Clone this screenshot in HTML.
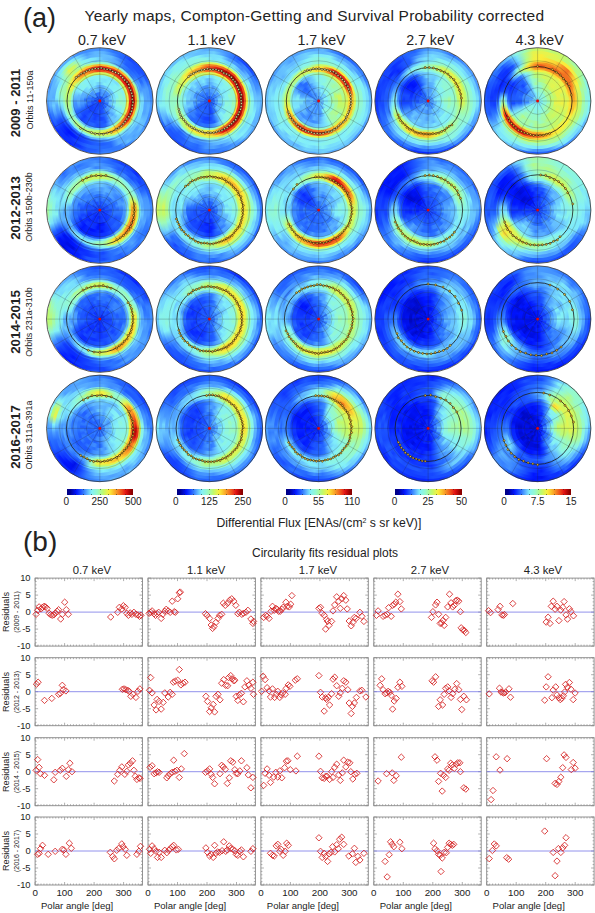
<!DOCTYPE html>
<html><head><meta charset="utf-8"><style>
html,body{margin:0;padding:0;background:#fff;}
body{width:595px;height:913px;position:relative;overflow:hidden;font-family:"Liberation Sans",sans-serif;color:#222;}
.dk i{position:absolute;border-radius:50%;display:block;}
.t{position:absolute;white-space:nowrap;line-height:1;}
svg{position:absolute;left:0;top:0;}
.grid circle,.grid line{fill:none;stroke:#222;stroke-opacity:.5;stroke-width:.45;}
.fit{fill:none;stroke:#1a1a1a;stroke-width:.8;}
.pts circle{stroke:#2a2000;stroke-width:.5;}
.ctr{fill:#e00;}
.edge{fill:none;stroke:#333;stroke-width:.8;}
.box{fill:none;stroke:#888;stroke-width:.9;}
.tk{fill:none;stroke:#8c8c8c;stroke-width:.7;}
.zl{stroke:#6e6ee6;stroke-width:.75;}
.dm{fill:none;stroke:#d42222;stroke-width:.85;}
.rot{position:absolute;transform-origin:0 0;transform:rotate(-90deg);white-space:nowrap;line-height:1;}
</style></head><body>
<div class="dk"><i style="left:46.50px;top:47.70px;width:106.60px;height:106.60px;background:conic-gradient(from 5deg,#4594ff,#2e76ff,#286dff,#1645ff,#194dff,#1a4fff,#1f59ff,#3b87ff,#3a86ff,#4b9dff,#3d8aff,#3e8cff,#4b9cff,#5ab0ff,#3b87ff,#327bff,#337dff,#3681ff,#276bff,#1d56ff,#1c52ff,#041eff,#0d32ff,#0a2bff,#1645ff,#2669ff,#4392ff,#59b0ff,#4391ff,#53a8ff,#5ab1ff,#55aaff,#5ab0ff,#4190ff,#3e8cff,#4391ff,#4594ff)"></i><i style="left:49.30px;top:50.50px;width:101.00px;height:101.00px;background:conic-gradient(from 5deg,#5cb3ff,#4291ff,#276bff,#2260ff,#1c53ff,#1d56ff,#3681ff,#4c9eff,#4c9dff,#5ab1ff,#58aeff,#65c0ff,#60b9ff,#4fa3ff,#63bdff,#347eff,#2e76ff,#2f78ff,#205cff,#1f59ff,#0d32ff,#0e33ff,#0c2eff,#0f35ff,#2362ff,#317aff,#5bb2ff,#5bb2ff,#5eb6ff,#61baff,#7ee9fb,#8bf4e5,#81eefa,#6ecffd,#4c9dff,#5fb8ff,#5cb3ff)"></i><i style="left:52.30px;top:53.50px;width:95.00px;height:95.00px;background:conic-gradient(from 5deg,#65bfff,#61baff,#4290ff,#215fff,#1f5aff,#276cff,#266aff,#4da0ff,#53a7ff,#53a8ff,#51a5ff,#6ac8fe,#54a8ff,#58aeff,#56acff,#56acff,#266aff,#266aff,#266aff,#2567ff,#194dff,#113aff,#041eff,#0d31ff,#1d54ff,#4ea1ff,#6dccfe,#56acff,#5eb6ff,#6dcdfd,#8af4e5,#b8fa7d,#a9fa9e,#7feafb,#58aeff,#5fb8ff,#65bfff)"></i><i style="left:55.30px;top:56.50px;width:89.00px;height:89.00px;background:conic-gradient(from 5deg,#65bfff,#5cb3ff,#51a5ff,#317aff,#2568ff,#2e77ff,#4797ff,#499aff,#75dafc,#73d7fd,#76dcfc,#73d8fc,#67c3fe,#67c4fe,#55aaff,#54a8ff,#276cff,#215eff,#215fff,#1a4eff,#123dff,#041eff,#0014ff,#0929ff,#1a50ff,#4291ff,#57adff,#80ecfa,#84f1f5,#80edfa,#97fac6,#e1f451,#c8f866,#87f3ec,#7fecfa,#7ae3fb,#65bfff)"></i><i style="left:58.30px;top:59.50px;width:83.00px;height:83.00px;background:conic-gradient(from 5deg,#79e1fc,#6ecefd,#4b9cff,#3883ff,#3a86ff,#3f8dff,#68c5fe,#67c3ff,#6fd0fd,#86f2ef,#7ee9fb,#70d3fd,#7be4fb,#69c7fe,#70d2fd,#6bcafe,#4da0ff,#357fff,#2566ff,#205cff,#1340ff,#1542ff,#0e32ff,#1849ff,#2260ff,#4493ff,#79e0fc,#8df6de,#9efab7,#92f8d2,#a0fab1,#cff760,#affa91,#8ef6dc,#7febfb,#6ecffd,#79e1fc)"></i><i style="left:60.80px;top:62.00px;width:78.00px;height:78.00px;background:conic-gradient(from 5deg,#98fac2,#98fac3,#92f8d3,#93f8d0,#96fac9,#93f8d0,#a8fa9f,#b7fa7e,#befa6e,#aefa93,#a5faa7,#9ffab4,#9afabf,#93f9cf,#92f8d3,#8ef6dc,#82f0fa,#62bcff,#63bdff,#5ab1ff,#2c73ff,#337cff,#337cff,#3580ff,#52a6ff,#6ccbfe,#7ce6fb,#94f9cc,#a2faac,#a1faaf,#acfa96,#b4fa84,#b5fa82,#b5fa81,#abfa99,#9dfab8,#98fac2)"></i><i style="left:62.80px;top:64.00px;width:74.00px;height:74.00px;background:conic-gradient(from 5deg,#fabd2e,#fac12f,#faa728,#fab02a,#fac32f,#f79525,#f58523,#f68b24,#f79225,#f68b24,#faac29,#fac12e,#f9a127,#fad534,#eaf349,#e8f34b,#b3fa86,#a3faac,#9bfabd,#8cf5e2,#86f2ef,#84f1f5,#7be4fb,#81eefa,#81effa,#8cf5e0,#90f7d7,#a9fa9e,#a4faa9,#b4fa84,#cdf862,#f6f13f,#faea3a,#facb31,#fac730,#faaf29,#fabd2e)"></i><i style="left:64.80px;top:66.00px;width:70.00px;height:70.00px;background:conic-gradient(from 5deg,#e81f16,#eb3919,#e82516,#ea3018,#e82416,#b90909,#d51010,#c40c0c,#b70808,#c20b0b,#e31313,#e71d15,#e92817,#f05b1e,#fab02a,#faaf29,#f7f13f,#cef761,#d5f65b,#befa6e,#b3fa86,#b5fa82,#adfa93,#95faca,#9bfabd,#a5faa7,#b2fa8a,#bafa78,#bffa6d,#e2f450,#f7f13f,#faaa28,#f57e23,#f1661f,#eb3a19,#ea3318,#e81f16)"></i><i style="left:66.80px;top:68.00px;width:66.00px;height:66.00px;background:conic-gradient(from 5deg,#da1111,#c70c0c,#cc0e0e,#e71a15,#d71010,#b20707,#c10b0b,#b80909,#c10b0b,#a60404,#b60808,#c60c0c,#e92717,#ee4b1c,#f68924,#fab22a,#faca31,#eef246,#ccf862,#d6f65a,#b7fa7e,#b5fa81,#b8fa7d,#a7faa2,#95f9cb,#a8faa0,#b6fa7f,#b6fa80,#c9f865,#ebf349,#fadf37,#fac530,#f37421,#f26a20,#ef551d,#e71a15,#da1111)"></i><i style="left:68.80px;top:70.00px;width:62.00px;height:62.00px;background:conic-gradient(from 5deg,#ef531d,#f05a1e,#f37021,#ed441b,#ec3c1a,#e82016,#ed451b,#eb3919,#ed421b,#e81f16,#ee4d1c,#f26720,#f26720,#f58223,#fab92c,#fae639,#d5f65b,#c8f866,#b5fa82,#aefa93,#94f9ce,#91f8d4,#94f9cc,#8df6de,#8af4e5,#a3faaa,#a8faa0,#b2fa89,#b3fa86,#e7f34c,#d8f658,#fac831,#faaa28,#f9a427,#f47b22,#ee491c,#ef531d)"></i><i style="left:70.80px;top:72.00px;width:58.00px;height:58.00px;background:conic-gradient(from 5deg,#d4f65c,#ccf862,#d5f65b,#c8f866,#c8f866,#d2f75d,#d8f659,#e6f34d,#eff245,#eef246,#f2f143,#d4f65c,#d0f75f,#b2fa88,#a3faab,#90f7d8,#85f2f2,#69c6fe,#79e2fb,#6ccbfe,#55a9ff,#59afff,#61bbff,#4392ff,#6dcefd,#77defc,#85f1f3,#8bf5e3,#8df5df,#97fac5,#a9fa9e,#c4f969,#c0fa6d,#d2f75d,#d7f659,#dff452,#d4f65c)"></i><i style="left:73.30px;top:74.50px;width:53.00px;height:53.00px;background:conic-gradient(from 5deg,#86f2ef,#85f1f4,#7be4fb,#7ae2fb,#77defc,#88f3ec,#86f2f0,#8af4e7,#8cf5e1,#95faca,#91f8d4,#88f3ea,#78dffc,#70d1fd,#66c2ff,#4fa2ff,#2566ff,#1f5aff,#1b50ff,#2465ff,#2260ff,#194dff,#1340ff,#2362ff,#2363ff,#3c89ff,#4391ff,#56abff,#68c4fe,#7be4fb,#81effa,#89f3e9,#83f0f8,#85f2f2,#83f0f8,#86f2ef,#86f2ef)"></i><i style="left:76.80px;top:78.00px;width:46.00px;height:46.00px;background:conic-gradient(from 5deg,#7be5fb,#7ae3fb,#81effa,#7eeafb,#85f1f3,#86f2f1,#8cf5e0,#90f7d8,#93f9cf,#95f9cb,#8af4e7,#7febfa,#82f0fa,#62bcff,#69c7fe,#4797ff,#1c54ff,#1e59ff,#1e57ff,#194dff,#1b50ff,#1b51ff,#113aff,#1a4fff,#2464ff,#4594ff,#55aaff,#5ab1ff,#61baff,#7febfb,#85f2f2,#88f3eb,#82f0f9,#7ce6fb,#7febfb,#83f1f7,#7be5fb)"></i><i style="left:80.30px;top:81.50px;width:39.00px;height:39.00px;background:conic-gradient(from 5deg,#72d5fd,#84f1f4,#7febfa,#81effa,#81effa,#84f1f6,#85f1f4,#82f0f9,#8ff6da,#8ef6dd,#86f2f1,#7ae3fb,#6ecefd,#52a6ff,#60b8ff,#3079ff,#1b50ff,#1543ff,#1b50ff,#133eff,#1b50ff,#1e58ff,#1748ff,#184bff,#2261ff,#3883ff,#499aff,#4898ff,#57adff,#59afff,#6dccfe,#76dcfc,#83f1f7,#78dffc,#80ecfa,#6fd0fd,#72d5fd)"></i><i style="left:83.80px;top:85.00px;width:32.00px;height:32.00px;background:conic-gradient(from 5deg,#59b0ff,#61baff,#6ecefd,#6ecffd,#6ecefd,#65bfff,#72d5fd,#77defc,#7ce6fb,#71d4fd,#7febfb,#5ab0ff,#66c2ff,#5fb8ff,#337dff,#2c74ff,#2465ff,#1f5aff,#1646ff,#1440ff,#133eff,#1e57ff,#133eff,#1b51ff,#1b50ff,#286eff,#4493ff,#286eff,#4ea0ff,#54a8ff,#6fd1fd,#6fd0fd,#60b8ff,#74d9fc,#68c5fe,#58aeff,#59b0ff)"></i><i style="left:87.30px;top:88.50px;width:25.00px;height:25.00px;background:conic-gradient(from 5deg,#3d8aff,#4fa2ff,#4ea0ff,#4899ff,#4291ff,#4c9eff,#51a4ff,#6ac8fe,#50a4ff,#6ac8fe,#66c1ff,#3e8bff,#50a3ff,#4392ff,#4392ff,#2261ff,#1b51ff,#1646ff,#1f59ff,#184bff,#1543ff,#1645ff,#1440ff,#123dff,#184aff,#2a70ff,#2465ff,#3984ff,#286eff,#3681ff,#4b9dff,#4493ff,#4b9cff,#60b9ff,#5eb6ff,#5bb2ff,#3d8aff)"></i><i style="left:90.80px;top:92.00px;width:18.00px;height:18.00px;background:conic-gradient(from 5deg,#3a86ff,#4594ff,#4696ff,#3782ff,#3d8aff,#276cff,#4393ff,#3d8bff,#4c9eff,#4798ff,#347eff,#2568ff,#3b87ff,#2261ff,#2568ff,#1e59ff,#184aff,#1b51ff,#1e58ff,#1340ff,#194dff,#1441ff,#184aff,#1747ff,#1747ff,#1a4fff,#1d56ff,#2a71ff,#2567ff,#2466ff,#4190ff,#4898ff,#337dff,#286eff,#2a70ff,#276cff,#3a86ff)"></i><i style="left:94.30px;top:95.50px;width:11.00px;height:11.00px;background:conic-gradient(from 5deg,#1d55ff,#194dff,#1c52ff,#1c53ff,#215dff,#2669ff,#2466ff,#205cff,#205dff,#2260ff,#1f59ff,#1d55ff,#1748ff,#1a4fff,#2465ff,#1543ff,#194cff,#194dff,#1d54ff,#133eff,#1440ff,#133fff,#1644ff,#1747ff,#205cff,#205bff,#215eff,#1441ff,#1544ff,#215eff,#2568ff,#1f5aff,#215eff,#184aff,#1e57ff,#266aff,#1d55ff)"></i><i style="left:156.10px;top:47.70px;width:106.60px;height:106.60px;background:conic-gradient(from 5deg,#5bb2ff,#4d9fff,#3985ff,#1b51ff,#1645ff,#1a4eff,#286eff,#4696ff,#60b8ff,#5ab0ff,#57acff,#5bb2ff,#50a3ff,#53a8ff,#3b88ff,#4b9cff,#286eff,#3985ff,#2c74ff,#215fff,#194dff,#1747ff,#1b50ff,#215fff,#266aff,#4a9bff,#71d4fd,#75dbfc,#70d1fd,#6bc9fe,#76dcfc,#64bfff,#6ac7fe,#65c0ff,#6ac8fe,#58aeff,#5bb2ff)"></i><i style="left:158.90px;top:50.50px;width:101.00px;height:101.00px;background:conic-gradient(from 5deg,#6fd0fd,#55aaff,#3782ff,#276cff,#3985ff,#3781ff,#3a86ff,#4493ff,#63bdff,#6ac8fe,#62bbff,#5cb3ff,#6ac8fe,#72d5fd,#55aaff,#3e8cff,#3984ff,#3079ff,#3883ff,#2464ff,#286dff,#2261ff,#1d55ff,#1e58ff,#52a6ff,#64beff,#85f2f2,#7be4fb,#7ae3fb,#86f2f1,#7de7fb,#88f3eb,#7febfa,#6dcdfd,#64beff,#63bdff,#6fd0fd)"></i><i style="left:161.90px;top:53.50px;width:95.00px;height:95.00px;background:conic-gradient(from 5deg,#79e1fc,#78e0fc,#4ea1ff,#4899ff,#3c88ff,#5eb6ff,#4ea1ff,#5cb3ff,#67c3ff,#72d5fd,#81effa,#81eefa,#7ce6fb,#83f0f8,#7ce7fb,#5ab0ff,#408eff,#4ea1ff,#4494ff,#2568ff,#2c74ff,#215eff,#1f5aff,#2567ff,#4391ff,#69c6fe,#85f2f2,#87f3ed,#8ff6da,#84f1f4,#8ff6da,#86f2f1,#86f2f0,#88f3eb,#84f1f5,#74d9fc,#79e1fc)"></i><i style="left:164.90px;top:56.50px;width:89.00px;height:89.00px;background:conic-gradient(from 5deg,#79e0fc,#7eeafb,#70d3fd,#77defc,#5cb3ff,#67c2ff,#80edfa,#71d4fd,#83f0f8,#88f3eb,#88f3ec,#7ae2fb,#79e2fb,#7ae3fb,#87f2ee,#68c5fe,#63bdff,#59afff,#418fff,#3681ff,#4392ff,#2b72ff,#2260ff,#3b88ff,#57adff,#80ecfa,#88f3ea,#93f9cf,#95faca,#92f8d2,#96fac9,#8af4e5,#8cf5e2,#8bf4e4,#8df5df,#8af4e6,#79e0fc)"></i><i style="left:167.90px;top:59.50px;width:83.00px;height:83.00px;background:conic-gradient(from 5deg,#8ef6dc,#8bf5e3,#8bf5e2,#8af4e7,#8ef6dc,#86f2f0,#91f8d4,#94f9cd,#9afac0,#99fac2,#95f9cb,#91f8d4,#91f7d5,#91f7d5,#92f8d1,#82f0fa,#6dcdfe,#6ccbfe,#56acff,#4798ff,#3b87ff,#4595ff,#3681ff,#5bb2ff,#78dffc,#8df6de,#8df5df,#8cf5e1,#8df6de,#93f9ce,#97fac6,#94f9cc,#91f8d3,#91f8d4,#92f8d3,#92f8d3,#8ef6dc)"></i><i style="left:170.40px;top:62.00px;width:78.00px;height:78.00px;background:conic-gradient(from 5deg,#ddf554,#e9f34a,#ebf349,#d7f659,#edf247,#ddf554,#ecf247,#edf247,#faec3b,#ecf248,#ecf247,#ebf248,#e6f34d,#f8f03e,#e3f44f,#c8f866,#a7faa2,#9bfabd,#90f7d8,#89f4e8,#8cf5e0,#88f3eb,#87f3ed,#71d4fd,#87f2ee,#92f8d2,#96fac8,#9afabe,#91f8d3,#9dfab9,#9bfabd,#a7faa2,#c7f866,#bafa76,#d2f75e,#cdf862,#ddf554)"></i><i style="left:172.40px;top:64.00px;width:74.00px;height:74.00px;background:conic-gradient(from 5deg,#f58223,#f47822,#f1641f,#ed481b,#ec401a,#f26720,#ee4d1c,#ed481b,#f05a1e,#ef521d,#f05d1e,#f05c1e,#f05c1e,#f05c1e,#f26c20,#f79325,#fadf37,#e1f451,#e3f44f,#c7f967,#bffa6e,#b6fa80,#b3fa86,#9cfabb,#93f9ce,#93f8d0,#95f9cb,#99fac0,#affa90,#b3fa88,#bbfa76,#e2f450,#eef246,#f1f143,#fad133,#f68a24,#f58223)"></i><i style="left:174.40px;top:66.00px;width:70.00px;height:70.00px;background:conic-gradient(from 5deg,#ed481b,#e21313,#c30b0b,#b90909,#a30303,#9c0202,#bb0909,#c30b0b,#a90505,#c30b0b,#cd0e0e,#a00303,#bb0909,#bd0a0a,#e61514,#e01313,#f37621,#facf32,#fae338,#fadf37,#faed3b,#faea3a,#c7f967,#bdfa71,#b0fa8d,#a9fa9e,#95f9cc,#99fac2,#b8fa7c,#e0f451,#cef761,#f7f13f,#fac12f,#faac29,#f79625,#f1601f,#ed481b)"></i><i style="left:176.40px;top:68.00px;width:66.00px;height:66.00px;background:conic-gradient(from 5deg,#e82216,#c80c0c,#b50808,#c40c0c,#990101,#b30707,#990101,#a80404,#9d0202,#be0a0a,#9f0202,#bb0909,#b60808,#b50808,#cc0d0d,#e92b17,#f47b22,#fac02e,#fac931,#fae238,#eef246,#ebf248,#dff553,#c8f866,#a8fa9f,#abfa98,#a5faa7,#94f9cc,#c2f96b,#c7f967,#e0f452,#faef3c,#fac630,#fac630,#f68824,#ed451b,#e82216)"></i><i style="left:178.40px;top:70.00px;width:62.00px;height:62.00px;background:conic-gradient(from 5deg,#f58023,#ef551d,#ec3b1a,#eb3619,#ee4a1c,#e92b17,#ea2f18,#eb3919,#e71d15,#e71c15,#ea2d18,#ec3d1a,#ea3218,#f0571e,#f26920,#f36f21,#fac530,#f2f143,#ebf349,#cff760,#d7f659,#bffa6d,#bdfa70,#abfa99,#a3faab,#93f9cf,#96fac9,#95faca,#b9fa79,#b6fa7f,#d5f65b,#f1f143,#fae83a,#fad935,#fac630,#f37421,#f58023)"></i><i style="left:180.40px;top:72.00px;width:58.00px;height:58.00px;background:conic-gradient(from 5deg,#d5f65b,#f2f143,#faea3a,#e9f34a,#faea3a,#fae138,#eef246,#faea3a,#fad334,#faed3b,#fad033,#f9f03d,#fadf37,#e9f34a,#e7f34c,#def554,#9dfab7,#8bf5e2,#8cf5e1,#88f3ec,#83f0f8,#84f1f5,#7be5fb,#86f2ef,#88f3eb,#8ff6da,#87f3ec,#90f7d7,#8cf5e0,#97fac6,#9dfab8,#a0fab2,#b9fa7a,#b2fa89,#c1f96b,#ddf554,#d5f65b)"></i><i style="left:182.90px;top:74.50px;width:53.00px;height:53.00px;background:conic-gradient(from 5deg,#79e1fb,#8cf5e2,#8af4e6,#89f4e8,#8ff6da,#8af4e7,#96fac7,#95f9cb,#95f9cb,#9ffab4,#94f9cd,#8df6dd,#92f8d3,#88f3ec,#8cf5e1,#6bc9fe,#4d9fff,#3a86ff,#286dff,#2d75ff,#276cff,#2567ff,#2568ff,#2e76ff,#58aeff,#6bcafe,#7ce6fb,#85f2f2,#74d9fc,#79e1fc,#84f1f6,#75dafc,#75dafc,#7eeafb,#77defc,#80ecfa,#79e1fb)"></i><i style="left:186.40px;top:78.00px;width:46.00px;height:46.00px;background:conic-gradient(from 5deg,#67c4fe,#78dffc,#81effa,#7ee9fb,#87f2ee,#86f2ef,#86f2f1,#94f9cd,#8ef6dc,#8df5df,#8af4e7,#8cf5e0,#8cf5e1,#89f4e8,#7be4fb,#50a3ff,#205dff,#1d55ff,#1a4fff,#1a4fff,#2363ff,#2465ff,#357fff,#3681ff,#3c88ff,#6dcdfe,#60b9ff,#71d4fd,#6ecefd,#69c6fe,#63bdff,#79e1fc,#61baff,#71d4fd,#7de7fb,#64beff,#67c4fe)"></i><i style="left:189.90px;top:81.50px;width:39.00px;height:39.00px;background:conic-gradient(from 5deg,#5ab1ff,#6ecffd,#74d9fc,#80edfa,#85f1f3,#78e0fc,#83f0f8,#87f2ef,#86f2f0,#90f7d6,#8df5e0,#88f3eb,#73d7fc,#85f1f3,#7ae2fb,#4da0ff,#2b72ff,#194cff,#1441ff,#1543ff,#1c52ff,#1d55ff,#2363ff,#337cff,#4594ff,#61b9ff,#69c6fe,#5cb3ff,#66c1ff,#62bbff,#6dcdfe,#65c0ff,#5bb3ff,#68c5fe,#72d6fd,#5ab0ff,#5ab1ff)"></i><i style="left:193.40px;top:85.00px;width:32.00px;height:32.00px;background:conic-gradient(from 5deg,#62bcff,#4898ff,#5ab1ff,#61baff,#73d7fc,#7ce6fb,#7ce6fb,#77ddfc,#86f2ef,#7ce5fb,#74d9fc,#81eefa,#72d6fd,#72d5fd,#67c3ff,#54a8ff,#2364ff,#1f5bff,#1c53ff,#215eff,#1e58ff,#2669ff,#2567ff,#2364ff,#296fff,#4a9cff,#4290ff,#63bcff,#4696ff,#4190ff,#4494ff,#63bdff,#4da0ff,#4696ff,#4290ff,#4291ff,#62bcff)"></i><i style="left:196.90px;top:88.50px;width:25.00px;height:25.00px;background:conic-gradient(from 5deg,#4a9bff,#4c9eff,#55aaff,#5db4ff,#4696ff,#5cb3ff,#5ab0ff,#6fd0fd,#72d6fd,#74d9fc,#55aaff,#6bc9fe,#67c4fe,#66c2ff,#3e8cff,#2a71ff,#1c54ff,#1440ff,#205bff,#215eff,#215eff,#266aff,#2465ff,#215eff,#2362ff,#296fff,#4b9cff,#3782ff,#3b88ff,#3f8dff,#3079ff,#3985ff,#3a86ff,#4a9cff,#3d8aff,#3b88ff,#4a9bff)"></i><i style="left:200.40px;top:92.00px;width:18.00px;height:18.00px;background:conic-gradient(from 5deg,#4392ff,#357fff,#4696ff,#4290ff,#2d75ff,#3d8aff,#4291ff,#53a7ff,#4696ff,#54a8ff,#4a9cff,#3a86ff,#4ea0ff,#2f78ff,#4494ff,#2363ff,#194cff,#1748ff,#1f5aff,#2464ff,#1747ff,#205cff,#205dff,#266bff,#205dff,#2a71ff,#2b71ff,#3e8bff,#286eff,#4290ff,#296fff,#276dff,#3984ff,#317aff,#2669ff,#3681ff,#4392ff)"></i><i style="left:203.90px;top:95.50px;width:11.00px;height:11.00px;background:conic-gradient(from 5deg,#1c54ff,#286dff,#276cff,#2a71ff,#276bff,#2362ff,#2465ff,#2567ff,#347eff,#215dff,#337cff,#1e58ff,#215dff,#215fff,#2d75ff,#215fff,#1d54ff,#2362ff,#184bff,#1c54ff,#1e58ff,#2261ff,#2261ff,#215fff,#1e57ff,#1f5aff,#1d56ff,#286eff,#2568ff,#266bff,#1e57ff,#2260ff,#276cff,#2465ff,#1d55ff,#2261ff,#1c54ff)"></i><i style="left:265.30px;top:47.70px;width:106.60px;height:106.60px;background:conic-gradient(from 5deg,#60b9ff,#3d8aff,#2b72ff,#2567ff,#2a70ff,#3782ff,#327cff,#4b9cff,#5eb6ff,#62bbff,#64beff,#4ea1ff,#4ea0ff,#4695ff,#65c0ff,#62bcff,#52a5ff,#73d6fd,#56abff,#5cb3ff,#6ac8fe,#5fb7ff,#5ab1ff,#53a7ff,#54a8ff,#6dcefd,#63bdff,#66c2ff,#65c0ff,#4c9dff,#4ea1ff,#58afff,#55abff,#50a3ff,#57adff,#52a6ff,#60b9ff)"></i><i style="left:268.10px;top:50.50px;width:101.00px;height:101.00px;background:conic-gradient(from 5deg,#5fb7ff,#66c2ff,#51a5ff,#52a5ff,#53a7ff,#4899ff,#60b8ff,#76ddfc,#77defc,#72d6fd,#7ce6fb,#79e2fb,#70d1fd,#6bc9fe,#71d3fd,#6fd0fd,#72d5fd,#6fd0fd,#6ac9fe,#71d4fd,#5cb3ff,#64beff,#6dcdfd,#6dcefd,#71d3fd,#6ccbfe,#75dafc,#76dbfc,#74d9fc,#63bdff,#62bcff,#67c3ff,#4ea1ff,#66c1ff,#6fd1fd,#67c4fe,#5fb7ff)"></i><i style="left:271.10px;top:53.50px;width:95.00px;height:95.00px;background:conic-gradient(from 5deg,#80ecfa,#85f1f4,#63bcff,#6ac9fe,#5ab0ff,#73d7fc,#83f0f8,#83f1f7,#82effa,#88f3eb,#85f2f2,#84f1f6,#79e0fc,#79e2fb,#80ecfa,#79e0fc,#77defc,#85f1f3,#73d7fd,#80ecfa,#75dafc,#7ee9fb,#6ac8fe,#83f1f7,#75dbfc,#70d2fd,#79e1fc,#7ce6fb,#6ac8fe,#6ccbfe,#63bdff,#68c5fe,#61b9ff,#68c4fe,#71d3fd,#84f1f5,#80ecfa)"></i><i style="left:274.10px;top:56.50px;width:89.00px;height:89.00px;background:conic-gradient(from 5deg,#90f7d8,#89f3ea,#82effa,#87f2ee,#7eeafb,#7de8fb,#83f0f8,#90f7d8,#93f8d0,#91f7d5,#8cf5e1,#89f4e8,#81eefa,#89f4e8,#81effa,#85f2f1,#88f3eb,#88f3eb,#84f1f6,#81eefa,#84f1f4,#7ae3fb,#88f3ec,#82effa,#88f3ea,#81eefa,#83f1f7,#80edfa,#7feafb,#6dcdfd,#5eb5ff,#71d4fd,#69c6fe,#75dafc,#83f1f7,#89f4e7,#90f7d8)"></i><i style="left:277.10px;top:59.50px;width:83.00px;height:83.00px;background:conic-gradient(from 5deg,#8cf5e1,#8df6dd,#8cf5e1,#87f3ed,#8ef6dd,#8ef6dc,#88f3ec,#96fac9,#9dfab8,#9afac0,#8df5df,#91f8d4,#8bf5e3,#82f0fa,#81eefa,#8cf5e1,#87f3ed,#80edfa,#7be5fb,#7de7fb,#7fecfa,#88f3ec,#82f0f9,#7de8fb,#8af4e7,#89f3e9,#80edfa,#8af4e7,#83f1f7,#7febfb,#72d5fd,#75dafc,#77defc,#85f1f4,#84f1f6,#8ff6da,#8cf5e1)"></i><i style="left:279.60px;top:62.00px;width:78.00px;height:78.00px;background:conic-gradient(from 5deg,#92f8d1,#98fac4,#95f9cb,#9ffab3,#96fac8,#94f9ce,#96fac7,#98fac4,#a3faab,#96fac8,#9cfabb,#91f7d5,#92f8d3,#91f7d5,#91f8d4,#93f8d0,#87f3ed,#91f8d4,#8df5e0,#8ef6dd,#8ff6da,#91f7d5,#8af4e7,#89f3e9,#90f7d7,#84f1f4,#8bf4e5,#8af4e6,#7ae3fb,#7feafb,#77ddfc,#7be5fb,#71d3fd,#89f4e8,#8cf5e2,#91f7d5,#92f8d1)"></i><i style="left:281.60px;top:64.00px;width:74.00px;height:74.00px;background:conic-gradient(from 5deg,#d2f75d,#d1f75e,#fae439,#fae238,#faee3b,#fad434,#fae83a,#eff246,#d9f557,#ddf554,#c7f967,#c8f866,#c4f969,#cdf862,#daf557,#c7f967,#e6f34d,#e8f34b,#eef246,#e6f34d,#eef246,#faf03c,#dbf555,#cdf862,#bafa77,#aafa9b,#9afac0,#9efab6,#95fac9,#92f8d3,#86f2f1,#90f7d8,#96fac9,#97fac5,#9ffab4,#b8fa7b,#d2f75d)"></i><i style="left:283.60px;top:66.00px;width:70.00px;height:70.00px;background:conic-gradient(from 5deg,#fae539,#f89826,#e92c17,#ea2f18,#e92c17,#e82516,#e92a17,#f58123,#fac530,#facf32,#facd32,#fad234,#facd32,#fad133,#faad29,#faad29,#f26e20,#f0581e,#ee4b1c,#ef521d,#ea2e18,#ea3018,#f37421,#fab52b,#fab02a,#fae439,#d5f65b,#c2f96a,#b7fa7e,#aefa92,#aafa9c,#b8fa7c,#cbf863,#ddf554,#dcf555,#fadc36,#fae539)"></i><i style="left:285.60px;top:68.00px;width:66.00px;height:66.00px;background:conic-gradient(from 5deg,#facd32,#f47d22,#da1111,#d91111,#c80c0c,#df1212,#ea3018,#f37121,#fab52b,#fab12a,#faaf2a,#fac630,#fac530,#fac02e,#f79525,#f89c26,#f1651f,#ea2d18,#e82316,#d30f0f,#e71d15,#cf0e0e,#f26820,#f57f23,#fab22a,#faef3c,#e7f34c,#cef761,#d0f75f,#b1fa8b,#adfa94,#d1f75e,#ddf554,#e9f34a,#fae639,#fadd36,#facd32)"></i><i style="left:287.60px;top:70.00px;width:62.00px;height:62.00px;background:conic-gradient(from 5deg,#fae338,#f9a127,#f26c20,#ee491c,#f26820,#ed451b,#f05a1e,#fab42b,#faee3b,#fadc36,#fad635,#f3f142,#faf03c,#facf33,#fadb36,#fab92c,#f9a227,#f68b24,#f47722,#f26d20,#f37321,#f37021,#fab62b,#fac630,#fae539,#ebf349,#c9f865,#bbfa75,#aefa92,#acfa97,#aefa93,#b2fa8a,#b7fa7e,#b8fa7c,#cbf863,#fae238,#fae338)"></i><i style="left:289.60px;top:72.00px;width:58.00px;height:58.00px;background:conic-gradient(from 5deg,#a8fa9f,#befa6e,#c6f967,#d9f557,#e9f34a,#e7f34c,#e4f44e,#d3f75d,#cdf862,#daf557,#c3f96a,#c5f968,#bcfa72,#c7f967,#c0fa6c,#a3faab,#95f9cc,#98fac3,#9dfab9,#a1faae,#a8fa9f,#a9fa9e,#8ff7d9,#96fac9,#97fac6,#96fac9,#8ff7d9,#8af4e5,#8cf5e0,#84f1f4,#78dffc,#7de8fb,#76dcfc,#80edfa,#92f8d3,#a6faa5,#a8fa9f)"></i><i style="left:292.10px;top:74.50px;width:53.00px;height:53.00px;background:conic-gradient(from 5deg,#85f1f3,#90f7d8,#9bfabd,#95f9cb,#a2faac,#a8faa0,#aafa9b,#acfa97,#b3fa87,#c2f96b,#bcfa72,#a9fa9d,#96fac8,#a7faa1,#9cfaba,#86f2ef,#78dffc,#6dcdfd,#6ac8fe,#5eb6ff,#5cb4ff,#60b9ff,#51a5ff,#56abff,#61baff,#7ce6fb,#79e1fc,#7ee9fb,#6bcafe,#57acff,#327bff,#276bff,#55a9ff,#5bb2ff,#70d2fd,#89f3ea,#85f1f3)"></i><i style="left:295.60px;top:78.00px;width:46.00px;height:46.00px;background:conic-gradient(from 5deg,#8af4e5,#88f3ec,#95f9cb,#9cfaba,#a7faa1,#9cfaba,#a5faa6,#ccf862,#cff75f,#c3f96a,#befa6e,#acfa97,#b2fa89,#a5faa7,#a7faa2,#8df6de,#78e0fc,#64beff,#4594ff,#3d8aff,#4392ff,#4291ff,#3e8cff,#4392ff,#64bfff,#7be5fb,#78dffc,#83f1f7,#75dafc,#3c89ff,#3681ff,#276bff,#286dff,#66c2ff,#6fd0fd,#86f2f0,#8af4e5)"></i><i style="left:299.10px;top:81.50px;width:39.00px;height:39.00px;background:conic-gradient(from 5deg,#85f2f2,#8ef6dc,#92f8d2,#95faca,#9cfabb,#96fac7,#b5fa82,#befa6e,#aefa92,#a9fa9e,#a9fa9d,#a3faaa,#acfa97,#a9fa9e,#9bfabd,#80edfa,#72d6fd,#56abff,#4fa2ff,#5cb3ff,#3985ff,#3c89ff,#53a8ff,#60b8ff,#64beff,#65c0ff,#76dcfc,#7ae3fb,#56abff,#4392ff,#296fff,#2261ff,#337dff,#4595ff,#68c5fe,#77defc,#85f2f2)"></i><i style="left:302.60px;top:85.00px;width:32.00px;height:32.00px;background:conic-gradient(from 5deg,#80edfa,#76dcfc,#8cf5e2,#8af4e5,#8bf4e5,#98fac4,#91f7d6,#a5faa7,#a7faa1,#a8faa0,#93f8d1,#93f9cf,#8cf5e0,#96fac9,#90f7d6,#83f1f7,#63bcff,#4797ff,#56abff,#499aff,#4fa1ff,#3c89ff,#3f8dff,#3e8bff,#61baff,#67c3fe,#61baff,#76ddfc,#56acff,#4696ff,#2a70ff,#276dff,#4595ff,#4a9bff,#5fb7ff,#78dffc,#80edfa)"></i><i style="left:306.10px;top:88.50px;width:25.00px;height:25.00px;background:conic-gradient(from 5deg,#6bc9fe,#83f0f9,#77ddfc,#8cf5e1,#82f0fa,#8df6de,#8df5e0,#89f4e8,#8ef6dc,#8bf5e2,#8af4e7,#87f2ee,#87f2ee,#8ef6dd,#8bf4e4,#82effa,#4fa2ff,#4494ff,#59afff,#3985ff,#52a6ff,#4291ff,#5cb3ff,#3b87ff,#61baff,#59afff,#58adff,#52a6ff,#66c1ff,#4b9cff,#2f78ff,#337dff,#4c9eff,#4493ff,#65c0ff,#63bcff,#6bc9fe)"></i><i style="left:309.60px;top:92.00px;width:18.00px;height:18.00px;background:conic-gradient(from 5deg,#5ab0ff,#72d6fd,#78dffc,#6fd0fd,#6ecefd,#6fd1fd,#82f0fa,#82f0f9,#7eeafb,#7ce6fb,#84f1f6,#83f1f7,#83f1f7,#7de8fb,#6cccfe,#59b0ff,#60b9ff,#4899ff,#52a6ff,#3985ff,#55abff,#4493ff,#57acff,#5ab0ff,#51a5ff,#4696ff,#6ac8fe,#5bb2ff,#63bcff,#418fff,#347eff,#4999ff,#3c89ff,#408fff,#56abff,#67c2ff,#5ab0ff)"></i><i style="left:313.10px;top:95.50px;width:11.00px;height:11.00px;background:conic-gradient(from 5deg,#4290ff,#57adff,#58aeff,#5eb6ff,#50a4ff,#66c2ff,#6bc9fe,#6ecefd,#5db4ff,#6ac8fe,#5eb6ff,#69c6fe,#4fa1ff,#6bc9fe,#6bcafe,#56abff,#4fa3ff,#4c9dff,#4b9dff,#3883ff,#5bb2ff,#3f8dff,#3e8bff,#3c88ff,#4392ff,#5bb2ff,#3f8dff,#4190ff,#55aaff,#3e8cff,#347eff,#4899ff,#499aff,#4c9eff,#58aeff,#4594ff,#4290ff)"></i><i style="left:374.80px;top:47.70px;width:106.60px;height:106.60px;background:conic-gradient(from 5deg,#50a4ff,#4b9dff,#337dff,#3783ff,#4696ff,#499aff,#4898ff,#4a9bff,#5ab0ff,#4ea1ff,#50a3ff,#4290ff,#1f5aff,#2261ff,#2261ff,#123dff,#1542ff,#113bff,#0928ff,#0f36ff,#1f59ff,#2260ff,#2363ff,#2b72ff,#215fff,#1542ff,#0f36ff,#1038ff,#113aff,#194cff,#1644ff,#1748ff,#194dff,#2465ff,#2364ff,#408fff,#50a4ff)"></i><i style="left:377.60px;top:50.50px;width:101.00px;height:101.00px;background:conic-gradient(from 5deg,#67c3ff,#69c6fe,#55a9ff,#5fb8ff,#68c4fe,#62bbff,#6ecefd,#68c4fe,#77defc,#79e1fc,#5eb6ff,#4ea1ff,#5bb2ff,#4d9fff,#4da0ff,#347eff,#2b72ff,#266aff,#266aff,#1d54ff,#3079ff,#2e76ff,#4291ff,#2c73ff,#266aff,#2364ff,#194dff,#123eff,#1544ff,#123cff,#1849ff,#0d30ff,#123cff,#2465ff,#2e75ff,#56acff,#67c3ff)"></i><i style="left:380.60px;top:53.50px;width:95.00px;height:95.00px;background:conic-gradient(from 5deg,#77defc,#6ecffd,#6dcefd,#79e1fb,#7de8fb,#75dafc,#7ce5fb,#83f1f7,#87f3ed,#89f3e9,#83f1f7,#76dcfc,#65c0ff,#6ecffd,#74d8fc,#64bfff,#57acff,#52a6ff,#408eff,#56acff,#51a5ff,#58aeff,#5cb4ff,#4da0ff,#3078ff,#1f5aff,#1749ff,#1b50ff,#1645ff,#1544ff,#0928ff,#0d31ff,#1b50ff,#215dff,#4d9fff,#66c1ff,#77defc)"></i><i style="left:383.60px;top:56.50px;width:89.00px;height:89.00px;background:conic-gradient(from 5deg,#74d9fc,#87f3ec,#83f0f8,#8cf5e1,#86f2f1,#86f2f0,#94f9ce,#92f8d1,#90f7d7,#94f9cd,#92f8d3,#91f7d5,#85f1f3,#85f1f3,#8df6de,#88f3ec,#77defc,#78e0fc,#78dffc,#7febfa,#7ae2fb,#7ee9fb,#7be5fb,#69c6fe,#55aaff,#347eff,#2466ff,#1e58ff,#1f5aff,#184bff,#1747ff,#0927ff,#1b51ff,#205cff,#64bdff,#79e0fc,#74d9fc)"></i><i style="left:386.60px;top:59.50px;width:83.00px;height:83.00px;background:conic-gradient(from 5deg,#83f0f8,#8cf5e1,#8cf5e0,#8ef6db,#95f9cb,#9afabe,#9afabe,#9bfabc,#a2faad,#a1faae,#a0fab0,#90f7d7,#8ef6dd,#8ff6da,#8cf5e0,#8af4e6,#8ff7d9,#91f7d5,#8cf5e1,#89f4e7,#84f1f6,#83f1f7,#7be5fb,#7de8fb,#66c1ff,#2e75ff,#327bff,#215dff,#2464ff,#1c54ff,#194dff,#0d31ff,#194bff,#3f8dff,#51a4ff,#71d4fd,#83f0f8)"></i><i style="left:389.10px;top:62.00px;width:78.00px;height:78.00px;background:conic-gradient(from 5deg,#8df5df,#93f8d0,#adfa95,#b1fa8c,#b2fa89,#c8f866,#bdfa70,#bcfa72,#bffa6e,#b3fa86,#a2faac,#97fac5,#91f7d5,#9ffab3,#9cfaba,#9afac0,#a2faad,#c0fa6d,#c3f96a,#c0fa6d,#b7fa7d,#bbfa74,#b1fa8b,#94f9cc,#8cf5e1,#78e0fc,#60b9ff,#3e8cff,#3179ff,#266aff,#194dff,#215eff,#4899ff,#5fb8ff,#79e2fb,#85f1f4,#8df5df)"></i><i style="left:391.10px;top:64.00px;width:74.00px;height:74.00px;background:conic-gradient(from 5deg,#a3faaa,#b4fa84,#d2f75d,#dff452,#e9f34a,#e7f34c,#dff452,#d8f658,#d4f65c,#cef761,#abfa98,#95faca,#9efab6,#a8faa1,#abfa99,#c6f967,#edf247,#fad935,#fac12f,#fac22f,#fae93a,#fae038,#d5f65b,#c5f969,#c7f866,#93f9cf,#7ee9fb,#65bfff,#52a6ff,#3680ff,#2970ff,#54a8ff,#6cccfe,#83f1f6,#8af4e7,#93f8d0,#a3faaa)"></i><i style="left:393.10px;top:66.00px;width:70.00px;height:70.00px;background:conic-gradient(from 5deg,#95fac9,#aefa91,#ddf554,#cef761,#dcf555,#edf247,#f9f03d,#f4f141,#dff553,#def553,#acfa97,#94f9cd,#a5faa5,#a5faa6,#bdfa71,#bcfa73,#eff245,#faae29,#faad29,#f89c26,#fabe2e,#fad133,#f8f03d,#d9f557,#c1fa6c,#a7faa2,#84f1f5,#84f1f6,#5ab1ff,#418fff,#337cff,#4b9dff,#83f1f7,#86f2f1,#8af4e7,#a3faaa,#95fac9)"></i><i style="left:395.10px;top:68.00px;width:66.00px;height:66.00px;background:conic-gradient(from 5deg,#a1fab0,#a9fa9d,#cbf863,#def553,#dcf555,#f9f03d,#e2f450,#dcf555,#dbf556,#c4f969,#affa90,#a7faa1,#99fac1,#acfa96,#a7faa1,#adfa94,#e3f450,#fad434,#faaa28,#fad935,#fade37,#f2f143,#e6f34c,#c7f967,#b9fa79,#8df5df,#6dcdfd,#77defc,#4c9eff,#2a70ff,#276cff,#4695ff,#63bcff,#68c5fe,#8bf4e4,#92f8d3,#a1fab0)"></i><i style="left:397.10px;top:70.00px;width:62.00px;height:62.00px;background:conic-gradient(from 5deg,#85f2f1,#94f9ce,#95f9cb,#a2faae,#bafa76,#aefa93,#bbfa74,#c7f967,#c3f96a,#acfa96,#a1faaf,#98fac4,#8ff7d9,#9afabe,#90f7d6,#a0fab2,#a7faa3,#b4fa85,#bcfa71,#acfa96,#b6fa81,#a5faa7,#abfa99,#94f9cd,#8af4e7,#69c7fe,#4ea0ff,#3580ff,#3984ff,#194dff,#1c54ff,#2260ff,#286eff,#57adff,#70d2fd,#89f3e9,#85f2f1)"></i><i style="left:399.10px;top:72.00px;width:58.00px;height:58.00px;background:conic-gradient(from 5deg,#77ddfc,#7be5fb,#88f3ec,#89f4e7,#8df6de,#9afac0,#94f9cc,#a3faaa,#98fac3,#a4faa9,#94f9cc,#8ff6da,#87f2ee,#82f0f9,#85f1f3,#80edfa,#7ae3fb,#86f2f0,#7eeafb,#80ecfa,#86f2f0,#83f1f7,#83f1f7,#7ae2fb,#4798ff,#286eff,#1a4dff,#215fff,#1c52ff,#0f36ff,#0b2cff,#0e33ff,#1646ff,#205dff,#5eb5ff,#6bc9fe,#77ddfc)"></i><i style="left:401.60px;top:74.50px;width:53.00px;height:53.00px;background:conic-gradient(from 5deg,#6dcdfd,#6bcafe,#7ce5fb,#90f7d7,#90f7d6,#91f8d3,#8df5df,#91f7d5,#95faca,#95faca,#92f8d3,#8bf5e3,#7ee9fb,#80edfa,#84f1f5,#71d3fd,#7be5fb,#6dcefd,#71d3fd,#62bbff,#66c2ff,#6cccfe,#61bbff,#499aff,#4b9cff,#286dff,#1748ff,#113bff,#194dff,#0f35ff,#0014fe,#0015ff,#0621ff,#2262ff,#3883ff,#70d3fd,#6dcdfd)"></i><i style="left:405.10px;top:78.00px;width:46.00px;height:46.00px;background:conic-gradient(from 5deg,#6ccbfe,#65bfff,#86f2f1,#89f4e8,#90f7d6,#93f8d0,#90f7d8,#91f8d3,#aafa9a,#9bfabd,#9dfab8,#8ef6dc,#87f3ed,#86f2f1,#81effa,#73d7fc,#5cb3ff,#6ac8fe,#61b9ff,#63bdff,#70d1fd,#54a9ff,#6ac8fe,#4595ff,#418fff,#266aff,#1544ff,#1849ff,#194dff,#0d32ff,#0520ff,#0013f9,#031aff,#1a4dff,#3985ff,#53a7ff,#6ccbfe)"></i><i style="left:408.60px;top:81.50px;width:39.00px;height:39.00px;background:conic-gradient(from 5deg,#57adff,#5fb7ff,#82f0f9,#89f3ea,#86f2f1,#87f3ed,#8ef6dc,#91f7d5,#9dfab7,#92f8d3,#8cf5e1,#8cf5e1,#74d8fc,#7ae3fb,#70d2fd,#77ddfc,#66c1ff,#66c2ff,#50a3ff,#62bcff,#60b8ff,#5bb1ff,#66c1ff,#5eb6ff,#2a70ff,#1f5bff,#194cff,#1543ff,#0e34ff,#0b2dff,#041eff,#0a2aff,#0c30ff,#1749ff,#347eff,#57acff,#57adff)"></i><i style="left:412.10px;top:85.00px;width:32.00px;height:32.00px;background:conic-gradient(from 5deg,#52a6ff,#56acff,#65bfff,#6fd1fd,#89f3e9,#87f2ee,#7fecfa,#8cf5e1,#91f8d4,#8cf5e2,#82f0fa,#7febfa,#71d3fd,#64bfff,#6dccfe,#53a7ff,#6ac9fe,#5cb3ff,#5ab1ff,#65c0ff,#5bb2ff,#4c9eff,#4c9eff,#408eff,#286dff,#2c73ff,#2466ff,#1b50ff,#1544ff,#1748ff,#1645ff,#1544ff,#0f35ff,#2568ff,#4798ff,#5bb2ff,#52a6ff)"></i><i style="left:415.60px;top:88.50px;width:25.00px;height:25.00px;background:conic-gradient(from 5deg,#4a9bff,#4da0ff,#70d2fd,#6ac8fe,#6fd1fd,#77ddfc,#76dcfc,#85f2f2,#7be5fb,#75dafc,#7de8fb,#74d9fc,#71d3fd,#69c7fe,#6ecefd,#6ac8fe,#54a8ff,#4fa3ff,#4291ff,#4798ff,#52a6ff,#3f8dff,#56abff,#3c89ff,#3782ff,#3985ff,#1d55ff,#1b51ff,#1f59ff,#1748ff,#1c52ff,#0f36ff,#205cff,#2d75ff,#4695ff,#4a9bff,#4a9bff)"></i><i style="left:419.10px;top:92.00px;width:18.00px;height:18.00px;background:conic-gradient(from 5deg,#418fff,#55aaff,#59afff,#5db5ff,#5db5ff,#63bcff,#6dcdfd,#76dbfc,#7ae3fb,#64beff,#63bcff,#5fb7ff,#5bb3ff,#50a4ff,#499aff,#418fff,#4595ff,#4798ff,#5ab1ff,#58aeff,#56abff,#5ab1ff,#5ab0ff,#499aff,#4595ff,#2464ff,#2d74ff,#296fff,#2260ff,#2363ff,#276bff,#1f59ff,#2465ff,#2567ff,#357fff,#55aaff,#418fff)"></i><i style="left:422.60px;top:95.50px;width:11.00px;height:11.00px;background:conic-gradient(from 5deg,#2f77ff,#3782ff,#4d9fff,#4797ff,#3b87ff,#51a4ff,#4898ff,#51a5ff,#4c9eff,#50a4ff,#4fa2ff,#4595ff,#3883ff,#3985ff,#53a7ff,#4594ff,#337cff,#4ea0ff,#3782ff,#317aff,#418fff,#3781ff,#408dff,#408eff,#3079ff,#3984ff,#276bff,#337cff,#347eff,#2465ff,#296fff,#2362ff,#2b73ff,#4190ff,#3d8aff,#4798ff,#2f77ff)"></i><i style="left:484.30px;top:47.70px;width:106.60px;height:106.60px;background:conic-gradient(from 5deg,#d6f65a,#bafa77,#ccf863,#bafa78,#a5faa7,#b1fa8b,#93f9cf,#86f2ef,#89f4e7,#83f1f7,#82f0fa,#60b9ff,#68c5fe,#4899ff,#4898ff,#3b87ff,#2260ff,#2568ff,#205cff,#2b72ff,#59afff,#68c5fe,#7feafb,#6bcafe,#53a8ff,#2466ff,#1f5aff,#1d56ff,#1749ff,#296fff,#2f77ff,#4b9dff,#62bcff,#8bf4e4,#9cfabb,#c5f968,#d6f65a)"></i><i style="left:487.10px;top:50.50px;width:101.00px;height:101.00px;background:conic-gradient(from 5deg,#e7f34c,#e7f34c,#d6f65a,#b9fa79,#c9f865,#b1fa8b,#aafa9a,#9dfab9,#8bf4e5,#93f9ce,#8df5df,#82f0f9,#76dcfc,#79e1fb,#81eefa,#6fd0fd,#52a5ff,#4594ff,#4899ff,#6ccbfe,#68c4fe,#7fecfa,#7de7fb,#7ce5fb,#4da0ff,#215dff,#1f5aff,#1849ff,#1c52ff,#215eff,#286eff,#1e58ff,#3e8bff,#7ce6fb,#acfa96,#e6f34d,#e7f34c)"></i><i style="left:490.10px;top:53.50px;width:95.00px;height:95.00px;background:conic-gradient(from 5deg,#faee3b,#ddf554,#dff452,#faec3b,#fae83a,#e7f34c,#c8f865,#a6faa5,#adfa95,#9dfab8,#a4faa9,#94f9cd,#89f3e9,#8af4e5,#88f3eb,#8ef6dc,#88f3ec,#7be4fb,#7eeafb,#84f1f5,#87f2ee,#8af4e7,#88f3ec,#80edfa,#4c9eff,#2c73ff,#1748ff,#0f35ff,#1440ff,#1b51ff,#0f36ff,#1441ff,#327bff,#78dffc,#acfa97,#eaf349,#faee3b)"></i><i style="left:493.10px;top:56.50px;width:89.00px;height:89.00px;background:conic-gradient(from 5deg,#faed3b,#fae338,#fad835,#f89626,#f37321,#fac32f,#f7f13f,#d8f658,#ccf862,#c6f968,#bafa77,#b0fa8e,#9ffab3,#9afac0,#a8faa0,#a9fa9e,#a9fa9d,#a1fab0,#96fac9,#9efab5,#98fac4,#91f8d3,#92f8d2,#88f3ec,#6cccfe,#2d74ff,#1440ff,#133eff,#0d32ff,#1543ff,#0d32ff,#0d32ff,#1c53ff,#6fd1fd,#b4fa84,#eff245,#faed3b)"></i><i style="left:496.10px;top:59.50px;width:83.00px;height:83.00px;background:conic-gradient(from 5deg,#fae83a,#fac32f,#fac430,#f79325,#f26c20,#f89b26,#fae238,#ddf554,#d5f65b,#d2f75d,#d6f65a,#c3f96a,#c7f866,#b2fa89,#c3f96a,#b9fa7a,#affa90,#b7fa7e,#c4f969,#d0f75f,#b8fa7c,#befa6e,#b2fa8a,#b0fa8d,#87f3ed,#63bcff,#3a86ff,#1a50ff,#0e33ff,#051eff,#0929ff,#113bff,#3079ff,#79e2fb,#befa6f,#faed3b,#fae83a)"></i><i style="left:498.60px;top:62.00px;width:78.00px;height:78.00px;background:conic-gradient(from 5deg,#f89826,#f68c24,#f79125,#f89626,#f37421,#f37021,#f79325,#facb31,#fac630,#facb31,#f3f142,#d9f557,#d5f65b,#e0f452,#eaf349,#e6f34d,#fadb36,#fad635,#fac831,#f9a027,#f79025,#f89a26,#f78f25,#faa828,#fad935,#c5f968,#84f1f6,#5bb3ff,#1544ff,#0b2cff,#1544ff,#2a70ff,#7be4fb,#90f7d6,#f6f13f,#faa828,#f89826)"></i><i style="left:500.60px;top:64.00px;width:74.00px;height:74.00px;background:conic-gradient(from 5deg,#f05a1e,#f58323,#f26a20,#f1641f,#f37021,#f37421,#f37421,#f79525,#f89c26,#fac42f,#fac22f,#f9f03c,#faf03c,#faef3c,#faf03c,#fae338,#faae29,#f58223,#f1621f,#ef511d,#e21313,#d91111,#d91111,#e81f16,#e82116,#f99f27,#b3fa86,#78dffc,#1c52ff,#1038ff,#1039ff,#4494ff,#93f8d0,#bcfa73,#fad434,#f58523,#f05a1e)"></i><i style="left:502.60px;top:66.00px;width:70.00px;height:70.00px;background:conic-gradient(from 5deg,#f05a1e,#f47c22,#f1641f,#f58123,#f47d22,#f37121,#f47822,#f58623,#f9a527,#fac02e,#fabc2d,#f8f03e,#edf247,#edf246,#fae83a,#fad835,#fac22f,#f79025,#f1601f,#ef511d,#d41010,#e61414,#df1212,#e71d15,#e81f16,#fab52b,#b1fa8c,#87f2ee,#1849ff,#0f36ff,#113bff,#5fb8ff,#92f8d1,#c3f96a,#f8f03e,#f47c22,#f05a1e)"></i><i style="left:504.60px;top:68.00px;width:66.00px;height:66.00px;background:conic-gradient(from 5deg,#faad29,#f79625,#f79425,#f9a027,#faac29,#faa728,#faab28,#fabc2d,#fadc36,#fae439,#fae338,#eef246,#dcf555,#f2f143,#d7f659,#e5f34d,#f0f244,#fabb2d,#fab22a,#fab52b,#f68924,#f58423,#f89d26,#f9a427,#fac32f,#d7f659,#87f2ee,#66c2ff,#1f59ff,#0f36ff,#194cff,#4a9bff,#77defc,#a1faaf,#ddf554,#faaa28,#faad29)"></i><i style="left:506.60px;top:70.00px;width:62.00px;height:62.00px;background:conic-gradient(from 5deg,#faef3c,#e6f34d,#fae739,#fadd36,#f4f141,#ebf248,#ebf248,#fae739,#dbf556,#f6f13f,#d3f75d,#d9f658,#bbfa74,#bbfa76,#c9f865,#b2fa89,#bafa77,#d0f75f,#cbf863,#d4f65b,#dbf556,#bbfa75,#c0fa6c,#c3f96a,#99fac1,#66c2ff,#3c88ff,#205cff,#1644ff,#0a2bff,#0c2fff,#2466ff,#347dff,#86f2f0,#a4faa9,#e5f34d,#faef3c)"></i><i style="left:508.60px;top:72.00px;width:58.00px;height:58.00px;background:conic-gradient(from 5deg,#c0fa6c,#cff760,#cef760,#e6f34d,#d7f65a,#eaf349,#e1f451,#d3f75d,#daf557,#ddf554,#e4f44e,#c6f968,#b8fa7b,#cdf862,#c6f967,#b9fa79,#a4faa9,#9cfaba,#9efab6,#98fac4,#97fac6,#a3faaa,#a0fab1,#95f9cb,#7be4fb,#3079ff,#2362ff,#1c53ff,#1543ff,#123dff,#1645ff,#1e57ff,#2e75ff,#73d7fc,#96fac9,#bffa6e,#c0fa6c)"></i><i style="left:511.10px;top:74.50px;width:53.00px;height:53.00px;background:conic-gradient(from 5deg,#bbfa75,#d5f65b,#cdf862,#d7f659,#dcf555,#d3f65c,#f1f244,#d1f75e,#e6f34d,#eff245,#d2f75e,#d2f75d,#c1fa6c,#b9fa79,#b4fa84,#a8fa9e,#b3fa87,#aafa9b,#adfa95,#96fac9,#a8fa9f,#9efab5,#a8fa9f,#95f9cb,#79e2fb,#54a8ff,#184bff,#1f5bff,#1e57ff,#1647ff,#194bff,#215eff,#2260ff,#6ecefd,#96fac8,#b4fa85,#bbfa75)"></i><i style="left:514.60px;top:78.00px;width:46.00px;height:46.00px;background:conic-gradient(from 5deg,#b6fa80,#b6fa80,#caf864,#dbf556,#e3f44f,#d8f658,#e5f34d,#e6f34c,#def553,#eaf349,#d7f659,#e2f450,#c9f865,#cdf761,#c2f96b,#b5fa83,#a1fab0,#96fac8,#acfa97,#a2faac,#a5faa6,#a8fa9f,#b1fa8b,#93f8d0,#79e1fc,#52a6ff,#215fff,#205dff,#2260ff,#2260ff,#2261ff,#1747ff,#276bff,#72d6fd,#93f9cf,#9ffab3,#b6fa80)"></i><i style="left:518.10px;top:81.50px;width:39.00px;height:39.00px;background:conic-gradient(from 5deg,#99fac1,#a5faa7,#aefa92,#c2f96b,#d6f65a,#cef760,#d0f75f,#c7f866,#d4f65b,#e8f34b,#d7f659,#c5f968,#bdfa6f,#c4f969,#befa6e,#a2faac,#a6faa5,#95fac9,#98fac3,#94f9cc,#9afac0,#9cfabb,#9efab5,#8ef6dc,#7ae2fb,#50a4ff,#205dff,#1f5bff,#276cff,#205cff,#215eff,#205dff,#4290ff,#5cb3ff,#8ef6dd,#a8faa0,#99fac1)"></i><i style="left:521.60px;top:85.00px;width:32.00px;height:32.00px;background:conic-gradient(from 5deg,#92f8d2,#9bfabe,#b0fa8d,#b5fa83,#b2fa8a,#a9fa9d,#b7fa7e,#b8fa7d,#c4f969,#b7fa7e,#b6fa81,#b6fa81,#b4fa84,#a5faa7,#a2faac,#9ffab3,#a0fab2,#8ef6db,#9afabf,#95faca,#92f8d1,#98fac3,#93f9cf,#8af4e5,#85f1f3,#53a7ff,#3884ff,#337cff,#418fff,#3b88ff,#2567ff,#3681ff,#4391ff,#6ccbfe,#8ef6dd,#93f8d0,#92f8d2)"></i><i style="left:525.10px;top:88.50px;width:25.00px;height:25.00px;background:conic-gradient(from 5deg,#90f7d8,#99fac1,#95faca,#9dfab8,#a1fab0,#aafa9b,#a8faa0,#acfa97,#a3faaa,#99fac2,#a8faa0,#9ffab4,#a0fab0,#9ffab4,#91f7d6,#8ff7d9,#8af4e6,#91f8d4,#88f3eb,#89f3ea,#92f8d3,#90f7d6,#8af4e6,#8ef6dd,#83f1f7,#60b9ff,#3884ff,#4d9fff,#4291ff,#4899ff,#58aeff,#51a5ff,#60b9ff,#65c0ff,#85f1f4,#8ff6da,#90f7d8)"></i><i style="left:528.60px;top:92.00px;width:18.00px;height:18.00px;background:conic-gradient(from 5deg,#84f1f5,#92f8d2,#8bf5e2,#8df6dd,#8ff6da,#8ef6db,#97fac5,#93f9cf,#93f9cf,#92f8d2,#8cf5e0,#8ef6dc,#94f9ce,#92f8d1,#92f8d1,#89f3e9,#86f2f0,#83f0f8,#89f3e9,#87f3ed,#89f3e9,#8af4e7,#8bf5e3,#85f2f1,#84f1f6,#5fb8ff,#69c6fe,#5ab1ff,#4798ff,#51a5ff,#59b0ff,#55aaff,#63bdff,#6ecefd,#80ecfa,#8df5df,#84f1f5)"></i><i style="left:532.10px;top:95.50px;width:11.00px;height:11.00px;background:conic-gradient(from 5deg,#7ee9fb,#86f2f0,#88f3eb,#86f2ef,#85f1f3,#8bf4e4,#85f2f2,#8bf4e4,#7feafb,#85f2f2,#87f3ec,#7ce6fb,#89f4e8,#7be4fb,#85f2f2,#7ce6fb,#88f3eb,#83f0f8,#86f2f0,#82f0fa,#85f1f3,#85f1f3,#7ee9fb,#78e0fc,#83f1f7,#68c5fe,#7be4fb,#65bfff,#61baff,#61b9ff,#76dcfc,#7be4fb,#6dcefd,#7be5fb,#77ddfc,#88f3ec,#7ee9fb)"></i><i style="left:46.50px;top:156.80px;width:106.60px;height:106.60px;background:conic-gradient(from 5deg,#347eff,#1f5aff,#1542ff,#1747ff,#0a2aff,#1a4eff,#1b51ff,#2567ff,#3f8dff,#3782ff,#3b88ff,#276bff,#3b87ff,#2669ff,#337dff,#1f5bff,#266bff,#276dff,#1d55ff,#0f35ff,#0723ff,#0013fc,#000cd6,#0724ff,#2566ff,#85f1f3,#a8faa0,#a2faac,#92f8d2,#69c6fe,#51a5ff,#2669ff,#418fff,#4392ff,#408eff,#3078ff,#347eff)"></i><i style="left:49.30px;top:159.60px;width:101.00px;height:101.00px;background:conic-gradient(from 5deg,#2d75ff,#266aff,#2567ff,#1a50ff,#1f59ff,#1543ff,#2465ff,#4494ff,#4a9bff,#499aff,#347eff,#2f78ff,#2e76ff,#4392ff,#3d8aff,#2362ff,#296fff,#1748ff,#1e59ff,#1c53ff,#0620ff,#041cff,#0011ed,#0013fa,#2465ff,#79e1fc,#90f7d8,#99fac2,#86f2ef,#7be4fb,#4797ff,#2f77ff,#408eff,#2c74ff,#3b87ff,#4290ff,#2d75ff)"></i><i style="left:52.30px;top:162.60px;width:95.00px;height:95.00px;background:conic-gradient(from 5deg,#4190ff,#337cff,#205bff,#2260ff,#194dff,#2567ff,#2566ff,#4696ff,#4b9dff,#4da0ff,#54a9ff,#3c88ff,#3781ff,#51a5ff,#347fff,#3883ff,#286dff,#1d55ff,#1645ff,#0d32ff,#0d31ff,#000edf,#000fe5,#051eff,#1c53ff,#69c7fe,#86f2f0,#8cf5e1,#85f1f3,#6cccfe,#4d9fff,#4a9bff,#408fff,#3985ff,#3984ff,#4da0ff,#4190ff)"></i><i style="left:55.30px;top:165.60px;width:89.00px;height:89.00px;background:conic-gradient(from 5deg,#4999ff,#4fa3ff,#266aff,#3c89ff,#286dff,#3985ff,#418fff,#59afff,#55a9ff,#68c5fe,#50a3ff,#4fa2ff,#4290ff,#4d9fff,#499aff,#2c74ff,#2b72ff,#1646ff,#1c53ff,#0f36ff,#0928ff,#0218ff,#0012f3,#0012f4,#1a4eff,#5cb3ff,#87f3ed,#77ddfc,#80ecfa,#75dafc,#6cccfe,#57adff,#66c1ff,#54a8ff,#5eb6ff,#3883ff,#4999ff)"></i><i style="left:58.30px;top:168.60px;width:83.00px;height:83.00px;background:conic-gradient(from 5deg,#7ae2fb,#60b9ff,#52a6ff,#3e8cff,#4190ff,#58aeff,#64beff,#6ac8fe,#82f0fa,#7febfa,#81eefa,#80ecfa,#7febfa,#86f2ef,#82f0f9,#6ccbfe,#4291ff,#2a70ff,#2e76ff,#2566ff,#1748ff,#0d32ff,#031aff,#1037ff,#276bff,#5ab0ff,#63bdff,#7be4fb,#72d5fd,#6cccfe,#80edfa,#77defc,#7ae3fb,#65bfff,#78dffc,#7be4fb,#7ae2fb)"></i><i style="left:60.80px;top:171.10px;width:78.00px;height:78.00px;background:conic-gradient(from 5deg,#9efab7,#90f7d7,#8af4e7,#87f3ed,#84f1f5,#83f0f8,#8cf5e2,#a6faa4,#d2f75d,#c7f866,#e4f44e,#dbf555,#e6f34d,#b9fa7a,#c0fa6c,#adfa93,#8af4e7,#82f0fa,#67c4fe,#4ea1ff,#3c88ff,#286dff,#266aff,#337dff,#408eff,#5ab1ff,#5fb8ff,#71d4fd,#84f1f5,#8bf4e4,#8ff7d9,#90f7d6,#8ef6dc,#8bf4e5,#94f9cd,#9dfab8,#9efab7)"></i><i style="left:62.80px;top:173.10px;width:74.00px;height:74.00px;background:conic-gradient(from 5deg,#c0fa6c,#b0fa8e,#a0fab2,#9afabe,#8ef6dc,#94f9cd,#92f8d1,#ccf863,#fab72c,#fab82c,#f99f27,#f79425,#f89d26,#fac630,#fae338,#fae037,#c8f866,#93f8d0,#8cf5e2,#84f1f6,#7ae3fb,#6ccbfe,#66c1ff,#5fb7ff,#4797ff,#61baff,#4c9eff,#6ecffd,#7eeafb,#90f7d6,#a3faaa,#9dfab8,#a5faa7,#bbfa75,#befa6e,#d5f65b,#c0fa6c)"></i><i style="left:64.80px;top:175.10px;width:70.00px;height:70.00px;background:conic-gradient(from 5deg,#d1f75e,#b8fa7b,#adfa95,#9cfabb,#aafa9c,#95f9cb,#affa90,#def553,#f9a627,#faab28,#f79025,#f05b1e,#f37421,#f68a24,#fac931,#fad635,#cbf863,#a5faa7,#a2faac,#8cf5e1,#7ce7fb,#84f1f5,#79e1fc,#65c0ff,#4d9fff,#61baff,#5ab1ff,#72d5fd,#84f1f5,#9bfabe,#a1faae,#a6faa3,#b7fa7e,#bffa6d,#d6f65a,#d6f65a,#d1f75e)"></i><i style="left:66.80px;top:177.10px;width:66.00px;height:66.00px;background:conic-gradient(from 5deg,#c1fa6c,#bbfa75,#91f7d5,#9cfabb,#97fac5,#95faca,#9afabf,#e1f451,#fab42b,#faab28,#f89926,#faa828,#f99f27,#faca31,#faca31,#fadf37,#b8fa7b,#97fac6,#92f8d3,#7febfb,#71d3fd,#75dafc,#66c1ff,#4b9dff,#5fb7ff,#51a5ff,#5db5ff,#60b8ff,#8af4e6,#95f9cb,#9efab5,#a6faa4,#a9fa9e,#bdfa70,#c1f96b,#cef761,#c1fa6c)"></i><i style="left:68.80px;top:179.10px;width:62.00px;height:62.00px;background:conic-gradient(from 5deg,#92f8d1,#8af4e6,#88f3ec,#89f3e9,#88f3eb,#83f0f8,#83f1f7,#9cfabb,#cef761,#befa6f,#d6f65a,#c7f866,#c7f967,#aefa91,#a5faa7,#9afabf,#8ff7d9,#7eeafb,#5eb6ff,#4d9fff,#4ea0ff,#2a70ff,#266aff,#276bff,#286dff,#3f8dff,#50a4ff,#56abff,#81effa,#83f0f8,#84f1f5,#90f7d7,#8df6dd,#93f9cf,#94f9cd,#9dfab8,#92f8d1)"></i><i style="left:70.80px;top:181.10px;width:58.00px;height:58.00px;background:conic-gradient(from 5deg,#6dccfe,#5fb7ff,#69c6fe,#5ab0ff,#5bb2ff,#60b9ff,#67c3ff,#66c2ff,#76dcfc,#85f1f4,#79e1fb,#6ccbfe,#6ecefd,#59afff,#60b8ff,#327bff,#327bff,#1e58ff,#194cff,#1e58ff,#0f36ff,#0c30ff,#0825ff,#133eff,#215fff,#3580ff,#408fff,#54a8ff,#4494ff,#58aeff,#68c4fe,#75dafc,#6ecefd,#71d4fd,#78dffc,#70d1fd,#6dccfe)"></i><i style="left:73.30px;top:183.60px;width:53.00px;height:53.00px;background:conic-gradient(from 5deg,#67c2ff,#5bb3ff,#4696ff,#4391ff,#50a3ff,#3f8cff,#3984ff,#53a7ff,#4797ff,#4595ff,#4190ff,#3b88ff,#1f59ff,#205bff,#184bff,#1645ff,#0e35ff,#0e33ff,#0a2bff,#0826ff,#051eff,#0622ff,#0117ff,#0f35ff,#1a4eff,#286eff,#266aff,#3b87ff,#4392ff,#418fff,#56acff,#59afff,#55aaff,#5cb3ff,#59b0ff,#65bfff,#67c2ff)"></i><i style="left:76.80px;top:187.10px;width:46.00px;height:46.00px;background:conic-gradient(from 5deg,#4a9bff,#5cb3ff,#56acff,#4ea1ff,#408dff,#3781ff,#4798ff,#4c9eff,#357fff,#3179ff,#276cff,#1e58ff,#215eff,#2363ff,#1e57ff,#0f37ff,#0c30ff,#0012f5,#0827ff,#0117ff,#0012f7,#0827ff,#0117ff,#0724ff,#0d31ff,#1d56ff,#2669ff,#2f78ff,#2261ff,#4391ff,#317bff,#3a86ff,#4b9dff,#4696ff,#4d9fff,#5ab0ff,#4a9bff)"></i><i style="left:80.30px;top:190.60px;width:39.00px;height:39.00px;background:conic-gradient(from 5deg,#4291ff,#55a9ff,#3a86ff,#4ea1ff,#4b9dff,#3f8dff,#296fff,#408eff,#2568ff,#317aff,#266aff,#1a4fff,#1d56ff,#1d54ff,#184aff,#0f35ff,#0928ff,#0520ff,#0013fc,#0a2bff,#0e34ff,#0d31ff,#1038ff,#0928ff,#1a4fff,#1542ff,#205dff,#1c53ff,#2465ff,#327bff,#3d8aff,#3782ff,#3580ff,#3680ff,#4494ff,#4494ff,#4291ff)"></i><i style="left:83.80px;top:194.10px;width:32.00px;height:32.00px;background:conic-gradient(from 5deg,#2f77ff,#418fff,#357fff,#2f77ff,#276bff,#3681ff,#2567ff,#2466ff,#286eff,#2c73ff,#2e75ff,#2260ff,#205cff,#1e57ff,#194cff,#1440ff,#041cff,#0218ff,#0013fa,#0d30ff,#0c2fff,#0c2fff,#0723ff,#0a2bff,#0d32ff,#1b51ff,#2567ff,#1b52ff,#1a4eff,#205bff,#2668ff,#3985ff,#3883ff,#2f78ff,#286eff,#2b72ff,#2f77ff)"></i><i style="left:87.30px;top:197.60px;width:25.00px;height:25.00px;background:conic-gradient(from 5deg,#2362ff,#3179ff,#2669ff,#337dff,#3078ff,#2a71ff,#2363ff,#276cff,#1c53ff,#1b51ff,#205bff,#1b50ff,#133eff,#123dff,#0d31ff,#1747ff,#0f36ff,#1038ff,#1038ff,#0927ff,#0e34ff,#0a2aff,#113aff,#133fff,#0c30ff,#1037ff,#1645ff,#1c54ff,#1b51ff,#184aff,#276cff,#286dff,#2363ff,#1e58ff,#347eff,#296fff,#2362ff)"></i><i style="left:90.80px;top:201.10px;width:18.00px;height:18.00px;background:conic-gradient(from 5deg,#1a4eff,#1d56ff,#215fff,#2466ff,#1e58ff,#205cff,#194cff,#194cff,#2261ff,#1a4fff,#1441ff,#194cff,#0f37ff,#1037ff,#133eff,#123cff,#1037ff,#0f35ff,#0a2cff,#0520ff,#1038ff,#0623ff,#0d32ff,#0d32ff,#1442ff,#184bff,#133fff,#1a4fff,#1c53ff,#1a50ff,#1748ff,#2364ff,#1f5aff,#184aff,#1c52ff,#286eff,#1a4eff)"></i><i style="left:94.30px;top:204.60px;width:11.00px;height:11.00px;background:conic-gradient(from 5deg,#133eff,#1543ff,#1b50ff,#1b51ff,#184aff,#1a4eff,#0f35ff,#0f36ff,#1d54ff,#1a4eff,#0d32ff,#0c30ff,#0f35ff,#194cff,#0d32ff,#1340ff,#1646ff,#113aff,#1544ff,#0b2eff,#0a2aff,#0826ff,#1440ff,#0a2bff,#194bff,#1645ff,#0f35ff,#184bff,#0f35ff,#1543ff,#0f36ff,#1a4eff,#1c52ff,#1d54ff,#0f35ff,#1c53ff,#133eff)"></i><i style="left:156.10px;top:156.80px;width:106.60px;height:106.60px;background:conic-gradient(from 5deg,#3179ff,#337dff,#2363ff,#215eff,#1f59ff,#2464ff,#1d55ff,#2260ff,#347eff,#2b72ff,#2e77ff,#2465ff,#3985ff,#2464ff,#3b87ff,#3883ff,#286eff,#2261ff,#2c74ff,#205bff,#1e57ff,#1442ff,#205cff,#2669ff,#67c3fe,#91f7d5,#c9f865,#cff760,#affa90,#84f1f6,#65bfff,#4ea0ff,#5ab1ff,#3884ff,#3d8aff,#4391ff,#3179ff)"></i><i style="left:158.90px;top:159.60px;width:101.00px;height:101.00px;background:conic-gradient(from 5deg,#57acff,#357fff,#2f78ff,#2a70ff,#3d89ff,#3d8bff,#4695ff,#50a3ff,#56acff,#5fb7ff,#5db5ff,#62bcff,#57adff,#58aeff,#59b0ff,#4fa1ff,#418fff,#2568ff,#3883ff,#3680ff,#2260ff,#2466ff,#1849ff,#3a86ff,#6ecffd,#9dfab8,#bafa77,#befa6f,#a6faa3,#8cf5e0,#71d4fd,#6ecffd,#7be4fb,#68c5fe,#66c2ff,#58aeff,#57acff)"></i><i style="left:161.90px;top:162.60px;width:95.00px;height:95.00px;background:conic-gradient(from 5deg,#75dafc,#77defc,#6cccfe,#58afff,#56abff,#60b9ff,#5db4ff,#6fd0fd,#85f1f3,#85f2f2,#74d9fc,#7be4fb,#75dbfc,#77ddfc,#70d1fd,#5ab1ff,#3a86ff,#4b9cff,#357fff,#3884ff,#2568ff,#2364ff,#296fff,#276cff,#76dcfc,#9dfab8,#c2f96a,#d3f75d,#aefa93,#9efab5,#8bf5e2,#8af4e5,#79e0fc,#74d8fc,#6ccbfe,#78dffc,#75dafc)"></i><i style="left:164.90px;top:165.60px;width:89.00px;height:89.00px;background:conic-gradient(from 5deg,#7febfa,#85f1f3,#8bf5e3,#8ef6db,#84f1f5,#89f3e9,#8ff6da,#92f8d1,#95faca,#95faca,#8cf5e0,#89f4e8,#83f1f7,#8bf4e4,#83f0f8,#77ddfc,#78dffc,#5eb6ff,#58aeff,#50a4ff,#408dff,#3884ff,#266bff,#327bff,#6dcdfe,#90f7d7,#b5fa83,#b1fa8b,#a3faaa,#9bfabe,#97fac6,#91f7d5,#8bf5e2,#8ff6db,#84f1f4,#82f0fa,#7febfa)"></i><i style="left:167.90px;top:168.60px;width:83.00px;height:83.00px;background:conic-gradient(from 5deg,#99fac1,#a8faa1,#bbfa74,#b6fa7f,#bffa6e,#aefa92,#cbf863,#b8fa7c,#c4f969,#acfa98,#bffa6d,#a8faa0,#b6fa81,#b8fa7c,#b6fa81,#9ffab4,#8af4e5,#82f0f9,#89f3e9,#6dcdfe,#6ccbfe,#62bcff,#5cb3ff,#50a3ff,#6dcdfe,#86f2f1,#9dfab8,#92f8d1,#93f9cf,#8ef6db,#87f3ed,#89f3e9,#8cf5e0,#97fac5,#90f7d6,#a9fa9e,#99fac1)"></i><i style="left:170.40px;top:171.10px;width:78.00px;height:78.00px;background:conic-gradient(from 5deg,#c3f96a,#e7f34c,#ecf248,#fae038,#f4f141,#f8f03d,#faec3b,#e5f34d,#dff553,#eff245,#dcf555,#ddf554,#eaf349,#e3f44f,#edf247,#e6f34c,#c4f969,#a1faaf,#a1fab0,#8ff7d9,#8bf4e4,#79e0fc,#80ecfa,#7de8fb,#71d4fd,#74d8fc,#83f1f6,#7ce7fb,#83f1f6,#86f2f1,#7ae2fb,#88f3ec,#95f9cb,#93f9cf,#a5faa7,#befa6e,#c3f96a)"></i><i style="left:172.40px;top:173.10px;width:74.00px;height:74.00px;background:conic-gradient(from 5deg,#cff760,#eaf349,#fad334,#fac831,#fab42b,#fac430,#fadc36,#fae83a,#fae439,#faef3c,#fae238,#fade37,#fae037,#faee3b,#fab72c,#facf33,#def553,#b3fa87,#bdfa70,#94f9cc,#88f3eb,#88f3ec,#8bf4e4,#7ce6fb,#82f0f9,#6fd1fd,#7be5fb,#77defc,#74d8fc,#81effa,#7ce6fb,#87f3ed,#a5faa5,#9ffab5,#aefa91,#c3f96a,#cff760)"></i><i style="left:174.40px;top:175.10px;width:70.00px;height:70.00px;background:conic-gradient(from 5deg,#e1f451,#f9f03d,#fae138,#fac831,#fabc2d,#fac530,#fad534,#fadc36,#faea3a,#faeb3b,#edf247,#fae539,#fadc36,#fad234,#fabb2d,#fad635,#f4f141,#b3fa86,#abfa99,#9dfab8,#92f8d2,#85f2f1,#81effa,#6fd1fd,#7ae2fb,#71d4fd,#73d7fc,#83f0f8,#7febfb,#85f2f2,#7de8fb,#8ef6db,#91f7d6,#acfa97,#b0fa8e,#d2f75d,#e1f451)"></i><i style="left:176.40px;top:177.10px;width:66.00px;height:66.00px;background:conic-gradient(from 5deg,#c7f967,#eef246,#f7f03e,#fad835,#fae83a,#f3f142,#fadf37,#e7f34c,#f6f13f,#e2f450,#d9f658,#eef246,#d8f658,#e6f34c,#eff246,#f2f143,#b5fa82,#9efab7,#93f8d0,#92f8d1,#7ae3fb,#84f1f4,#72d6fd,#70d1fd,#77ddfc,#82effa,#74d9fc,#78e0fc,#74d9fc,#87f2ee,#78dffc,#87f2ef,#94f9cc,#99fac1,#b6fa81,#b2fa89,#c7f967)"></i><i style="left:178.40px;top:179.10px;width:62.00px;height:62.00px;background:conic-gradient(from 5deg,#96fac9,#a1faae,#bcfa72,#bdfa71,#bcfa72,#cdf761,#c7f967,#c9f865,#c6f967,#b0fa8d,#befa6e,#a8faa0,#98fac4,#b4fa84,#9ffab4,#93f9cf,#89f4e8,#77defc,#83f1f6,#76dcfc,#5ab1ff,#5bb2ff,#5fb7ff,#5db4ff,#67c3fe,#73d8fc,#72d6fd,#78dffc,#83f1f7,#83f0f8,#87f2ef,#8df6de,#93f9cf,#8af4e5,#8df6de,#a4faa8,#96fac9)"></i><i style="left:180.40px;top:181.10px;width:58.00px;height:58.00px;background:conic-gradient(from 5deg,#87f3ed,#86f2f1,#90f7d7,#8df5df,#8df6dd,#8ff7d8,#92f8d1,#95f9cb,#8df6de,#95f9cb,#90f7d8,#88f3eb,#85f2f1,#86f2f0,#6ecefd,#67c4fe,#4c9eff,#337dff,#2c74ff,#215fff,#337dff,#2e76ff,#215fff,#276dff,#54a9ff,#55aaff,#6dcefd,#81eefa,#82f0fa,#73d7fd,#84f1f5,#82f0fa,#87f2ee,#88f3ec,#7ee9fb,#82f0f9,#87f3ed)"></i><i style="left:182.90px;top:183.60px;width:53.00px;height:53.00px;background:conic-gradient(from 5deg,#6dcdfd,#74d9fc,#75dbfc,#7febfa,#85f2f2,#86f2f0,#82f0f9,#89f4e7,#8ef6db,#89f4e8,#81effa,#7ae3fb,#62bbff,#50a4ff,#50a3ff,#2567ff,#205dff,#0f36ff,#113aff,#1c53ff,#1c52ff,#1f5aff,#1d56ff,#215eff,#3078ff,#54a8ff,#4898ff,#61b9ff,#58afff,#65bfff,#80ecfa,#7de8fb,#83f0f8,#83f0f9,#79e1fc,#6ccbfe,#6dcdfd)"></i><i style="left:186.40px;top:187.10px;width:46.00px;height:46.00px;background:conic-gradient(from 5deg,#60b9ff,#77ddfc,#84f1f6,#81eefa,#7eeafb,#7ce7fb,#82f0fa,#89f3e9,#7ee9fb,#82f0f9,#77defc,#71d3fd,#68c4fe,#3c89ff,#337cff,#317aff,#1d55ff,#0622ff,#0826ff,#0e34ff,#1037ff,#1543ff,#1849ff,#1747ff,#194dff,#205dff,#2669ff,#266aff,#4696ff,#5fb8ff,#63bcff,#79e1fb,#77defc,#6bcafe,#6fd0fd,#65c0ff,#60b9ff)"></i><i style="left:189.90px;top:190.60px;width:39.00px;height:39.00px;background:conic-gradient(from 5deg,#71d3fd,#6bcafe,#65c0ff,#70d2fd,#83f0f9,#7ae3fb,#83f0f8,#75dbfc,#84f1f5,#83f1f7,#64beff,#60b9ff,#3e8bff,#499aff,#418fff,#2669ff,#1037ff,#041eff,#0c30ff,#0e33ff,#0c2fff,#113aff,#184bff,#133eff,#1f59ff,#1d56ff,#215dff,#2466ff,#327bff,#50a3ff,#499aff,#6ac7fe,#58aeff,#5bb2ff,#67c3fe,#69c6fe,#71d3fd)"></i><i style="left:193.40px;top:194.10px;width:32.00px;height:32.00px;background:conic-gradient(from 5deg,#54a9ff,#65bfff,#54a8ff,#5fb8ff,#6dcefd,#61baff,#5db4ff,#5fb8ff,#71d3fd,#71d4fd,#64bfff,#5bb3ff,#4595ff,#2d75ff,#266aff,#2362ff,#0e32ff,#0f35ff,#0622ff,#0826ff,#133eff,#1039ff,#1e57ff,#1e58ff,#1b51ff,#1b50ff,#1c53ff,#2362ff,#286eff,#347eff,#51a4ff,#50a3ff,#59b0ff,#408eff,#3f8cff,#4b9cff,#54a9ff)"></i><i style="left:196.90px;top:197.60px;width:25.00px;height:25.00px;background:conic-gradient(from 5deg,#3b88ff,#3782ff,#4da0ff,#4391ff,#4999ff,#4fa1ff,#57adff,#5ab0ff,#4b9cff,#4c9eff,#55aaff,#4899ff,#3079ff,#225fff,#2465ff,#1f5bff,#123cff,#0827ff,#1647ff,#1748ff,#0e33ff,#1645ff,#194cff,#1543ff,#1441ff,#215fff,#2363ff,#1f59ff,#1d55ff,#276dff,#286dff,#4d9fff,#2a71ff,#337dff,#4595ff,#2e75ff,#3b88ff)"></i><i style="left:200.40px;top:201.10px;width:18.00px;height:18.00px;background:conic-gradient(from 5deg,#2260ff,#2362ff,#2669ff,#357fff,#4290ff,#296fff,#296fff,#3f8dff,#327cff,#2e76ff,#2567ff,#2362ff,#2f77ff,#1c54ff,#1d54ff,#1f5aff,#1c52ff,#184bff,#113bff,#1a4eff,#1646ff,#133fff,#1747ff,#1b51ff,#1d55ff,#1645ff,#1849ff,#2465ff,#194dff,#286eff,#2465ff,#2465ff,#2465ff,#276dff,#3a86ff,#2261ff,#2260ff)"></i><i style="left:203.90px;top:204.60px;width:11.00px;height:11.00px;background:conic-gradient(from 5deg,#2363ff,#1b51ff,#1a4eff,#2363ff,#1d55ff,#1b50ff,#1e58ff,#2466ff,#2568ff,#215dff,#1748ff,#215eff,#1d56ff,#215fff,#225fff,#1646ff,#1c53ff,#1a4fff,#113bff,#1340ff,#1442ff,#1542ff,#1544ff,#113bff,#1440ff,#1f5aff,#1849ff,#1b52ff,#205cff,#205bff,#194cff,#2465ff,#2261ff,#2567ff,#215eff,#215fff,#2363ff)"></i><i style="left:265.30px;top:156.80px;width:106.60px;height:106.60px;background:conic-gradient(from 5deg,#3781ff,#2362ff,#2567ff,#1d55ff,#2262ff,#1b51ff,#2d74ff,#3d8aff,#5fb7ff,#4ea1ff,#59afff,#4c9eff,#4291ff,#2668ff,#408eff,#3984ff,#3681ff,#3580ff,#2466ff,#4595ff,#4392ff,#4899ff,#4798ff,#61baff,#73d7fc,#85f2f2,#83f0f8,#84f1f4,#77defc,#5eb5ff,#50a3ff,#3c88ff,#55aaff,#3580ff,#266aff,#2363ff,#3781ff)"></i><i style="left:268.10px;top:159.60px;width:101.00px;height:101.00px;background:conic-gradient(from 5deg,#4899ff,#327bff,#3883ff,#337cff,#418fff,#4ea0ff,#4898ff,#67c4fe,#7ae3fb,#6ecffd,#74d9fc,#65c0ff,#4a9cff,#5bb2ff,#50a3ff,#3e8cff,#50a4ff,#5ab0ff,#4ea1ff,#4fa2ff,#50a3ff,#64bfff,#5eb5ff,#55aaff,#6fd0fd,#82f0f9,#8ff7d9,#8cf5e1,#7ce5fb,#7febfa,#4fa2ff,#5bb2ff,#52a6ff,#56abff,#4392ff,#317aff,#4899ff)"></i><i style="left:271.10px;top:162.60px;width:95.00px;height:95.00px;background:conic-gradient(from 5deg,#55aaff,#63bcff,#65bfff,#58aeff,#54a8ff,#6bcafe,#79e2fb,#76dbfc,#89f3e9,#8af4e5,#7febfb,#73d7fc,#74d9fc,#77defc,#61baff,#64bfff,#65c0ff,#71d4fd,#60b8ff,#6ac7fe,#65c0ff,#68c5fe,#54a9ff,#77ddfc,#85f2f2,#88f3ea,#91f7d5,#89f3e9,#8df5e0,#7ce7fb,#71d3fd,#6dcdfd,#5bb2ff,#6ac9fe,#4c9fff,#4391ff,#55aaff)"></i><i style="left:274.10px;top:165.60px;width:89.00px;height:89.00px;background:conic-gradient(from 5deg,#69c7fe,#7be4fb,#83f0f8,#86f2ef,#82f0fa,#89f3e9,#88f3eb,#87f3ed,#90f7d6,#92f8d1,#8bf4e4,#89f4e8,#80ecfa,#7de8fb,#82f0fa,#83f1f7,#83f0f9,#78dffc,#75dafc,#79e1fb,#7ce6fb,#76dcfc,#63bdff,#6bc9fe,#83f0f8,#87f2ee,#92f8d3,#95faca,#87f3ed,#83f1f6,#78dffc,#72d5fd,#71d3fd,#70d2fd,#62bbff,#73d6fd,#69c7fe)"></i><i style="left:277.10px;top:168.60px;width:83.00px;height:83.00px;background:conic-gradient(from 5deg,#88f3ec,#83f0f9,#95f9cb,#92f8d1,#8ef6dd,#8df6de,#9dfab9,#9bfabc,#91f8d4,#95f9cb,#94f9cc,#95f9cb,#8af4e7,#91f8d4,#8ef6dc,#8ef6dd,#8df6de,#90f7d7,#92f8d2,#8af4e5,#84f1f5,#80ecfa,#74d9fc,#78dffc,#84f1f4,#8bf4e4,#88f3ea,#8bf5e2,#86f2f0,#86f2f1,#6dcdfe,#78dffc,#6ecefd,#69c6fe,#7ce6fb,#75dafc,#88f3ec)"></i><i style="left:279.60px;top:171.10px;width:78.00px;height:78.00px;background:conic-gradient(from 5deg,#a1faaf,#c2f96a,#fae439,#face32,#f4f141,#e5f44e,#e5f44e,#c9f865,#bafa77,#adfa94,#a3faab,#b2fa89,#aafa9b,#b8fa7a,#f9f03c,#faef3c,#edf247,#f6f140,#faed3b,#d9f557,#c7f967,#b9fa79,#acfa98,#9efab7,#9ffab3,#94f9cc,#80ecfa,#82f0fa,#86f2f1,#7febfa,#73d7fd,#80ecfa,#83f0f8,#8ef6dd,#92f8d1,#9ffab4,#a1faaf)"></i><i style="left:281.60px;top:173.10px;width:74.00px;height:74.00px;background:conic-gradient(from 5deg,#e6f34c,#fab62c,#eb3819,#ea3218,#f47b22,#f79025,#f89826,#fada36,#d3f75d,#dcf555,#c9f865,#cef761,#e4f44e,#fac530,#f47622,#f36f21,#f26d20,#f1641f,#f1611f,#f89c26,#fabb2d,#fac831,#f0f244,#dcf555,#c3f96a,#93f9cf,#7fecfa,#84f1f5,#72d5fd,#7fecfa,#6dcdfd,#85f1f3,#8df6de,#a0fab1,#b0fa8e,#d8f659,#e6f34c)"></i><i style="left:283.60px;top:175.10px;width:70.00px;height:70.00px;background:conic-gradient(from 5deg,#f6f13f,#f68c24,#e11313,#d81010,#e92717,#ef511d,#f37521,#fab22a,#d4f65c,#e7f34c,#d6f65a,#cef760,#ecf248,#f99f27,#ef521d,#ef501d,#e92917,#ea2f18,#ec3e1a,#ef561d,#faa728,#fab52b,#faeb3a,#cff75f,#d7f659,#9ffab3,#78e0fc,#72d5fd,#72d6fd,#7febfa,#83f1f7,#92f8d2,#95faca,#affa8f,#c6f967,#f0f245,#f6f13f)"></i><i style="left:285.60px;top:177.10px;width:66.00px;height:66.00px;background:conic-gradient(from 5deg,#e8f34b,#fab22a,#eb3519,#e92a17,#f05e1e,#f89826,#faa628,#faea3a,#d2f75d,#d7f65a,#bffa6d,#cdf761,#dbf556,#fae138,#f47922,#f05d1e,#f26720,#f26d20,#f1601f,#f78f25,#fabe2e,#fac931,#fae539,#d9f557,#cef761,#96fac8,#77defc,#71d4fd,#76dcfc,#7de8fb,#6bc9fe,#8cf5e2,#95faca,#97fac7,#abfa99,#eaf349,#e8f34b)"></i><i style="left:287.60px;top:179.10px;width:62.00px;height:62.00px;background:conic-gradient(from 5deg,#a3faab,#d1f75e,#f9f03d,#fae037,#eef246,#f3f142,#f1f244,#d6f65a,#b3fa87,#a6faa4,#a3faab,#99fac1,#aafa9b,#c6f967,#ebf248,#f0f245,#f3f142,#e7f34c,#d7f659,#d5f65b,#b5fa83,#b8fa7c,#96fac7,#98fac3,#91f7d5,#85f1f4,#82f0f9,#65c0ff,#78e0fc,#69c7fe,#4c9eff,#6ecefd,#79e0fc,#87f3ed,#8ff7d9,#9afabe,#a3faab)"></i><i style="left:289.60px;top:181.10px;width:58.00px;height:58.00px;background:conic-gradient(from 5deg,#81eefa,#76dbfc,#8df5df,#88f3ec,#8af4e6,#88f3ec,#94f9ce,#8ff7d9,#92f8d1,#8cf5e2,#8ef6dd,#87f2ee,#71d4fd,#81eefa,#87f2ee,#7be4fb,#82f0f9,#74d8fc,#75dafc,#80edfa,#7ae3fb,#78dffc,#60b8ff,#61bbff,#6dccfe,#6bc9fe,#5db5ff,#69c6fe,#4a9cff,#499aff,#276bff,#205bff,#3782ff,#357fff,#65bfff,#61bbff,#81eefa)"></i><i style="left:292.10px;top:183.60px;width:53.00px;height:53.00px;background:conic-gradient(from 5deg,#66c1ff,#5eb6ff,#6fd1fd,#66c1ff,#79e0fc,#74d9fc,#79e1fb,#8af4e7,#82f0f9,#88f3ec,#78e0fc,#7de8fb,#6fd0fd,#499bff,#56acff,#4ea1ff,#4ea0ff,#4798ff,#3883ff,#4c9eff,#2d75ff,#296fff,#4190ff,#296fff,#3079ff,#418fff,#3e8cff,#3681ff,#4291ff,#215fff,#1d56ff,#113bff,#205cff,#205cff,#4c9eff,#54a9ff,#66c1ff)"></i><i style="left:295.60px;top:187.10px;width:46.00px;height:46.00px;background:conic-gradient(from 5deg,#5fb7ff,#5fb8ff,#66c2ff,#6cccfe,#79e2fb,#71d3fd,#6fd0fd,#89f3ea,#8af4e6,#88f3eb,#83f1f6,#62bbff,#55aaff,#5ab1ff,#5bb2ff,#4fa2ff,#276dff,#337cff,#2d74ff,#276dff,#2364ff,#2362ff,#286dff,#296fff,#2568ff,#276dff,#2f77ff,#347eff,#2464ff,#133eff,#1543ff,#0929ff,#1749ff,#2566ff,#266aff,#4c9eff,#5fb7ff)"></i><i style="left:299.10px;top:190.60px;width:39.00px;height:39.00px;background:conic-gradient(from 5deg,#58aeff,#4a9bff,#5bb2ff,#5cb3ff,#55aaff,#60b8ff,#66c1ff,#74d8fc,#83f0f8,#81effa,#81eefa,#67c3fe,#4899ff,#56acff,#4797ff,#3985ff,#3a86ff,#2c73ff,#2466ff,#286eff,#2364ff,#3680ff,#2362ff,#3681ff,#205bff,#1f5aff,#276cff,#215fff,#205bff,#1139ff,#1440ff,#0e33ff,#133eff,#2362ff,#3f8dff,#499aff,#58aeff)"></i><i style="left:302.60px;top:194.10px;width:32.00px;height:32.00px;background:conic-gradient(from 5deg,#4898ff,#337dff,#3e8bff,#54a8ff,#6ac8fe,#56abff,#67c2ff,#5bb2ff,#6ecffd,#7ce6fb,#69c7fe,#61baff,#337dff,#347eff,#3078ff,#408fff,#2363ff,#3580ff,#2362ff,#337cff,#276bff,#2464ff,#3680ff,#2567ff,#2c73ff,#205cff,#317aff,#357fff,#1b51ff,#1d56ff,#1037ff,#0b2dff,#123dff,#215dff,#3c89ff,#4fa2ff,#4898ff)"></i><i style="left:306.10px;top:197.60px;width:25.00px;height:25.00px;background:conic-gradient(from 5deg,#4c9dff,#4291ff,#4a9bff,#3d8bff,#55aaff,#51a4ff,#50a3ff,#69c7fe,#57adff,#52a6ff,#4a9bff,#3c89ff,#408fff,#4493ff,#2970ff,#3079ff,#2c73ff,#286dff,#2568ff,#276cff,#1f5aff,#205bff,#2568ff,#2261ff,#2e76ff,#2262ff,#3079ff,#2260ff,#1c53ff,#1c54ff,#1646ff,#1340ff,#1d55ff,#1c53ff,#3078ff,#4392ff,#4c9dff)"></i><i style="left:309.60px;top:201.10px;width:18.00px;height:18.00px;background:conic-gradient(from 5deg,#3079ff,#3580ff,#4a9bff,#4290ff,#337dff,#317aff,#3580ff,#4392ff,#3d8aff,#52a6ff,#4392ff,#3681ff,#3580ff,#4291ff,#276dff,#2466ff,#2567ff,#2465ff,#347dff,#2c73ff,#2568ff,#215fff,#1f5bff,#215dff,#317aff,#2a70ff,#215fff,#286eff,#1d55ff,#205cff,#1a4fff,#1544ff,#215eff,#2668ff,#286eff,#266aff,#3079ff)"></i><i style="left:313.10px;top:204.60px;width:11.00px;height:11.00px;background:conic-gradient(from 5deg,#3079ff,#286eff,#327cff,#2465ff,#3e8bff,#2363ff,#276cff,#2f77ff,#286eff,#266aff,#3884ff,#408eff,#276bff,#2567ff,#2f78ff,#2364ff,#2568ff,#2b73ff,#2568ff,#215fff,#205cff,#276cff,#3782ff,#347eff,#205dff,#266bff,#266aff,#2260ff,#286eff,#2465ff,#276dff,#1f5aff,#2c73ff,#2c73ff,#276bff,#2362ff,#3079ff)"></i><i style="left:374.80px;top:156.80px;width:106.60px;height:106.60px;background:conic-gradient(from 5deg,#347eff,#2568ff,#2e76ff,#286dff,#2566ff,#327bff,#215fff,#3b88ff,#4595ff,#2b71ff,#276cff,#1b51ff,#1c54ff,#1c52ff,#1542ff,#1646ff,#0d32ff,#1038ff,#0a2aff,#1c53ff,#1f5bff,#2362ff,#286fff,#3782ff,#276cff,#194cff,#0b2cff,#1442ff,#0f35ff,#0116ff,#0015ff,#031bff,#0013f9,#0c2fff,#205cff,#408eff,#347eff)"></i><i style="left:377.60px;top:159.60px;width:101.00px;height:101.00px;background:conic-gradient(from 5deg,#4ea0ff,#327bff,#4494ff,#3d89ff,#3e8cff,#3782ff,#4fa1ff,#4c9fff,#5eb7ff,#50a3ff,#3782ff,#327cff,#2669ff,#215fff,#205dff,#1f5aff,#1d54ff,#1542ff,#1645ff,#1f5aff,#296fff,#3985ff,#4a9bff,#2e77ff,#266aff,#1748ff,#1749ff,#1543ff,#123cff,#0723ff,#0012f4,#051fff,#041dff,#113aff,#205dff,#347eff,#4ea0ff)"></i><i style="left:380.60px;top:162.60px;width:95.00px;height:95.00px;background:conic-gradient(from 5deg,#4a9bff,#4fa1ff,#4392ff,#4da0ff,#3a87ff,#4797ff,#4c9eff,#54a9ff,#5db5ff,#6ac8fe,#62bbff,#408eff,#357fff,#4594ff,#3d8aff,#3681ff,#2c74ff,#296fff,#2261ff,#2363ff,#3783ff,#3985ff,#61bbff,#4797ff,#347dff,#2669ff,#1b52ff,#113aff,#0d31ff,#0015ff,#031bff,#0014fd,#0218ff,#1039ff,#215fff,#3d8aff,#4a9bff)"></i><i style="left:383.60px;top:165.60px;width:89.00px;height:89.00px;background:conic-gradient(from 5deg,#54a9ff,#60b9ff,#65c0ff,#6ac8fe,#5db5ff,#60b9ff,#64beff,#7febfb,#6bcafe,#6ac8fe,#68c4fe,#72d5fd,#68c5fe,#53a7ff,#64bfff,#60b8ff,#4899ff,#3c89ff,#53a7ff,#4a9bff,#499bff,#6dccfe,#60b9ff,#54a8ff,#4290ff,#215eff,#1542ff,#184aff,#1039ff,#0014fe,#0011f2,#0013fb,#0014fd,#1645ff,#2b72ff,#3b88ff,#54a9ff)"></i><i style="left:386.60px;top:168.60px;width:83.00px;height:83.00px;background:conic-gradient(from 5deg,#52a6ff,#73d8fc,#7de8fb,#79e1fb,#78dffc,#87f2ee,#89f4e8,#7de8fb,#83f0f8,#82f0fa,#73d7fc,#60b9ff,#64bfff,#70d1fd,#71d3fd,#6cccfe,#66c1ff,#70d1fd,#74d9fc,#7ae3fb,#7de7fb,#88f3eb,#76dcfc,#84f1f5,#5db5ff,#51a4ff,#2464ff,#2669ff,#1849ff,#051fff,#0928ff,#0929ff,#0927ff,#1e58ff,#3782ff,#6dccfe,#52a6ff)"></i><i style="left:389.10px;top:171.10px;width:78.00px;height:78.00px;background:conic-gradient(from 5deg,#75dafc,#88f3ea,#8ff6da,#96fac9,#9afabe,#9dfab8,#95faca,#8df6de,#8cf5e2,#80edfa,#7be4fb,#7ee9fb,#72d5fd,#86f2f1,#77defc,#84f1f6,#89f4e8,#90f7d8,#92f8d2,#93f8d0,#98fac3,#9afabe,#95fac9,#8ef6dc,#8ef6dc,#77ddfc,#65c0ff,#3b87ff,#2568ff,#1441ff,#0e34ff,#1b50ff,#194dff,#327cff,#4fa2ff,#75dbfc,#75dafc)"></i><i style="left:391.10px;top:173.10px;width:74.00px;height:74.00px;background:conic-gradient(from 5deg,#8df5df,#97fac6,#a7faa3,#a5faa7,#befa6e,#adfa94,#a3faab,#9cfabb,#8df5df,#88f3eb,#83f0f8,#84f1f5,#77defc,#83f1f6,#8ff7d9,#8af4e5,#9afabe,#b2fa8a,#c6f968,#c6f967,#bffa6d,#bcfa72,#acfa97,#b0fa8e,#9efab7,#8ef6dc,#6ccbfe,#6bcafe,#266aff,#1645ff,#1f5aff,#2364ff,#337dff,#3985ff,#68c4fe,#84f1f6,#8df5df)"></i><i style="left:393.10px;top:175.10px;width:70.00px;height:70.00px;background:conic-gradient(from 5deg,#8af4e7,#a0fab2,#bafa77,#b1fa8a,#bcfa72,#aefa92,#b8fa7c,#94f9cc,#8ef6dd,#89f3e9,#86f2ef,#73d7fc,#7ee9fb,#87f3ed,#87f2ef,#8cf5e2,#a9fa9c,#c7f866,#cff760,#d5f65b,#cef761,#c0fa6c,#bafa78,#b8fa7b,#a9fa9d,#90f7d6,#72d5fd,#68c5fe,#4c9eff,#215dff,#1c54ff,#1d56ff,#3883ff,#2d75ff,#7ae3fb,#8ff7d9,#8af4e7)"></i><i style="left:395.10px;top:177.10px;width:66.00px;height:66.00px;background:conic-gradient(from 5deg,#8ef6dc,#93f8d1,#b6fa7f,#a7faa1,#bafa77,#b1fa8b,#a0fab2,#a2faad,#8cf5e2,#8ef6dc,#87f3ed,#7de8fb,#84f1f5,#7feafb,#8ef6db,#8af4e6,#93f9cf,#b6fa80,#b3fa86,#b4fa85,#c5f968,#b4fa85,#a9fa9c,#a1faaf,#98fac3,#8ff7d9,#7be5fb,#6fd0fd,#4898ff,#194dff,#1d54ff,#1d56ff,#3c89ff,#4594ff,#6fd1fd,#84f1f6,#8ef6dc)"></i><i style="left:397.10px;top:179.10px;width:62.00px;height:62.00px;background:conic-gradient(from 5deg,#71d4fd,#8df6de,#91f8d4,#94f9cd,#9afac0,#8ff6da,#96fac8,#8df5df,#8af4e5,#85f1f4,#76dbfc,#81eefa,#6ac8fe,#7fecfa,#85f2f2,#7ce6fb,#8ef6dd,#93f8d0,#92f8d1,#93f8d0,#a5faa5,#96fac9,#94f9cd,#8ff7d9,#84f1f5,#7ae2fb,#57adff,#50a4ff,#215fff,#0f35ff,#0d32ff,#184bff,#205bff,#2464ff,#51a4ff,#6bc9fe,#71d4fd)"></i><i style="left:399.10px;top:181.10px;width:58.00px;height:58.00px;background:conic-gradient(from 5deg,#5eb6ff,#5cb3ff,#6cccfe,#7be5fb,#6ccbfe,#7ee9fb,#77defc,#83f1f7,#6ccbfe,#6fd1fd,#72d6fd,#63bdff,#58aeff,#61baff,#56acff,#5cb4ff,#53a7ff,#75dafc,#66c1ff,#7ae3fb,#76dcfc,#7be4fb,#79e2fb,#5fb8ff,#61baff,#2a71ff,#2669ff,#215fff,#1646ff,#0d31ff,#0218ff,#0621ff,#113aff,#113aff,#215fff,#4494ff,#5eb6ff)"></i><i style="left:401.60px;top:183.60px;width:53.00px;height:53.00px;background:conic-gradient(from 5deg,#276cff,#2568ff,#3079ff,#52a6ff,#4494ff,#3f8dff,#4b9cff,#64beff,#5cb4ff,#66c2ff,#61baff,#51a5ff,#499aff,#52a6ff,#317aff,#4da0ff,#2c73ff,#2669ff,#3e8bff,#3b88ff,#4290ff,#3c88ff,#53a7ff,#3680ff,#2a70ff,#1440ff,#1038ff,#0f36ff,#0621ff,#0014fd,#000bd2,#0010e9,#0014ff,#0520ff,#1b52ff,#2a71ff,#276cff)"></i><i style="left:405.10px;top:187.10px;width:46.00px;height:46.00px;background:conic-gradient(from 5deg,#1c53ff,#2e76ff,#3c88ff,#286eff,#347dff,#327bff,#4392ff,#499aff,#60b9ff,#57adff,#51a5ff,#4b9cff,#3c89ff,#4898ff,#4392ff,#276bff,#2568ff,#205cff,#2567ff,#2464ff,#3b87ff,#4594ff,#50a3ff,#276dff,#194cff,#1747ff,#0927ff,#0f35ff,#0219ff,#0010ec,#000acc,#0012f2,#0011ed,#0723ff,#1644ff,#2466ff,#1c53ff)"></i><i style="left:408.60px;top:190.60px;width:39.00px;height:39.00px;background:conic-gradient(from 5deg,#2465ff,#2260ff,#2260ff,#2b72ff,#418fff,#337cff,#4696ff,#4ea0ff,#51a5ff,#55abff,#4290ff,#4291ff,#4493ff,#2669ff,#2b72ff,#3884ff,#3580ff,#1d55ff,#266aff,#286eff,#3782ff,#2f77ff,#276bff,#2567ff,#215eff,#1544ff,#0520ff,#0a2bff,#0724ff,#0217ff,#000bd2,#000ee2,#0010eb,#0a2aff,#133eff,#1849ff,#2465ff)"></i><i style="left:412.10px;top:194.10px;width:32.00px;height:32.00px;background:conic-gradient(from 5deg,#1f59ff,#1b52ff,#276bff,#2362ff,#286dff,#347eff,#2568ff,#4291ff,#2f77ff,#4fa3ff,#286dff,#3984ff,#266aff,#2260ff,#2466ff,#2465ff,#215dff,#1b50ff,#215eff,#1f59ff,#3079ff,#2466ff,#2669ff,#1f5aff,#2261ff,#0f35ff,#0d32ff,#0f36ff,#0520ff,#0723ff,#0011ef,#000ee1,#0010ea,#0928ff,#1a4eff,#1646ff,#1f59ff)"></i><i style="left:415.60px;top:197.60px;width:25.00px;height:25.00px;background:conic-gradient(from 5deg,#194bff,#1f5aff,#1b50ff,#1b51ff,#2260ff,#215fff,#317aff,#3681ff,#2568ff,#2e76ff,#266aff,#1e57ff,#2260ff,#286eff,#1e57ff,#215eff,#215eff,#1645ff,#2363ff,#1849ff,#1c54ff,#2465ff,#1a4fff,#1d55ff,#133eff,#113aff,#0520ff,#0622ff,#0520ff,#0014fe,#0012f4,#0012f6,#051fff,#0622ff,#184bff,#1748ff,#194bff)"></i><i style="left:419.10px;top:201.10px;width:18.00px;height:18.00px;background:conic-gradient(from 5deg,#133eff,#1441ff,#1f5aff,#1442ff,#205cff,#1747ff,#2568ff,#1f59ff,#2363ff,#276cff,#1a4fff,#1849ff,#205bff,#1d56ff,#1f5aff,#1748ff,#1a4dff,#1441ff,#184aff,#1646ff,#1c53ff,#194bff,#194bff,#1d54ff,#1037ff,#1645ff,#0e33ff,#0929ff,#0621ff,#0a2aff,#0825ff,#0a2bff,#0723ff,#0c2fff,#194bff,#133eff,#133eff)"></i><i style="left:422.60px;top:204.60px;width:11.00px;height:11.00px;background:conic-gradient(from 5deg,#1b50ff,#1a4eff,#1c53ff,#1c52ff,#113bff,#1a4fff,#1849ff,#123dff,#1f59ff,#194dff,#1c52ff,#1748ff,#0f36ff,#1b50ff,#1038ff,#113aff,#1645ff,#0f36ff,#1340ff,#1749ff,#0e34ff,#1749ff,#0f36ff,#1441ff,#1544ff,#1441ff,#0928ff,#0b2cff,#1646ff,#0c30ff,#0c30ff,#0b2dff,#113aff,#133fff,#1441ff,#113bff,#1b50ff)"></i><i style="left:484.30px;top:156.80px;width:106.60px;height:106.60px;background:conic-gradient(from 5deg,#a1faaf,#96fac8,#8bf5e2,#8ff7d9,#8df6de,#89f4e7,#88f3ea,#77defc,#7ce5fb,#66c1ff,#60b9ff,#3985ff,#2566ff,#1d56ff,#1e58ff,#1543ff,#1d56ff,#194bff,#1748ff,#215fff,#499bff,#68c5fe,#72d6fd,#66c1ff,#3b87ff,#2464ff,#2261ff,#1c53ff,#1e57ff,#1a4eff,#1a4eff,#2362ff,#2567ff,#6ecffd,#89f3e9,#a6faa4,#a1faaf)"></i><i style="left:487.10px;top:159.60px;width:101.00px;height:101.00px;background:conic-gradient(from 5deg,#9efab6,#95fac9,#92f8d3,#88f3eb,#8bf5e3,#89f4e8,#7eeafb,#87f2ef,#77defc,#69c6fe,#74d9fc,#3c88ff,#2566ff,#1c54ff,#1e57ff,#286eff,#276bff,#2669ff,#2363ff,#317aff,#68c4fe,#6cccfe,#87f2ef,#84f1f6,#4fa1ff,#3f8cff,#1a4fff,#2363ff,#215fff,#1a4fff,#133fff,#1646ff,#1749ff,#54a8ff,#87f2ee,#9dfab9,#9efab6)"></i><i style="left:490.10px;top:162.60px;width:95.00px;height:95.00px;background:conic-gradient(from 5deg,#a0fab2,#a8faa0,#9afac0,#96fac7,#93f8d0,#91f7d6,#90f7d6,#8af4e5,#84f1f5,#7de7fb,#80edfa,#57adff,#357fff,#347eff,#4393ff,#4fa2ff,#4798ff,#4a9bff,#57adff,#62bbff,#6ecefd,#84f1f5,#95f9cb,#95faca,#7ce7fb,#4696ff,#276cff,#1c52ff,#1c52ff,#1542ff,#0115ff,#0013fa,#1039ff,#3985ff,#8ef6dd,#b1fa8a,#a0fab2)"></i><i style="left:493.10px;top:165.60px;width:89.00px;height:89.00px;background:conic-gradient(from 5deg,#abfa9a,#b2fa89,#a8faa0,#95faca,#a7faa1,#92f8d3,#8cf5e1,#8bf5e3,#82f0fa,#86f2ef,#7febfb,#7ee9fb,#5fb7ff,#68c5fe,#69c6fe,#66c2ff,#60b9ff,#67c4fe,#6fd1fd,#78e0fc,#89f3e9,#92f8d1,#bbfa75,#eff245,#bbfa76,#59b0ff,#2567ff,#1b51ff,#1139ff,#0014ff,#0012f3,#0116ff,#0b2cff,#3f8cff,#8af4e6,#a8faa0,#abfa9a)"></i><i style="left:496.10px;top:168.60px;width:83.00px;height:83.00px;background:conic-gradient(from 5deg,#a2faad,#9bfabc,#aefa91,#a9fa9d,#adfa94,#96fac8,#9cfaba,#8ff7d9,#8af4e5,#88f3ec,#7be4fb,#7fecfa,#7ae3fb,#77defc,#6fd0fd,#81effa,#8af4e7,#90f7d8,#8ef6db,#8bf5e3,#a6faa4,#b3fa87,#d5f65b,#fad735,#dcf555,#8df6de,#4595ff,#3f8dff,#1b50ff,#031cff,#0219ff,#0218ff,#0a2bff,#296fff,#85f2f2,#99fac1,#a2faad)"></i><i style="left:498.60px;top:171.10px;width:78.00px;height:78.00px;background:conic-gradient(from 5deg,#a8fa9f,#b3fa87,#d7f659,#b9fa79,#bbfa75,#b3fa87,#b2fa89,#a3faab,#8ef6dc,#8af4e6,#87f2ee,#7de8fb,#80edfa,#88f3ea,#80edfa,#87f3ed,#95faca,#92f8d1,#a8faa0,#a2faad,#c6f967,#d7f659,#def553,#f2f142,#dbf556,#a2faac,#77defc,#66c1ff,#215fff,#0929ff,#0622ff,#0623ff,#1b51ff,#2669ff,#78dffc,#93f8d0,#a8fa9f)"></i><i style="left:500.60px;top:173.10px;width:74.00px;height:74.00px;background:conic-gradient(from 5deg,#9bfabd,#c1fa6c,#c8f865,#d7f659,#d0f75f,#c7f866,#a6faa4,#95fac9,#8ef6dd,#91f7d6,#81eefa,#85f1f4,#7be4fb,#86f2f0,#90f7d6,#88f3ec,#94f9ce,#9ffab4,#a4faa8,#bafa77,#dbf556,#def553,#e1f451,#fae338,#f1f143,#a2faad,#87f3ed,#7ae2fb,#2362ff,#0f35ff,#031aff,#0011f1,#0e33ff,#3d89ff,#82f0fa,#90f7d7,#9bfabd)"></i><i style="left:502.60px;top:175.10px;width:70.00px;height:70.00px;background:conic-gradient(from 5deg,#a7faa3,#c0fa6d,#d7f659,#e0f451,#d7f659,#b5fa83,#bdfa70,#a7faa1,#8bf5e3,#8df6de,#88f3eb,#85f1f3,#80ecfa,#83f0f8,#88f3eb,#8ef6dd,#91f8d4,#b3fa87,#bafa78,#b8fa7b,#dbf556,#e0f452,#ddf554,#fae739,#f7f03e,#a4faa8,#79e1fc,#69c6fe,#2f77ff,#0623ff,#0116ff,#000fe5,#0d32ff,#286dff,#83f0f9,#91f7d6,#a7faa3)"></i><i style="left:504.60px;top:177.10px;width:66.00px;height:66.00px;background:conic-gradient(from 5deg,#90f7d8,#b0fa8c,#b3fa86,#c8f866,#acfa97,#a6faa3,#adfa94,#9efab5,#8bf4e4,#89f4e8,#7be4fb,#77defc,#72d6fd,#86f2ef,#8af4e6,#8df5e0,#90f7d6,#9efab5,#95f9cb,#aafa9a,#b8fa7b,#befa6e,#dbf556,#d3f65c,#c9f865,#92f8d3,#7eeafb,#65bfff,#2260ff,#031cff,#0218ff,#031aff,#0e34ff,#276cff,#7be4fb,#8df6de,#90f7d8)"></i><i style="left:506.60px;top:179.10px;width:62.00px;height:62.00px;background:conic-gradient(from 5deg,#84f1f4,#89f4e8,#96fac9,#a3faac,#92f8d2,#93f8d0,#9cfaba,#8df6de,#87f2ee,#8bf4e4,#87f3ed,#73d7fd,#66c2ff,#7ae3fb,#82f0f9,#85f2f2,#86f2f0,#85f2f2,#89f4e7,#8cf5e0,#95f9cb,#9cfab9,#b2fa89,#b2fa89,#9efab5,#79e2fb,#59afff,#286eff,#1f5aff,#051eff,#0115ff,#0010eb,#0f36ff,#1544ff,#63bdff,#88f3ec,#84f1f4)"></i><i style="left:508.60px;top:181.10px;width:58.00px;height:58.00px;background:conic-gradient(from 5deg,#5ab0ff,#75dbfc,#73d7fd,#87f2ee,#84f1f4,#83f1f7,#80edfa,#88f3ea,#86f2ef,#78dffc,#86f2f1,#69c6fe,#65c0ff,#65c0ff,#6bcafe,#72d6fd,#74d9fc,#6ccbfe,#66c1ff,#68c5fe,#75dbfc,#87f2ee,#8af4e5,#85f1f3,#7ce5fb,#3782ff,#1d56ff,#1a4eff,#0929ff,#0622ff,#0011f0,#0010ec,#0012f7,#0d31ff,#276cff,#56acff,#5ab0ff)"></i><i style="left:511.10px;top:183.60px;width:53.00px;height:53.00px;background:conic-gradient(from 5deg,#286dff,#4b9cff,#53a7ff,#5ab1ff,#5cb3ff,#63bcff,#6fd0fd,#82f0fa,#85f2f2,#76dbfc,#80ecfa,#6bcafe,#66c1ff,#62bbff,#4ea0ff,#4999ff,#59afff,#55aaff,#4b9cff,#68c5fe,#73d6fd,#6ecffd,#6ccbfe,#6ecefd,#4b9dff,#1d55ff,#0d32ff,#113aff,#0218ff,#0117ff,#0011ed,#000cd6,#000fe6,#031bff,#1543ff,#215eff,#286dff)"></i><i style="left:514.60px;top:187.10px;width:46.00px;height:46.00px;background:conic-gradient(from 5deg,#1d55ff,#1f5aff,#3b87ff,#4898ff,#64bdff,#60b9ff,#6cccfe,#6fd1fd,#7be5fb,#70d3fd,#82f0fa,#71d3fd,#65c0ff,#65c0ff,#4ea1ff,#4fa2ff,#4290ff,#53a7ff,#347eff,#4ea1ff,#6ccbfe,#74d9fc,#76ddfc,#5bb2ff,#3179ff,#205cff,#0d32ff,#113bff,#051eff,#0117ff,#000fe5,#0010ec,#0013fb,#0013fc,#1543ff,#0e34ff,#1d55ff)"></i><i style="left:518.10px;top:190.60px;width:39.00px;height:39.00px;background:conic-gradient(from 5deg,#184aff,#133eff,#266bff,#3883ff,#50a4ff,#4493ff,#4c9eff,#6dcdfe,#6dcdfe,#73d7fc,#67c2ff,#4da0ff,#61baff,#499aff,#4fa3ff,#3680ff,#3781ff,#408eff,#4493ff,#4899ff,#4ea1ff,#65bfff,#67c2ff,#4898ff,#317aff,#1c53ff,#133fff,#0928ff,#051eff,#0012f4,#000bd1,#000cd7,#0012f3,#0218ff,#051fff,#1440ff,#184aff)"></i><i style="left:521.60px;top:194.10px;width:32.00px;height:32.00px;background:conic-gradient(from 5deg,#0c2fff,#1c53ff,#1c54ff,#2465ff,#2c73ff,#3a85ff,#3a86ff,#5cb3ff,#65bfff,#4d9fff,#59b0ff,#50a3ff,#4594ff,#3782ff,#4ea1ff,#4899ff,#2464ff,#276bff,#276bff,#286dff,#3b87ff,#56abff,#3984ff,#4c9eff,#2363ff,#113bff,#1646ff,#0b2cff,#051fff,#0012f4,#0011ee,#000dda,#000fe5,#0014ff,#0d30ff,#0f37ff,#0c2fff)"></i><i style="left:525.10px;top:197.60px;width:25.00px;height:25.00px;background:conic-gradient(from 5deg,#0f35ff,#1747ff,#2260ff,#276dff,#2465ff,#3782ff,#3985ff,#3984ff,#3b87ff,#3580ff,#2b71ff,#4190ff,#327cff,#2464ff,#3a86ff,#347eff,#1e57ff,#266aff,#1f5bff,#266aff,#3782ff,#2c73ff,#347eff,#327bff,#1c53ff,#194bff,#0f36ff,#1646ff,#0723ff,#0a29ff,#0011ed,#0012f4,#0012f2,#0218ff,#0d32ff,#0b2eff,#0f35ff)"></i><i style="left:528.60px;top:201.10px;width:18.00px;height:18.00px;background:conic-gradient(from 5deg,#1645ff,#0e34ff,#1b51ff,#2363ff,#1a4eff,#1c53ff,#266aff,#2465ff,#337dff,#2364ff,#2364ff,#2e76ff,#205bff,#2a71ff,#276cff,#1b51ff,#1f5aff,#2465ff,#1849ff,#2466ff,#2568ff,#276cff,#2568ff,#1b52ff,#2362ff,#0f35ff,#1543ff,#133fff,#0a2cff,#0d30ff,#0520ff,#0929ff,#0014ff,#113aff,#0c30ff,#1544ff,#1645ff)"></i><i style="left:532.10px;top:204.60px;width:11.00px;height:11.00px;background:conic-gradient(from 5deg,#1139ff,#1748ff,#113aff,#1647ff,#0f36ff,#1747ff,#113aff,#1e57ff,#1c52ff,#1849ff,#205cff,#1f59ff,#1e59ff,#113aff,#1a4fff,#1a4fff,#1849ff,#0e34ff,#1c53ff,#1544ff,#194bff,#1d54ff,#1542ff,#1038ff,#1b52ff,#0f35ff,#0a2aff,#0b2cff,#1748ff,#123cff,#0927ff,#0724ff,#133fff,#113aff,#113bff,#0b2dff,#1139ff)"></i><i style="left:46.50px;top:265.80px;width:106.60px;height:106.60px;background:conic-gradient(from 5deg,#1d54ff,#215eff,#0d31ff,#0e34ff,#0723ff,#194cff,#1543ff,#347dff,#418fff,#3f8dff,#296fff,#4697ff,#4392ff,#4595ff,#3079ff,#2a70ff,#2464ff,#133fff,#1d56ff,#113bff,#0825ff,#0116ff,#0218ff,#1340ff,#4da0ff,#94f9cd,#bafa77,#befa6f,#b2fa8a,#87f3ed,#64beff,#5eb5ff,#53a8ff,#347dff,#2669ff,#184bff,#1d54ff)"></i><i style="left:49.30px;top:268.60px;width:101.00px;height:101.00px;background:conic-gradient(from 5deg,#286eff,#1e58ff,#205cff,#194dff,#184bff,#1c53ff,#1d56ff,#3680ff,#317aff,#418fff,#4595ff,#51a5ff,#3f8dff,#4798ff,#51a5ff,#3c88ff,#2a71ff,#1544ff,#1544ff,#0f36ff,#113bff,#0b2dff,#0724ff,#1747ff,#4797ff,#8cf5e2,#b7fa7d,#b3fa86,#9ffab5,#8bf4e4,#77defc,#74d8fc,#66c2ff,#3d8aff,#2b72ff,#225fff,#286eff)"></i><i style="left:52.30px;top:271.60px;width:95.00px;height:95.00px;background:conic-gradient(from 5deg,#2464ff,#2465ff,#1e57ff,#1c52ff,#1b51ff,#1d56ff,#3680ff,#286eff,#327cff,#4fa2ff,#4696ff,#4da0ff,#57adff,#50a4ff,#4392ff,#276cff,#2d75ff,#2566ff,#194cff,#1748ff,#0e33ff,#031bff,#0d32ff,#194cff,#3783ff,#83f1f7,#a2faad,#a9fa9e,#93f9cf,#88f3ec,#75dafc,#7de8fb,#77ddfc,#61bbff,#286eff,#286dff,#2464ff)"></i><i style="left:55.30px;top:274.60px;width:89.00px;height:89.00px;background:conic-gradient(from 5deg,#3e8bff,#317aff,#266aff,#205cff,#1e58ff,#2f77ff,#266aff,#50a4ff,#56abff,#51a5ff,#64beff,#69c7fe,#63bdff,#52a6ff,#5cb3ff,#408eff,#2567ff,#296fff,#2464ff,#1544ff,#0f37ff,#0b2cff,#0c2eff,#133eff,#3a86ff,#85f2f2,#8ef6dc,#97fac7,#8df6de,#8ef6dc,#88f3eb,#78dffc,#78e0fc,#51a4ff,#3e8cff,#337dff,#3e8bff)"></i><i style="left:58.30px;top:277.60px;width:83.00px;height:83.00px;background:conic-gradient(from 5deg,#5ab1ff,#4899ff,#357fff,#3681ff,#4696ff,#3b88ff,#4b9dff,#6ac7fe,#7febfb,#76dcfc,#72d6fd,#81eefa,#7be4fb,#87f2ee,#77defc,#6ccbfe,#58aeff,#54a9ff,#327bff,#2465ff,#194cff,#1442ff,#133fff,#1b51ff,#4797ff,#6fd0fd,#87f3ed,#88f3eb,#8df5df,#8df5df,#83f1f7,#89f3e9,#7ae3fb,#81effa,#64beff,#5eb6ff,#5ab1ff)"></i><i style="left:60.80px;top:280.10px;width:78.00px;height:78.00px;background:conic-gradient(from 5deg,#8ef6dc,#86f2ef,#79e1fc,#86f2ef,#7de7fb,#85f1f4,#84f1f4,#90f7d6,#98fac3,#9cfaba,#a8fa9e,#bafa76,#bafa78,#b2fa8a,#cdf862,#bafa77,#95f9cb,#8cf5e2,#87f3ed,#7febfb,#4fa2ff,#3a86ff,#2c73ff,#2d75ff,#4291ff,#5eb7ff,#7ae3fb,#7fecfa,#88f3eb,#92f8d3,#8ff6da,#8af4e5,#8cf5e2,#8bf5e3,#8cf5e0,#91f7d5,#8ef6dc)"></i><i style="left:62.80px;top:282.10px;width:74.00px;height:74.00px;background:conic-gradient(from 5deg,#cdf761,#aefa93,#95f9cc,#91f7d5,#9ffab4,#99fac2,#95f9cc,#adfa95,#f1f143,#e1f451,#fae539,#f7f03e,#fad735,#fad234,#faaa28,#facb32,#e6f34d,#c1fa6c,#c6f967,#9cfaba,#7ee9fb,#75dbfc,#5bb2ff,#4ea0ff,#499aff,#6dcdfd,#4fa2ff,#6ac8fe,#83f1f6,#90f7d7,#96fac9,#aefa91,#a6faa5,#a6faa5,#bdfa70,#caf864,#cdf761)"></i><i style="left:64.80px;top:284.10px;width:70.00px;height:70.00px;background:conic-gradient(from 5deg,#d5f65b,#affa8f,#aafa9a,#94f9ce,#94f9cc,#95faca,#a2faad,#c7f866,#f5f140,#fae338,#fac931,#fac931,#fad534,#f9a027,#fab02a,#faa928,#faea3a,#e3f44f,#d9f557,#94f9cd,#7ee9fb,#83f1f7,#73d6fd,#50a4ff,#63bdff,#67c3ff,#59afff,#57adff,#88f3ec,#94f9ce,#95f9cb,#a0fab1,#b4fa85,#b0fa8f,#c4f969,#d8f658,#d5f65b)"></i><i style="left:66.80px;top:286.10px;width:66.00px;height:66.00px;background:conic-gradient(from 5deg,#c4f969,#a9fa9e,#9dfab8,#8ff6da,#92f8d2,#9efab6,#a1faae,#c7f967,#e9f34a,#eaf349,#fae93a,#fae138,#faf03c,#fad835,#face32,#fab32b,#edf247,#c7f866,#bdfa70,#8ef6dd,#80ecfa,#79e1fc,#6dccfe,#64bfff,#51a4ff,#4ea1ff,#67c3fe,#6bc9fe,#83f0f8,#91f8d4,#92f8d3,#aafa9b,#abfa9a,#b7fa7d,#b4fa84,#bffa6d,#c4f969)"></i><i style="left:68.80px;top:288.10px;width:62.00px;height:62.00px;background:conic-gradient(from 5deg,#8ff7d8,#8cf5e1,#88f3ec,#7eeafb,#85f1f3,#80edfa,#89f3e9,#92f8d3,#9dfab8,#9cfaba,#a0fab1,#b9fa7a,#b8fa7c,#b1fa8c,#b0fa8e,#acfa96,#a7faa2,#87f2ee,#8df5df,#73d7fc,#4ea1ff,#4493ff,#347eff,#3681ff,#327cff,#63bcff,#4fa2ff,#56acff,#7de8fb,#88f3ec,#8af4e5,#8cf5e2,#91f8d4,#86f2f0,#87f3ec,#8df5e0,#8ff7d8)"></i><i style="left:70.80px;top:290.10px;width:58.00px;height:58.00px;background:conic-gradient(from 5deg,#5cb4ff,#408eff,#4a9cff,#54a9ff,#3e8bff,#4c9eff,#5db5ff,#62bbff,#5fb7ff,#64bdff,#5db5ff,#73d8fc,#6dcdfe,#6ccbfe,#5eb6ff,#62bbff,#4392ff,#3e8bff,#296fff,#2d75ff,#205cff,#1a4eff,#1a4eff,#205dff,#266aff,#51a5ff,#418fff,#65c0ff,#62bcff,#5bb2ff,#63bdff,#499aff,#52a5ff,#5cb4ff,#5fb7ff,#4ea0ff,#5cb4ff)"></i><i style="left:73.30px;top:292.60px;width:53.00px;height:53.00px;background:conic-gradient(from 5deg,#3b87ff,#3078ff,#2363ff,#2669ff,#2568ff,#347eff,#2a71ff,#286dff,#2e76ff,#2567ff,#3c89ff,#357fff,#276cff,#2567ff,#215eff,#215eff,#1748ff,#1d55ff,#1c53ff,#1749ff,#1748ff,#0a2bff,#0a2bff,#123bff,#184aff,#286eff,#4fa2ff,#4b9dff,#4b9dff,#286eff,#2568ff,#215fff,#2567ff,#215fff,#2970ff,#2567ff,#3b87ff)"></i><i style="left:76.80px;top:296.10px;width:46.00px;height:46.00px;background:conic-gradient(from 5deg,#2c73ff,#2a71ff,#3079ff,#2970ff,#3b88ff,#3884ff,#3680ff,#296fff,#276cff,#2465ff,#1e58ff,#2261ff,#2260ff,#1a4fff,#2363ff,#1f5bff,#1b50ff,#1748ff,#123cff,#0d30ff,#0e33ff,#1442ff,#184aff,#0d32ff,#123dff,#1f5aff,#2465ff,#296fff,#1f5bff,#296fff,#1e58ff,#266aff,#1e58ff,#205bff,#205cff,#3680ff,#2c73ff)"></i><i style="left:80.30px;top:299.60px;width:39.00px;height:39.00px;background:conic-gradient(from 5deg,#2568ff,#2d75ff,#205cff,#2b72ff,#347dff,#3b88ff,#3680ff,#1f5aff,#2260ff,#3078ff,#2261ff,#2669ff,#194bff,#1441ff,#215eff,#1340ff,#1442ff,#0f35ff,#123cff,#1748ff,#1749ff,#1646ff,#0d31ff,#1749ff,#1038ff,#1c52ff,#276cff,#1d55ff,#1e56ff,#1f5aff,#184aff,#1f59ff,#1f59ff,#194bff,#286eff,#1d55ff,#2568ff)"></i><i style="left:83.80px;top:303.10px;width:32.00px;height:32.00px;background:conic-gradient(from 5deg,#2362ff,#1e58ff,#1c54ff,#1d55ff,#3079ff,#286eff,#215fff,#2567ff,#276bff,#2669ff,#1e58ff,#184aff,#1a4eff,#205cff,#1b51ff,#184aff,#1849ff,#0f36ff,#113aff,#1544ff,#0b2eff,#1645ff,#0928ff,#123dff,#1747ff,#1442ff,#2363ff,#1c53ff,#1748ff,#194dff,#1b50ff,#1849ff,#123cff,#1544ff,#215eff,#1a4dff,#2362ff)"></i><i style="left:87.30px;top:306.60px;width:25.00px;height:25.00px;background:conic-gradient(from 5deg,#1749ff,#215dff,#2362ff,#2465ff,#194dff,#1646ff,#215eff,#1d56ff,#194cff,#1440ff,#194cff,#1441ff,#184aff,#1e56ff,#113aff,#0d31ff,#1441ff,#0a2aff,#0b2dff,#0f35ff,#1748ff,#0d31ff,#0d31ff,#1039ff,#0e34ff,#1544ff,#1c53ff,#1747ff,#1d56ff,#133eff,#1039ff,#184aff,#1645ff,#1f59ff,#1440ff,#1f59ff,#1749ff)"></i><i style="left:90.80px;top:310.10px;width:18.00px;height:18.00px;background:conic-gradient(from 5deg,#194dff,#1544ff,#123dff,#1a50ff,#1d55ff,#184bff,#1849ff,#1a4fff,#194bff,#1544ff,#113aff,#1442ff,#1542ff,#1a4dff,#1b50ff,#123eff,#0d32ff,#0b2cff,#113aff,#133eff,#0b2dff,#123cff,#1747ff,#0e34ff,#184bff,#133fff,#184aff,#1b51ff,#1139ff,#123cff,#1b51ff,#0d31ff,#113aff,#1442ff,#1a4eff,#194cff,#194dff)"></i><i style="left:94.30px;top:313.60px;width:11.00px;height:11.00px;background:conic-gradient(from 5deg,#184aff,#1441ff,#0a2bff,#0b2eff,#0b2dff,#113aff,#0a2cff,#123cff,#133fff,#0d30ff,#1646ff,#0f36ff,#1748ff,#0e33ff,#123cff,#1038ff,#0b2dff,#133eff,#0723ff,#0a2bff,#0c2eff,#1441ff,#0e34ff,#0725ff,#0c30ff,#123cff,#1544ff,#0b2cff,#1543ff,#0f35ff,#1039ff,#0f35ff,#0f36ff,#184aff,#1749ff,#1849ff,#184aff)"></i><i style="left:156.10px;top:265.80px;width:106.60px;height:106.60px;background:conic-gradient(from 5deg,#205dff,#1d56ff,#113aff,#0b2eff,#1646ff,#1646ff,#1c52ff,#1e57ff,#2260ff,#337cff,#276cff,#205cff,#2669ff,#266aff,#215eff,#3079ff,#276bff,#2362ff,#1645ff,#1a4eff,#123cff,#184aff,#184aff,#1f59ff,#3b87ff,#51a5ff,#6bc9fe,#6fd0fd,#79e0fc,#65c0ff,#4494ff,#327bff,#4493ff,#2261ff,#1f5aff,#1646ff,#205dff)"></i><i style="left:158.90px;top:268.60px;width:101.00px;height:101.00px;background:conic-gradient(from 5deg,#337dff,#2363ff,#286dff,#276cff,#2464ff,#317bff,#3782ff,#4b9dff,#56acff,#3782ff,#51a5ff,#3f8dff,#4493ff,#4595ff,#59afff,#2b71ff,#2c73ff,#215fff,#3681ff,#2363ff,#2261ff,#1c52ff,#1e57ff,#1e57ff,#3b87ff,#72d5fd,#85f1f3,#88f3eb,#74d9fc,#74d8fc,#61baff,#54a9ff,#4899ff,#408eff,#2464ff,#205bff,#337dff)"></i><i style="left:161.90px;top:271.60px;width:95.00px;height:95.00px;background:conic-gradient(from 5deg,#3078ff,#2c73ff,#2e76ff,#4c9eff,#4ea1ff,#4ea1ff,#4a9cff,#69c6fe,#73d7fd,#6ecefd,#62bbff,#6dcdfd,#69c6fe,#65c0ff,#5bb2ff,#66c2ff,#4d9fff,#4d9fff,#2e76ff,#296fff,#276cff,#1c52ff,#1e57ff,#286dff,#4c9eff,#82effa,#87f3ec,#89f3e9,#85f1f4,#80edfa,#68c4fe,#55aaff,#71d4fd,#5eb6ff,#357fff,#2970ff,#3078ff)"></i><i style="left:164.90px;top:274.60px;width:89.00px;height:89.00px;background:conic-gradient(from 5deg,#499aff,#63bcff,#5cb4ff,#63bdff,#75dafc,#69c6fe,#78dffc,#83f0f8,#83f0f8,#7feafb,#84f1f5,#84f1f6,#85f1f3,#86f2ef,#83f1f6,#76dcfc,#58aeff,#67c2ff,#60b9ff,#4c9eff,#2b72ff,#286dff,#3a86ff,#3782ff,#52a6ff,#85f2f2,#8ff6da,#86f2ef,#88f3eb,#84f1f4,#71d4fd,#75dafc,#7be4fb,#71d3fd,#62bcff,#58aeff,#499aff)"></i><i style="left:167.90px;top:277.60px;width:83.00px;height:83.00px;background:conic-gradient(from 5deg,#75dafc,#79e2fb,#85f1f3,#93f9cf,#95f9cb,#96fac7,#8ef6dc,#9dfab8,#93f9cf,#96fac9,#94f9ce,#a3faab,#a2faad,#a5faa5,#97fac5,#9afabe,#85f2f2,#7febfb,#7de8fb,#63bcff,#54a9ff,#3e8bff,#50a3ff,#3e8cff,#55aaff,#73d8fc,#87f2ee,#87f3ed,#84f1f5,#85f2f2,#82f0fa,#77defc,#83f1f7,#74d9fc,#71d4fd,#6cccfe,#75dafc)"></i><i style="left:170.40px;top:280.10px;width:78.00px;height:78.00px;background:conic-gradient(from 5deg,#8df5e0,#9cfabc,#c0fa6c,#c1fa6c,#b2fa89,#b7fa7f,#c5f968,#c6f967,#b8fa7b,#bafa76,#c9f865,#caf864,#bafa78,#d9f557,#cef761,#cff760,#acfa97,#91f7d5,#95faca,#86f2ef,#78dffc,#74d9fc,#73d7fc,#73d7fd,#74d9fc,#78dffc,#83f0f8,#82f0fa,#85f2f2,#84f1f5,#81eefa,#80edfa,#8cf5e1,#8bf4e4,#8af4e5,#94f9ce,#8df5e0)"></i><i style="left:172.40px;top:282.10px;width:74.00px;height:74.00px;background:conic-gradient(from 5deg,#a8faa0,#d0f75f,#e4f44e,#e8f34b,#f1f143,#f2f142,#faed3b,#faec3b,#f7f03e,#e5f34d,#f3f142,#edf247,#faec3b,#faf03c,#fae439,#f2f143,#d7f659,#b2fa88,#a3faab,#8ff6da,#89f4e7,#81eefa,#78dffc,#75dbfc,#73d6fd,#79e2fb,#7ce6fb,#78dffc,#70d2fd,#6ccbfe,#7febfb,#90f7d8,#91f7d5,#94f9ce,#9afabe,#b1fa8b,#a8faa0)"></i><i style="left:174.40px;top:284.10px;width:70.00px;height:70.00px;background:conic-gradient(from 5deg,#bcfa73,#e2f450,#e5f44e,#eef246,#f0f244,#f5f140,#f6f13f,#f6f13f,#fadc36,#f8f03e,#faed3b,#fadc36,#fae739,#fad635,#fab92c,#fad534,#daf557,#cdf761,#b5fa82,#9efab6,#88f3eb,#8ef6dc,#84f1f5,#82f0fa,#75dbfc,#85f1f3,#78dffc,#75dbfc,#84f1f4,#74d8fc,#79e1fb,#8cf5e2,#a5faa5,#94f9cc,#a2faae,#bffa6d,#bcfa73)"></i><i style="left:176.40px;top:286.10px;width:66.00px;height:66.00px;background:conic-gradient(from 5deg,#acfa96,#d1f75e,#faf03c,#faec3b,#fae93a,#e9f34a,#fae439,#f2f143,#fae739,#f6f140,#fae438,#f6f140,#f0f244,#faef3c,#face32,#fae83a,#d9f557,#c6f967,#b3fa87,#a3faab,#88f3eb,#8af4e7,#84f1f5,#70d2fd,#73d7fc,#84f1f4,#82f0fa,#7be5fb,#7eeafb,#84f1f6,#86f2ef,#8cf5e0,#90f7d7,#a5faa5,#9dfab8,#abfa98,#acfa96)"></i><i style="left:178.40px;top:288.10px;width:62.00px;height:62.00px;background:conic-gradient(from 5deg,#95f9cb,#b5fa83,#d1f75e,#d5f65b,#d7f659,#ccf862,#e2f450,#def554,#d7f659,#e9f34a,#ecf248,#eaf349,#edf247,#d9f557,#edf247,#e6f34d,#b8fa7b,#a5faa6,#a1faae,#88f3eb,#83f1f7,#86f2f0,#7feafb,#68c5fe,#5fb7ff,#6ecefd,#72d6fd,#7ae3fb,#68c4fe,#6ac7fe,#81effa,#78e0fc,#8ef6dc,#8af4e7,#96fac7,#97fac6,#95f9cb)"></i><i style="left:180.40px;top:290.10px;width:58.00px;height:58.00px;background:conic-gradient(from 5deg,#87f2ef,#86f2f0,#9bfabd,#95fac9,#95faca,#97fac6,#9bfabd,#a9fa9e,#bdfa71,#abfa98,#b3fa86,#9cfaba,#a8faa0,#adfa95,#a0fab2,#9efab5,#8af4e5,#77ddfc,#7fecfa,#6ccbfe,#4392ff,#3884ff,#2d74ff,#317aff,#4798ff,#5eb6ff,#65bfff,#62bbff,#4494ff,#5bb2ff,#5ab0ff,#5cb3ff,#79e1fb,#71d4fd,#6ac8fe,#74d8fc,#87f2ef)"></i><i style="left:182.90px;top:292.60px;width:53.00px;height:53.00px;background:conic-gradient(from 5deg,#2e76ff,#55aaff,#71d4fd,#86f2ef,#7be5fb,#7eeafb,#90f7d8,#8bf4e5,#8df5df,#95f9cc,#89f4e8,#8ff6da,#8df6de,#89f3ea,#85f2f1,#5eb6ff,#4d9fff,#327bff,#337cff,#2465ff,#184aff,#1543ff,#194dff,#123cff,#1646ff,#1e57ff,#2b72ff,#2669ff,#2261ff,#2e76ff,#2465ff,#1f5aff,#266bff,#3681ff,#2d74ff,#3580ff,#2e76ff)"></i><i style="left:186.40px;top:296.10px;width:46.00px;height:46.00px;background:conic-gradient(from 5deg,#276cff,#4c9eff,#61baff,#6ccbfe,#81effa,#7de8fb,#86f2f1,#8df5df,#87f2ee,#8df5df,#88f3eb,#87f3ec,#87f2ee,#7fecfa,#79e1fc,#4c9fff,#2568ff,#1e58ff,#1c54ff,#1441ff,#1748ff,#0f35ff,#0a2cff,#0a2aff,#1544ff,#194dff,#1c53ff,#123bff,#0f35ff,#1748ff,#0d32ff,#1a4fff,#194dff,#194cff,#205cff,#276cff,#276cff)"></i><i style="left:189.90px;top:299.60px;width:39.00px;height:39.00px;background:conic-gradient(from 5deg,#1f5aff,#2e76ff,#5db5ff,#72d5fd,#77defc,#6ccbfe,#77defc,#82effa,#81eefa,#89f4e8,#86f2f1,#86f2ef,#7ae2fb,#81effa,#69c7fe,#4b9dff,#2363ff,#1c52ff,#215fff,#1748ff,#0b2dff,#0d30ff,#0927ff,#1037ff,#1037ff,#113aff,#194cff,#1747ff,#0c30ff,#0b2eff,#1645ff,#1441ff,#1748ff,#194dff,#184aff,#2260ff,#1f5aff)"></i><i style="left:193.40px;top:303.10px;width:32.00px;height:32.00px;background:conic-gradient(from 5deg,#2970ff,#317aff,#3580ff,#4fa1ff,#71d4fd,#69c6fe,#64beff,#7be5fb,#84f1f5,#83f1f7,#7ae2fb,#77defc,#59afff,#64beff,#66c1ff,#3a86ff,#205bff,#2362ff,#1f59ff,#123cff,#0f35ff,#133fff,#184aff,#133fff,#194bff,#0e34ff,#1646ff,#1039ff,#133eff,#1038ff,#1543ff,#0e34ff,#194dff,#1d55ff,#2568ff,#266aff,#2970ff)"></i><i style="left:196.90px;top:306.60px;width:25.00px;height:25.00px;background:conic-gradient(from 5deg,#1c53ff,#3580ff,#3c89ff,#5bb3ff,#51a5ff,#4494ff,#62bbff,#55a9ff,#74d8fc,#66c2ff,#6ecefd,#5ab0ff,#4ea0ff,#58aeff,#52a5ff,#347eff,#215dff,#1d54ff,#205cff,#1747ff,#133eff,#1544ff,#1748ff,#0e35ff,#133eff,#1e59ff,#1442ff,#1c53ff,#1543ff,#123cff,#184aff,#1e57ff,#1d56ff,#1544ff,#2362ff,#2464ff,#1c53ff)"></i><i style="left:200.40px;top:310.10px;width:18.00px;height:18.00px;background:conic-gradient(from 5deg,#2260ff,#286eff,#2f77ff,#2e76ff,#4595ff,#327bff,#3d89ff,#55abff,#4ea0ff,#4c9eff,#50a3ff,#4392ff,#3b88ff,#408eff,#276dff,#276cff,#1c52ff,#266aff,#2465ff,#1f5aff,#1644ff,#1f59ff,#1544ff,#1d56ff,#1c52ff,#1c53ff,#1e58ff,#1748ff,#205cff,#1b52ff,#1f59ff,#205cff,#1849ff,#1c53ff,#1e57ff,#1b50ff,#2260ff)"></i><i style="left:203.90px;top:313.60px;width:11.00px;height:11.00px;background:conic-gradient(from 5deg,#276bff,#2567ff,#2465ff,#276bff,#337dff,#205dff,#2568ff,#3078ff,#2b72ff,#2a70ff,#2566ff,#2363ff,#2c73ff,#2465ff,#337dff,#2d74ff,#2970ff,#1c54ff,#205bff,#194cff,#1c53ff,#1748ff,#1d56ff,#2466ff,#2260ff,#1c53ff,#1b50ff,#2567ff,#1748ff,#2464ff,#2464ff,#1849ff,#2568ff,#215fff,#1e58ff,#205bff,#276bff)"></i><i style="left:265.30px;top:265.80px;width:106.60px;height:106.60px;background:conic-gradient(from 5deg,#2567ff,#2260ff,#2465ff,#2260ff,#184aff,#184aff,#3a87ff,#56acff,#6ac9fe,#58aeff,#50a4ff,#63bcff,#4493ff,#4393ff,#4fa2ff,#2465ff,#2261ff,#1440ff,#1b50ff,#205bff,#1a4eff,#2669ff,#2e75ff,#357fff,#53a7ff,#77defc,#82f0f9,#7ee9fb,#73d7fd,#51a5ff,#2b71ff,#2466ff,#1d55ff,#205cff,#205dff,#2a71ff,#2567ff)"></i><i style="left:268.10px;top:268.60px;width:101.00px;height:101.00px;background:conic-gradient(from 5deg,#3b88ff,#2970ff,#4594ff,#2669ff,#2669ff,#3681ff,#4493ff,#79e1fb,#75dafc,#77defc,#7febfb,#6ccbfe,#67c2ff,#5cb3ff,#56acff,#59afff,#2d75ff,#2b72ff,#286eff,#2363ff,#2465ff,#2d75ff,#3985ff,#3680ff,#4290ff,#7ae3fb,#72d5fd,#85f1f4,#5cb3ff,#51a5ff,#2568ff,#2261ff,#2568ff,#327bff,#2b72ff,#2d75ff,#3b88ff)"></i><i style="left:271.10px;top:271.60px;width:95.00px;height:95.00px;background:conic-gradient(from 5deg,#4291ff,#4d9fff,#4d9fff,#6cccfe,#55aaff,#59b0ff,#76dbfc,#7febfa,#8af4e7,#80edfa,#87f2ee,#7be5fb,#83f1f7,#6fd0fd,#6fd0fd,#60b9ff,#5ab0ff,#4797ff,#53a8ff,#4797ff,#4ea0ff,#3a86ff,#3f8cff,#4b9cff,#65c0ff,#76dbfc,#7be5fb,#70d3fd,#61baff,#4494ff,#2c73ff,#2568ff,#3681ff,#317aff,#4ea1ff,#3a87ff,#4291ff)"></i><i style="left:274.10px;top:274.60px;width:89.00px;height:89.00px;background:conic-gradient(from 5deg,#55aaff,#5fb8ff,#6ecffd,#85f2f1,#86f2f0,#83f1f7,#8ef6dc,#90f7d7,#8ff7d9,#91f8d3,#90f7d7,#8af4e6,#83f0f8,#85f2f2,#8bf5e3,#80ecfa,#80ecfa,#6ac8fe,#7de8fb,#7ae3fb,#62bcff,#59afff,#59b0ff,#54a9ff,#61b9ff,#6bc9fe,#82f0fa,#7ce6fb,#7ce7fb,#68c5fe,#50a3ff,#4a9cff,#4b9cff,#3681ff,#4696ff,#6bcafe,#55aaff)"></i><i style="left:277.10px;top:277.60px;width:83.00px;height:83.00px;background:conic-gradient(from 5deg,#7ee9fb,#85f1f3,#8ff6da,#92f8d3,#93f9cf,#91f7d5,#9afac0,#95faca,#93f9cf,#a4faa7,#98fac3,#9bfabc,#8ff7d9,#93f9ce,#90f7d7,#95f9cb,#8cf5e2,#91f7d5,#8ff7d9,#89f3ea,#7febfa,#83f0f9,#7ae3fb,#7eeafb,#70d2fd,#6ccbfe,#6ac7fe,#76dcfc,#5ab1ff,#58aeff,#337dff,#347eff,#54a8ff,#56acff,#57adff,#6ecefd,#7ee9fb)"></i><i style="left:279.60px;top:280.10px;width:78.00px;height:78.00px;background:conic-gradient(from 5deg,#8bf5e3,#91f7d5,#adfa93,#b2fa88,#b7fa7e,#abfa9a,#c4f969,#b5fa82,#a8faa0,#a5faa7,#a0fab1,#b3fa87,#affa8f,#aafa9c,#b7fa7e,#b5fa83,#affa90,#b0fa8e,#c4f969,#a8fa9e,#a8fa9f,#94f9cd,#8cf5e0,#87f3ed,#8cf5e2,#81eefa,#74d8fc,#66c1ff,#5cb3ff,#4290ff,#60b9ff,#57adff,#6fd1fd,#5cb3ff,#82f0fa,#83f0f9,#8bf5e3)"></i><i style="left:281.60px;top:282.10px;width:74.00px;height:74.00px;background:conic-gradient(from 5deg,#89f4e8,#a2faae,#bcfa72,#d4f65c,#c9f865,#d9f658,#c6f968,#caf864,#bbfa75,#bcfa73,#c3f96a,#affa90,#bbfa74,#bffa6d,#ddf555,#def554,#e8f34b,#eff245,#e4f44e,#ebf248,#dff452,#d8f659,#abfa99,#a2faae,#96fac9,#89f3e9,#6dccfe,#5bb1ff,#57adff,#65c0ff,#61baff,#6ac8fe,#81eefa,#6ccbfe,#79e0fc,#89f4e8,#89f4e8)"></i><i style="left:283.60px;top:284.10px;width:70.00px;height:70.00px;background:conic-gradient(from 5deg,#89f4e7,#b4fa85,#c4f969,#e5f34d,#d0f75f,#ccf862,#dff553,#cef761,#b8fa7c,#bbfa75,#bafa77,#c6f967,#bafa76,#c9f865,#d5f65b,#d8f658,#f0f245,#ebf349,#faeb3a,#f8f03e,#e4f44f,#d6f65a,#b4fa84,#95faca,#91f7d5,#86f2ef,#6fd1fd,#69c6fe,#51a4ff,#65c0ff,#69c7fe,#6cccfe,#83f1f7,#75dafc,#84f1f6,#8bf5e3,#89f4e7)"></i><i style="left:285.60px;top:286.10px;width:66.00px;height:66.00px;background:conic-gradient(from 5deg,#8ff7d8,#a3faac,#c3f96a,#def554,#cef760,#d0f75f,#c7f866,#c3f96a,#befa6f,#b2fa89,#bafa77,#b5fa83,#a8fa9f,#d2f75e,#c8f865,#d4f65c,#eef246,#e1f451,#dcf555,#d3f65c,#c3f96a,#d3f65c,#affa8f,#91f7d5,#90f7d7,#84f1f5,#55abff,#53a8ff,#68c5fe,#57acff,#50a3ff,#6bc9fe,#69c6fe,#7ae2fb,#86f2f1,#84f1f5,#8ff7d8)"></i><i style="left:287.60px;top:288.10px;width:62.00px;height:62.00px;background:conic-gradient(from 5deg,#85f1f3,#8ff6da,#b2fa89,#b8fa7b,#c4f969,#bbfa74,#b0fa8c,#abfa99,#b3fa86,#b5fa82,#9efab6,#a5faa6,#a0fab1,#adfa95,#befa6e,#b2fa89,#b9fa7a,#bdfa70,#aefa92,#adfa94,#9afabf,#96fac8,#8ff6da,#89f4e8,#7febfb,#7ae3fb,#4696ff,#4797ff,#57adff,#57acff,#3c89ff,#5bb2ff,#4797ff,#71d4fd,#6ac8fe,#72d6fd,#85f1f3)"></i><i style="left:289.60px;top:290.10px;width:58.00px;height:58.00px;background:conic-gradient(from 5deg,#6fd0fd,#73d7fd,#8ff6da,#8df5df,#91f7d6,#94f9cc,#93f9cf,#9efab7,#9bfabe,#a5faa6,#9afabf,#a1faaf,#99fac2,#8ff7d9,#9afac0,#91f8d4,#87f3ed,#83f1f6,#78e0fc,#73d7fc,#63bdff,#56acff,#59afff,#4595ff,#55aaff,#4291ff,#3f8dff,#2567ff,#3681ff,#2465ff,#2261ff,#1d54ff,#296fff,#327bff,#57adff,#64beff,#6fd0fd)"></i><i style="left:292.10px;top:292.60px;width:53.00px;height:53.00px;background:conic-gradient(from 5deg,#3c88ff,#57adff,#82effa,#82effa,#8df6de,#8df6de,#93f8d0,#92f8d2,#96fac8,#96fac8,#98fac4,#8bf4e5,#8df5e0,#88f3ea,#89f3ea,#6fd1fd,#4ea1ff,#3985ff,#4da0ff,#2e76ff,#317aff,#2464ff,#1a4eff,#1e57ff,#1645ff,#2465ff,#1f5aff,#1646ff,#194dff,#1440ff,#123cff,#0a2bff,#184bff,#1f5aff,#2465ff,#4fa2ff,#3c88ff)"></i><i style="left:295.60px;top:296.10px;width:46.00px;height:46.00px;background:conic-gradient(from 5deg,#4ea1ff,#4fa2ff,#7be5fb,#8bf5e3,#8ff7d9,#87f2ee,#94f9cd,#91f7d5,#a0fab2,#9dfab9,#93f9ce,#95f9cb,#90f7d7,#91f7d5,#8cf5e2,#71d3fd,#51a4ff,#347dff,#266aff,#2363ff,#1c54ff,#123bff,#1037ff,#184bff,#184aff,#1543ff,#1442ff,#113bff,#0f36ff,#0c30ff,#0013f9,#031bff,#1139ff,#123cff,#2567ff,#2a70ff,#4ea1ff)"></i><i style="left:299.10px;top:299.60px;width:39.00px;height:39.00px;background:conic-gradient(from 5deg,#2e77ff,#58aeff,#5ab1ff,#85f1f3,#89f3ea,#8bf4e4,#86f2ef,#93f8d1,#8ef6dc,#8ff6da,#93f8d0,#8af4e6,#88f3ea,#7de8fb,#6fd1fd,#5ab1ff,#2e77ff,#3079ff,#215dff,#276dff,#1d54ff,#0f37ff,#1544ff,#0f35ff,#113bff,#0929ff,#1442ff,#133fff,#0e33ff,#0c2eff,#031bff,#0013fa,#0622ff,#194cff,#2465ff,#266aff,#2e77ff)"></i><i style="left:302.60px;top:303.10px;width:32.00px;height:32.00px;background:conic-gradient(from 5deg,#266aff,#3d8bff,#4595ff,#5db4ff,#71d4fd,#6ac8fe,#84f1f5,#78dffc,#87f3ec,#88f3eb,#7de8fb,#7de7fb,#83f0f8,#76dcfc,#67c3ff,#63bcff,#2970ff,#2f78ff,#205bff,#1e57ff,#1748ff,#1849ff,#194dff,#1646ff,#0e33ff,#194dff,#1543ff,#113bff,#1542ff,#0622ff,#0b2dff,#0d31ff,#113aff,#194cff,#1b50ff,#286fff,#266aff)"></i><i style="left:306.10px;top:306.60px;width:25.00px;height:25.00px;background:conic-gradient(from 5deg,#2362ff,#357fff,#408eff,#53a7ff,#5cb4ff,#61b9ff,#6fd0fd,#62bbff,#66c1ff,#63bcff,#5bb3ff,#6ecefd,#6bcafe,#4d9fff,#4ea0ff,#4ea0ff,#3580ff,#2a71ff,#286eff,#1b50ff,#133fff,#133eff,#1544ff,#0e32ff,#113aff,#1440ff,#1646ff,#0e34ff,#0c2fff,#0d31ff,#0725ff,#0724ff,#0a2aff,#1c53ff,#2568ff,#1e57ff,#2362ff)"></i><i style="left:309.60px;top:310.10px;width:18.00px;height:18.00px;background:conic-gradient(from 5deg,#276cff,#3078ff,#3580ff,#337dff,#4b9dff,#317aff,#347eff,#5bb1ff,#4291ff,#5cb3ff,#53a7ff,#347eff,#327bff,#4594ff,#2d74ff,#327cff,#266aff,#1b51ff,#1e58ff,#184bff,#205bff,#1a4eff,#1a4eff,#194bff,#1037ff,#1c53ff,#1a4fff,#1645ff,#1645ff,#133fff,#1645ff,#123cff,#1037ff,#184bff,#194dff,#1a4eff,#276cff)"></i><i style="left:313.10px;top:313.60px;width:11.00px;height:11.00px;background:conic-gradient(from 5deg,#1e57ff,#2466ff,#2465ff,#1e57ff,#2363ff,#2566ff,#2568ff,#2465ff,#2568ff,#286eff,#2e76ff,#2465ff,#286dff,#2669ff,#1c54ff,#1c54ff,#1b50ff,#1a4eff,#1c52ff,#184aff,#2260ff,#1d55ff,#1748ff,#1c53ff,#1f5aff,#133fff,#1a50ff,#1f5bff,#1646ff,#1d56ff,#1c52ff,#1441ff,#123dff,#1e58ff,#1a4fff,#1b50ff,#1e57ff)"></i><i style="left:374.80px;top:265.80px;width:106.60px;height:106.60px;background:conic-gradient(from 5deg,#1b51ff,#215eff,#266aff,#2b72ff,#286eff,#1f59ff,#2261ff,#1d55ff,#205cff,#225fff,#1a4fff,#184aff,#0c2fff,#123cff,#0d32ff,#0928ff,#0d32ff,#0622ff,#0218ff,#1139ff,#133eff,#184aff,#1038ff,#0f36ff,#1340ff,#0927ff,#1440ff,#0e34ff,#0b2cff,#0014fe,#0015ff,#0117ff,#0d31ff,#0724ff,#1747ff,#1441ff,#1b51ff)"></i><i style="left:377.60px;top:268.60px;width:101.00px;height:101.00px;background:conic-gradient(from 5deg,#266aff,#2669ff,#317aff,#3984ff,#286dff,#2b71ff,#276cff,#3b88ff,#2b73ff,#2e76ff,#2669ff,#2e76ff,#2261ff,#184bff,#2260ff,#133eff,#1037ff,#123cff,#184aff,#0f35ff,#1c52ff,#1a4eff,#1e59ff,#1646ff,#0f36ff,#0d30ff,#1441ff,#1038ff,#123bff,#051fff,#031aff,#0015ff,#0d32ff,#133eff,#133eff,#215fff,#266aff)"></i><i style="left:380.60px;top:271.60px;width:95.00px;height:95.00px;background:conic-gradient(from 5deg,#1c52ff,#276bff,#2d75ff,#4ea1ff,#52a6ff,#53a7ff,#4594ff,#4493ff,#5db5ff,#5eb6ff,#3a86ff,#499aff,#3d8aff,#266aff,#276dff,#266aff,#276cff,#215eff,#1f59ff,#2363ff,#205bff,#194dff,#215fff,#1e58ff,#194dff,#1646ff,#113aff,#113bff,#1544ff,#133eff,#0827ff,#0d31ff,#051fff,#133eff,#1f5aff,#2669ff,#1c52ff)"></i><i style="left:383.60px;top:274.60px;width:89.00px;height:89.00px;background:conic-gradient(from 5deg,#2669ff,#296fff,#5cb3ff,#60b8ff,#68c4fe,#60b8ff,#5db4ff,#72d6fd,#72d5fd,#80ecfa,#70d2fd,#66c1ff,#52a7ff,#54a8ff,#3884ff,#51a5ff,#3a86ff,#3782ff,#276dff,#2568ff,#3782ff,#3681ff,#347eff,#2567ff,#2466ff,#2363ff,#1d56ff,#205dff,#1037ff,#1442ff,#051eff,#0d31ff,#0f36ff,#1037ff,#1e58ff,#296fff,#2669ff)"></i><i style="left:386.60px;top:277.60px;width:83.00px;height:83.00px;background:conic-gradient(from 5deg,#408eff,#347eff,#5ab1ff,#6fd1fd,#60b9ff,#7ce6fb,#82effa,#79e1fb,#7de8fb,#7be4fb,#70d3fd,#67c4fe,#68c5fe,#69c7fe,#56abff,#5fb8ff,#4c9eff,#58aeff,#3f8dff,#4b9cff,#3782ff,#3985ff,#52a6ff,#3680ff,#3580ff,#2b73ff,#2362ff,#194cff,#133eff,#133eff,#0c2eff,#0928ff,#1440ff,#1749ff,#2e75ff,#2363ff,#408eff)"></i><i style="left:389.10px;top:280.10px;width:78.00px;height:78.00px;background:conic-gradient(from 5deg,#347fff,#4493ff,#69c6fe,#7be4fb,#7be4fb,#6ccbfe,#7ce6fb,#82f0fa,#8ff6da,#8bf4e4,#83f0f8,#68c5fe,#69c6fe,#64beff,#56abff,#5bb2ff,#55a9ff,#6bcafe,#7de7fb,#67c2ff,#65bfff,#6bcafe,#6dccfe,#6ac8fe,#59afff,#4ea1ff,#266aff,#2c73ff,#1543ff,#0c2eff,#0a2aff,#123cff,#1e57ff,#1646ff,#337dff,#2b72ff,#347fff)"></i><i style="left:391.10px;top:282.10px;width:74.00px;height:74.00px;background:conic-gradient(from 5deg,#59b0ff,#6bcafe,#71d3fd,#7be4fb,#82f0f9,#79e2fb,#85f1f3,#7de7fb,#8ff6db,#8df5e0,#87f2ef,#68c5fe,#62bbff,#67c4fe,#62bbff,#65c0ff,#62bcff,#7be5fb,#85f1f3,#6ecefd,#7ae2fb,#7de8fb,#74d9fc,#6dcdfd,#69c7fe,#53a7ff,#2c73ff,#2568ff,#1b51ff,#0c30ff,#1646ff,#1543ff,#2363ff,#215eff,#3a86ff,#51a4ff,#59b0ff)"></i><i style="left:393.10px;top:284.10px;width:70.00px;height:70.00px;background:conic-gradient(from 5deg,#50a4ff,#5ab0ff,#65c0ff,#72d6fd,#70d2fd,#83f1f7,#70d2fd,#87f3ed,#89f3e9,#8af4e7,#84f1f6,#81eefa,#7de8fb,#62bbff,#6dccfe,#6dcdfd,#6dcdfd,#7be4fb,#71d4fd,#7ee9fb,#6fd1fd,#77ddfc,#7ce5fb,#73d6fd,#72d5fd,#56abff,#2c74ff,#3078ff,#184aff,#0c30ff,#1849ff,#1543ff,#184aff,#1f5aff,#2362ff,#4696ff,#50a4ff)"></i><i style="left:395.10px;top:286.10px;width:66.00px;height:66.00px;background:conic-gradient(from 5deg,#327cff,#4595ff,#69c7fe,#78e0fc,#62bcff,#7ce7fb,#7ce6fb,#83f1f7,#87f3ed,#82f0fa,#7ce5fb,#70d1fd,#65bfff,#71d4fd,#53a7ff,#63bdff,#6ac9fe,#73d7fd,#6ac9fe,#66c1ff,#6bc9fe,#4fa2ff,#53a7ff,#4a9cff,#58aeff,#3f8dff,#3c88ff,#337dff,#194dff,#0f36ff,#0825ff,#1748ff,#194dff,#1748ff,#2f78ff,#276bff,#327cff)"></i><i style="left:397.10px;top:288.10px;width:62.00px;height:62.00px;background:conic-gradient(from 5deg,#205bff,#337cff,#60b9ff,#50a4ff,#5eb6ff,#73d7fd,#6ac9fe,#84f1f5,#75dafc,#7be4fb,#70d2fd,#71d3fd,#4fa2ff,#5db4ff,#5cb3ff,#55aaff,#4b9cff,#2f77ff,#3e8cff,#2e77ff,#266aff,#266aff,#357fff,#2e76ff,#215fff,#1d55ff,#1340ff,#1f59ff,#1542ff,#0827ff,#0e34ff,#113bff,#0a2bff,#0f36ff,#1647ff,#2465ff,#205bff)"></i><i style="left:399.10px;top:290.10px;width:58.00px;height:58.00px;background:conic-gradient(from 5deg,#1748ff,#1f5aff,#3c88ff,#4c9fff,#4fa3ff,#61baff,#71d3fd,#5eb6ff,#73d7fc,#68c5fe,#71d4fd,#58aeff,#5bb2ff,#4fa2ff,#51a4ff,#2f77ff,#2363ff,#2465ff,#205dff,#1747ff,#1037ff,#194dff,#0b2dff,#1849ff,#1645ff,#0e33ff,#0f36ff,#0928ff,#0825ff,#0218ff,#0010ec,#000fe7,#0622ff,#0724ff,#0928ff,#1543ff,#1748ff)"></i><i style="left:401.60px;top:292.60px;width:53.00px;height:53.00px;background:conic-gradient(from 5deg,#0825ff,#113bff,#2c74ff,#4392ff,#54a9ff,#5bb2ff,#57acff,#63bcff,#69c6fe,#66c1ff,#6bc9fe,#61baff,#3e8bff,#4899ff,#2b72ff,#1b52ff,#1a4eff,#133fff,#0b2dff,#123dff,#0a2aff,#0014ff,#0520ff,#0621ff,#0010e8,#031bff,#0010ec,#000fe3,#000fe5,#0010e9,#000fe6,#000dd8,#000cd3,#0117ff,#0928ff,#0c30ff,#0825ff)"></i><i style="left:405.10px;top:296.10px;width:46.00px;height:46.00px;background:conic-gradient(from 5deg,#031cff,#1544ff,#184bff,#296fff,#327cff,#4b9cff,#54a9ff,#56abff,#68c5fe,#55aaff,#4c9fff,#60b9ff,#50a3ff,#2c73ff,#3681ff,#1f5aff,#123cff,#0d32ff,#0927ff,#0a2bff,#0116ff,#0015ff,#000bd0,#0012f4,#000cd6,#0011f1,#000fe7,#0011f0,#000fe4,#000bd0,#000cd6,#000fe3,#0009c4,#0011ed,#0115ff,#0723ff,#031cff)"></i><i style="left:408.60px;top:299.60px;width:39.00px;height:39.00px;background:conic-gradient(from 5deg,#0014fe,#0d32ff,#1e58ff,#2669ff,#3a86ff,#4696ff,#3c89ff,#4d9fff,#53a7ff,#60b8ff,#4290ff,#357fff,#2d75ff,#327bff,#205cff,#215fff,#0d32ff,#0827ff,#0218ff,#000fe7,#0010ea,#000fe6,#0009c7,#0012f5,#000edd,#000cd3,#0007bb,#0009c6,#000acb,#000ddb,#0008c2,#000cd3,#000acd,#0010ea,#0015ff,#0116ff,#0014fe)"></i><i style="left:412.10px;top:303.10px;width:32.00px;height:32.00px;background:conic-gradient(from 5deg,#051fff,#0a2bff,#0e33ff,#215fff,#2362ff,#286eff,#3782ff,#2a71ff,#4291ff,#2b72ff,#347eff,#1e59ff,#276cff,#205cff,#1c54ff,#1441ff,#0825ff,#0013fb,#051eff,#0117ff,#000dd8,#000dd9,#0012f7,#000cd4,#000bd2,#000edf,#000bd2,#0011f0,#0012f2,#0009c5,#000aca,#0009c8,#000dda,#000edd,#0014fe,#0520ff,#051fff)"></i><i style="left:415.60px;top:306.60px;width:25.00px;height:25.00px;background:conic-gradient(from 5deg,#000fe7,#0013f8,#0827ff,#133fff,#1440ff,#194cff,#1a50ff,#2362ff,#296fff,#2970ff,#1e57ff,#1e57ff,#133fff,#194dff,#1b50ff,#1441ff,#0115ff,#0011f1,#0622ff,#0117ff,#0014fd,#000bd1,#0010ea,#000aca,#0011ee,#0011ef,#000cd5,#0009c4,#0010eb,#0013f8,#000fe5,#000cd7,#000dd9,#0013fa,#041dff,#0012f3,#000fe7)"></i><i style="left:419.10px;top:310.10px;width:18.00px;height:18.00px;background:conic-gradient(from 5deg,#0010ea,#0a2aff,#0724ff,#0c30ff,#0d30ff,#1440ff,#194dff,#133fff,#1a4fff,#133fff,#123dff,#1645ff,#1646ff,#123dff,#1037ff,#0d31ff,#0928ff,#0622ff,#0013fc,#0011f0,#000cd6,#0010eb,#000ee0,#000acd,#0015ff,#000ddb,#0013fb,#000aca,#000ddc,#0012f3,#0011ed,#0011ed,#000fe5,#000cd6,#0117ff,#0117ff,#0010ea)"></i><i style="left:422.60px;top:313.60px;width:11.00px;height:11.00px;background:conic-gradient(from 5deg,#0011f2,#0013fb,#051fff,#0219ff,#031aff,#031bff,#0825ff,#0826ff,#031aff,#0929ff,#031aff,#0622ff,#0116ff,#0928ff,#0927ff,#041eff,#0012f2,#0010ec,#0011f0,#0013f7,#000cd7,#0011f0,#0117ff,#000cd5,#0015ff,#0011ef,#0218ff,#0012f7,#0012f6,#0013f8,#000fe7,#000cd7,#0014fe,#0116ff,#0013fc,#000fe3,#0011f2)"></i><i style="left:484.30px;top:265.80px;width:106.60px;height:106.60px;background:conic-gradient(from 5deg,#4a9bff,#4493ff,#347eff,#3078ff,#2b72ff,#3a87ff,#2669ff,#266aff,#2261ff,#1645ff,#1b50ff,#0f35ff,#0c30ff,#0a2aff,#0b2dff,#0116ff,#031bff,#0011f1,#031cff,#0a2bff,#1d56ff,#408eff,#337dff,#2465ff,#276cff,#1544ff,#0f37ff,#113bff,#133eff,#0c2fff,#1646ff,#0d32ff,#1748ff,#2466ff,#2e75ff,#4594ff,#4a9bff)"></i><i style="left:487.10px;top:268.60px;width:101.00px;height:101.00px;background:conic-gradient(from 5deg,#4798ff,#4493ff,#4392ff,#51a4ff,#327bff,#51a5ff,#418fff,#2f77ff,#2b72ff,#2363ff,#2669ff,#215eff,#1440ff,#133fff,#0d31ff,#0928ff,#0d30ff,#0621ff,#041dff,#133eff,#1e57ff,#2f78ff,#4c9eff,#4899ff,#2363ff,#1a4fff,#0e33ff,#0b2eff,#123cff,#0a2bff,#0f35ff,#0e34ff,#0e33ff,#1644ff,#3e8bff,#4b9dff,#4798ff)"></i><i style="left:490.10px;top:271.60px;width:95.00px;height:95.00px;background:conic-gradient(from 5deg,#52a7ff,#59b0ff,#58aeff,#68c4fe,#4899ff,#68c5fe,#56abff,#4797ff,#55abff,#53a7ff,#3c89ff,#205dff,#2465ff,#1e57ff,#1e57ff,#1c52ff,#0a2aff,#1039ff,#0929ff,#1542ff,#2465ff,#499aff,#61b9ff,#5fb7ff,#4da0ff,#1b51ff,#123cff,#113bff,#123dff,#0928ff,#0a2aff,#0116ff,#0520ff,#1c53ff,#3984ff,#3e8bff,#52a7ff)"></i><i style="left:493.10px;top:274.60px;width:89.00px;height:89.00px;background:conic-gradient(from 5deg,#4595ff,#66c1ff,#5cb3ff,#7de7fb,#78dffc,#67c2ff,#6ccbfe,#62bcff,#66c1ff,#6cccfe,#70d2fd,#61baff,#4fa2ff,#408eff,#337cff,#2568ff,#205cff,#184aff,#1748ff,#2d74ff,#4290ff,#66c1ff,#82f0fa,#87f2ee,#66c1ff,#3984ff,#1f59ff,#184bff,#133fff,#1039ff,#031aff,#0928ff,#0e33ff,#1f59ff,#3f8dff,#4291ff,#4595ff)"></i><i style="left:496.10px;top:277.60px;width:83.00px;height:83.00px;background:conic-gradient(from 5deg,#5bb1ff,#5eb6ff,#7ae2fb,#7eeafb,#72d5fd,#72d5fd,#75dafc,#7fecfa,#8cf5e1,#8cf5e2,#84f1f6,#68c5fe,#63bdff,#499aff,#4290ff,#4c9dff,#2363ff,#2261ff,#205cff,#4594ff,#4c9eff,#63bdff,#74d8fc,#8ef6db,#89f3e9,#6fd0fd,#3b87ff,#2f78ff,#184aff,#0c2eff,#0f36ff,#0f35ff,#266aff,#2a70ff,#3d8aff,#50a3ff,#5bb1ff)"></i><i style="left:498.60px;top:280.10px;width:78.00px;height:78.00px;background:conic-gradient(from 5deg,#4fa2ff,#6ecffd,#82f0fa,#70d3fd,#70d2fd,#81effa,#7de8fb,#89f4e8,#8af4e6,#91f7d5,#88f3ec,#6dcdfd,#6ecffd,#5fb8ff,#4797ff,#4fa3ff,#3e8bff,#3580ff,#2568ff,#4290ff,#5ab1ff,#66c1ff,#76dcfc,#95f9cb,#8ff7d9,#6bc9fe,#4d9fff,#337dff,#2261ff,#1543ff,#133eff,#2260ff,#1f5aff,#276bff,#3580ff,#5eb6ff,#4fa2ff)"></i><i style="left:500.60px;top:282.10px;width:74.00px;height:74.00px;background:conic-gradient(from 5deg,#54a9ff,#5db5ff,#6fd0fd,#72d5fd,#7de8fb,#7be4fb,#7de7fb,#7ce6fb,#8bf5e3,#88f3ec,#78e0fc,#65c0ff,#62bcff,#58aeff,#3c89ff,#4291ff,#2a70ff,#327bff,#3985ff,#3b87ff,#4899ff,#71d3fd,#78dffc,#93f8d0,#93f9cf,#74d9fc,#4ea0ff,#266aff,#2260ff,#1849ff,#1748ff,#215eff,#2567ff,#2b72ff,#4fa2ff,#54a9ff,#54a9ff)"></i><i style="left:502.60px;top:284.10px;width:70.00px;height:70.00px;background:conic-gradient(from 5deg,#4fa2ff,#56acff,#6ccbfe,#6ecffd,#84f1f5,#74d9fc,#77defc,#8af4e6,#8bf4e4,#87f3ed,#74d8fc,#6ac7fe,#60b8ff,#66c2ff,#4190ff,#4da0ff,#266aff,#1d55ff,#2f77ff,#276cff,#58aeff,#5eb6ff,#73d7fc,#8ef6dc,#87f2ee,#73d7fd,#337dff,#3580ff,#225fff,#0d31ff,#113aff,#1a4eff,#2362ff,#1e57ff,#4290ff,#5cb3ff,#4fa2ff)"></i><i style="left:504.60px;top:286.10px;width:66.00px;height:66.00px;background:conic-gradient(from 5deg,#3b87ff,#4797ff,#59b0ff,#73d7fd,#69c6fe,#80ecfa,#75dafc,#87f2ee,#87f2ee,#82f0f9,#6dccfe,#61bbff,#5bb2ff,#57adff,#499aff,#276bff,#194dff,#1c54ff,#1d55ff,#2465ff,#3c89ff,#4c9eff,#5eb6ff,#73d6fd,#50a3ff,#4595ff,#205dff,#1441ff,#0d31ff,#0b2eff,#041dff,#123dff,#1038ff,#1c52ff,#296fff,#51a5ff,#3b87ff)"></i><i style="left:506.60px;top:288.10px;width:62.00px;height:62.00px;background:conic-gradient(from 5deg,#2a70ff,#50a3ff,#61baff,#6ccbfe,#7de7fb,#7ce6fb,#7be4fb,#7ae3fb,#70d1fd,#74d8fc,#73d7fc,#4c9eff,#4ea0ff,#3984ff,#2e76ff,#286dff,#1c54ff,#133fff,#0e34ff,#1645ff,#2566ff,#2d74ff,#2e76ff,#2363ff,#2c73ff,#113aff,#0929ff,#1037ff,#041dff,#0724ff,#031bff,#0011f2,#0e33ff,#1a4fff,#2261ff,#3e8bff,#2a70ff)"></i><i style="left:508.60px;top:290.10px;width:58.00px;height:58.00px;background:conic-gradient(from 5deg,#2c73ff,#317aff,#59b0ff,#72d5fd,#72d5fd,#60b9ff,#6ecffd,#7de8fb,#77ddfc,#70d1fd,#6ccbfe,#499bff,#418fff,#2a71ff,#3681ff,#1a50ff,#184bff,#031bff,#0b2cff,#0e34ff,#0d31ff,#184aff,#194dff,#194bff,#0c30ff,#0a2aff,#0a2bff,#0622ff,#0013f8,#0011f2,#0219ff,#000dd8,#0014ff,#0c30ff,#194bff,#1b51ff,#2c73ff)"></i><i style="left:511.10px;top:292.60px;width:53.00px;height:53.00px;background:conic-gradient(from 5deg,#194dff,#347eff,#4493ff,#59afff,#68c5fe,#5db5ff,#66c1ff,#82f0f9,#84f1f6,#74d8fc,#6ac8fe,#499aff,#3b88ff,#3a86ff,#3781ff,#1e57ff,#1543ff,#0e33ff,#0622ff,#0014fd,#031aff,#0d31ff,#0520ff,#1037ff,#0013fc,#0011ee,#0724ff,#0012f6,#0013fa,#0012f6,#000cd7,#000ee1,#0011f1,#0d30ff,#1a4eff,#205dff,#194dff)"></i><i style="left:514.60px;top:296.10px;width:46.00px;height:46.00px;background:conic-gradient(from 5deg,#1544ff,#2362ff,#4ea1ff,#51a4ff,#63bdff,#6ecffd,#82f0fa,#6ecffd,#85f1f4,#80edfa,#74d9fc,#68c4fe,#357fff,#3e8bff,#276dff,#215eff,#113aff,#021aff,#0012f4,#0520ff,#021aff,#0013fb,#0116ff,#041cff,#000fe4,#0013f7,#0013fb,#000ede,#0014ff,#000ede,#0014fe,#0010ea,#041cff,#0c2fff,#1544ff,#1646ff,#1544ff)"></i><i style="left:518.10px;top:299.60px;width:39.00px;height:39.00px;background:conic-gradient(from 5deg,#1543ff,#1f5aff,#3a86ff,#4798ff,#64beff,#4ea1ff,#64beff,#61baff,#68c5fe,#6bc9fe,#53a8ff,#4ea1ff,#3a86ff,#2970ff,#2d74ff,#1a4eff,#0e34ff,#0011f2,#0013f9,#000fe3,#000ee1,#0014fd,#000cd4,#0010ec,#000ee1,#0011f0,#0013fb,#0013f8,#0014ff,#0014ff,#000ee2,#0115ff,#0015ff,#0116ff,#0b2cff,#1441ff,#1543ff)"></i><i style="left:521.60px;top:303.10px;width:32.00px;height:32.00px;background:conic-gradient(from 5deg,#1646ff,#123bff,#286eff,#3681ff,#3c88ff,#3883ff,#3f8dff,#499aff,#5ab1ff,#4fa2ff,#4c9eff,#3f8cff,#1e58ff,#1a4fff,#2466ff,#0f36ff,#0e33ff,#0014ff,#0012f2,#000ee2,#0011f0,#0012f3,#000cd3,#000bd1,#000ee0,#0014ff,#0013f8,#000ede,#000fe6,#000fe6,#0012f6,#000edf,#0010ec,#031bff,#0623ff,#0e34ff,#1646ff)"></i><i style="left:525.10px;top:306.60px;width:25.00px;height:25.00px;background:conic-gradient(from 5deg,#1038ff,#123bff,#123eff,#1e57ff,#2465ff,#205bff,#2566ff,#2d74ff,#2a71ff,#2669ff,#337cff,#1a4eff,#215fff,#133eff,#1747ff,#0f37ff,#051fff,#031aff,#0621ff,#0011f2,#000ede,#000ee1,#0116ff,#0012f4,#0013fc,#0010e9,#000fe5,#0013f8,#0012f2,#0217ff,#000ddd,#000fe6,#0014ff,#0827ff,#0724ff,#1037ff,#1038ff)"></i><i style="left:528.60px;top:310.10px;width:18.00px;height:18.00px;background:conic-gradient(from 5deg,#0218ff,#0d32ff,#0e33ff,#184aff,#1441ff,#133eff,#1645ff,#1f59ff,#205bff,#2362ff,#184aff,#0f35ff,#1647ff,#0d30ff,#123cff,#0929ff,#031bff,#000fe7,#0011ef,#031aff,#0012f5,#021aff,#0116ff,#0012f4,#041cff,#000dd8,#0011ed,#0012f4,#000ddb,#0218ff,#000ee0,#0012f6,#0010eb,#0013fc,#041dff,#041dff,#0218ff)"></i><i style="left:532.10px;top:313.60px;width:11.00px;height:11.00px;background:conic-gradient(from 5deg,#0012f5,#0621ff,#0724ff,#0115ff,#0f36ff,#0218ff,#041eff,#0621ff,#0825ff,#0a2aff,#0f36ff,#0116ff,#0724ff,#0724ff,#0116ff,#0015ff,#0014fe,#051fff,#031bff,#0013f9,#000ee2,#0011f0,#021aff,#0012f3,#0011f1,#0014fe,#000edf,#0014ff,#0015ff,#000fe3,#0012f3,#031bff,#0010ec,#0014fe,#0013fa,#031aff,#0012f5)"></i><i style="left:46.50px;top:375.10px;width:106.60px;height:106.60px;background:conic-gradient(from 5deg,#3079ff,#2567ff,#2567ff,#1a4eff,#1b52ff,#1441ff,#1d54ff,#2362ff,#3a86ff,#2a71ff,#3f8dff,#3a86ff,#53a8ff,#4ea0ff,#64beff,#4b9dff,#5cb3ff,#4a9bff,#3d8bff,#2a71ff,#194dff,#0724ff,#0a2bff,#0e33ff,#1a4eff,#1f5aff,#4190ff,#53a8ff,#88f3ea,#86f2ef,#6dcdfd,#57acff,#4a9bff,#5ab1ff,#4899ff,#3e8bff,#3079ff)"></i><i style="left:49.30px;top:377.90px;width:101.00px;height:101.00px;background:conic-gradient(from 5deg,#499aff,#3883ff,#2261ff,#2566ff,#215fff,#215eff,#2567ff,#3883ff,#357fff,#57adff,#5bb2ff,#5cb3ff,#60b8ff,#6dcefd,#50a4ff,#59b0ff,#4ea0ff,#57adff,#4a9bff,#347fff,#1645ff,#0012f3,#0013fa,#0826ff,#215dff,#276dff,#3c89ff,#5fb7ff,#bdfa71,#bcfa72,#86f2f1,#4ea1ff,#52a6ff,#4fa2ff,#4899ff,#357fff,#499aff)"></i><i style="left:52.30px;top:380.90px;width:95.00px;height:95.00px;background:conic-gradient(from 5deg,#4b9cff,#418fff,#3f8dff,#1e59ff,#205bff,#205cff,#317aff,#4696ff,#4fa2ff,#6dccfe,#5eb7ff,#72d5fd,#78dffc,#79e1fc,#5fb7ff,#6ccbfe,#6fd0fd,#65bfff,#5fb8ff,#3782ff,#1340ff,#0010ec,#021aff,#123dff,#1e58ff,#266aff,#4ea0ff,#82f0fa,#e6f34c,#d3f75d,#84f1f6,#6fd0fd,#53a8ff,#58aeff,#55aaff,#499aff,#4b9cff)"></i><i style="left:55.30px;top:383.90px;width:89.00px;height:89.00px;background:conic-gradient(from 5deg,#54a9ff,#3e8cff,#4a9cff,#2d75ff,#3f8cff,#4a9bff,#68c4fe,#6ccbfe,#8af4e7,#88f3eb,#89f4e7,#7eeafb,#87f3ed,#83f0f9,#85f2f2,#83f1f7,#75dbfc,#81effa,#6ecefd,#4b9dff,#184bff,#0010ea,#1037ff,#1442ff,#2a70ff,#2b72ff,#408dff,#6dcefd,#93f9cf,#9afabf,#75dafc,#75dbfc,#73d8fc,#6ccbfe,#52a6ff,#4b9dff,#54a9ff)"></i><i style="left:58.30px;top:386.90px;width:83.00px;height:83.00px;background:conic-gradient(from 5deg,#8df6de,#7be4fb,#79e1fc,#72d5fd,#8bf4e5,#97fac7,#a3faab,#c1fa6c,#cff760,#e0f452,#d0f75f,#c6f968,#c0fa6c,#b5fa82,#a7faa2,#9ffab4,#a3faaa,#92f8d3,#8bf5e2,#82f0fa,#296fff,#1647ff,#1f5aff,#205bff,#2262ff,#3c89ff,#4c9eff,#54a9ff,#81eefa,#7be4fb,#83f0f8,#73d7fd,#7de8fb,#87f3ed,#84f1f4,#90f7d8,#8df6de)"></i><i style="left:60.80px;top:389.40px;width:78.00px;height:78.00px;background:conic-gradient(from 5deg,#c3f96a,#a4faa9,#8ef6dd,#8cf5e2,#c5f968,#fadc36,#fac530,#fab92c,#f79125,#eb3619,#eb3719,#faa728,#f9a227,#fabf2e,#faec3b,#e8f34b,#dff452,#c7f967,#c4f969,#92f8d3,#418fff,#215eff,#2b71ff,#3c89ff,#3984ff,#317aff,#4999ff,#4898ff,#73d7fd,#76dcfc,#79e1fb,#8cf5e1,#8df6de,#92f8d1,#bafa78,#c5f969,#c3f96a)"></i><i style="left:62.80px;top:391.40px;width:74.00px;height:74.00px;background:conic-gradient(from 5deg,#f1f143,#c4f969,#94f9ce,#9dfab8,#def554,#f99e27,#f79225,#f0591e,#e92617,#b40707,#ce0e0e,#f47722,#f47c22,#f9a427,#fad735,#fabf2e,#fadc36,#f9f03d,#f1f244,#92f8d3,#51a5ff,#4c9eff,#2e76ff,#4696ff,#3884ff,#54a8ff,#59b0ff,#4ea0ff,#63bdff,#78dffc,#84f1f4,#8bf5e3,#9dfab8,#aefa91,#cef760,#f1f143,#f1f143)"></i><i style="left:64.80px;top:393.40px;width:70.00px;height:70.00px;background:conic-gradient(from 5deg,#f8f03e,#bffa6d,#98fac4,#97fac5,#eff245,#f89726,#f79225,#f1611f,#ec3f1a,#d00f0f,#d20f0f,#f37421,#f26a20,#faa728,#fab82c,#fad434,#fad936,#fae439,#dbf556,#a3faaa,#66c2ff,#4797ff,#3e8bff,#3b87ff,#4190ff,#3681ff,#3c88ff,#4797ff,#6bc9fe,#76dcfc,#84f1f4,#8ef6db,#95f9cb,#a3faab,#bbfa75,#f4f141,#f8f03e)"></i><i style="left:66.80px;top:395.40px;width:66.00px;height:66.00px;background:conic-gradient(from 5deg,#d0f75f,#a0fab2,#91f8d4,#8cf5e1,#cef760,#fae93a,#fac12f,#f9a027,#f68824,#f05d1e,#f47922,#fab02a,#faad29,#fac831,#faeb3b,#e6f34d,#f0f244,#e1f451,#c4f969,#95f9cc,#6dcdfd,#4393ff,#3079ff,#286eff,#337dff,#317aff,#3f8cff,#56abff,#4ea1ff,#74d8fc,#74d8fc,#89f3ea,#8cf5e2,#92f8d2,#a3faaa,#bcfa73,#d0f75f)"></i><i style="left:68.80px;top:397.40px;width:62.00px;height:62.00px;background:conic-gradient(from 5deg,#96fac8,#88f3eb,#7de7fb,#89f3e9,#8ef6db,#a9fa9d,#acfa97,#ccf862,#f2f143,#f5f140,#e9f34a,#def554,#c2f96b,#b1fa8c,#a5faa6,#aafa9b,#99fac1,#90f7d6,#91f8d4,#70d2fd,#4b9cff,#3079ff,#2362ff,#2f77ff,#2466ff,#4291ff,#4a9bff,#418fff,#4d9fff,#50a4ff,#54a8ff,#73d8fc,#76dcfc,#82f0f9,#88f3eb,#8ef6db,#96fac8)"></i><i style="left:70.80px;top:399.40px;width:58.00px;height:58.00px;background:conic-gradient(from 5deg,#66c1ff,#75dbfc,#6ac8fe,#65bfff,#82f0f9,#7ae2fb,#85f1f3,#8bf4e4,#95f9cb,#9bfabe,#8df5df,#96fac9,#91f8d4,#91f8d4,#89f3ea,#83f0f9,#68c4fe,#60b9ff,#6fd1fd,#4696ff,#4290ff,#2e76ff,#2a71ff,#1d56ff,#2568ff,#3b87ff,#2f77ff,#2e76ff,#2a71ff,#4392ff,#4798ff,#3f8dff,#4798ff,#5eb6ff,#5bb2ff,#78dffc,#66c1ff)"></i><i style="left:73.30px;top:401.90px;width:53.00px;height:53.00px;background:conic-gradient(from 5deg,#6bc9fe,#60b9ff,#5db5ff,#71d4fd,#6bcafe,#6ac8fe,#84f1f4,#88f3ec,#88f3ec,#88f3ec,#8cf5e0,#8df5df,#84f1f5,#86f2f0,#7ae2fb,#6fd1fd,#5db5ff,#4291ff,#4a9bff,#3d8bff,#2363ff,#1f59ff,#215fff,#1e58ff,#276bff,#2d74ff,#327cff,#3d8aff,#347eff,#3c89ff,#276cff,#4392ff,#4a9bff,#499aff,#60b9ff,#5fb7ff,#6bc9fe)"></i><i style="left:76.80px;top:405.40px;width:46.00px;height:46.00px;background:conic-gradient(from 5deg,#5eb6ff,#5bb2ff,#70d1fd,#7feafb,#83f0f8,#86f2f1,#85f1f3,#8ff6da,#8bf4e5,#86f2ef,#8af4e6,#89f3e9,#8af4e7,#82f0fa,#74d9fc,#75dafc,#4898ff,#4ea0ff,#3f8dff,#296fff,#2e76ff,#2f78ff,#215fff,#337dff,#1f5bff,#2260ff,#2a71ff,#2d75ff,#2b72ff,#3883ff,#2464ff,#215fff,#3079ff,#3a85ff,#4ea0ff,#5ab0ff,#5eb6ff)"></i><i style="left:80.30px;top:408.90px;width:39.00px;height:39.00px;background:conic-gradient(from 5deg,#68c4fe,#5ab0ff,#71d4fd,#75dbfc,#70d2fd,#84f1f6,#7ae2fb,#83f0f8,#84f1f5,#8af4e5,#89f3e9,#83f0f9,#77defc,#83f0f8,#75dafc,#68c5fe,#52a6ff,#286eff,#276dff,#3f8dff,#3a86ff,#215eff,#2261ff,#2568ff,#317aff,#2464ff,#3580ff,#205cff,#337dff,#205bff,#286eff,#3681ff,#337cff,#4a9bff,#4797ff,#68c5fe,#68c4fe)"></i><i style="left:83.80px;top:412.40px;width:32.00px;height:32.00px;background:conic-gradient(from 5deg,#5fb7ff,#4da0ff,#68c4fe,#73d6fd,#5fb7ff,#68c4fe,#7ae2fb,#7be4fb,#85f2f2,#7ce5fb,#79e1fb,#6cccfe,#6ccbfe,#7ce7fb,#64beff,#68c4fe,#50a3ff,#3984ff,#2c74ff,#2464ff,#2363ff,#327cff,#3580ff,#3680ff,#2363ff,#357fff,#2668ff,#2466ff,#347dff,#3079ff,#2b72ff,#2363ff,#2262ff,#2a71ff,#3b88ff,#4291ff,#5fb7ff)"></i><i style="left:87.30px;top:415.90px;width:25.00px;height:25.00px;background:conic-gradient(from 5deg,#4898ff,#4391ff,#4696ff,#64bfff,#54a8ff,#4899ff,#4fa1ff,#69c6fe,#5bb1ff,#6cccfe,#58aeff,#64bfff,#66c1ff,#62bcff,#50a4ff,#59b0ff,#4ea1ff,#3e8bff,#408eff,#3f8dff,#266bff,#286dff,#2568ff,#2f77ff,#215fff,#2261ff,#2669ff,#276cff,#3782ff,#2465ff,#1f59ff,#2567ff,#3681ff,#2669ff,#3d8aff,#4798ff,#4898ff)"></i><i style="left:90.80px;top:419.40px;width:18.00px;height:18.00px;background:conic-gradient(from 5deg,#4798ff,#3782ff,#4696ff,#57adff,#59b0ff,#4c9dff,#4798ff,#57adff,#5db5ff,#5cb3ff,#5ab0ff,#4c9eff,#56abff,#4798ff,#3f8dff,#3179ff,#3781ff,#2568ff,#266aff,#2669ff,#2669ff,#2669ff,#3681ff,#276bff,#276cff,#2567ff,#276cff,#3079ff,#276bff,#276bff,#2465ff,#2260ff,#2363ff,#2465ff,#2c74ff,#286eff,#4798ff)"></i><i style="left:94.30px;top:422.90px;width:11.00px;height:11.00px;background:conic-gradient(from 5deg,#2970ff,#3179ff,#2568ff,#3b87ff,#3078ff,#3782ff,#317aff,#418fff,#3d8bff,#296fff,#3883ff,#2c74ff,#3d8aff,#2f77ff,#286eff,#2464ff,#3d8aff,#2261ff,#2465ff,#3782ff,#205cff,#2568ff,#2568ff,#2b72ff,#2f77ff,#3681ff,#2464ff,#205cff,#2261ff,#1f59ff,#2363ff,#296fff,#347eff,#2260ff,#2568ff,#3b87ff,#2970ff)"></i><i style="left:156.10px;top:375.10px;width:106.60px;height:106.60px;background:conic-gradient(from 5deg,#2364ff,#1d56ff,#133fff,#0e34ff,#0f36ff,#1748ff,#1441ff,#215eff,#2c73ff,#1e57ff,#2364ff,#276cff,#317aff,#3883ff,#347dff,#276cff,#2363ff,#266aff,#2362ff,#2669ff,#194cff,#1441ff,#133eff,#1747ff,#286eff,#5eb6ff,#76dcfc,#82f0fa,#52a7ff,#2c74ff,#215eff,#184aff,#1645ff,#1646ff,#1a4eff,#215eff,#2364ff)"></i><i style="left:158.90px;top:377.90px;width:101.00px;height:101.00px;background:conic-gradient(from 5deg,#276bff,#2669ff,#215eff,#2261ff,#2363ff,#1e57ff,#3078ff,#3f8dff,#347eff,#3883ff,#327bff,#4595ff,#50a3ff,#4798ff,#4b9dff,#4696ff,#2a71ff,#276cff,#357fff,#3883ff,#2364ff,#194bff,#133fff,#1747ff,#347eff,#60b9ff,#6ac8fe,#60b9ff,#4fa2ff,#3985ff,#2261ff,#1748ff,#215dff,#1d56ff,#1d55ff,#2363ff,#276bff)"></i><i style="left:161.90px;top:380.90px;width:95.00px;height:95.00px;background:conic-gradient(from 5deg,#4696ff,#4190ff,#2d74ff,#3681ff,#3b88ff,#4392ff,#3c89ff,#68c5fe,#63bcff,#5ab1ff,#52a6ff,#67c4fe,#74d8fc,#6ecefd,#70d1fd,#6ac8fe,#5cb3ff,#3f8dff,#4696ff,#4291ff,#276cff,#1c54ff,#1748ff,#286eff,#3b88ff,#4d9fff,#67c2ff,#73d6fd,#4798ff,#3b88ff,#1f5aff,#2567ff,#2568ff,#327bff,#2970ff,#3681ff,#4696ff)"></i><i style="left:164.90px;top:383.90px;width:89.00px;height:89.00px;background:conic-gradient(from 5deg,#4d9fff,#58aeff,#78dffc,#7febfa,#82f0fa,#82f0fa,#7de7fb,#85f2f2,#8af4e5,#85f1f4,#8af4e6,#88f3ea,#82f0fa,#83f0f8,#86f2f0,#76dbfc,#70d2fd,#68c5fe,#63bdff,#6dcdfd,#5ab0ff,#3f8dff,#2a71ff,#3984ff,#4899ff,#52a7ff,#62bbff,#53a7ff,#499bff,#3984ff,#286dff,#2d75ff,#2669ff,#2d75ff,#54a8ff,#5bb2ff,#4d9fff)"></i><i style="left:167.90px;top:386.90px;width:83.00px;height:83.00px;background:conic-gradient(from 5deg,#87f3ed,#8ef6db,#91f8d4,#9bfabd,#a7faa2,#a8faa0,#9bfabd,#a6faa3,#acfa96,#9bfabd,#9cfabb,#a4faa9,#a0fab1,#9afabf,#9cfabb,#96fac9,#8ff6da,#88f3ec,#8ef6dc,#87f2ee,#6dccfe,#6ac9fe,#62bcff,#59afff,#64beff,#6ac9fe,#4899ff,#68c5fe,#50a3ff,#52a6ff,#499aff,#357fff,#51a4ff,#4899ff,#73d7fd,#77ddfc,#87f3ed)"></i><i style="left:170.40px;top:389.40px;width:78.00px;height:78.00px;background:conic-gradient(from 5deg,#92f8d3,#a9fa9d,#def553,#e0f451,#d6f65a,#e5f34d,#d4f65c,#eaf349,#e5f44e,#e8f34b,#d7f659,#d7f659,#cbf863,#c3f96a,#c7f967,#c2f96b,#adfa94,#a2faac,#abfa98,#96fac9,#8df6de,#86f2ef,#7be5fb,#6ecefd,#76dbfc,#6bcafe,#6ac9fe,#62bcff,#53a7ff,#4c9eff,#4392ff,#6ac8fe,#6bc9fe,#71d3fd,#7ee9fb,#8ff7d8,#92f8d3)"></i><i style="left:172.40px;top:391.40px;width:74.00px;height:74.00px;background:conic-gradient(from 5deg,#acfa97,#bffa6d,#f9f03c,#fae739,#faeb3b,#faee3b,#f0f244,#faea3a,#faee3c,#fae038,#e8f34b,#d5f65b,#e5f44e,#dcf555,#d2f75d,#daf557,#bbfa74,#b0fa8d,#befa6e,#9afac0,#91f8d4,#87f3ed,#85f1f3,#75dbfc,#82f0fa,#6fd1fd,#5bb2ff,#58aeff,#51a5ff,#51a5ff,#65c0ff,#67c2ff,#6dcdfd,#7ce6fb,#8bf5e3,#a5faa7,#acfa97)"></i><i style="left:174.40px;top:393.40px;width:70.00px;height:70.00px;background:conic-gradient(from 5deg,#9dfab8,#c3f96a,#fae739,#fae93a,#f7f13f,#f5f140,#eff245,#edf247,#f8f03e,#faef3c,#dbf556,#d9f658,#cdf862,#dbf556,#d2f75d,#dbf556,#d0f75f,#b6fa7f,#b0fa8e,#93f8d0,#8af4e7,#8cf5e0,#89f4e8,#72d6fd,#84f1f4,#79e1fc,#5ab0ff,#5eb5ff,#62bcff,#55abff,#59b0ff,#73d7fd,#79e0fc,#7de8fb,#8cf5e0,#92f8d3,#9dfab8)"></i><i style="left:176.40px;top:395.40px;width:66.00px;height:66.00px;background:conic-gradient(from 5deg,#93f8d1,#aafa9b,#caf864,#dff553,#e6f34d,#e1f451,#e1f451,#e8f34b,#e1f451,#f2f143,#cbf863,#b9fa7a,#c7f866,#cbf863,#c0fa6c,#bcfa72,#aefa93,#9ffab4,#a9fa9d,#96fac9,#84f1f5,#84f1f4,#79e1fc,#64bfff,#74d8fc,#64beff,#67c4fe,#63bdff,#62bbff,#4898ff,#4291ff,#68c5fe,#5eb6ff,#78dffc,#81eefa,#92f8d3,#93f8d1)"></i><i style="left:178.40px;top:397.40px;width:62.00px;height:62.00px;background:conic-gradient(from 5deg,#76ddfc,#89f3ea,#aafa9b,#acfa97,#aefa93,#befa6e,#bcfa73,#b0fa8e,#c0fa6c,#b6fa80,#b0fa8e,#a2faac,#9cfaba,#9dfab8,#99fac0,#93f8d0,#95f9cb,#89f4e7,#8af4e6,#85f2f2,#70d3fd,#53a7ff,#65bfff,#5db4ff,#58afff,#3f8dff,#4b9dff,#4291ff,#286fff,#317aff,#3a86ff,#3b87ff,#56abff,#5db4ff,#75dafc,#86f2f0,#76ddfc)"></i><i style="left:180.40px;top:399.40px;width:58.00px;height:58.00px;background:conic-gradient(from 5deg,#54a9ff,#7be5fb,#7ae2fb,#90f7d7,#8af4e6,#90f7d7,#92f8d2,#90f7d7,#9dfab9,#a1fab0,#91f8d4,#8ef6dd,#92f8d3,#8ef6dd,#85f1f3,#82f0f9,#82f0f9,#61bbff,#5db5ff,#53a7ff,#4da0ff,#3a86ff,#2568ff,#2a70ff,#1f59ff,#1e58ff,#2261ff,#2669ff,#1d55ff,#194cff,#2363ff,#194dff,#1b50ff,#2362ff,#337cff,#4c9eff,#54a9ff)"></i><i style="left:182.90px;top:401.90px;width:53.00px;height:53.00px;background:conic-gradient(from 5deg,#4595ff,#5eb6ff,#6ecffd,#86f2f0,#87f3ec,#8cf5e2,#89f3e9,#92f8d1,#8df5df,#9bfabc,#8df5df,#8df6de,#85f2f2,#87f2ee,#81eefa,#79e0fc,#67c2ff,#57adff,#58aeff,#3883ff,#286eff,#1e57ff,#1a4fff,#1d55ff,#2362ff,#133fff,#1d55ff,#1645ff,#194cff,#123dff,#1849ff,#1440ff,#1442ff,#1f5aff,#2262ff,#2e76ff,#4595ff)"></i><i style="left:186.40px;top:405.40px;width:46.00px;height:46.00px;background:conic-gradient(from 5deg,#4ea1ff,#4797ff,#73d8fc,#8af4e6,#86f2ef,#93f8d0,#8df5e0,#9efab7,#95f9cb,#98fac4,#94f9cd,#89f3e9,#8af4e7,#8bf5e3,#88f3eb,#78e0fc,#5cb3ff,#337cff,#3984ff,#317aff,#1d55ff,#225fff,#1543ff,#1b50ff,#133fff,#0e34ff,#184aff,#123eff,#1441ff,#113bff,#1039ff,#1543ff,#0c30ff,#1b51ff,#2464ff,#3d8aff,#4ea1ff)"></i><i style="left:189.90px;top:408.90px;width:39.00px;height:39.00px;background:conic-gradient(from 5deg,#3782ff,#61baff,#68c4fe,#81eefa,#8df6dd,#8cf5e1,#8bf4e4,#8df6de,#94f9ce,#8cf5e0,#91f7d6,#86f2f0,#89f4e8,#79e2fb,#86f2f1,#74d9fc,#3c89ff,#2e76ff,#4696ff,#3984ff,#205dff,#2261ff,#1d55ff,#1646ff,#1a4eff,#123dff,#0b2eff,#1646ff,#1441ff,#0d31ff,#0f37ff,#1340ff,#123dff,#194dff,#286dff,#4797ff,#3782ff)"></i><i style="left:193.40px;top:412.40px;width:32.00px;height:32.00px;background:conic-gradient(from 5deg,#286eff,#3f8dff,#63bcff,#83f1f7,#86f2ef,#71d4fd,#85f2f2,#80edfa,#84f1f6,#83f0f9,#85f1f3,#87f3ed,#84f1f5,#71d4fd,#7be4fb,#64beff,#3680ff,#4595ff,#2b72ff,#3d8aff,#1e58ff,#2669ff,#1e57ff,#1d55ff,#1544ff,#1748ff,#194dff,#1645ff,#1c54ff,#1544ff,#1b51ff,#0f36ff,#1b52ff,#205dff,#347eff,#2c74ff,#286eff)"></i><i style="left:196.90px;top:415.90px;width:25.00px;height:25.00px;background:conic-gradient(from 5deg,#317aff,#4b9dff,#4b9cff,#61baff,#75dbfc,#71d4fd,#70d2fd,#66c2ff,#7fecfa,#75dafc,#6bcafe,#69c7fe,#5ab1ff,#6fd0fd,#69c6fe,#61b9ff,#4493ff,#276bff,#2d74ff,#3c88ff,#1d55ff,#1f59ff,#1a50ff,#1a4fff,#1a4eff,#1d55ff,#133eff,#1f59ff,#184aff,#1441ff,#133fff,#1a4eff,#194cff,#215eff,#215eff,#2a70ff,#317aff)"></i><i style="left:200.40px;top:419.40px;width:18.00px;height:18.00px;background:conic-gradient(from 5deg,#2e76ff,#286dff,#4494ff,#5db5ff,#59afff,#4999ff,#5fb7ff,#4ea0ff,#52a6ff,#4da0ff,#5db5ff,#4a9cff,#499aff,#4290ff,#5ab1ff,#347eff,#3c88ff,#3985ff,#2a71ff,#2b72ff,#2362ff,#286eff,#2567ff,#1b51ff,#2363ff,#194dff,#1d56ff,#194cff,#1d56ff,#205cff,#215fff,#1b50ff,#184aff,#2260ff,#347fff,#2d75ff,#2e76ff)"></i><i style="left:203.90px;top:422.90px;width:11.00px;height:11.00px;background:conic-gradient(from 5deg,#2c74ff,#3580ff,#3680ff,#4696ff,#4898ff,#408eff,#4493ff,#2c74ff,#327bff,#4392ff,#3c89ff,#4595ff,#408eff,#2e77ff,#286dff,#357fff,#2363ff,#286eff,#2465ff,#2568ff,#296fff,#276cff,#276bff,#1e57ff,#2d75ff,#276bff,#2b73ff,#2567ff,#2568ff,#2b71ff,#276bff,#2568ff,#1d54ff,#1e57ff,#2d74ff,#347eff,#2c74ff)"></i><i style="left:265.30px;top:375.10px;width:106.60px;height:106.60px;background:conic-gradient(from 5deg,#133fff,#1645ff,#2261ff,#3b87ff,#3f8dff,#3078ff,#4696ff,#5db5ff,#7be4fb,#6ccbfe,#76dcfc,#58aeff,#408fff,#4392ff,#3179ff,#3883ff,#184aff,#184aff,#1747ff,#123dff,#1646ff,#2364ff,#2260ff,#1e57ff,#3078ff,#4392ff,#4da0ff,#4898ff,#3079ff,#205bff,#194dff,#1440ff,#1a4eff,#0e33ff,#1a4eff,#184aff,#133fff)"></i><i style="left:268.10px;top:377.90px;width:101.00px;height:101.00px;background:conic-gradient(from 5deg,#1c54ff,#2e76ff,#3782ff,#55a9ff,#65c0ff,#78dffc,#72d5fd,#8af4e5,#8df5df,#90f7d6,#84f1f6,#7febfb,#76dbfc,#6fd1fd,#63bdff,#53a8ff,#347eff,#2568ff,#1f59ff,#2464ff,#2d75ff,#2b71ff,#1b51ff,#215eff,#2466ff,#4392ff,#327cff,#4798ff,#2669ff,#1f59ff,#205cff,#1037ff,#1749ff,#1543ff,#1e58ff,#1544ff,#1c54ff)"></i><i style="left:271.10px;top:380.90px;width:95.00px;height:95.00px;background:conic-gradient(from 5deg,#2a71ff,#347eff,#72d5fd,#7ae2fb,#87f3ed,#82effa,#94f9cd,#9afac0,#adfa95,#a7faa1,#8ff6da,#8ef6dc,#81eefa,#73d8fc,#81effa,#6ac7fe,#4797ff,#2d74ff,#3f8dff,#276bff,#276cff,#2260ff,#2363ff,#347eff,#286eff,#4a9cff,#357fff,#4797ff,#3883ff,#2567ff,#1d56ff,#133fff,#1f5aff,#2466ff,#2261ff,#205bff,#2a71ff)"></i><i style="left:274.10px;top:383.90px;width:89.00px;height:89.00px;background:conic-gradient(from 5deg,#347eff,#5eb6ff,#8df6dd,#92f8d1,#98fac4,#a3faaa,#a3faab,#c8f866,#d1f75e,#c0fa6d,#a6faa4,#a6faa5,#93f8d1,#8ef6dc,#84f1f5,#86f2ef,#70d2fd,#4b9dff,#6ac9fe,#5bb2ff,#3d8bff,#4fa2ff,#418fff,#4392ff,#2d75ff,#337cff,#4696ff,#286dff,#2669ff,#1d56ff,#205cff,#184bff,#2568ff,#2567ff,#3d89ff,#4d9fff,#347eff)"></i><i style="left:277.10px;top:386.90px;width:83.00px;height:83.00px;background:conic-gradient(from 5deg,#7ee9fb,#89f3e9,#affa91,#d7f659,#d0f75f,#e3f450,#d4f65b,#def553,#cef760,#daf557,#b4fa84,#9efab6,#97fac6,#93f9cf,#86f2ef,#82effa,#71d4fd,#75dafc,#6fd1fd,#6dcdfe,#6ac8fe,#4fa2ff,#57acff,#4493ff,#4fa1ff,#499aff,#2d75ff,#3d8aff,#2362ff,#205cff,#215fff,#1f5aff,#357fff,#3883ff,#4290ff,#58afff,#7ee9fb)"></i><i style="left:279.60px;top:389.40px;width:78.00px;height:78.00px;background:conic-gradient(from 5deg,#8bf5e3,#bafa77,#f9f03d,#face32,#facb31,#fad835,#fadf37,#eef246,#dbf556,#c8f866,#b1fa8b,#95f9cb,#91f8d4,#90f7d8,#89f4e8,#8af4e6,#87f3ed,#71d3fd,#81effa,#7eeafb,#69c6fe,#73d8fc,#67c3ff,#63bcff,#64beff,#4899ff,#276cff,#2567ff,#2e76ff,#2567ff,#2568ff,#2465ff,#3883ff,#62bbff,#6ccbfe,#82f0fa,#8bf5e3)"></i><i style="left:281.60px;top:391.40px;width:74.00px;height:74.00px;background:conic-gradient(from 5deg,#92f8d1,#c7f866,#fadc36,#fac730,#fab22a,#faba2d,#fac931,#e3f44f,#d3f75d,#d5f65b,#b2fa8a,#9ffab3,#9afac0,#8ff7d9,#88f3eb,#8af4e6,#89f4e7,#73d7fd,#7de7fb,#83f1f7,#7de8fb,#77ddfc,#85f1f4,#83f0f8,#84f1f6,#54a9ff,#3b87ff,#327cff,#317aff,#2260ff,#215fff,#3782ff,#65c0ff,#5bb2ff,#70d2fd,#86f2f0,#92f8d1)"></i><i style="left:283.60px;top:393.40px;width:70.00px;height:70.00px;background:conic-gradient(from 5deg,#8df5e0,#bafa78,#fabf2e,#faac28,#f37521,#faba2d,#fad935,#eaf34a,#e9f34a,#d1f75e,#b6fa81,#a6faa3,#a4faa8,#9bfabc,#8df5e0,#8af4e6,#8af4e7,#7be5fb,#73d6fd,#7be4fb,#75dbfc,#74d8fc,#83f0f9,#77ddfc,#7be4fb,#54a9ff,#2d75ff,#3f8cff,#2e76ff,#2362ff,#2261ff,#2a71ff,#57acff,#6bcafe,#83f0f8,#8bf5e3,#8df5e0)"></i><i style="left:285.60px;top:395.40px;width:66.00px;height:66.00px;background:conic-gradient(from 5deg,#8af4e5,#a6faa3,#e5f44e,#fab32b,#f89926,#fad233,#f9f03d,#f1f244,#dff452,#def553,#c5f968,#98fac4,#93f8d1,#8cf5e2,#89f4e8,#83f1f6,#88f3eb,#77defc,#72d6fd,#64beff,#7be5fb,#65c0ff,#74d9fc,#63bdff,#61baff,#408fff,#347eff,#266aff,#2567ff,#215eff,#1a4eff,#2363ff,#4797ff,#4ea1ff,#6cccfe,#81effa,#8af4e5)"></i><i style="left:287.60px;top:397.40px;width:62.00px;height:62.00px;background:conic-gradient(from 5deg,#63bcff,#88f3ea,#befa6e,#f0f244,#fabb2d,#f5f140,#ddf554,#cdf761,#dff553,#cdf761,#b3fa86,#95f9cb,#90f7d8,#92f8d1,#87f2ef,#86f2f0,#64beff,#63bdff,#53a8ff,#4c9eff,#4697ff,#4291ff,#499aff,#3f8dff,#4c9eff,#2466ff,#286eff,#205cff,#215eff,#1646ff,#1340ff,#2363ff,#286dff,#3984ff,#4d9fff,#6ac7fe,#63bcff)"></i><i style="left:289.60px;top:399.40px;width:58.00px;height:58.00px;background:conic-gradient(from 5deg,#4fa2ff,#71d4fd,#93f8d0,#a9fa9d,#c4f969,#c8f866,#c6f967,#d0f75f,#c5f968,#c1f96b,#bdfa71,#92f8d3,#88f3ec,#83f1f7,#7febfb,#6ecefd,#50a4ff,#3e8cff,#2a71ff,#2c73ff,#266aff,#1a4eff,#1e58ff,#2466ff,#1f59ff,#1f5aff,#1b50ff,#1442ff,#0b2cff,#0827ff,#0f35ff,#1442ff,#123bff,#1646ff,#2d74ff,#3781ff,#4fa2ff)"></i><i style="left:292.10px;top:401.90px;width:53.00px;height:53.00px;background:conic-gradient(from 5deg,#266aff,#3e8cff,#82f0f9,#95f9cb,#a8faa0,#b0fa8e,#a1faaf,#c2f96a,#bafa76,#bbfa74,#a7faa3,#97fac5,#87f3ed,#79e1fb,#7be5fb,#56acff,#2e76ff,#2260ff,#2567ff,#215eff,#133eff,#0e34ff,#1748ff,#113aff,#1544ff,#0c2fff,#113aff,#0c30ff,#0723ff,#0014ff,#0015ff,#0a2bff,#0c2eff,#0f36ff,#1749ff,#2568ff,#266aff)"></i><i style="left:295.60px;top:405.40px;width:46.00px;height:46.00px;background:conic-gradient(from 5deg,#2d75ff,#3c89ff,#86f2ef,#93f8d0,#96fac7,#99fac1,#b1fa8b,#c2f96b,#b3fa87,#b2fa88,#9dfab8,#8df6de,#82f0f9,#7eeafb,#6fd0fd,#60b9ff,#2b72ff,#205cff,#205cff,#1748ff,#0d31ff,#0623ff,#0219ff,#0c2eff,#0014fd,#031bff,#0825ff,#031bff,#0013f8,#0013fc,#0013fc,#0012f6,#0012f5,#0927ff,#1340ff,#1c52ff,#2d75ff)"></i><i style="left:299.10px;top:408.90px;width:39.00px;height:39.00px;background:conic-gradient(from 5deg,#1d56ff,#2a71ff,#72d5fd,#87f2ef,#91f7d5,#94f9cc,#95faca,#a4faa9,#abfa9a,#a0fab2,#90f7d7,#83f0f9,#7febfa,#6cccfe,#60b8ff,#3a86ff,#2363ff,#2568ff,#1d55ff,#1e57ff,#1646ff,#0723ff,#041dff,#0d31ff,#0115ff,#031cff,#0723ff,#0014fd,#0013fb,#0723ff,#0520ff,#0622ff,#0723ff,#0826ff,#0f37ff,#1645ff,#1d56ff)"></i><i style="left:302.60px;top:412.40px;width:32.00px;height:32.00px;background:conic-gradient(from 5deg,#2261ff,#2970ff,#63bdff,#83f1f7,#7ce6fb,#8af4e7,#84f1f6,#85f2f1,#89f3ea,#91f8d4,#8af4e5,#6fd1fd,#5fb7ff,#62bcff,#58aeff,#4493ff,#205cff,#1748ff,#1a4eff,#1c54ff,#123cff,#1039ff,#041dff,#0826ff,#0c30ff,#051fff,#0723ff,#0723ff,#0117ff,#051fff,#051fff,#0116ff,#0520ff,#113aff,#1a4eff,#215eff,#2261ff)"></i><i style="left:306.10px;top:415.90px;width:25.00px;height:25.00px;background:conic-gradient(from 5deg,#1644ff,#2364ff,#3a86ff,#63bdff,#58aeff,#63bcff,#61baff,#77defc,#78e0fc,#62bbff,#58aeff,#4595ff,#4493ff,#4493ff,#2d74ff,#1e58ff,#1e57ff,#194cff,#1543ff,#1037ff,#0c30ff,#0723ff,#0e33ff,#0723ff,#0a2bff,#0622ff,#0014ff,#0116ff,#0723ff,#0a2aff,#0b2cff,#0013fb,#031aff,#0620ff,#0d31ff,#1441ff,#1644ff)"></i><i style="left:309.60px;top:419.40px;width:18.00px;height:18.00px;background:conic-gradient(from 5deg,#1747ff,#205cff,#2466ff,#2669ff,#337dff,#2c73ff,#357fff,#4594ff,#4595ff,#3883ff,#337cff,#3c89ff,#276cff,#2567ff,#1f59ff,#194dff,#1b50ff,#0c2eff,#1543ff,#1749ff,#0f37ff,#041cff,#021aff,#0e33ff,#031cff,#0621ff,#0928ff,#0928ff,#031bff,#0929ff,#0d31ff,#0621ff,#0622ff,#0e34ff,#1544ff,#1543ff,#1747ff)"></i><i style="left:313.10px;top:422.90px;width:11.00px;height:11.00px;background:conic-gradient(from 5deg,#1542ff,#1543ff,#1b51ff,#133fff,#1b51ff,#1441ff,#133fff,#1749ff,#215fff,#1748ff,#1645ff,#1d56ff,#1c54ff,#184aff,#113aff,#1646ff,#0927ff,#0622ff,#0724ff,#0a2bff,#0825ff,#1039ff,#0a29ff,#1037ff,#0a2aff,#0725ff,#0723ff,#0219ff,#0827ff,#1038ff,#1039ff,#1037ff,#031cff,#0a2bff,#123cff,#0827ff,#1542ff)"></i><i style="left:374.80px;top:375.10px;width:106.60px;height:106.60px;background:conic-gradient(from 5deg,#0622ff,#1039ff,#1a4fff,#3985ff,#4291ff,#51a4ff,#3884ff,#5db5ff,#68c4fe,#50a4ff,#3c88ff,#4493ff,#276cff,#184bff,#184aff,#1a4eff,#0c2fff,#0c2fff,#0724ff,#0622ff,#0c30ff,#0d32ff,#123cff,#0723ff,#1038ff,#1039ff,#1b50ff,#1543ff,#1441ff,#184bff,#0f36ff,#0d32ff,#0d30ff,#0723ff,#0f35ff,#133fff,#0622ff)"></i><i style="left:377.60px;top:377.90px;width:101.00px;height:101.00px;background:conic-gradient(from 5deg,#0a2bff,#205dff,#2a70ff,#4797ff,#65c0ff,#6ecffd,#61bbff,#6cccfe,#7be5fb,#71d4fd,#6cccfe,#65c0ff,#2a70ff,#2f78ff,#2466ff,#1c53ff,#194dff,#194dff,#113aff,#123dff,#1542ff,#1748ff,#194bff,#1038ff,#1139ff,#1f5aff,#1d54ff,#215dff,#123cff,#1646ff,#0723ff,#051fff,#0520ff,#0a2cff,#0d31ff,#123bff,#0a2bff)"></i><i style="left:380.60px;top:380.90px;width:95.00px;height:95.00px;background:conic-gradient(from 5deg,#1b51ff,#215eff,#4ea1ff,#70d2fd,#7de7fb,#7ce7fb,#7ce6fb,#86f2ef,#8ff6db,#8ff6da,#87f3ed,#71d3fd,#5ab0ff,#4798ff,#3f8cff,#4291ff,#215dff,#1646ff,#1748ff,#1646ff,#133fff,#1544ff,#1544ff,#1d56ff,#1f59ff,#1748ff,#1b51ff,#1748ff,#1f59ff,#0c2fff,#0c30ff,#031bff,#0b2dff,#0d32ff,#0929ff,#0d32ff,#1b51ff)"></i><i style="left:383.60px;top:383.90px;width:89.00px;height:89.00px;background:conic-gradient(from 5deg,#1a4eff,#3079ff,#67c3ff,#83f1f7,#8df6de,#8ff7d8,#8ff7d9,#9bfabc,#95fac9,#9cfabb,#94f9ce,#7febfb,#7ae3fb,#73d6fd,#6ecefd,#4c9eff,#2e76ff,#1e57ff,#1645ff,#1f59ff,#1e57ff,#1a4eff,#205dff,#133fff,#215dff,#184aff,#1b51ff,#1e58ff,#113aff,#1038ff,#041dff,#031cff,#1340ff,#0b2dff,#133eff,#113aff,#1a4eff)"></i><i style="left:386.60px;top:386.90px;width:83.00px;height:83.00px;background:conic-gradient(from 5deg,#2566ff,#4a9bff,#88f3ea,#8cf5e0,#95faca,#96fac9,#a4faa9,#acfa98,#aafa9a,#a8faa0,#91f7d5,#8ef6dc,#73d7fc,#63bdff,#5bb2ff,#51a4ff,#286eff,#133fff,#1c53ff,#1442ff,#1646ff,#1748ff,#1747ff,#1b50ff,#1b50ff,#1039ff,#1849ff,#0e34ff,#113aff,#041eff,#0a2aff,#0622ff,#1442ff,#123cff,#133fff,#215eff,#2566ff)"></i><i style="left:389.10px;top:389.40px;width:78.00px;height:78.00px;background:conic-gradient(from 5deg,#1c52ff,#67c3ff,#8ef6dd,#8df5e0,#9afabf,#9bfabc,#b7fa7d,#9ffab3,#affa8f,#a9fa9d,#8ef6dc,#8cf5e0,#83f1f7,#6ac8fe,#3b87ff,#286eff,#1d55ff,#0c2eff,#0c2fff,#1139ff,#0f36ff,#1542ff,#0b2dff,#0c2fff,#1039ff,#113aff,#0927ff,#0622ff,#0219ff,#031aff,#031aff,#0e32ff,#0a2aff,#0d32ff,#1a4eff,#1849ff,#1c52ff)"></i><i style="left:391.10px;top:391.40px;width:74.00px;height:74.00px;background:conic-gradient(from 5deg,#1c54ff,#75dafc,#95f9cc,#92f8d2,#98fac3,#a9fa9c,#a4faa8,#b5fa82,#b8fa7c,#affa91,#91f8d4,#8bf4e4,#88f3eb,#58aeff,#4493ff,#276cff,#266aff,#1646ff,#0e34ff,#133fff,#0c30ff,#0928ff,#1037ff,#0928ff,#0e34ff,#123cff,#0b2dff,#0520ff,#0218ff,#041eff,#041dff,#0f37ff,#0929ff,#1038ff,#1646ff,#1c52ff,#1c54ff)"></i><i style="left:393.10px;top:393.40px;width:70.00px;height:70.00px;background:conic-gradient(from 5deg,#1f59ff,#63bcff,#90f7d7,#90f7d6,#99fac1,#abfa98,#b9fa79,#acfa96,#a8fa9f,#9bfabc,#92f8d1,#84f1f4,#78dffc,#63bdff,#4290ff,#2d74ff,#2261ff,#1440ff,#0928ff,#0827ff,#1038ff,#113aff,#1039ff,#0b2dff,#0d30ff,#1037ff,#0826ff,#0929ff,#0219ff,#0620ff,#041cff,#0217ff,#123dff,#1543ff,#1e59ff,#2466ff,#1f59ff)"></i><i style="left:395.10px;top:395.40px;width:66.00px;height:66.00px;background:conic-gradient(from 5deg,#2465ff,#5bb2ff,#88f3ea,#95f9cc,#98fac4,#a0fab1,#9dfab7,#adfa94,#b1fa8a,#affa8f,#8ef6dc,#83f0f8,#84f1f6,#58aeff,#51a4ff,#4493ff,#215eff,#0e34ff,#113aff,#1440ff,#0d31ff,#123bff,#113aff,#1544ff,#133fff,#0f36ff,#0b2cff,#0f36ff,#0827ff,#0723ff,#0116ff,#0219ff,#0e33ff,#0b2cff,#1d54ff,#1748ff,#2465ff)"></i><i style="left:397.10px;top:397.40px;width:62.00px;height:62.00px;background:conic-gradient(from 5deg,#215eff,#3d8aff,#78e0fc,#8ef6dd,#91f7d6,#a6faa4,#a2faae,#99fac1,#a3faab,#9bfabe,#93f8d0,#87f3ed,#78dffc,#6dccfe,#4a9bff,#418fff,#215eff,#0e33ff,#1542ff,#0825ff,#0a2bff,#0622ff,#1442ff,#0e33ff,#123dff,#133eff,#031bff,#0f36ff,#0013fc,#0723ff,#0725ff,#041cff,#0f36ff,#1038ff,#113bff,#133eff,#215eff)"></i><i style="left:399.10px;top:399.40px;width:58.00px;height:58.00px;background:conic-gradient(from 5deg,#0d31ff,#205bff,#66c1ff,#86f2f1,#88f3ea,#90f7d8,#8ff6da,#98fac4,#aafa9b,#99fac1,#93f9cf,#82f0fa,#82f0f9,#5fb7ff,#65bfff,#4393ff,#2362ff,#0c2fff,#1039ff,#0621ff,#123dff,#0d30ff,#0218ff,#031bff,#0219ff,#051fff,#0d31ff,#0a2bff,#0217ff,#0723ff,#000fe7,#0218ff,#0218ff,#0014ff,#123cff,#113bff,#0d31ff)"></i><i style="left:401.60px;top:401.90px;width:53.00px;height:53.00px;background:conic-gradient(from 5deg,#133fff,#1f59ff,#50a4ff,#71d4fd,#87f2ee,#8ff6db,#91f7d6,#9cfaba,#a2faad,#9efab6,#8df5df,#83f0f9,#68c4fe,#57adff,#4695ff,#3884ff,#205bff,#0f35ff,#0f36ff,#041dff,#0b2dff,#0218ff,#0827ff,#0013fa,#0013fb,#0217ff,#0012f2,#0012f4,#031bff,#031aff,#041eff,#0013fb,#0011f1,#0117ff,#0724ff,#0a2bff,#133fff)"></i><i style="left:405.10px;top:405.40px;width:46.00px;height:46.00px;background:conic-gradient(from 5deg,#0e34ff,#1a4eff,#54a8ff,#75dafc,#83f1f6,#80ecfa,#8cf5e1,#96fac8,#95fac9,#a0fab2,#8ef6dd,#82f0f9,#79e1fc,#6fd0fd,#4392ff,#2b72ff,#1442ff,#0116ff,#031aff,#041eff,#0014fe,#0014fd,#000edf,#0013fb,#0013f8,#000ede,#0011f0,#0116ff,#0014ff,#0011f0,#0010ea,#0012f5,#0010eb,#0218ff,#0115ff,#0622ff,#0e34ff)"></i><i style="left:408.60px;top:408.90px;width:39.00px;height:39.00px;background:conic-gradient(from 5deg,#0a2bff,#1748ff,#3782ff,#60b9ff,#70d1fd,#7febfa,#85f1f3,#8cf5e1,#90f7d6,#8ff6da,#8bf5e3,#82f0f9,#51a5ff,#56abff,#4391ff,#2568ff,#1441ff,#051eff,#0012f4,#0015ff,#0014ff,#0014fd,#031bff,#0013fa,#0012f7,#000fe4,#0013f9,#000cd6,#0014fe,#0010e9,#000fe7,#0012f4,#0011f0,#0621ff,#0011f2,#0012f7,#0a2bff)"></i><i style="left:412.10px;top:412.40px;width:32.00px;height:32.00px;background:conic-gradient(from 5deg,#0825ff,#0e34ff,#215dff,#5ab1ff,#58afff,#56abff,#67c4fe,#72d5fd,#7ce6fb,#78dffc,#82f0fa,#63bdff,#3c89ff,#296fff,#3d8aff,#2363ff,#0928ff,#0c2eff,#0520ff,#0a2bff,#0014fe,#0013f8,#000ede,#0013fb,#0010e7,#0219ff,#000fe3,#0218ff,#0010e8,#0115ff,#0013fc,#031aff,#0013f8,#0012f6,#0013fb,#0015ff,#0825ff)"></i><i style="left:415.60px;top:415.90px;width:25.00px;height:25.00px;background:conic-gradient(from 5deg,#0014fe,#0c2fff,#1a4fff,#3782ff,#266aff,#3b88ff,#4798ff,#4899ff,#65bfff,#52a6ff,#58aeff,#2d74ff,#347eff,#215fff,#1a4fff,#123cff,#0826ff,#0014ff,#0218ff,#0b2cff,#0014fe,#0013fa,#041cff,#000fe7,#000fe6,#041dff,#0011ef,#000fe7,#0010e8,#0218ff,#0520ff,#0012f3,#0219ff,#0014ff,#0013fa,#0218ff,#0014fe)"></i><i style="left:419.10px;top:419.40px;width:18.00px;height:18.00px;background:conic-gradient(from 5deg,#031bff,#0825ff,#194dff,#1748ff,#1f59ff,#2568ff,#1e57ff,#3b88ff,#347fff,#3580ff,#2262ff,#1d54ff,#215fff,#215fff,#1038ff,#1645ff,#0520ff,#0013fb,#0622ff,#0012f7,#0826ff,#0724ff,#0013f8,#0011f0,#0116ff,#041eff,#0010e7,#031bff,#0010ec,#0013f9,#0011ee,#0010ea,#0117ff,#0013fb,#0a2aff,#0b2cff,#031bff)"></i><i style="left:422.60px;top:422.90px;width:11.00px;height:11.00px;background:conic-gradient(from 5deg,#0827ff,#0725ff,#0d31ff,#0b2eff,#0f35ff,#1039ff,#1037ff,#123bff,#194cff,#1b50ff,#1544ff,#1543ff,#0a2cff,#0622ff,#0725ff,#0929ff,#0b2cff,#0827ff,#0b2dff,#0927ff,#0116ff,#0012f4,#031bff,#0116ff,#0928ff,#0929ff,#041cff,#0724ff,#0622ff,#031bff,#0219ff,#0a2aff,#0825ff,#051fff,#0c2eff,#0013fc,#0827ff)"></i><i style="left:484.30px;top:375.10px;width:106.60px;height:106.60px;background:conic-gradient(from 5deg,#1f5aff,#337dff,#69c6fe,#88f3ec,#95f9cc,#94f9cc,#82effa,#7de7fb,#6ecefd,#4c9fff,#4493ff,#2466ff,#1645ff,#0e32ff,#0d32ff,#113aff,#0825ff,#041eff,#0013f9,#0928ff,#133fff,#286dff,#3b87ff,#408eff,#184bff,#1543ff,#031cff,#1039ff,#031aff,#0826ff,#051fff,#0012f7,#041dff,#0a2bff,#0e34ff,#1646ff,#1f5aff)"></i><i style="left:487.10px;top:377.90px;width:101.00px;height:101.00px;background:conic-gradient(from 5deg,#184bff,#4392ff,#83f0f8,#90f7d7,#96fac9,#95f9cc,#8af4e7,#8af4e6,#85f1f3,#73d6fd,#67c3fe,#3985ff,#2e76ff,#1b50ff,#2464ff,#0d32ff,#0e32ff,#0011f2,#0218ff,#1038ff,#2567ff,#4392ff,#3781ff,#418fff,#2362ff,#123cff,#0e33ff,#1440ff,#041cff,#0b2cff,#0620ff,#0a2aff,#0622ff,#0a2bff,#1c53ff,#1645ff,#184bff)"></i><i style="left:490.10px;top:380.90px;width:95.00px;height:95.00px;background:conic-gradient(from 5deg,#266aff,#3e8bff,#71d3fd,#8ff6da,#aafa9c,#95f9cb,#a3faaa,#8ff7d9,#98fac3,#8bf4e5,#89f4e8,#6fd0fd,#50a3ff,#4ea1ff,#286dff,#2669ff,#1038ff,#0929ff,#0116ff,#184aff,#2669ff,#408dff,#4595ff,#53a7ff,#2b72ff,#2362ff,#194bff,#1543ff,#123cff,#0520ff,#0c2fff,#0928ff,#021aff,#0a2bff,#1441ff,#1c52ff,#266aff)"></i><i style="left:493.10px;top:383.90px;width:89.00px;height:89.00px;background:conic-gradient(from 5deg,#327bff,#5cb3ff,#87f3ed,#95faca,#b5fa82,#a0fab2,#a4faa8,#adfa95,#a9fa9d,#b4fa85,#a1fab0,#8bf4e4,#6cccfe,#67c3ff,#4c9eff,#2c74ff,#1646ff,#041cff,#0e34ff,#194dff,#2f77ff,#3c88ff,#51a5ff,#5bb2ff,#4190ff,#2261ff,#1e58ff,#1543ff,#0e34ff,#0d31ff,#0622ff,#0621ff,#1037ff,#113bff,#215fff,#266aff,#327bff)"></i><i style="left:496.10px;top:386.90px;width:83.00px;height:83.00px;background:conic-gradient(from 5deg,#2363ff,#5fb7ff,#8ef6dc,#a1faaf,#b8fa7c,#b8fa7c,#c9f865,#b1fa8b,#bffa6d,#b6fa81,#aefa91,#8df5df,#86f2f0,#79e1fc,#4ea0ff,#3d8bff,#194cff,#0a2aff,#0f36ff,#1849ff,#1f59ff,#4291ff,#3f8cff,#3f8cff,#4a9bff,#2e76ff,#2261ff,#215eff,#1849ff,#0e34ff,#0a2bff,#0a2bff,#1543ff,#1d54ff,#1e58ff,#2261ff,#2363ff)"></i><i style="left:498.60px;top:389.40px;width:78.00px;height:78.00px;background:conic-gradient(from 5deg,#3e8cff,#71d4fd,#97fac6,#b3fa86,#bcfa73,#b8fa7c,#ccf863,#c0fa6c,#cef761,#d3f65c,#b4fa84,#94f9cd,#88f3ec,#86f2f0,#6ecefd,#4695ff,#1c54ff,#184aff,#123dff,#1747ff,#1d55ff,#2362ff,#347dff,#5ab1ff,#4c9eff,#2e77ff,#266aff,#205cff,#123dff,#0a2bff,#0d30ff,#113bff,#1645ff,#1d55ff,#215eff,#3b87ff,#3e8cff)"></i><i style="left:500.60px;top:391.40px;width:74.00px;height:74.00px;background:conic-gradient(from 5deg,#51a5ff,#81effa,#99fac0,#b7fa7d,#d2f75d,#e7f34c,#e7f34c,#e4f44e,#d8f658,#c8f866,#b0fa8e,#a6faa5,#90f7d7,#84f1f5,#65c0ff,#408eff,#2466ff,#184bff,#205bff,#215dff,#184aff,#1d55ff,#52a6ff,#56abff,#6bcafe,#4b9dff,#3d8bff,#3079ff,#1645ff,#1441ff,#123cff,#0d31ff,#215eff,#1a50ff,#286dff,#4190ff,#51a5ff)"></i><i style="left:502.60px;top:393.40px;width:70.00px;height:70.00px;background:conic-gradient(from 5deg,#5ab1ff,#8af4e6,#a3faab,#c6f967,#cff760,#d5f65b,#e5f44e,#d5f65b,#d7f659,#dbf556,#c0fa6d,#96fac8,#93f9cf,#8cf5e2,#68c4fe,#4b9dff,#3b87ff,#1d55ff,#184aff,#215eff,#194cff,#1c53ff,#4999ff,#78e0fc,#5eb6ff,#5db5ff,#2d74ff,#2567ff,#1748ff,#0a2aff,#1441ff,#1d56ff,#1646ff,#1b50ff,#2465ff,#4595ff,#5ab1ff)"></i><i style="left:504.60px;top:395.40px;width:66.00px;height:66.00px;background:conic-gradient(from 5deg,#51a5ff,#85f2f2,#b8fa7b,#b4fa85,#d7f659,#d6f65a,#eaf34a,#d3f75d,#cff760,#e4f44e,#b1fa8a,#9efab6,#9afabf,#8cf5e1,#65c0ff,#499aff,#3d8aff,#2364ff,#205cff,#1d55ff,#2464ff,#1b50ff,#4493ff,#6bcafe,#78e0fc,#5eb7ff,#3079ff,#2d74ff,#205cff,#0f37ff,#0a29ff,#1e59ff,#1d55ff,#1b50ff,#2568ff,#3781ff,#51a5ff)"></i><i style="left:506.60px;top:397.40px;width:62.00px;height:62.00px;background:conic-gradient(from 5deg,#5ab1ff,#7be4fb,#a4faa8,#e2f450,#ecf248,#daf557,#d4f65c,#dff553,#e0f452,#c7f866,#aefa92,#99fac1,#94f9cc,#89f4e8,#67c2ff,#499aff,#3580ff,#1748ff,#1442ff,#1440ff,#1d56ff,#215eff,#3782ff,#5eb6ff,#50a4ff,#3985ff,#2f78ff,#2567ff,#1b50ff,#1544ff,#0d32ff,#1748ff,#133eff,#1d54ff,#205cff,#327bff,#5ab1ff)"></i><i style="left:508.60px;top:399.40px;width:58.00px;height:58.00px;background:conic-gradient(from 5deg,#2261ff,#5bb2ff,#88f3ec,#fad835,#fae83a,#b2fa89,#b4fa85,#c5f968,#d7f659,#ccf862,#bcfa72,#97fac7,#8ef6dc,#7ee9fb,#6ecefd,#418fff,#1a4fff,#0d31ff,#1440ff,#0a2bff,#0f35ff,#1a4eff,#2466ff,#2b72ff,#2e76ff,#1f5aff,#1b50ff,#1038ff,#0e34ff,#0f36ff,#0826ff,#0725ff,#1039ff,#1a4eff,#1a4fff,#215fff,#2261ff)"></i><i style="left:511.10px;top:401.90px;width:53.00px;height:53.00px;background:conic-gradient(from 5deg,#1747ff,#2e75ff,#5cb3ff,#befa6f,#bffa6d,#92f8d2,#abfa98,#b3fa86,#d3f65c,#c3f96a,#b7fa7f,#8cf5e0,#84f1f6,#6bc9fe,#6fd1fd,#408eff,#133eff,#0217ff,#0724ff,#0014ff,#0218ff,#0218ff,#113aff,#1039ff,#0a2aff,#0929ff,#0826ff,#051eff,#0010ea,#0014fd,#0218ff,#0012f2,#0013f8,#0621ff,#051fff,#0a2bff,#1747ff)"></i><i style="left:514.60px;top:405.40px;width:46.00px;height:46.00px;background:conic-gradient(from 5deg,#0929ff,#205cff,#3883ff,#83f0f8,#89f3e9,#86f2f1,#92f8d2,#acfa96,#cbf863,#b8fa7b,#a9fa9e,#92f8d2,#87f2ef,#84f1f5,#70d2fd,#2566ff,#0f35ff,#0012f6,#0010eb,#0011ee,#000fe3,#000ddb,#0012f2,#0014fc,#0011f0,#0010ec,#0013fa,#000cd5,#000fe5,#0011f1,#000fe7,#0009c4,#000fe4,#0116ff,#0011f1,#0218ff,#0929ff)"></i><i style="left:518.10px;top:408.90px;width:39.00px;height:39.00px;background:conic-gradient(from 5deg,#0a2bff,#123dff,#337cff,#69c6fe,#81effa,#7febfb,#90f7d7,#9cfab9,#a5faa7,#aafa9b,#92f8d2,#81eefa,#72d5fd,#56acff,#4b9dff,#2a71ff,#123cff,#000ddc,#000cd3,#000ddb,#000ddd,#000aca,#0010ec,#000ac9,#000ede,#000bcf,#000fe3,#0009c7,#000ddb,#0011ee,#0008c2,#000acb,#000ac9,#0014fc,#0015ff,#0012f2,#0a2bff)"></i><i style="left:521.60px;top:412.40px;width:32.00px;height:32.00px;background:conic-gradient(from 5deg,#0723ff,#0927ff,#215fff,#4c9eff,#58aeff,#4da0ff,#64beff,#7ee9fb,#90f7d8,#8ff6da,#7eeafb,#5bb2ff,#54a9ff,#3984ff,#4290ff,#215fff,#0b2eff,#0013f9,#0012f3,#0012f4,#000dda,#0010ea,#0009c4,#0010e7,#000dda,#0012f7,#0010ec,#000ddb,#0010e8,#000ee2,#000fe3,#0009c3,#000bd2,#000edd,#0014fe,#051fff,#0723ff)"></i><i style="left:525.10px;top:415.90px;width:25.00px;height:25.00px;background:conic-gradient(from 5deg,#0115ff,#0c30ff,#1a4eff,#1f5aff,#266aff,#3782ff,#4fa2ff,#57adff,#6dccfe,#61baff,#50a3ff,#327cff,#276cff,#266aff,#1a4eff,#194dff,#0011f1,#0012f5,#000ddd,#0013fa,#000cd6,#0009c7,#0010e9,#000dd9,#0011f0,#0010e8,#000ddc,#0010e8,#0010e9,#000cd6,#000bcf,#000fe7,#000fe5,#000bd1,#000ede,#0011f1,#0115ff)"></i><i style="left:528.60px;top:419.40px;width:18.00px;height:18.00px;background:conic-gradient(from 5deg,#000ede,#041cff,#0c2eff,#133fff,#1e57ff,#1f5bff,#1a4fff,#286eff,#3f8dff,#3179ff,#347eff,#1b50ff,#1442ff,#1440ff,#0f35ff,#051fff,#0011f2,#0010e8,#0012f5,#0012f2,#000aca,#0011ef,#0010e8,#000cd5,#0009c7,#0012f4,#000bce,#000cd4,#000cd7,#0011f1,#0013f8,#0012f7,#0012f5,#0013f9,#0010eb,#000dd8,#000ede)"></i><i style="left:532.10px;top:422.90px;width:11.00px;height:11.00px;background:conic-gradient(from 5deg,#000ddc,#000ee0,#0010ec,#0013f8,#0219ff,#0013fb,#041eff,#0f36ff,#0724ff,#0b2dff,#0f35ff,#0014fd,#0826ff,#041eff,#0011ef,#051fff,#0014fe,#000bd1,#0014fd,#0010e8,#0010eb,#000cd4,#000acb,#0011ee,#0011ef,#000cd3,#000acb,#000fe7,#000dd9,#000ddb,#0012f7,#000fe7,#000bd0,#0011f0,#0012f3,#0010ec,#000ddc)"></i></div><div style="position:absolute;left:66.9px;top:488.8px;width:66.6px;height:6px;background:linear-gradient(90deg,#000082,#00008c,#000096,#0006b3,#000bd0,#0011ee,#051dff,#1034ff,#1b4bff,#2761ff,#3278ff,#4491ff,#56aaff,#67c3fe,#76dcfc,#83f1f7,#89f3e9,#8ef6db,#94f9ce,#9dfab9,#a8faa0,#b3fa87,#befa6e,#cff760,#dff452,#f0f244,#fae83a,#fad534,#fac12f,#faae29,#f89826,#f58223,#f26c20,#ef551d,#ec3c1a,#e82316,#dc1111,#c30b0b,#aa0505,#930000,#820000)"></div><div style="position:absolute;left:66.9px;top:488.8px;width:66.6px;height:6px;"><i style="position:absolute;left:7.92px;top:0;width:.8px;height:1.2px;background:rgba(40,40,40,.6)"></i><i style="position:absolute;left:7.92px;bottom:0;width:.8px;height:1.2px;background:rgba(40,40,40,.6)"></i><i style="position:absolute;left:16.25px;top:0;width:.8px;height:1.2px;background:rgba(40,40,40,.6)"></i><i style="position:absolute;left:16.25px;bottom:0;width:.8px;height:1.2px;background:rgba(40,40,40,.6)"></i><i style="position:absolute;left:24.57px;top:0;width:.8px;height:1.2px;background:rgba(40,40,40,.6)"></i><i style="position:absolute;left:24.57px;bottom:0;width:.8px;height:1.2px;background:rgba(40,40,40,.6)"></i><i style="position:absolute;left:32.90px;top:0;width:.8px;height:1.2px;background:rgba(40,40,40,.6)"></i><i style="position:absolute;left:32.90px;bottom:0;width:.8px;height:1.2px;background:rgba(40,40,40,.6)"></i><i style="position:absolute;left:41.23px;top:0;width:.8px;height:1.2px;background:rgba(40,40,40,.6)"></i><i style="position:absolute;left:41.23px;bottom:0;width:.8px;height:1.2px;background:rgba(40,40,40,.6)"></i><i style="position:absolute;left:49.55px;top:0;width:.8px;height:1.2px;background:rgba(40,40,40,.6)"></i><i style="position:absolute;left:49.55px;bottom:0;width:.8px;height:1.2px;background:rgba(40,40,40,.6)"></i><i style="position:absolute;left:57.87px;top:0;width:.8px;height:1.2px;background:rgba(40,40,40,.6)"></i><i style="position:absolute;left:57.87px;bottom:0;width:.8px;height:1.2px;background:rgba(40,40,40,.6)"></i></div><div style="position:absolute;left:176.5px;top:488.8px;width:66.6px;height:6px;background:linear-gradient(90deg,#000082,#00008c,#000096,#0006b3,#000bd0,#0011ee,#051dff,#1034ff,#1b4bff,#2761ff,#3278ff,#4491ff,#56aaff,#67c3fe,#76dcfc,#83f1f7,#89f3e9,#8ef6db,#94f9ce,#9dfab9,#a8faa0,#b3fa87,#befa6e,#cff760,#dff452,#f0f244,#fae83a,#fad534,#fac12f,#faae29,#f89826,#f58223,#f26c20,#ef551d,#ec3c1a,#e82316,#dc1111,#c30b0b,#aa0505,#930000,#820000)"></div><div style="position:absolute;left:176.5px;top:488.8px;width:66.6px;height:6px;"><i style="position:absolute;left:7.92px;top:0;width:.8px;height:1.2px;background:rgba(40,40,40,.6)"></i><i style="position:absolute;left:7.92px;bottom:0;width:.8px;height:1.2px;background:rgba(40,40,40,.6)"></i><i style="position:absolute;left:16.25px;top:0;width:.8px;height:1.2px;background:rgba(40,40,40,.6)"></i><i style="position:absolute;left:16.25px;bottom:0;width:.8px;height:1.2px;background:rgba(40,40,40,.6)"></i><i style="position:absolute;left:24.57px;top:0;width:.8px;height:1.2px;background:rgba(40,40,40,.6)"></i><i style="position:absolute;left:24.57px;bottom:0;width:.8px;height:1.2px;background:rgba(40,40,40,.6)"></i><i style="position:absolute;left:32.90px;top:0;width:.8px;height:1.2px;background:rgba(40,40,40,.6)"></i><i style="position:absolute;left:32.90px;bottom:0;width:.8px;height:1.2px;background:rgba(40,40,40,.6)"></i><i style="position:absolute;left:41.23px;top:0;width:.8px;height:1.2px;background:rgba(40,40,40,.6)"></i><i style="position:absolute;left:41.23px;bottom:0;width:.8px;height:1.2px;background:rgba(40,40,40,.6)"></i><i style="position:absolute;left:49.55px;top:0;width:.8px;height:1.2px;background:rgba(40,40,40,.6)"></i><i style="position:absolute;left:49.55px;bottom:0;width:.8px;height:1.2px;background:rgba(40,40,40,.6)"></i><i style="position:absolute;left:57.87px;top:0;width:.8px;height:1.2px;background:rgba(40,40,40,.6)"></i><i style="position:absolute;left:57.87px;bottom:0;width:.8px;height:1.2px;background:rgba(40,40,40,.6)"></i></div><div style="position:absolute;left:285.7px;top:488.8px;width:66.6px;height:6px;background:linear-gradient(90deg,#000082,#00008c,#000096,#0006b3,#000bd0,#0011ee,#051dff,#1034ff,#1b4bff,#2761ff,#3278ff,#4491ff,#56aaff,#67c3fe,#76dcfc,#83f1f7,#89f3e9,#8ef6db,#94f9ce,#9dfab9,#a8faa0,#b3fa87,#befa6e,#cff760,#dff452,#f0f244,#fae83a,#fad534,#fac12f,#faae29,#f89826,#f58223,#f26c20,#ef551d,#ec3c1a,#e82316,#dc1111,#c30b0b,#aa0505,#930000,#820000)"></div><div style="position:absolute;left:285.7px;top:488.8px;width:66.6px;height:6px;"><i style="position:absolute;left:7.92px;top:0;width:.8px;height:1.2px;background:rgba(40,40,40,.6)"></i><i style="position:absolute;left:7.92px;bottom:0;width:.8px;height:1.2px;background:rgba(40,40,40,.6)"></i><i style="position:absolute;left:16.25px;top:0;width:.8px;height:1.2px;background:rgba(40,40,40,.6)"></i><i style="position:absolute;left:16.25px;bottom:0;width:.8px;height:1.2px;background:rgba(40,40,40,.6)"></i><i style="position:absolute;left:24.57px;top:0;width:.8px;height:1.2px;background:rgba(40,40,40,.6)"></i><i style="position:absolute;left:24.57px;bottom:0;width:.8px;height:1.2px;background:rgba(40,40,40,.6)"></i><i style="position:absolute;left:32.90px;top:0;width:.8px;height:1.2px;background:rgba(40,40,40,.6)"></i><i style="position:absolute;left:32.90px;bottom:0;width:.8px;height:1.2px;background:rgba(40,40,40,.6)"></i><i style="position:absolute;left:41.23px;top:0;width:.8px;height:1.2px;background:rgba(40,40,40,.6)"></i><i style="position:absolute;left:41.23px;bottom:0;width:.8px;height:1.2px;background:rgba(40,40,40,.6)"></i><i style="position:absolute;left:49.55px;top:0;width:.8px;height:1.2px;background:rgba(40,40,40,.6)"></i><i style="position:absolute;left:49.55px;bottom:0;width:.8px;height:1.2px;background:rgba(40,40,40,.6)"></i><i style="position:absolute;left:57.87px;top:0;width:.8px;height:1.2px;background:rgba(40,40,40,.6)"></i><i style="position:absolute;left:57.87px;bottom:0;width:.8px;height:1.2px;background:rgba(40,40,40,.6)"></i></div><div style="position:absolute;left:395.2px;top:488.8px;width:66.6px;height:6px;background:linear-gradient(90deg,#000082,#00008c,#000096,#0006b3,#000bd0,#0011ee,#051dff,#1034ff,#1b4bff,#2761ff,#3278ff,#4491ff,#56aaff,#67c3fe,#76dcfc,#83f1f7,#89f3e9,#8ef6db,#94f9ce,#9dfab9,#a8faa0,#b3fa87,#befa6e,#cff760,#dff452,#f0f244,#fae83a,#fad534,#fac12f,#faae29,#f89826,#f58223,#f26c20,#ef551d,#ec3c1a,#e82316,#dc1111,#c30b0b,#aa0505,#930000,#820000)"></div><div style="position:absolute;left:395.2px;top:488.8px;width:66.6px;height:6px;"><i style="position:absolute;left:7.92px;top:0;width:.8px;height:1.2px;background:rgba(40,40,40,.6)"></i><i style="position:absolute;left:7.92px;bottom:0;width:.8px;height:1.2px;background:rgba(40,40,40,.6)"></i><i style="position:absolute;left:16.25px;top:0;width:.8px;height:1.2px;background:rgba(40,40,40,.6)"></i><i style="position:absolute;left:16.25px;bottom:0;width:.8px;height:1.2px;background:rgba(40,40,40,.6)"></i><i style="position:absolute;left:24.57px;top:0;width:.8px;height:1.2px;background:rgba(40,40,40,.6)"></i><i style="position:absolute;left:24.57px;bottom:0;width:.8px;height:1.2px;background:rgba(40,40,40,.6)"></i><i style="position:absolute;left:32.90px;top:0;width:.8px;height:1.2px;background:rgba(40,40,40,.6)"></i><i style="position:absolute;left:32.90px;bottom:0;width:.8px;height:1.2px;background:rgba(40,40,40,.6)"></i><i style="position:absolute;left:41.23px;top:0;width:.8px;height:1.2px;background:rgba(40,40,40,.6)"></i><i style="position:absolute;left:41.23px;bottom:0;width:.8px;height:1.2px;background:rgba(40,40,40,.6)"></i><i style="position:absolute;left:49.55px;top:0;width:.8px;height:1.2px;background:rgba(40,40,40,.6)"></i><i style="position:absolute;left:49.55px;bottom:0;width:.8px;height:1.2px;background:rgba(40,40,40,.6)"></i><i style="position:absolute;left:57.87px;top:0;width:.8px;height:1.2px;background:rgba(40,40,40,.6)"></i><i style="position:absolute;left:57.87px;bottom:0;width:.8px;height:1.2px;background:rgba(40,40,40,.6)"></i></div><div style="position:absolute;left:504.7px;top:488.8px;width:66.6px;height:6px;background:linear-gradient(90deg,#000082,#00008c,#000096,#0006b3,#000bd0,#0011ee,#051dff,#1034ff,#1b4bff,#2761ff,#3278ff,#4491ff,#56aaff,#67c3fe,#76dcfc,#83f1f7,#89f3e9,#8ef6db,#94f9ce,#9dfab9,#a8faa0,#b3fa87,#befa6e,#cff760,#dff452,#f0f244,#fae83a,#fad534,#fac12f,#faae29,#f89826,#f58223,#f26c20,#ef551d,#ec3c1a,#e82316,#dc1111,#c30b0b,#aa0505,#930000,#820000)"></div><div style="position:absolute;left:504.7px;top:488.8px;width:66.6px;height:6px;"><i style="position:absolute;left:7.92px;top:0;width:.8px;height:1.2px;background:rgba(40,40,40,.6)"></i><i style="position:absolute;left:7.92px;bottom:0;width:.8px;height:1.2px;background:rgba(40,40,40,.6)"></i><i style="position:absolute;left:16.25px;top:0;width:.8px;height:1.2px;background:rgba(40,40,40,.6)"></i><i style="position:absolute;left:16.25px;bottom:0;width:.8px;height:1.2px;background:rgba(40,40,40,.6)"></i><i style="position:absolute;left:24.57px;top:0;width:.8px;height:1.2px;background:rgba(40,40,40,.6)"></i><i style="position:absolute;left:24.57px;bottom:0;width:.8px;height:1.2px;background:rgba(40,40,40,.6)"></i><i style="position:absolute;left:32.90px;top:0;width:.8px;height:1.2px;background:rgba(40,40,40,.6)"></i><i style="position:absolute;left:32.90px;bottom:0;width:.8px;height:1.2px;background:rgba(40,40,40,.6)"></i><i style="position:absolute;left:41.23px;top:0;width:.8px;height:1.2px;background:rgba(40,40,40,.6)"></i><i style="position:absolute;left:41.23px;bottom:0;width:.8px;height:1.2px;background:rgba(40,40,40,.6)"></i><i style="position:absolute;left:49.55px;top:0;width:.8px;height:1.2px;background:rgba(40,40,40,.6)"></i><i style="position:absolute;left:49.55px;bottom:0;width:.8px;height:1.2px;background:rgba(40,40,40,.6)"></i><i style="position:absolute;left:57.87px;top:0;width:.8px;height:1.2px;background:rgba(40,40,40,.6)"></i><i style="position:absolute;left:57.87px;bottom:0;width:.8px;height:1.2px;background:rgba(40,40,40,.6)"></i></div><svg width="595" height="913" viewBox="0 0 595 913"><g class="grid"><circle cx="99.8" cy="101.0" r="13.4"/><circle cx="99.8" cy="101.0" r="26.8"/><circle cx="99.8" cy="101.0" r="40.2"/><line x1="99.8" y1="101.0" x2="99.8" y2="47.7"/><line x1="99.8" y1="101.0" x2="126.4" y2="54.8"/><line x1="99.8" y1="101.0" x2="146.0" y2="74.3"/><line x1="99.8" y1="101.0" x2="153.1" y2="101.0"/><line x1="99.8" y1="101.0" x2="146.0" y2="127.6"/><line x1="99.8" y1="101.0" x2="126.4" y2="147.2"/><line x1="99.8" y1="101.0" x2="99.8" y2="154.3"/><line x1="99.8" y1="101.0" x2="73.1" y2="147.2"/><line x1="99.8" y1="101.0" x2="53.6" y2="127.7"/><line x1="99.8" y1="101.0" x2="46.5" y2="101.0"/><line x1="99.8" y1="101.0" x2="53.6" y2="74.3"/><line x1="99.8" y1="101.0" x2="73.1" y2="54.8"/></g><circle class="fit" cx="99.8" cy="101.0" r="32.8"/><g class="pts" fill="#e9e6a6"><circle cx="76.2" cy="77.4" r="1.0"/><circle cx="78.9" cy="75.8" r="1.0"/><circle cx="81.1" cy="73.8" r="1.0"/><circle cx="84.1" cy="72.8" r="1.0"/><circle cx="86.6" cy="71.2" r="1.0"/><circle cx="89.4" cy="70.1" r="1.0"/><circle cx="92.2" cy="69.2" r="1.0"/><circle cx="95.2" cy="68.5" r="1.0"/><circle cx="98.2" cy="68.7" r="1.0"/><circle cx="101.2" cy="68.0" r="1.0"/><circle cx="104.1" cy="69.0" r="1.0"/><circle cx="107.1" cy="69.3" r="1.0"/><circle cx="110.1" cy="69.8" r="1.0"/><circle cx="112.7" cy="71.4" r="1.0"/><circle cx="115.5" cy="72.4" r="1.0"/><circle cx="118.4" cy="73.5" r="1.0"/><circle cx="120.8" cy="75.4" r="1.0"/><circle cx="122.7" cy="77.7" r="1.0"/><circle cx="124.6" cy="80.1" r="1.0"/><circle cx="127.0" cy="82.1" r="1.0"/><circle cx="128.7" cy="84.6" r="1.0"/><circle cx="129.2" cy="87.7" r="1.0"/><circle cx="130.7" cy="90.3" r="1.0"/><circle cx="131.7" cy="93.2" r="1.0"/><circle cx="132.5" cy="96.1" r="1.0"/><circle cx="132.2" cy="99.2" r="1.0"/><circle cx="133.0" cy="102.2" r="1.0"/><circle cx="132.5" cy="105.2" r="1.0"/><circle cx="132.2" cy="108.2" r="1.0"/><circle cx="131.5" cy="111.2" r="1.0"/><circle cx="130.2" cy="114.0" r="1.0"/><circle cx="128.8" cy="116.7" r="1.0"/><circle cx="126.9" cy="119.0" r="1.0"/><circle cx="125.1" cy="121.4" r="1.0"/><circle cx="123.2" cy="123.8" r="1.0"/><circle cx="121.4" cy="126.2" r="1.0"/><circle cx="118.8" cy="127.9" r="1.0"/><circle cx="116.1" cy="129.2" r="1.0"/><circle cx="111.2" cy="132.3" r="1.0"/><circle cx="107.2" cy="133.0" r="1.0"/><circle cx="103.3" cy="134.2" r="1.0"/><circle cx="99.2" cy="134.0" r="1.0"/><circle cx="95.2" cy="133.8" r="1.0"/><circle cx="91.4" cy="132.5" r="1.0"/><circle cx="80.6" cy="128.4" r="1.0"/></g><circle class="ctr" cx="99.8" cy="101.0" r="1.4"/><circle class="edge" cx="99.8" cy="101.0" r="53.3"/><g class="grid"><circle cx="209.4" cy="101.0" r="13.4"/><circle cx="209.4" cy="101.0" r="26.8"/><circle cx="209.4" cy="101.0" r="40.2"/><line x1="209.4" y1="101.0" x2="209.4" y2="47.7"/><line x1="209.4" y1="101.0" x2="236.1" y2="54.8"/><line x1="209.4" y1="101.0" x2="255.6" y2="74.3"/><line x1="209.4" y1="101.0" x2="262.7" y2="101.0"/><line x1="209.4" y1="101.0" x2="255.6" y2="127.6"/><line x1="209.4" y1="101.0" x2="236.1" y2="147.2"/><line x1="209.4" y1="101.0" x2="209.4" y2="154.3"/><line x1="209.4" y1="101.0" x2="182.8" y2="147.2"/><line x1="209.4" y1="101.0" x2="163.2" y2="127.7"/><line x1="209.4" y1="101.0" x2="156.1" y2="101.0"/><line x1="209.4" y1="101.0" x2="163.2" y2="74.3"/><line x1="209.4" y1="101.0" x2="182.7" y2="54.8"/></g><circle class="fit" cx="209.4" cy="101.0" r="32.0"/><g class="pts" fill="#e9e6a6"><circle cx="188.8" cy="76.5" r="1.0"/><circle cx="191.0" cy="74.6" r="1.0"/><circle cx="193.6" cy="73.3" r="1.0"/><circle cx="196.1" cy="71.9" r="1.0"/><circle cx="199.0" cy="71.2" r="1.0"/><circle cx="201.6" cy="70.1" r="1.0"/><circle cx="204.4" cy="69.5" r="1.0"/><circle cx="207.3" cy="68.8" r="1.0"/><circle cx="210.2" cy="69.4" r="1.0"/><circle cx="213.0" cy="69.6" r="1.0"/><circle cx="216.0" cy="69.5" r="1.0"/><circle cx="218.7" cy="70.4" r="1.0"/><circle cx="221.6" cy="70.9" r="1.0"/><circle cx="223.8" cy="73.1" r="1.0"/><circle cx="226.5" cy="74.1" r="1.0"/><circle cx="229.2" cy="75.3" r="1.0"/><circle cx="231.4" cy="77.3" r="1.0"/><circle cx="233.0" cy="79.7" r="1.0"/><circle cx="235.0" cy="81.8" r="1.0"/><circle cx="236.5" cy="84.3" r="1.0"/><circle cx="237.5" cy="87.0" r="1.0"/><circle cx="238.7" cy="89.6" r="1.0"/><circle cx="239.8" cy="92.2" r="1.0"/><circle cx="241.3" cy="94.8" r="1.0"/><circle cx="240.9" cy="97.8" r="1.0"/><circle cx="241.1" cy="100.7" r="1.0"/><circle cx="241.4" cy="103.6" r="1.0"/><circle cx="241.2" cy="106.5" r="1.0"/><circle cx="240.5" cy="109.3" r="1.0"/><circle cx="239.2" cy="111.9" r="1.0"/><circle cx="238.2" cy="114.6" r="1.0"/><circle cx="236.5" cy="116.9" r="1.0"/><circle cx="235.7" cy="119.8" r="1.0"/><circle cx="233.5" cy="121.8" r="1.0"/><circle cx="231.5" cy="123.8" r="1.0"/><circle cx="229.3" cy="125.6" r="1.0"/><circle cx="227.1" cy="127.6" r="1.0"/><circle cx="224.5" cy="128.8" r="1.0"/><circle cx="222.0" cy="130.2" r="1.0"/><circle cx="219.2" cy="131.0" r="1.0"/><circle cx="216.5" cy="131.8" r="1.0"/><circle cx="213.8" cy="132.7" r="1.0"/><circle cx="210.9" cy="132.8" r="1.0"/><circle cx="208.0" cy="132.5" r="1.0"/><circle cx="205.0" cy="133.2" r="1.0"/><circle cx="202.4" cy="131.7" r="1.0"/><circle cx="199.5" cy="131.3" r="1.0"/><circle cx="196.9" cy="130.2" r="1.0"/><circle cx="194.4" cy="128.7" r="1.0"/><circle cx="191.8" cy="127.5" r="1.0"/><circle cx="189.4" cy="125.9" r="1.0"/><circle cx="187.0" cy="124.2" r="1.0"/><circle cx="185.4" cy="121.8" r="1.0"/><circle cx="183.5" cy="119.6" r="1.0"/><circle cx="181.4" cy="117.5" r="1.0"/><circle cx="180.3" cy="114.8" r="1.0"/><circle cx="179.4" cy="112.0" r="1.0"/><circle cx="178.8" cy="109.2" r="1.0"/></g><circle class="ctr" cx="209.4" cy="101.0" r="1.4"/><circle class="edge" cx="209.4" cy="101.0" r="53.3"/><g class="grid"><circle cx="318.6" cy="101.0" r="13.4"/><circle cx="318.6" cy="101.0" r="26.8"/><circle cx="318.6" cy="101.0" r="40.2"/><line x1="318.6" y1="101.0" x2="318.6" y2="47.7"/><line x1="318.6" y1="101.0" x2="345.2" y2="54.8"/><line x1="318.6" y1="101.0" x2="364.8" y2="74.3"/><line x1="318.6" y1="101.0" x2="371.9" y2="101.0"/><line x1="318.6" y1="101.0" x2="364.8" y2="127.6"/><line x1="318.6" y1="101.0" x2="345.2" y2="147.2"/><line x1="318.6" y1="101.0" x2="318.6" y2="154.3"/><line x1="318.6" y1="101.0" x2="292.0" y2="147.2"/><line x1="318.6" y1="101.0" x2="272.4" y2="127.7"/><line x1="318.6" y1="101.0" x2="265.3" y2="101.0"/><line x1="318.6" y1="101.0" x2="272.4" y2="74.3"/><line x1="318.6" y1="101.0" x2="291.9" y2="54.8"/></g><circle class="fit" cx="318.6" cy="101.0" r="32.3"/><g class="pts" fill="#e9e6a6"><circle cx="304.8" cy="71.4" r="1.0"/><circle cx="307.5" cy="70.1" r="1.0"/><circle cx="310.5" cy="70.0" r="1.0"/><circle cx="313.2" cy="68.7" r="1.0"/><circle cx="316.2" cy="68.9" r="1.0"/><circle cx="319.1" cy="68.7" r="1.0"/><circle cx="322.0" cy="69.5" r="1.0"/><circle cx="324.9" cy="69.6" r="1.0"/><circle cx="327.7" cy="70.3" r="1.0"/><circle cx="330.4" cy="71.3" r="1.0"/><circle cx="333.4" cy="71.8" r="1.0"/><circle cx="336.0" cy="73.2" r="1.0"/><circle cx="338.0" cy="75.5" r="1.0"/><circle cx="340.6" cy="76.9" r="1.0"/><circle cx="342.3" cy="79.4" r="1.0"/><circle cx="344.4" cy="81.4" r="1.0"/><circle cx="345.7" cy="84.1" r="1.0"/><circle cx="347.9" cy="86.2" r="1.0"/><circle cx="348.6" cy="89.1" r="1.0"/><circle cx="349.7" cy="91.8" r="1.0"/><circle cx="350.6" cy="94.6" r="1.0"/><circle cx="350.7" cy="97.6" r="1.0"/><circle cx="350.9" cy="100.5" r="1.0"/><circle cx="351.1" cy="103.5" r="1.0"/><circle cx="350.4" cy="106.3" r="1.0"/><circle cx="349.9" cy="109.2" r="1.0"/><circle cx="348.7" cy="111.9" r="1.0"/><circle cx="347.5" cy="114.5" r="1.0"/><circle cx="346.2" cy="117.1" r="1.0"/><circle cx="345.4" cy="120.1" r="1.0"/><circle cx="343.2" cy="122.1" r="1.0"/><circle cx="340.7" cy="123.8" r="1.0"/><circle cx="338.7" cy="125.8" r="1.0"/><circle cx="336.6" cy="127.9" r="1.0"/><circle cx="334.1" cy="129.4" r="1.0"/><circle cx="331.7" cy="131.2" r="1.0"/><circle cx="328.8" cy="132.1" r="1.0"/><circle cx="325.8" cy="132.0" r="1.0"/><circle cx="323.1" cy="133.4" r="1.0"/><circle cx="320.1" cy="133.8" r="1.0"/><circle cx="317.2" cy="133.6" r="1.0"/><circle cx="314.2" cy="133.5" r="1.0"/><circle cx="311.4" cy="132.3" r="1.0"/><circle cx="308.5" cy="131.8" r="1.0"/><circle cx="305.7" cy="130.9" r="1.0"/><circle cx="303.0" cy="129.7" r="1.0"/><circle cx="300.5" cy="128.1" r="1.0"/><circle cx="298.1" cy="126.4" r="1.0"/><circle cx="296.3" cy="124.1" r="1.0"/><circle cx="293.9" cy="122.3" r="1.0"/><circle cx="292.2" cy="119.9" r="1.0"/><circle cx="290.3" cy="117.6" r="1.0"/><circle cx="289.6" cy="114.7" r="1.0"/><circle cx="288.1" cy="112.1" r="1.0"/></g><circle class="ctr" cx="318.6" cy="101.0" r="1.4"/><circle class="edge" cx="318.6" cy="101.0" r="53.3"/><g class="grid"><circle cx="428.1" cy="101.0" r="13.4"/><circle cx="428.1" cy="101.0" r="26.8"/><circle cx="428.1" cy="101.0" r="40.2"/><line x1="428.1" y1="101.0" x2="428.1" y2="47.7"/><line x1="428.1" y1="101.0" x2="454.8" y2="54.8"/><line x1="428.1" y1="101.0" x2="474.3" y2="74.3"/><line x1="428.1" y1="101.0" x2="481.4" y2="101.0"/><line x1="428.1" y1="101.0" x2="474.3" y2="127.6"/><line x1="428.1" y1="101.0" x2="454.8" y2="147.2"/><line x1="428.1" y1="101.0" x2="428.1" y2="154.3"/><line x1="428.1" y1="101.0" x2="401.5" y2="147.2"/><line x1="428.1" y1="101.0" x2="381.9" y2="127.7"/><line x1="428.1" y1="101.0" x2="374.8" y2="101.0"/><line x1="428.1" y1="101.0" x2="381.9" y2="74.3"/><line x1="428.1" y1="101.0" x2="401.4" y2="54.8"/></g><circle class="fit" cx="428.1" cy="101.0" r="33.3"/><g class="pts" fill="#f0c040"><circle cx="425.2" cy="67.4" r="1.0"/><circle cx="429.2" cy="67.4" r="1.0"/><circle cx="433.3" cy="67.9" r="1.0"/><circle cx="437.0" cy="69.4" r="1.0"/><circle cx="440.8" cy="70.7" r="1.0"/><circle cx="444.4" cy="72.2" r="1.0"/><circle cx="448.0" cy="74.1" r="1.0"/><circle cx="450.6" cy="77.2" r="1.0"/><circle cx="453.9" cy="79.6" r="1.0"/><circle cx="455.7" cy="83.3" r="1.0"/><circle cx="457.8" cy="86.7" r="1.0"/><circle cx="459.4" cy="90.3" r="1.0"/><circle cx="460.7" cy="94.1" r="1.0"/><circle cx="461.5" cy="98.1" r="1.0"/><circle cx="452.0" cy="124.9" r="1.0"/><circle cx="449.2" cy="126.3" r="1.0"/><circle cx="446.7" cy="128.0" r="1.0"/><circle cx="444.6" cy="130.4" r="1.0"/><circle cx="441.7" cy="131.5" r="1.0"/><circle cx="439.0" cy="133.0" r="1.0"/><circle cx="436.0" cy="133.6" r="1.0"/><circle cx="432.9" cy="133.5" r="1.0"/><circle cx="429.9" cy="134.1" r="1.0"/><circle cx="426.9" cy="133.9" r="1.0"/><circle cx="423.8" cy="134.0" r="1.0"/><circle cx="420.9" cy="133.2" r="1.0"/><circle cx="417.8" cy="133.1" r="1.0"/><circle cx="414.9" cy="132.1" r="1.0"/><circle cx="412.5" cy="130.0" r="1.0"/><circle cx="409.4" cy="129.2" r="1.0"/><circle cx="406.9" cy="127.4" r="1.0"/><circle cx="405.0" cy="124.8" r="1.0"/><circle cx="402.5" cy="123.0" r="1.0"/><circle cx="400.5" cy="120.6" r="1.0"/><circle cx="399.1" cy="117.9" r="1.0"/><circle cx="398.1" cy="115.0" r="1.0"/></g><circle class="ctr" cx="428.1" cy="101.0" r="1.4"/><circle class="edge" cx="428.1" cy="101.0" r="53.3"/><g class="grid"><circle cx="537.6" cy="101.0" r="13.4"/><circle cx="537.6" cy="101.0" r="26.8"/><circle cx="537.6" cy="101.0" r="40.2"/><line x1="537.6" y1="101.0" x2="537.6" y2="47.7"/><line x1="537.6" y1="101.0" x2="564.2" y2="54.8"/><line x1="537.6" y1="101.0" x2="583.8" y2="74.3"/><line x1="537.6" y1="101.0" x2="590.9" y2="101.0"/><line x1="537.6" y1="101.0" x2="583.8" y2="127.6"/><line x1="537.6" y1="101.0" x2="564.2" y2="147.2"/><line x1="537.6" y1="101.0" x2="537.6" y2="154.3"/><line x1="537.6" y1="101.0" x2="511.0" y2="147.2"/><line x1="537.6" y1="101.0" x2="491.4" y2="127.7"/><line x1="537.6" y1="101.0" x2="484.3" y2="101.0"/><line x1="537.6" y1="101.0" x2="491.4" y2="74.3"/><line x1="537.6" y1="101.0" x2="510.9" y2="54.8"/></g><circle class="fit" cx="537.6" cy="101.0" r="34.5"/><g class="pts" fill="#f0c040"><circle cx="537.6" cy="66.3" r="1.0"/><circle cx="552.3" cy="69.4" r="1.0"/><circle cx="556.3" cy="72.2" r="1.0"/><circle cx="560.2" cy="75.0" r="1.0"/><circle cx="563.3" cy="78.7" r="1.0"/><circle cx="566.2" cy="82.4" r="1.0"/><circle cx="569.2" cy="86.3" r="1.0"/><circle cx="571.3" cy="95.0" r="1.0"/><circle cx="549.5" cy="133.6" r="1.0"/><circle cx="546.3" cy="134.3" r="1.0"/><circle cx="543.2" cy="135.3" r="1.0"/><circle cx="540.0" cy="135.2" r="1.0"/><circle cx="536.8" cy="135.0" r="1.0"/><circle cx="533.6" cy="135.5" r="1.0"/><circle cx="530.5" cy="134.5" r="1.0"/><circle cx="527.4" cy="133.6" r="1.0"/><circle cx="524.3" cy="132.8" r="1.0"/><circle cx="521.4" cy="131.5" r="1.0"/><circle cx="518.4" cy="130.2" r="1.0"/><circle cx="515.9" cy="128.1" r="1.0"/><circle cx="513.7" cy="125.8" r="1.0"/><circle cx="511.5" cy="123.4" r="1.0"/><circle cx="509.4" cy="121.0" r="1.0"/><circle cx="508.1" cy="118.0" r="1.0"/></g><circle class="ctr" cx="537.6" cy="101.0" r="1.4"/><circle class="edge" cx="537.6" cy="101.0" r="53.3"/><g class="grid"><circle cx="99.8" cy="210.1" r="13.4"/><circle cx="99.8" cy="210.1" r="26.8"/><circle cx="99.8" cy="210.1" r="40.2"/><line x1="99.8" y1="210.1" x2="99.8" y2="156.8"/><line x1="99.8" y1="210.1" x2="126.4" y2="163.9"/><line x1="99.8" y1="210.1" x2="146.0" y2="183.4"/><line x1="99.8" y1="210.1" x2="153.1" y2="210.1"/><line x1="99.8" y1="210.1" x2="146.0" y2="236.7"/><line x1="99.8" y1="210.1" x2="126.4" y2="256.3"/><line x1="99.8" y1="210.1" x2="99.8" y2="263.4"/><line x1="99.8" y1="210.1" x2="73.1" y2="256.3"/><line x1="99.8" y1="210.1" x2="53.6" y2="236.8"/><line x1="99.8" y1="210.1" x2="46.5" y2="210.1"/><line x1="99.8" y1="210.1" x2="53.6" y2="183.4"/><line x1="99.8" y1="210.1" x2="73.1" y2="163.9"/></g><circle class="fit" cx="99.8" cy="210.1" r="34.7"/><g class="pts" fill="#f0c040"><circle cx="82.6" cy="180.3" r="1.0"/><circle cx="86.8" cy="177.8" r="1.0"/><circle cx="91.3" cy="175.9" r="1.0"/><circle cx="96.2" cy="175.5" r="1.0"/><circle cx="101.0" cy="175.8" r="1.0"/><circle cx="105.9" cy="175.4" r="1.0"/><circle cx="134.3" cy="204.0" r="1.0"/><circle cx="134.1" cy="207.9" r="1.0"/><circle cx="134.3" cy="211.7" r="1.0"/><circle cx="133.5" cy="215.5" r="1.0"/><circle cx="133.5" cy="219.4" r="1.0"/><circle cx="131.7" cy="222.9" r="1.0"/><circle cx="130.7" cy="226.7" r="1.0"/><circle cx="128.6" cy="229.9" r="1.0"/><circle cx="126.3" cy="233.0" r="1.0"/><circle cx="123.4" cy="235.6" r="1.0"/><circle cx="120.2" cy="237.8" r="1.0"/><circle cx="116.9" cy="239.7" r="1.0"/></g><circle class="ctr" cx="99.8" cy="210.1" r="1.4"/><circle class="edge" cx="99.8" cy="210.1" r="53.3"/><g class="grid"><circle cx="209.4" cy="210.1" r="13.4"/><circle cx="209.4" cy="210.1" r="26.8"/><circle cx="209.4" cy="210.1" r="40.2"/><line x1="209.4" y1="210.1" x2="209.4" y2="156.8"/><line x1="209.4" y1="210.1" x2="236.1" y2="163.9"/><line x1="209.4" y1="210.1" x2="255.6" y2="183.4"/><line x1="209.4" y1="210.1" x2="262.7" y2="210.1"/><line x1="209.4" y1="210.1" x2="255.6" y2="236.7"/><line x1="209.4" y1="210.1" x2="236.1" y2="256.3"/><line x1="209.4" y1="210.1" x2="209.4" y2="263.4"/><line x1="209.4" y1="210.1" x2="182.8" y2="256.3"/><line x1="209.4" y1="210.1" x2="163.2" y2="236.8"/><line x1="209.4" y1="210.1" x2="156.1" y2="210.1"/><line x1="209.4" y1="210.1" x2="163.2" y2="183.4"/><line x1="209.4" y1="210.1" x2="182.7" y2="163.9"/></g><circle class="fit" cx="209.4" cy="210.1" r="33.7"/><g class="pts" fill="#f0c040"><circle cx="185.5" cy="186.2" r="1.0"/><circle cx="188.2" cy="184.7" r="1.0"/><circle cx="190.1" cy="182.4" r="1.0"/><circle cx="192.5" cy="180.6" r="1.0"/><circle cx="195.5" cy="179.9" r="1.0"/><circle cx="198.1" cy="178.4" r="1.0"/><circle cx="201.0" cy="177.4" r="1.0"/><circle cx="204.0" cy="177.3" r="1.0"/><circle cx="206.9" cy="176.9" r="1.0"/><circle cx="209.9" cy="176.3" r="1.0"/><circle cx="212.8" cy="177.0" r="1.0"/><circle cx="215.7" cy="177.4" r="1.0"/><circle cx="218.6" cy="178.0" r="1.0"/><circle cx="221.7" cy="178.2" r="1.0"/><circle cx="224.5" cy="179.4" r="1.0"/><circle cx="226.7" cy="181.7" r="1.0"/><circle cx="229.4" cy="182.9" r="1.0"/><circle cx="231.6" cy="184.9" r="1.0"/><circle cx="233.4" cy="187.3" r="1.0"/><circle cx="235.6" cy="189.4" r="1.0"/><circle cx="237.7" cy="191.5" r="1.0"/><circle cx="238.6" cy="194.4" r="1.0"/><circle cx="240.9" cy="196.6" r="1.0"/><circle cx="241.2" cy="199.7" r="1.0"/><circle cx="242.1" cy="202.6" r="1.0"/><circle cx="243.3" cy="205.4" r="1.0"/><circle cx="242.6" cy="208.5" r="1.0"/><circle cx="242.6" cy="211.4" r="1.0"/><circle cx="242.8" cy="214.4" r="1.0"/><circle cx="242.1" cy="217.3" r="1.0"/><circle cx="241.3" cy="220.2" r="1.0"/><circle cx="240.6" cy="223.1" r="1.0"/><circle cx="239.7" cy="226.0" r="1.0"/><circle cx="237.6" cy="228.3" r="1.0"/><circle cx="235.6" cy="230.5" r="1.0"/><circle cx="233.9" cy="233.0" r="1.0"/><circle cx="232.2" cy="235.5" r="1.0"/><circle cx="229.6" cy="237.0" r="1.0"/><circle cx="226.9" cy="238.3" r="1.0"/><circle cx="224.4" cy="239.9" r="1.0"/><circle cx="221.7" cy="241.1" r="1.0"/><circle cx="218.9" cy="242.2" r="1.0"/><circle cx="216.0" cy="242.9" r="1.0"/><circle cx="213.2" cy="243.8" r="1.0"/><circle cx="210.2" cy="244.1" r="1.0"/><circle cx="207.2" cy="243.2" r="1.0"/><circle cx="204.3" cy="243.0" r="1.0"/><circle cx="201.2" cy="243.2" r="1.0"/><circle cx="198.2" cy="242.4" r="1.0"/><circle cx="195.5" cy="241.2" r="1.0"/><circle cx="193.1" cy="239.2" r="1.0"/><circle cx="190.3" cy="238.1" r="1.0"/><circle cx="188.3" cy="235.7" r="1.0"/><circle cx="185.6" cy="234.3" r="1.0"/><circle cx="184.0" cy="231.7" r="1.0"/><circle cx="181.6" cy="229.8" r="1.0"/><circle cx="179.9" cy="227.3" r="1.0"/><circle cx="178.9" cy="224.4" r="1.0"/><circle cx="177.5" cy="221.8" r="1.0"/><circle cx="176.3" cy="219.0" r="1.0"/></g><circle class="ctr" cx="209.4" cy="210.1" r="1.4"/><circle class="edge" cx="209.4" cy="210.1" r="53.3"/><g class="grid"><circle cx="318.6" cy="210.1" r="13.4"/><circle cx="318.6" cy="210.1" r="26.8"/><circle cx="318.6" cy="210.1" r="40.2"/><line x1="318.6" y1="210.1" x2="318.6" y2="156.8"/><line x1="318.6" y1="210.1" x2="345.2" y2="163.9"/><line x1="318.6" y1="210.1" x2="364.8" y2="183.4"/><line x1="318.6" y1="210.1" x2="371.9" y2="210.1"/><line x1="318.6" y1="210.1" x2="364.8" y2="236.7"/><line x1="318.6" y1="210.1" x2="345.2" y2="256.3"/><line x1="318.6" y1="210.1" x2="318.6" y2="263.4"/><line x1="318.6" y1="210.1" x2="292.0" y2="256.3"/><line x1="318.6" y1="210.1" x2="272.4" y2="236.8"/><line x1="318.6" y1="210.1" x2="265.3" y2="210.1"/><line x1="318.6" y1="210.1" x2="272.4" y2="183.4"/><line x1="318.6" y1="210.1" x2="291.9" y2="163.9"/></g><circle class="fit" cx="318.6" cy="210.1" r="33.0"/><g class="pts" fill="#f0c040"><circle cx="315.7" cy="176.8" r="1.0"/><circle cx="318.8" cy="176.9" r="1.0"/><circle cx="321.9" cy="177.1" r="1.0"/><circle cx="324.9" cy="177.9" r="1.0"/><circle cx="328.0" cy="178.2" r="1.0"/><circle cx="330.7" cy="179.8" r="1.0"/><circle cx="333.6" cy="180.8" r="1.0"/><circle cx="336.0" cy="182.7" r="1.0"/><circle cx="338.5" cy="184.4" r="1.0"/><circle cx="341.3" cy="185.9" r="1.0"/><circle cx="343.2" cy="188.3" r="1.0"/><circle cx="344.9" cy="190.8" r="1.0"/><circle cx="347.4" cy="192.9" r="1.0"/><circle cx="348.2" cy="196.0" r="1.0"/><circle cx="349.6" cy="198.7" r="1.0"/><circle cx="350.5" cy="201.7" r="1.0"/><circle cx="350.8" cy="204.7" r="1.0"/><circle cx="352.1" cy="207.7" r="1.0"/><circle cx="351.9" cy="210.8" r="1.0"/><circle cx="351.9" cy="213.9" r="1.0"/><circle cx="350.7" cy="216.9" r="1.0"/><circle cx="350.6" cy="220.0" r="1.0"/><circle cx="349.5" cy="223.0" r="1.0"/><circle cx="348.2" cy="225.8" r="1.0"/><circle cx="345.9" cy="228.0" r="1.0"/><circle cx="344.1" cy="230.4" r="1.0"/><circle cx="342.0" cy="232.7" r="1.0"/><circle cx="339.8" cy="234.7" r="1.0"/><circle cx="337.8" cy="237.2" r="1.0"/><circle cx="334.8" cy="238.2" r="1.0"/><circle cx="329.9" cy="241.1" r="1.0"/><circle cx="326.7" cy="241.9" r="1.0"/><circle cx="323.6" cy="243.0" r="1.0"/><circle cx="320.3" cy="242.5" r="1.0"/><circle cx="317.1" cy="243.3" r="1.0"/><circle cx="313.7" cy="243.3" r="1.0"/><circle cx="310.7" cy="241.9" r="1.0"/><circle cx="307.5" cy="241.1" r="1.0"/><circle cx="304.4" cy="240.2" r="1.0"/><circle cx="301.7" cy="238.2" r="1.0"/><circle cx="298.6" cy="236.9" r="1.0"/><circle cx="296.0" cy="234.9" r="1.0"/><circle cx="294.3" cy="232.0" r="1.0"/><circle cx="292.0" cy="229.6" r="1.0"/><circle cx="290.6" cy="226.7" r="1.0"/><circle cx="288.6" cy="224.1" r="1.0"/><circle cx="293.4" cy="189.0" r="1.0"/><circle cx="297.0" cy="184.4" r="1.0"/></g><circle class="ctr" cx="318.6" cy="210.1" r="1.4"/><circle class="edge" cx="318.6" cy="210.1" r="53.3"/><g class="grid"><circle cx="428.1" cy="210.1" r="13.4"/><circle cx="428.1" cy="210.1" r="26.8"/><circle cx="428.1" cy="210.1" r="40.2"/><line x1="428.1" y1="210.1" x2="428.1" y2="156.8"/><line x1="428.1" y1="210.1" x2="454.8" y2="163.9"/><line x1="428.1" y1="210.1" x2="474.3" y2="183.4"/><line x1="428.1" y1="210.1" x2="481.4" y2="210.1"/><line x1="428.1" y1="210.1" x2="474.3" y2="236.7"/><line x1="428.1" y1="210.1" x2="454.8" y2="256.3"/><line x1="428.1" y1="210.1" x2="428.1" y2="263.4"/><line x1="428.1" y1="210.1" x2="401.5" y2="256.3"/><line x1="428.1" y1="210.1" x2="381.9" y2="236.8"/><line x1="428.1" y1="210.1" x2="374.8" y2="210.1"/><line x1="428.1" y1="210.1" x2="381.9" y2="183.4"/><line x1="428.1" y1="210.1" x2="401.4" y2="163.9"/></g><circle class="fit" cx="428.1" cy="210.1" r="34.5"/><g class="pts" fill="#f0c040"><circle cx="425.1" cy="175.5" r="1.0"/><circle cx="429.2" cy="175.0" r="1.0"/><circle cx="433.3" cy="175.6" r="1.0"/><circle cx="437.4" cy="176.5" r="1.0"/><circle cx="441.1" cy="178.3" r="1.0"/><circle cx="445.0" cy="179.8" r="1.0"/><circle cx="448.1" cy="182.5" r="1.0"/><circle cx="451.4" cy="184.9" r="1.0"/><circle cx="454.7" cy="187.4" r="1.0"/><circle cx="457.3" cy="190.7" r="1.0"/><circle cx="458.5" cy="194.7" r="1.0"/><circle cx="460.5" cy="198.3" r="1.0"/><circle cx="454.4" cy="232.2" r="1.0"/><circle cx="452.3" cy="234.9" r="1.0"/><circle cx="449.7" cy="237.2" r="1.0"/><circle cx="446.7" cy="238.8" r="1.0"/><circle cx="444.0" cy="241.2" r="1.0"/><circle cx="440.7" cy="242.2" r="1.0"/><circle cx="437.5" cy="243.6" r="1.0"/><circle cx="434.1" cy="244.3" r="1.0"/><circle cx="430.7" cy="245.1" r="1.0"/><circle cx="427.2" cy="244.6" r="1.0"/><circle cx="423.8" cy="244.4" r="1.0"/><circle cx="420.4" cy="244.1" r="1.0"/><circle cx="417.2" cy="242.5" r="1.0"/><circle cx="414.1" cy="241.0" r="1.0"/><circle cx="410.7" cy="240.3" r="1.0"/><circle cx="407.8" cy="238.3" r="1.0"/><circle cx="405.1" cy="236.2" r="1.0"/><circle cx="402.5" cy="233.8" r="1.0"/><circle cx="400.9" cy="230.7" r="1.0"/><circle cx="398.3" cy="228.3" r="1.0"/><circle cx="396.9" cy="225.1" r="1.0"/><circle cx="395.2" cy="222.1" r="1.0"/></g><circle class="ctr" cx="428.1" cy="210.1" r="1.4"/><circle class="edge" cx="428.1" cy="210.1" r="53.3"/><g class="grid"><circle cx="537.6" cy="210.1" r="13.4"/><circle cx="537.6" cy="210.1" r="26.8"/><circle cx="537.6" cy="210.1" r="40.2"/><line x1="537.6" y1="210.1" x2="537.6" y2="156.8"/><line x1="537.6" y1="210.1" x2="564.2" y2="163.9"/><line x1="537.6" y1="210.1" x2="583.8" y2="183.4"/><line x1="537.6" y1="210.1" x2="590.9" y2="210.1"/><line x1="537.6" y1="210.1" x2="583.8" y2="236.7"/><line x1="537.6" y1="210.1" x2="564.2" y2="256.3"/><line x1="537.6" y1="210.1" x2="537.6" y2="263.4"/><line x1="537.6" y1="210.1" x2="511.0" y2="256.3"/><line x1="537.6" y1="210.1" x2="491.4" y2="236.8"/><line x1="537.6" y1="210.1" x2="484.3" y2="210.1"/><line x1="537.6" y1="210.1" x2="491.4" y2="183.4"/><line x1="537.6" y1="210.1" x2="510.9" y2="163.9"/></g><circle class="fit" cx="537.6" cy="210.1" r="35.3"/><g class="pts" fill="#f0c040"><circle cx="540.7" cy="174.9" r="1.0"/><circle cx="545.6" cy="175.3" r="1.0"/><circle cx="549.9" cy="177.6" r="1.0"/><circle cx="554.3" cy="179.5" r="1.0"/><circle cx="558.6" cy="181.6" r="1.0"/><circle cx="562.4" cy="184.7" r="1.0"/><circle cx="565.4" cy="188.5" r="1.0"/><circle cx="567.7" cy="192.7" r="1.0"/><circle cx="572.8" cy="203.9" r="1.0"/><circle cx="560.0" cy="236.7" r="1.0"/><circle cx="557.4" cy="239.9" r="1.0"/><circle cx="553.5" cy="241.3" r="1.0"/><circle cx="550.1" cy="243.4" r="1.0"/><circle cx="546.2" cy="244.4" r="1.0"/><circle cx="542.3" cy="244.8" r="1.0"/><circle cx="538.3" cy="245.2" r="1.0"/><circle cx="534.4" cy="244.9" r="1.0"/><circle cx="530.4" cy="244.7" r="1.0"/><circle cx="526.6" cy="243.4" r="1.0"/><circle cx="522.8" cy="242.2" r="1.0"/><circle cx="519.5" cy="240.1" r="1.0"/><circle cx="516.3" cy="237.7" r="1.0"/><circle cx="512.9" cy="235.6" r="1.0"/><circle cx="510.5" cy="232.3" r="1.0"/><circle cx="507.5" cy="229.6" r="1.0"/><circle cx="506.1" cy="225.8" r="1.0"/><circle cx="504.7" cy="222.1" r="1.0"/></g><circle class="ctr" cx="537.6" cy="210.1" r="1.4"/><circle class="edge" cx="537.6" cy="210.1" r="53.3"/><g class="grid"><circle cx="99.8" cy="319.1" r="13.4"/><circle cx="99.8" cy="319.1" r="26.8"/><circle cx="99.8" cy="319.1" r="40.2"/><line x1="99.8" y1="319.1" x2="99.8" y2="265.8"/><line x1="99.8" y1="319.1" x2="126.4" y2="272.9"/><line x1="99.8" y1="319.1" x2="146.0" y2="292.5"/><line x1="99.8" y1="319.1" x2="153.1" y2="319.1"/><line x1="99.8" y1="319.1" x2="146.0" y2="345.8"/><line x1="99.8" y1="319.1" x2="126.4" y2="365.3"/><line x1="99.8" y1="319.1" x2="99.8" y2="372.4"/><line x1="99.8" y1="319.1" x2="73.1" y2="365.3"/><line x1="99.8" y1="319.1" x2="53.6" y2="345.8"/><line x1="99.8" y1="319.1" x2="46.5" y2="319.1"/><line x1="99.8" y1="319.1" x2="53.6" y2="292.5"/><line x1="99.8" y1="319.1" x2="73.1" y2="272.9"/></g><circle class="fit" cx="99.8" cy="319.1" r="33.3"/><g class="pts" fill="#f0c040"><circle cx="83.0" cy="290.0" r="1.0"/><circle cx="86.7" cy="288.0" r="1.0"/><circle cx="90.8" cy="287.2" r="1.0"/><circle cx="94.8" cy="285.9" r="1.0"/><circle cx="99.0" cy="286.0" r="1.0"/><circle cx="103.2" cy="285.4" r="1.0"/><circle cx="107.2" cy="286.9" r="1.0"/><circle cx="111.0" cy="288.3" r="1.0"/><circle cx="128.1" cy="302.7" r="1.0"/><circle cx="130.3" cy="305.5" r="1.0"/><circle cx="131.6" cy="308.8" r="1.0"/><circle cx="132.1" cy="312.2" r="1.0"/><circle cx="132.8" cy="315.6" r="1.0"/><circle cx="133.0" cy="319.1" r="1.0"/><circle cx="132.8" cy="322.6" r="1.0"/><circle cx="132.0" cy="325.9" r="1.0"/><circle cx="131.5" cy="329.4" r="1.0"/><circle cx="130.4" cy="332.7" r="1.0"/><circle cx="128.1" cy="335.5" r="1.0"/><circle cx="127.1" cy="338.9" r="1.0"/><circle cx="124.3" cy="341.2" r="1.0"/><circle cx="122.1" cy="343.8" r="1.0"/><circle cx="119.2" cy="345.8" r="1.0"/><circle cx="116.6" cy="348.1" r="1.0"/><circle cx="99.8" cy="352.3" r="1.0"/><circle cx="94.0" cy="352.0" r="1.0"/><circle cx="88.4" cy="350.3" r="1.0"/></g><circle class="ctr" cx="99.8" cy="319.1" r="1.4"/><circle class="edge" cx="99.8" cy="319.1" r="53.3"/><g class="grid"><circle cx="209.4" cy="319.1" r="13.4"/><circle cx="209.4" cy="319.1" r="26.8"/><circle cx="209.4" cy="319.1" r="40.2"/><line x1="209.4" y1="319.1" x2="209.4" y2="265.8"/><line x1="209.4" y1="319.1" x2="236.1" y2="272.9"/><line x1="209.4" y1="319.1" x2="255.6" y2="292.5"/><line x1="209.4" y1="319.1" x2="262.7" y2="319.1"/><line x1="209.4" y1="319.1" x2="255.6" y2="345.8"/><line x1="209.4" y1="319.1" x2="236.1" y2="365.3"/><line x1="209.4" y1="319.1" x2="209.4" y2="372.4"/><line x1="209.4" y1="319.1" x2="182.8" y2="365.3"/><line x1="209.4" y1="319.1" x2="163.2" y2="345.8"/><line x1="209.4" y1="319.1" x2="156.1" y2="319.1"/><line x1="209.4" y1="319.1" x2="163.2" y2="292.5"/><line x1="209.4" y1="319.1" x2="182.7" y2="272.9"/></g><circle class="fit" cx="209.4" cy="319.1" r="32.5"/><g class="pts" fill="#f0c040"><circle cx="188.5" cy="294.2" r="1.0"/><circle cx="191.2" cy="292.8" r="1.0"/><circle cx="193.2" cy="290.2" r="1.0"/><circle cx="196.3" cy="289.5" r="1.0"/><circle cx="199.1" cy="288.5" r="1.0"/><circle cx="201.9" cy="287.0" r="1.0"/><circle cx="205.0" cy="287.1" r="1.0"/><circle cx="208.0" cy="286.3" r="1.0"/><circle cx="211.1" cy="286.7" r="1.0"/><circle cx="214.0" cy="287.4" r="1.0"/><circle cx="217.1" cy="287.4" r="1.0"/><circle cx="219.9" cy="288.6" r="1.0"/><circle cx="222.7" cy="289.8" r="1.0"/><circle cx="225.9" cy="290.4" r="1.0"/><circle cx="228.4" cy="292.1" r="1.0"/><circle cx="230.5" cy="294.4" r="1.0"/><circle cx="233.0" cy="296.2" r="1.0"/><circle cx="234.9" cy="298.7" r="1.0"/><circle cx="236.4" cy="301.4" r="1.0"/><circle cx="237.7" cy="304.1" r="1.0"/><circle cx="239.5" cy="306.6" r="1.0"/><circle cx="240.1" cy="309.6" r="1.0"/><circle cx="241.5" cy="312.4" r="1.0"/><circle cx="241.8" cy="315.4" r="1.0"/><circle cx="241.6" cy="318.5" r="1.0"/><circle cx="242.1" cy="321.5" r="1.0"/><circle cx="242.0" cy="324.6" r="1.0"/><circle cx="240.8" cy="327.5" r="1.0"/><circle cx="240.4" cy="330.6" r="1.0"/><circle cx="238.6" cy="333.2" r="1.0"/><circle cx="236.7" cy="335.6" r="1.0"/><circle cx="235.5" cy="338.4" r="1.0"/><circle cx="233.5" cy="340.7" r="1.0"/><circle cx="231.8" cy="343.3" r="1.0"/><circle cx="229.2" cy="344.9" r="1.0"/><circle cx="226.9" cy="347.1" r="1.0"/><circle cx="223.8" cy="347.8" r="1.0"/><circle cx="221.2" cy="349.3" r="1.0"/><circle cx="218.2" cy="349.8" r="1.0"/><circle cx="215.3" cy="350.5" r="1.0"/><circle cx="212.4" cy="351.7" r="1.0"/><circle cx="209.3" cy="351.0" r="1.0"/><circle cx="206.3" cy="351.1" r="1.0"/><circle cx="203.3" cy="350.9" r="1.0"/><circle cx="200.1" cy="350.8" r="1.0"/><circle cx="197.5" cy="349.0" r="1.0"/><circle cx="194.9" cy="347.5" r="1.0"/><circle cx="191.9" cy="346.7" r="1.0"/><circle cx="189.3" cy="345.0" r="1.0"/><circle cx="187.5" cy="342.5" r="1.0"/><circle cx="184.7" cy="341.0" r="1.0"/><circle cx="182.8" cy="338.5" r="1.0"/><circle cx="181.0" cy="336.0" r="1.0"/><circle cx="179.7" cy="333.2" r="1.0"/><circle cx="178.8" cy="330.2" r="1.0"/></g><circle class="ctr" cx="209.4" cy="319.1" r="1.4"/><circle class="edge" cx="209.4" cy="319.1" r="53.3"/><g class="grid"><circle cx="318.6" cy="319.1" r="13.4"/><circle cx="318.6" cy="319.1" r="26.8"/><circle cx="318.6" cy="319.1" r="40.2"/><line x1="318.6" y1="319.1" x2="318.6" y2="265.8"/><line x1="318.6" y1="319.1" x2="345.2" y2="272.9"/><line x1="318.6" y1="319.1" x2="364.8" y2="292.5"/><line x1="318.6" y1="319.1" x2="371.9" y2="319.1"/><line x1="318.6" y1="319.1" x2="364.8" y2="345.8"/><line x1="318.6" y1="319.1" x2="345.2" y2="365.3"/><line x1="318.6" y1="319.1" x2="318.6" y2="372.4"/><line x1="318.6" y1="319.1" x2="292.0" y2="365.3"/><line x1="318.6" y1="319.1" x2="272.4" y2="345.8"/><line x1="318.6" y1="319.1" x2="265.3" y2="319.1"/><line x1="318.6" y1="319.1" x2="272.4" y2="292.5"/><line x1="318.6" y1="319.1" x2="291.9" y2="272.9"/></g><circle class="fit" cx="318.6" cy="319.1" r="34.2"/><g class="pts" fill="#f0c040"><circle cx="296.5" cy="292.7" r="1.0"/><circle cx="299.4" cy="291.3" r="1.0"/><circle cx="301.8" cy="289.1" r="1.0"/><circle cx="304.8" cy="288.0" r="1.0"/><circle cx="307.8" cy="286.9" r="1.0"/><circle cx="310.9" cy="286.0" r="1.0"/><circle cx="314.0" cy="285.7" r="1.0"/><circle cx="317.1" cy="284.6" r="1.0"/><circle cx="320.4" cy="284.6" r="1.0"/><circle cx="323.5" cy="285.8" r="1.0"/><circle cx="326.7" cy="285.9" r="1.0"/><circle cx="329.6" cy="287.3" r="1.0"/><circle cx="332.8" cy="287.9" r="1.0"/><circle cx="335.4" cy="289.8" r="1.0"/><circle cx="338.6" cy="290.7" r="1.0"/><circle cx="340.7" cy="293.3" r="1.0"/><circle cx="343.2" cy="295.3" r="1.0"/><circle cx="345.1" cy="297.9" r="1.0"/><circle cx="347.6" cy="300.0" r="1.0"/><circle cx="348.3" cy="303.3" r="1.0"/><circle cx="350.0" cy="306.1" r="1.0"/><circle cx="351.0" cy="309.1" r="1.0"/><circle cx="352.4" cy="312.0" r="1.0"/><circle cx="352.4" cy="315.3" r="1.0"/><circle cx="353.2" cy="318.4" r="1.0"/><circle cx="352.5" cy="321.6" r="1.0"/><circle cx="351.9" cy="324.7" r="1.0"/><circle cx="351.6" cy="327.9" r="1.0"/><circle cx="350.2" cy="330.8" r="1.0"/><circle cx="349.0" cy="333.8" r="1.0"/><circle cx="347.9" cy="336.8" r="1.0"/><circle cx="346.2" cy="339.5" r="1.0"/><circle cx="343.8" cy="341.7" r="1.0"/><circle cx="341.6" cy="343.9" r="1.0"/><circle cx="339.4" cy="346.3" r="1.0"/><circle cx="336.7" cy="348.0" r="1.0"/><circle cx="333.9" cy="349.6" r="1.0"/><circle cx="331.1" cy="351.2" r="1.0"/><circle cx="327.9" cy="351.6" r="1.0"/><circle cx="324.8" cy="352.1" r="1.0"/><circle cx="321.6" cy="352.6" r="1.0"/><circle cx="318.5" cy="353.7" r="1.0"/><circle cx="315.3" cy="353.4" r="1.0"/><circle cx="312.2" cy="352.3" r="1.0"/><circle cx="309.1" cy="351.7" r="1.0"/><circle cx="306.1" cy="350.7" r="1.0"/><circle cx="302.8" cy="350.0" r="1.0"/><circle cx="300.3" cy="347.9" r="1.0"/><circle cx="297.5" cy="346.3" r="1.0"/><circle cx="295.6" cy="343.7" r="1.0"/><circle cx="293.4" cy="341.4" r="1.0"/><circle cx="291.2" cy="339.1" r="1.0"/><circle cx="289.1" cy="336.7" r="1.0"/><circle cx="287.8" cy="333.7" r="1.0"/><circle cx="286.0" cy="330.9" r="1.0"/></g><circle class="ctr" cx="318.6" cy="319.1" r="1.4"/><circle class="edge" cx="318.6" cy="319.1" r="53.3"/><g class="grid"><circle cx="428.1" cy="319.1" r="13.4"/><circle cx="428.1" cy="319.1" r="26.8"/><circle cx="428.1" cy="319.1" r="40.2"/><line x1="428.1" y1="319.1" x2="428.1" y2="265.8"/><line x1="428.1" y1="319.1" x2="454.8" y2="272.9"/><line x1="428.1" y1="319.1" x2="474.3" y2="292.5"/><line x1="428.1" y1="319.1" x2="481.4" y2="319.1"/><line x1="428.1" y1="319.1" x2="474.3" y2="345.8"/><line x1="428.1" y1="319.1" x2="454.8" y2="365.3"/><line x1="428.1" y1="319.1" x2="428.1" y2="372.4"/><line x1="428.1" y1="319.1" x2="401.5" y2="365.3"/><line x1="428.1" y1="319.1" x2="381.9" y2="345.8"/><line x1="428.1" y1="319.1" x2="374.8" y2="319.1"/><line x1="428.1" y1="319.1" x2="381.9" y2="292.5"/><line x1="428.1" y1="319.1" x2="401.4" y2="272.9"/></g><circle class="fit" cx="428.1" cy="319.1" r="34.8"/><g class="pts" fill="#f0c040"><circle cx="428.1" cy="283.9" r="1.0"/><circle cx="435.7" cy="284.9" r="1.0"/><circle cx="443.1" cy="287.0" r="1.0"/><circle cx="449.6" cy="291.1" r="1.0"/><circle cx="455.1" cy="296.4" r="1.0"/><circle cx="458.5" cy="303.3" r="1.0"/><circle cx="461.6" cy="310.1" r="1.0"/><circle cx="450.2" cy="345.4" r="1.0"/><circle cx="447.1" cy="348.4" r="1.0"/><circle cx="443.4" cy="350.4" r="1.0"/><circle cx="439.3" cy="351.5" r="1.0"/><circle cx="435.2" cy="352.6" r="1.0"/><circle cx="431.1" cy="353.7" r="1.0"/><circle cx="426.9" cy="354.0" r="1.0"/><circle cx="422.7" cy="353.4" r="1.0"/><circle cx="418.5" cy="352.5" r="1.0"/><circle cx="414.4" cy="351.3" r="1.0"/><circle cx="410.6" cy="349.4" r="1.0"/><circle cx="407.0" cy="347.1" r="1.0"/><circle cx="404.0" cy="344.1" r="1.0"/><circle cx="401.4" cy="340.8" r="1.0"/><circle cx="398.2" cy="337.8" r="1.0"/><circle cx="397.1" cy="333.6" r="1.0"/></g><circle class="ctr" cx="428.1" cy="319.1" r="1.4"/><circle class="edge" cx="428.1" cy="319.1" r="53.3"/><g class="grid"><circle cx="537.6" cy="319.1" r="13.4"/><circle cx="537.6" cy="319.1" r="26.8"/><circle cx="537.6" cy="319.1" r="40.2"/><line x1="537.6" y1="319.1" x2="537.6" y2="265.8"/><line x1="537.6" y1="319.1" x2="564.2" y2="272.9"/><line x1="537.6" y1="319.1" x2="583.8" y2="292.5"/><line x1="537.6" y1="319.1" x2="590.9" y2="319.1"/><line x1="537.6" y1="319.1" x2="583.8" y2="345.8"/><line x1="537.6" y1="319.1" x2="564.2" y2="365.3"/><line x1="537.6" y1="319.1" x2="537.6" y2="372.4"/><line x1="537.6" y1="319.1" x2="511.0" y2="365.3"/><line x1="537.6" y1="319.1" x2="491.4" y2="345.8"/><line x1="537.6" y1="319.1" x2="484.3" y2="319.1"/><line x1="537.6" y1="319.1" x2="491.4" y2="292.5"/><line x1="537.6" y1="319.1" x2="510.9" y2="272.9"/></g><circle class="fit" cx="537.6" cy="319.1" r="36.5"/><g class="pts" fill="#f0c040"><circle cx="550.0" cy="285.1" r="1.0"/><circle cx="557.7" cy="289.1" r="1.0"/><circle cx="564.6" cy="294.4" r="1.0"/><circle cx="569.7" cy="301.5" r="1.0"/><circle cx="572.4" cy="309.8" r="1.0"/><circle cx="561.1" cy="347.1" r="1.0"/><circle cx="556.7" cy="350.3" r="1.0"/><circle cx="552.0" cy="352.9" r="1.0"/><circle cx="546.7" cy="353.9" r="1.0"/><circle cx="541.5" cy="355.7" r="1.0"/><circle cx="536.1" cy="355.3" r="1.0"/><circle cx="530.8" cy="354.8" r="1.0"/><circle cx="525.7" cy="353.1" r="1.0"/><circle cx="520.4" cy="351.8" r="1.0"/><circle cx="516.0" cy="348.7" r="1.0"/><circle cx="511.7" cy="345.3" r="1.0"/><circle cx="508.4" cy="341.0" r="1.0"/><circle cx="505.9" cy="336.3" r="1.0"/><circle cx="503.4" cy="331.5" r="1.0"/></g><circle class="ctr" cx="537.6" cy="319.1" r="1.4"/><circle class="edge" cx="537.6" cy="319.1" r="53.3"/><g class="grid"><circle cx="99.8" cy="428.4" r="13.4"/><circle cx="99.8" cy="428.4" r="26.8"/><circle cx="99.8" cy="428.4" r="40.2"/><line x1="99.8" y1="428.4" x2="99.8" y2="375.1"/><line x1="99.8" y1="428.4" x2="126.4" y2="382.2"/><line x1="99.8" y1="428.4" x2="146.0" y2="401.8"/><line x1="99.8" y1="428.4" x2="153.1" y2="428.4"/><line x1="99.8" y1="428.4" x2="146.0" y2="455.0"/><line x1="99.8" y1="428.4" x2="126.4" y2="474.6"/><line x1="99.8" y1="428.4" x2="99.8" y2="481.7"/><line x1="99.8" y1="428.4" x2="73.1" y2="474.6"/><line x1="99.8" y1="428.4" x2="53.6" y2="455.1"/><line x1="99.8" y1="428.4" x2="46.5" y2="428.4"/><line x1="99.8" y1="428.4" x2="53.6" y2="401.8"/><line x1="99.8" y1="428.4" x2="73.1" y2="382.2"/></g><circle class="fit" cx="99.8" cy="428.4" r="33.3"/><g class="pts" fill="#f0c040"><circle cx="83.4" cy="400.0" r="1.0"/><circle cx="87.7" cy="397.9" r="1.0"/><circle cx="92.0" cy="395.6" r="1.0"/><circle cx="97.0" cy="395.8" r="1.0"/><circle cx="101.7" cy="395.3" r="1.0"/><circle cx="106.4" cy="396.3" r="1.0"/><circle cx="111.3" cy="396.8" r="1.0"/><circle cx="129.1" cy="411.5" r="1.0"/><circle cx="129.7" cy="415.1" r="1.0"/><circle cx="131.3" cy="418.2" r="1.0"/><circle cx="132.9" cy="421.4" r="1.0"/><circle cx="132.6" cy="425.0" r="1.0"/><circle cx="132.9" cy="428.4" r="1.0"/><circle cx="133.5" cy="431.9" r="1.0"/><circle cx="132.9" cy="435.4" r="1.0"/><circle cx="131.3" cy="438.6" r="1.0"/><circle cx="130.4" cy="442.0" r="1.0"/><circle cx="128.9" cy="445.2" r="1.0"/><circle cx="126.6" cy="447.9" r="1.0"/><circle cx="124.1" cy="450.3" r="1.0"/><circle cx="122.0" cy="453.0" r="1.0"/><circle cx="119.5" cy="455.5" r="1.0"/><circle cx="116.7" cy="457.7" r="1.0"/><circle cx="111.2" cy="459.6" r="1.0"/><circle cx="107.8" cy="460.6" r="1.0"/><circle cx="104.3" cy="461.3" r="1.0"/><circle cx="100.8" cy="461.8" r="1.0"/><circle cx="97.3" cy="461.0" r="1.0"/><circle cx="93.6" cy="461.6" r="1.0"/><circle cx="90.1" cy="460.8" r="1.0"/><circle cx="87.1" cy="458.6" r="1.0"/><circle cx="84.0" cy="457.0" r="1.0"/><circle cx="80.8" cy="455.5" r="1.0"/></g><circle class="ctr" cx="99.8" cy="428.4" r="1.4"/><circle class="edge" cx="99.8" cy="428.4" r="53.3"/><g class="grid"><circle cx="209.4" cy="428.4" r="13.4"/><circle cx="209.4" cy="428.4" r="26.8"/><circle cx="209.4" cy="428.4" r="40.2"/><line x1="209.4" y1="428.4" x2="209.4" y2="375.1"/><line x1="209.4" y1="428.4" x2="236.1" y2="382.2"/><line x1="209.4" y1="428.4" x2="255.6" y2="401.8"/><line x1="209.4" y1="428.4" x2="262.7" y2="428.4"/><line x1="209.4" y1="428.4" x2="255.6" y2="455.0"/><line x1="209.4" y1="428.4" x2="236.1" y2="474.6"/><line x1="209.4" y1="428.4" x2="209.4" y2="481.7"/><line x1="209.4" y1="428.4" x2="182.8" y2="474.6"/><line x1="209.4" y1="428.4" x2="163.2" y2="455.1"/><line x1="209.4" y1="428.4" x2="156.1" y2="428.4"/><line x1="209.4" y1="428.4" x2="163.2" y2="401.8"/><line x1="209.4" y1="428.4" x2="182.7" y2="382.2"/></g><circle class="fit" cx="209.4" cy="428.4" r="33.3"/><g class="pts" fill="#f0c040"><circle cx="206.5" cy="395.6" r="1.0"/><circle cx="209.5" cy="394.8" r="1.0"/><circle cx="212.6" cy="394.8" r="1.0"/><circle cx="215.5" cy="395.6" r="1.0"/><circle cx="218.6" cy="395.8" r="1.0"/><circle cx="221.2" cy="397.6" r="1.0"/><circle cx="224.0" cy="398.9" r="1.0"/><circle cx="226.7" cy="400.1" r="1.0"/><circle cx="229.2" cy="401.7" r="1.0"/><circle cx="231.4" cy="403.9" r="1.0"/><circle cx="234.1" cy="405.4" r="1.0"/><circle cx="236.0" cy="407.8" r="1.0"/><circle cx="237.3" cy="410.6" r="1.0"/><circle cx="238.7" cy="413.3" r="1.0"/><circle cx="240.0" cy="415.9" r="1.0"/><circle cx="241.1" cy="418.7" r="1.0"/><circle cx="242.2" cy="421.6" r="1.0"/><circle cx="242.8" cy="424.6" r="1.0"/><circle cx="243.2" cy="427.6" r="1.0"/><circle cx="242.1" cy="430.6" r="1.0"/><circle cx="241.9" cy="433.6" r="1.0"/><circle cx="241.5" cy="436.6" r="1.0"/><circle cx="241.3" cy="439.7" r="1.0"/><circle cx="239.6" cy="442.3" r="1.0"/><circle cx="238.5" cy="445.1" r="1.0"/><circle cx="237.0" cy="447.8" r="1.0"/><circle cx="234.8" cy="449.9" r="1.0"/><circle cx="232.6" cy="452.1" r="1.0"/><circle cx="230.7" cy="454.4" r="1.0"/><circle cx="228.2" cy="456.1" r="1.0"/><circle cx="225.8" cy="458.1" r="1.0"/><circle cx="222.7" cy="458.6" r="1.0"/><circle cx="220.1" cy="460.5" r="1.0"/><circle cx="217.0" cy="460.8" r="1.0"/><circle cx="214.1" cy="461.8" r="1.0"/><circle cx="211.1" cy="461.8" r="1.0"/><circle cx="208.0" cy="461.7" r="1.0"/><circle cx="205.0" cy="461.8" r="1.0"/><circle cx="202.2" cy="460.4" r="1.0"/><circle cx="199.2" cy="459.8" r="1.0"/><circle cx="196.3" cy="459.0" r="1.0"/><circle cx="193.4" cy="458.0" r="1.0"/><circle cx="191.2" cy="455.8" r="1.0"/><circle cx="188.3" cy="454.6" r="1.0"/><circle cx="186.6" cy="452.0" r="1.0"/><circle cx="184.3" cy="450.0" r="1.0"/><circle cx="182.4" cy="447.8" r="1.0"/><circle cx="180.5" cy="445.4" r="1.0"/><circle cx="179.2" cy="442.6" r="1.0"/><circle cx="177.7" cy="439.9" r="1.0"/></g><circle class="ctr" cx="209.4" cy="428.4" r="1.4"/><circle class="edge" cx="209.4" cy="428.4" r="53.3"/><g class="grid"><circle cx="318.6" cy="428.4" r="13.4"/><circle cx="318.6" cy="428.4" r="26.8"/><circle cx="318.6" cy="428.4" r="40.2"/><line x1="318.6" y1="428.4" x2="318.6" y2="375.1"/><line x1="318.6" y1="428.4" x2="345.2" y2="382.2"/><line x1="318.6" y1="428.4" x2="364.8" y2="401.8"/><line x1="318.6" y1="428.4" x2="371.9" y2="428.4"/><line x1="318.6" y1="428.4" x2="364.8" y2="455.0"/><line x1="318.6" y1="428.4" x2="345.2" y2="474.6"/><line x1="318.6" y1="428.4" x2="318.6" y2="481.7"/><line x1="318.6" y1="428.4" x2="292.0" y2="474.6"/><line x1="318.6" y1="428.4" x2="272.4" y2="455.1"/><line x1="318.6" y1="428.4" x2="265.3" y2="428.4"/><line x1="318.6" y1="428.4" x2="272.4" y2="401.8"/><line x1="318.6" y1="428.4" x2="291.9" y2="382.2"/></g><circle class="fit" cx="318.6" cy="428.4" r="32.7"/><g class="pts" fill="#f0c040"><circle cx="315.7" cy="395.6" r="1.0"/><circle cx="318.7" cy="395.8" r="1.0"/><circle cx="321.6" cy="395.8" r="1.0"/><circle cx="324.4" cy="396.4" r="1.0"/><circle cx="327.4" cy="396.4" r="1.0"/><circle cx="330.0" cy="398.0" r="1.0"/><circle cx="332.6" cy="399.3" r="1.0"/><circle cx="335.1" cy="400.6" r="1.0"/><circle cx="337.6" cy="402.1" r="1.0"/><circle cx="340.3" cy="403.4" r="1.0"/><circle cx="342.3" cy="405.5" r="1.0"/><circle cx="343.8" cy="408.1" r="1.0"/><circle cx="345.7" cy="410.3" r="1.0"/><circle cx="347.7" cy="412.5" r="1.0"/><circle cx="349.1" cy="415.1" r="1.0"/><circle cx="349.3" cy="418.1" r="1.0"/><circle cx="350.9" cy="420.7" r="1.0"/><circle cx="350.4" cy="423.8" r="1.0"/><circle cx="351.8" cy="426.6" r="1.0"/><circle cx="351.1" cy="429.5" r="1.0"/><circle cx="351.6" cy="432.5" r="1.0"/><circle cx="350.0" cy="435.2" r="1.0"/><circle cx="350.0" cy="438.2" r="1.0"/><circle cx="349.3" cy="441.0" r="1.0"/><circle cx="348.0" cy="443.7" r="1.0"/><circle cx="346.2" cy="446.0" r="1.0"/><circle cx="344.2" cy="448.1" r="1.0"/><circle cx="342.4" cy="450.4" r="1.0"/><circle cx="340.9" cy="453.0" r="1.0"/><circle cx="338.6" cy="454.9" r="1.0"/><circle cx="335.7" cy="455.9" r="1.0"/><circle cx="333.3" cy="457.4" r="1.0"/><circle cx="330.8" cy="458.9" r="1.0"/><circle cx="327.9" cy="459.5" r="1.0"/><circle cx="325.1" cy="460.1" r="1.0"/><circle cx="322.3" cy="461.3" r="1.0"/><circle cx="319.3" cy="460.6" r="1.0"/><circle cx="316.4" cy="461.2" r="1.0"/><circle cx="313.6" cy="460.6" r="1.0"/><circle cx="310.7" cy="460.1" r="1.0"/><circle cx="307.8" cy="459.7" r="1.0"/><circle cx="305.1" cy="458.5" r="1.0"/><circle cx="302.4" cy="457.2" r="1.0"/><circle cx="300.5" cy="454.9" r="1.0"/><circle cx="297.6" cy="453.9" r="1.0"/><circle cx="295.4" cy="451.9" r="1.0"/><circle cx="294.1" cy="449.2" r="1.0"/><circle cx="292.1" cy="447.1" r="1.0"/><circle cx="290.1" cy="444.9" r="1.0"/><circle cx="288.6" cy="442.4" r="1.0"/></g><circle class="ctr" cx="318.6" cy="428.4" r="1.4"/><circle class="edge" cx="318.6" cy="428.4" r="53.3"/><g class="grid"><circle cx="428.1" cy="428.4" r="13.4"/><circle cx="428.1" cy="428.4" r="26.8"/><circle cx="428.1" cy="428.4" r="40.2"/><line x1="428.1" y1="428.4" x2="428.1" y2="375.1"/><line x1="428.1" y1="428.4" x2="454.8" y2="382.2"/><line x1="428.1" y1="428.4" x2="474.3" y2="401.8"/><line x1="428.1" y1="428.4" x2="481.4" y2="428.4"/><line x1="428.1" y1="428.4" x2="474.3" y2="455.0"/><line x1="428.1" y1="428.4" x2="454.8" y2="474.6"/><line x1="428.1" y1="428.4" x2="428.1" y2="481.7"/><line x1="428.1" y1="428.4" x2="401.5" y2="474.6"/><line x1="428.1" y1="428.4" x2="381.9" y2="455.1"/><line x1="428.1" y1="428.4" x2="374.8" y2="428.4"/><line x1="428.1" y1="428.4" x2="381.9" y2="401.8"/><line x1="428.1" y1="428.4" x2="401.4" y2="382.2"/></g><circle class="fit" cx="428.1" cy="428.4" r="33.0"/><g class="pts" fill="#f0c040"><circle cx="425.2" cy="395.5" r="1.0"/><circle cx="430.6" cy="395.0" r="1.0"/><circle cx="435.7" cy="396.8" r="1.0"/><circle cx="440.8" cy="398.3" r="1.0"/><circle cx="445.9" cy="400.1" r="1.0"/><circle cx="450.2" cy="403.4" r="1.0"/><circle cx="453.4" cy="407.7" r="1.0"/><circle cx="456.8" cy="411.9" r="1.0"/><circle cx="425.2" cy="461.2" r="1.0"/><circle cx="422.1" cy="461.1" r="1.0"/><circle cx="419.1" cy="460.0" r="1.0"/><circle cx="416.2" cy="458.9" r="1.0"/><circle cx="413.1" cy="458.1" r="1.0"/><circle cx="410.4" cy="456.5" r="1.0"/><circle cx="408.0" cy="454.4" r="1.0"/><circle cx="405.3" cy="452.7" r="1.0"/><circle cx="403.5" cy="450.0" r="1.0"/><circle cx="401.4" cy="447.8" r="1.0"/><circle cx="400.0" cy="444.9" r="1.0"/><circle cx="398.4" cy="442.3" r="1.0"/></g><circle class="ctr" cx="428.1" cy="428.4" r="1.4"/><circle class="edge" cx="428.1" cy="428.4" r="53.3"/><g class="grid"><circle cx="537.6" cy="428.4" r="13.4"/><circle cx="537.6" cy="428.4" r="26.8"/><circle cx="537.6" cy="428.4" r="40.2"/><line x1="537.6" y1="428.4" x2="537.6" y2="375.1"/><line x1="537.6" y1="428.4" x2="564.2" y2="382.2"/><line x1="537.6" y1="428.4" x2="583.8" y2="401.8"/><line x1="537.6" y1="428.4" x2="590.9" y2="428.4"/><line x1="537.6" y1="428.4" x2="583.8" y2="455.0"/><line x1="537.6" y1="428.4" x2="564.2" y2="474.6"/><line x1="537.6" y1="428.4" x2="537.6" y2="481.7"/><line x1="537.6" y1="428.4" x2="511.0" y2="474.6"/><line x1="537.6" y1="428.4" x2="491.4" y2="455.1"/><line x1="537.6" y1="428.4" x2="484.3" y2="428.4"/><line x1="537.6" y1="428.4" x2="491.4" y2="401.8"/><line x1="537.6" y1="428.4" x2="510.9" y2="382.2"/></g><circle class="fit" cx="537.6" cy="428.4" r="36.0"/><g class="pts" fill="#f0c040"><circle cx="543.8" cy="393.0" r="1.0"/><circle cx="549.7" cy="395.0" r="1.0"/><circle cx="560.6" cy="401.0" r="1.0"/><circle cx="565.0" cy="405.4" r="1.0"/><circle cx="568.6" cy="410.5" r="1.0"/><circle cx="571.4" cy="416.1" r="1.0"/><circle cx="573.5" cy="422.1" r="1.0"/><circle cx="537.6" cy="464.8" r="1.0"/><circle cx="532.8" cy="463.8" r="1.0"/><circle cx="528.1" cy="462.7" r="1.0"/><circle cx="523.5" cy="461.0" r="1.0"/><circle cx="518.8" cy="459.6" r="1.0"/><circle cx="514.8" cy="456.7" r="1.0"/><circle cx="511.2" cy="453.3" r="1.0"/><circle cx="507.9" cy="449.6" r="1.0"/><circle cx="505.9" cy="445.1" r="1.0"/><circle cx="504.1" cy="440.6" r="1.0"/></g><circle class="ctr" cx="537.6" cy="428.4" r="1.4"/><circle class="edge" cx="537.6" cy="428.4" r="53.3"/><path class="tk" d="M35.10 578.10v3.0M35.10 646.10v-3.0M38.05 578.10v1.5M38.05 646.10v-1.5M41.00 578.10v1.5M41.00 646.10v-1.5M43.95 578.10v1.5M43.95 646.10v-1.5M46.90 578.10v1.5M46.90 646.10v-1.5M49.85 578.10v1.5M49.85 646.10v-1.5M52.80 578.10v1.5M52.80 646.10v-1.5M55.75 578.10v1.5M55.75 646.10v-1.5M58.70 578.10v1.5M58.70 646.10v-1.5M61.65 578.10v1.5M61.65 646.10v-1.5M64.60 578.10v3.0M64.60 646.10v-3.0M67.55 578.10v1.5M67.55 646.10v-1.5M70.50 578.10v1.5M70.50 646.10v-1.5M73.45 578.10v1.5M73.45 646.10v-1.5M76.40 578.10v1.5M76.40 646.10v-1.5M79.35 578.10v1.5M79.35 646.10v-1.5M82.30 578.10v1.5M82.30 646.10v-1.5M85.25 578.10v1.5M85.25 646.10v-1.5M88.20 578.10v1.5M88.20 646.10v-1.5M91.15 578.10v1.5M91.15 646.10v-1.5M94.10 578.10v3.0M94.10 646.10v-3.0M97.05 578.10v1.5M97.05 646.10v-1.5M100.00 578.10v1.5M100.00 646.10v-1.5M102.95 578.10v1.5M102.95 646.10v-1.5M105.90 578.10v1.5M105.90 646.10v-1.5M108.85 578.10v1.5M108.85 646.10v-1.5M111.80 578.10v1.5M111.80 646.10v-1.5M114.75 578.10v1.5M114.75 646.10v-1.5M117.70 578.10v1.5M117.70 646.10v-1.5M120.65 578.10v1.5M120.65 646.10v-1.5M123.60 578.10v3.0M123.60 646.10v-3.0M126.55 578.10v1.5M126.55 646.10v-1.5M129.50 578.10v1.5M129.50 646.10v-1.5M132.45 578.10v1.5M132.45 646.10v-1.5M135.40 578.10v1.5M135.40 646.10v-1.5M138.35 578.10v1.5M138.35 646.10v-1.5M141.30 578.10v1.5M141.30 646.10v-1.5M35.10 646.10h3.0M142.50 646.10h-3.0M35.10 642.70h1.5M142.50 642.70h-1.5M35.10 639.30h1.5M142.50 639.30h-1.5M35.10 635.90h1.5M142.50 635.90h-1.5M35.10 632.50h1.5M142.50 632.50h-1.5M35.10 629.10h3.0M142.50 629.10h-3.0M35.10 625.70h1.5M142.50 625.70h-1.5M35.10 622.30h1.5M142.50 622.30h-1.5M35.10 618.90h1.5M142.50 618.90h-1.5M35.10 615.50h1.5M142.50 615.50h-1.5M35.10 612.10h3.0M142.50 612.10h-3.0M35.10 608.70h1.5M142.50 608.70h-1.5M35.10 605.30h1.5M142.50 605.30h-1.5M35.10 601.90h1.5M142.50 601.90h-1.5M35.10 598.50h1.5M142.50 598.50h-1.5M35.10 595.10h3.0M142.50 595.10h-3.0M35.10 591.70h1.5M142.50 591.70h-1.5M35.10 588.30h1.5M142.50 588.30h-1.5M35.10 584.90h1.5M142.50 584.90h-1.5M35.10 581.50h1.5M142.50 581.50h-1.5M35.10 578.10h3.0M142.50 578.10h-3.0"/><rect class="box" x="35.10" y="578.10" width="107.4" height="68"/><line class="zl" x1="35.10" y1="612.10" x2="142.50" y2="612.10"/><path class="dm" d="M36.1 611.1l3.2 3.2-3.2 3.2-3.2-3.2zM37.7 607.1l3.2 3.2-3.2 3.2-3.2-3.2zM39.1 603.7l3.2 3.2-3.2 3.2-3.2-3.2zM41.1 605.7l3.2 3.2-3.2 3.2-3.2-3.2zM42.5 604.1l3.2 3.2-3.2 3.2-3.2-3.2zM44.1 603.1l3.2 3.2-3.2 3.2-3.2-3.2zM45.5 603.7l3.2 3.2-3.2 3.2-3.2-3.2zM47.1 605.1l3.2 3.2-3.2 3.2-3.2-3.2zM49.2 610.1l3.2 3.2-3.2 3.2-3.2-3.2zM50.6 611.5l3.2 3.2-3.2 3.2-3.2-3.2zM52.2 612.1l3.2 3.2-3.2 3.2-3.2-3.2zM53.8 611.7l3.2 3.2-3.2 3.2-3.2-3.2zM55.2 610.1l3.2 3.2-3.2 3.2-3.2-3.2zM57.2 608.1l3.2 3.2-3.2 3.2-3.2-3.2zM58.6 606.5l3.2 3.2-3.2 3.2-3.2-3.2zM60.7 615.8l3.2 3.2-3.2 3.2-3.2-3.2zM62.3 611.1l3.2 3.2-3.2 3.2-3.2-3.2zM64.7 599.0l3.2 3.2-3.2 3.2-3.2-3.2zM66.3 606.5l3.2 3.2-3.2 3.2-3.2-3.2zM68.3 611.1l3.2 3.2-3.2 3.2-3.2-3.2zM110.7 613.8l3.2 3.2-3.2 3.2-3.2-3.2zM117.7 609.1l3.2 3.2-3.2 3.2-3.2-3.2zM119.4 604.1l3.2 3.2-3.2 3.2-3.2-3.2zM121.8 605.7l3.2 3.2-3.2 3.2-3.2-3.2zM123.4 602.5l3.2 3.2-3.2 3.2-3.2-3.2zM125.2 604.1l3.2 3.2-3.2 3.2-3.2-3.2zM126.8 610.1l3.2 3.2-3.2 3.2-3.2-3.2zM128.4 612.1l3.2 3.2-3.2 3.2-3.2-3.2zM130.2 609.7l3.2 3.2-3.2 3.2-3.2-3.2zM131.9 611.1l3.2 3.2-3.2 3.2-3.2-3.2zM133.9 609.1l3.2 3.2-3.2 3.2-3.2-3.2zM135.9 611.1l3.2 3.2-3.2 3.2-3.2-3.2zM137.9 611.7l3.2 3.2-3.2 3.2-3.2-3.2zM139.5 613.1l3.2 3.2-3.2 3.2-3.2-3.2zM140.9 612.1l3.2 3.2-3.2 3.2-3.2-3.2z"/><path class="tk" d="M148.00 578.10v3.0M148.00 646.10v-3.0M150.95 578.10v1.5M150.95 646.10v-1.5M153.90 578.10v1.5M153.90 646.10v-1.5M156.85 578.10v1.5M156.85 646.10v-1.5M159.80 578.10v1.5M159.80 646.10v-1.5M162.75 578.10v1.5M162.75 646.10v-1.5M165.70 578.10v1.5M165.70 646.10v-1.5M168.65 578.10v1.5M168.65 646.10v-1.5M171.60 578.10v1.5M171.60 646.10v-1.5M174.55 578.10v1.5M174.55 646.10v-1.5M177.50 578.10v3.0M177.50 646.10v-3.0M180.45 578.10v1.5M180.45 646.10v-1.5M183.40 578.10v1.5M183.40 646.10v-1.5M186.35 578.10v1.5M186.35 646.10v-1.5M189.30 578.10v1.5M189.30 646.10v-1.5M192.25 578.10v1.5M192.25 646.10v-1.5M195.20 578.10v1.5M195.20 646.10v-1.5M198.15 578.10v1.5M198.15 646.10v-1.5M201.10 578.10v1.5M201.10 646.10v-1.5M204.05 578.10v1.5M204.05 646.10v-1.5M207.00 578.10v3.0M207.00 646.10v-3.0M209.95 578.10v1.5M209.95 646.10v-1.5M212.90 578.10v1.5M212.90 646.10v-1.5M215.85 578.10v1.5M215.85 646.10v-1.5M218.80 578.10v1.5M218.80 646.10v-1.5M221.75 578.10v1.5M221.75 646.10v-1.5M224.70 578.10v1.5M224.70 646.10v-1.5M227.65 578.10v1.5M227.65 646.10v-1.5M230.60 578.10v1.5M230.60 646.10v-1.5M233.55 578.10v1.5M233.55 646.10v-1.5M236.50 578.10v3.0M236.50 646.10v-3.0M239.45 578.10v1.5M239.45 646.10v-1.5M242.40 578.10v1.5M242.40 646.10v-1.5M245.35 578.10v1.5M245.35 646.10v-1.5M248.30 578.10v1.5M248.30 646.10v-1.5M251.25 578.10v1.5M251.25 646.10v-1.5M254.20 578.10v1.5M254.20 646.10v-1.5M148.00 646.10h3.0M255.40 646.10h-3.0M148.00 642.70h1.5M255.40 642.70h-1.5M148.00 639.30h1.5M255.40 639.30h-1.5M148.00 635.90h1.5M255.40 635.90h-1.5M148.00 632.50h1.5M255.40 632.50h-1.5M148.00 629.10h3.0M255.40 629.10h-3.0M148.00 625.70h1.5M255.40 625.70h-1.5M148.00 622.30h1.5M255.40 622.30h-1.5M148.00 618.90h1.5M255.40 618.90h-1.5M148.00 615.50h1.5M255.40 615.50h-1.5M148.00 612.10h3.0M255.40 612.10h-3.0M148.00 608.70h1.5M255.40 608.70h-1.5M148.00 605.30h1.5M255.40 605.30h-1.5M148.00 601.90h1.5M255.40 601.90h-1.5M148.00 598.50h1.5M255.40 598.50h-1.5M148.00 595.10h3.0M255.40 595.10h-3.0M148.00 591.70h1.5M255.40 591.70h-1.5M148.00 588.30h1.5M255.40 588.30h-1.5M148.00 584.90h1.5M255.40 584.90h-1.5M148.00 581.50h1.5M255.40 581.50h-1.5M148.00 578.10h3.0M255.40 578.10h-3.0"/><rect class="box" x="148.00" y="578.10" width="107.4" height="68"/><line class="zl" x1="148.00" y1="612.10" x2="255.40" y2="612.10"/><path class="dm" d="M149.1 610.1l3.2 3.2-3.2 3.2-3.2-3.2zM150.7 609.1l3.2 3.2-3.2 3.2-3.2-3.2zM152.1 607.7l3.2 3.2-3.2 3.2-3.2-3.2zM154.1 610.5l3.2 3.2-3.2 3.2-3.2-3.2zM155.5 612.1l3.2 3.2-3.2 3.2-3.2-3.2zM157.1 610.5l3.2 3.2-3.2 3.2-3.2-3.2zM158.7 609.1l3.2 3.2-3.2 3.2-3.2-3.2zM161.2 615.2l3.2 3.2-3.2 3.2-3.2-3.2zM162.8 611.1l3.2 3.2-3.2 3.2-3.2-3.2zM164.8 608.1l3.2 3.2-3.2 3.2-3.2-3.2zM166.2 606.1l3.2 3.2-3.2 3.2-3.2-3.2zM168.2 607.7l3.2 3.2-3.2 3.2-3.2-3.2zM170.2 609.1l3.2 3.2-3.2 3.2-3.2-3.2zM172.2 598.0l3.2 3.2-3.2 3.2-3.2-3.2zM174.3 608.5l3.2 3.2-3.2 3.2-3.2-3.2zM175.3 609.1l3.2 3.2-3.2 3.2-3.2-3.2zM177.7 595.6l3.2 3.2-3.2 3.2-3.2-3.2zM179.3 589.5l3.2 3.2-3.2 3.2-3.2-3.2zM180.3 588.9l3.2 3.2-3.2 3.2-3.2-3.2zM205.5 610.5l3.2 3.2-3.2 3.2-3.2-3.2zM207.1 612.1l3.2 3.2-3.2 3.2-3.2-3.2zM209.6 615.2l3.2 3.2-3.2 3.2-3.2-3.2zM211.2 621.8l3.2 3.2-3.2 3.2-3.2-3.2zM212.6 625.2l3.2 3.2-3.2 3.2-3.2-3.2zM214.0 623.2l3.2 3.2-3.2 3.2-3.2-3.2zM216.0 619.2l3.2 3.2-3.2 3.2-3.2-3.2zM218.0 615.2l3.2 3.2-3.2 3.2-3.2-3.2zM219.6 612.1l3.2 3.2-3.2 3.2-3.2-3.2zM221.7 611.1l3.2 3.2-3.2 3.2-3.2-3.2zM223.3 600.0l3.2 3.2-3.2 3.2-3.2-3.2zM225.3 602.1l3.2 3.2-3.2 3.2-3.2-3.2zM227.7 600.0l3.2 3.2-3.2 3.2-3.2-3.2zM229.7 597.0l3.2 3.2-3.2 3.2-3.2-3.2zM231.7 595.6l3.2 3.2-3.2 3.2-3.2-3.2zM233.8 598.0l3.2 3.2-3.2 3.2-3.2-3.2zM235.8 602.1l3.2 3.2-3.2 3.2-3.2-3.2zM237.8 610.5l3.2 3.2-3.2 3.2-3.2-3.2zM239.4 609.1l3.2 3.2-3.2 3.2-3.2-3.2zM241.8 611.1l3.2 3.2-3.2 3.2-3.2-3.2zM243.4 610.1l3.2 3.2-3.2 3.2-3.2-3.2zM245.9 609.1l3.2 3.2-3.2 3.2-3.2-3.2zM247.9 607.1l3.2 3.2-3.2 3.2-3.2-3.2zM250.9 615.8l3.2 3.2-3.2 3.2-3.2-3.2zM252.9 620.2l3.2 3.2-3.2 3.2-3.2-3.2zM253.5 618.2l3.2 3.2-3.2 3.2-3.2-3.2z"/><path class="tk" d="M260.90 578.10v3.0M260.90 646.10v-3.0M263.85 578.10v1.5M263.85 646.10v-1.5M266.80 578.10v1.5M266.80 646.10v-1.5M269.75 578.10v1.5M269.75 646.10v-1.5M272.70 578.10v1.5M272.70 646.10v-1.5M275.65 578.10v1.5M275.65 646.10v-1.5M278.60 578.10v1.5M278.60 646.10v-1.5M281.55 578.10v1.5M281.55 646.10v-1.5M284.50 578.10v1.5M284.50 646.10v-1.5M287.45 578.10v1.5M287.45 646.10v-1.5M290.40 578.10v3.0M290.40 646.10v-3.0M293.35 578.10v1.5M293.35 646.10v-1.5M296.30 578.10v1.5M296.30 646.10v-1.5M299.25 578.10v1.5M299.25 646.10v-1.5M302.20 578.10v1.5M302.20 646.10v-1.5M305.15 578.10v1.5M305.15 646.10v-1.5M308.10 578.10v1.5M308.10 646.10v-1.5M311.05 578.10v1.5M311.05 646.10v-1.5M314.00 578.10v1.5M314.00 646.10v-1.5M316.95 578.10v1.5M316.95 646.10v-1.5M319.90 578.10v3.0M319.90 646.10v-3.0M322.85 578.10v1.5M322.85 646.10v-1.5M325.80 578.10v1.5M325.80 646.10v-1.5M328.75 578.10v1.5M328.75 646.10v-1.5M331.70 578.10v1.5M331.70 646.10v-1.5M334.65 578.10v1.5M334.65 646.10v-1.5M337.60 578.10v1.5M337.60 646.10v-1.5M340.55 578.10v1.5M340.55 646.10v-1.5M343.50 578.10v1.5M343.50 646.10v-1.5M346.45 578.10v1.5M346.45 646.10v-1.5M349.40 578.10v3.0M349.40 646.10v-3.0M352.35 578.10v1.5M352.35 646.10v-1.5M355.30 578.10v1.5M355.30 646.10v-1.5M358.25 578.10v1.5M358.25 646.10v-1.5M361.20 578.10v1.5M361.20 646.10v-1.5M364.15 578.10v1.5M364.15 646.10v-1.5M367.10 578.10v1.5M367.10 646.10v-1.5M260.90 646.10h3.0M368.30 646.10h-3.0M260.90 642.70h1.5M368.30 642.70h-1.5M260.90 639.30h1.5M368.30 639.30h-1.5M260.90 635.90h1.5M368.30 635.90h-1.5M260.90 632.50h1.5M368.30 632.50h-1.5M260.90 629.10h3.0M368.30 629.10h-3.0M260.90 625.70h1.5M368.30 625.70h-1.5M260.90 622.30h1.5M368.30 622.30h-1.5M260.90 618.90h1.5M368.30 618.90h-1.5M260.90 615.50h1.5M368.30 615.50h-1.5M260.90 612.10h3.0M368.30 612.10h-3.0M260.90 608.70h1.5M368.30 608.70h-1.5M260.90 605.30h1.5M368.30 605.30h-1.5M260.90 601.90h1.5M368.30 601.90h-1.5M260.90 598.50h1.5M368.30 598.50h-1.5M260.90 595.10h3.0M368.30 595.10h-3.0M260.90 591.70h1.5M368.30 591.70h-1.5M260.90 588.30h1.5M368.30 588.30h-1.5M260.90 584.90h1.5M368.30 584.90h-1.5M260.90 581.50h1.5M368.30 581.50h-1.5M260.90 578.10h3.0M368.30 578.10h-3.0"/><rect class="box" x="260.90" y="578.10" width="107.4" height="68"/><line class="zl" x1="260.90" y1="612.10" x2="368.30" y2="612.10"/><path class="dm" d="M263.7 614.2l3.2 3.2-3.2 3.2-3.2-3.2zM265.7 612.1l3.2 3.2-3.2 3.2-3.2-3.2zM267.1 613.1l3.2 3.2-3.2 3.2-3.2-3.2zM269.1 615.2l3.2 3.2-3.2 3.2-3.2-3.2zM271.1 608.1l3.2 3.2-3.2 3.2-3.2-3.2zM272.5 603.1l3.2 3.2-3.2 3.2-3.2-3.2zM274.2 607.1l3.2 3.2-3.2 3.2-3.2-3.2zM275.8 605.1l3.2 3.2-3.2 3.2-3.2-3.2zM277.2 606.1l3.2 3.2-3.2 3.2-3.2-3.2zM278.6 608.1l3.2 3.2-3.2 3.2-3.2-3.2zM280.2 608.1l3.2 3.2-3.2 3.2-3.2-3.2zM281.8 606.1l3.2 3.2-3.2 3.2-3.2-3.2zM283.2 604.1l3.2 3.2-3.2 3.2-3.2-3.2zM285.9 599.0l3.2 3.2-3.2 3.2-3.2-3.2zM287.3 603.1l3.2 3.2-3.2 3.2-3.2-3.2zM289.3 603.7l3.2 3.2-3.2 3.2-3.2-3.2zM290.7 601.0l3.2 3.2-3.2 3.2-3.2-3.2zM291.9 592.4l3.2 3.2-3.2 3.2-3.2-3.2zM318.9 605.1l3.2 3.2-3.2 3.2-3.2-3.2zM320.5 604.1l3.2 3.2-3.2 3.2-3.2-3.2zM322.2 610.1l3.2 3.2-3.2 3.2-3.2-3.2zM324.2 612.1l3.2 3.2-3.2 3.2-3.2-3.2zM326.6 616.2l3.2 3.2-3.2 3.2-3.2-3.2zM327.6 618.2l3.2 3.2-3.2 3.2-3.2-3.2zM325.6 625.9l3.2 3.2-3.2 3.2-3.2-3.2zM329.0 622.2l3.2 3.2-3.2 3.2-3.2-3.2zM331.6 618.2l3.2 3.2-3.2 3.2-3.2-3.2zM333.0 607.7l3.2 3.2-3.2 3.2-3.2-3.2zM334.7 601.7l3.2 3.2-3.2 3.2-3.2-3.2zM336.7 593.6l3.2 3.2-3.2 3.2-3.2-3.2zM338.7 598.0l3.2 3.2-3.2 3.2-3.2-3.2zM340.3 605.1l3.2 3.2-3.2 3.2-3.2-3.2zM341.7 595.6l3.2 3.2-3.2 3.2-3.2-3.2zM343.7 592.4l3.2 3.2-3.2 3.2-3.2-3.2zM345.8 597.0l3.2 3.2-3.2 3.2-3.2-3.2zM347.2 605.7l3.2 3.2-3.2 3.2-3.2-3.2zM349.2 617.8l3.2 3.2-3.2 3.2-3.2-3.2zM351.2 622.6l3.2 3.2-3.2 3.2-3.2-3.2zM352.8 619.2l3.2 3.2-3.2 3.2-3.2-3.2zM354.4 614.2l3.2 3.2-3.2 3.2-3.2-3.2zM356.2 615.2l3.2 3.2-3.2 3.2-3.2-3.2zM359.9 609.1l3.2 3.2-3.2 3.2-3.2-3.2zM361.9 613.1l3.2 3.2-3.2 3.2-3.2-3.2zM363.9 618.2l3.2 3.2-3.2 3.2-3.2-3.2z"/><path class="tk" d="M373.80 578.10v3.0M373.80 646.10v-3.0M376.75 578.10v1.5M376.75 646.10v-1.5M379.70 578.10v1.5M379.70 646.10v-1.5M382.65 578.10v1.5M382.65 646.10v-1.5M385.60 578.10v1.5M385.60 646.10v-1.5M388.55 578.10v1.5M388.55 646.10v-1.5M391.50 578.10v1.5M391.50 646.10v-1.5M394.45 578.10v1.5M394.45 646.10v-1.5M397.40 578.10v1.5M397.40 646.10v-1.5M400.35 578.10v1.5M400.35 646.10v-1.5M403.30 578.10v3.0M403.30 646.10v-3.0M406.25 578.10v1.5M406.25 646.10v-1.5M409.20 578.10v1.5M409.20 646.10v-1.5M412.15 578.10v1.5M412.15 646.10v-1.5M415.10 578.10v1.5M415.10 646.10v-1.5M418.05 578.10v1.5M418.05 646.10v-1.5M421.00 578.10v1.5M421.00 646.10v-1.5M423.95 578.10v1.5M423.95 646.10v-1.5M426.90 578.10v1.5M426.90 646.10v-1.5M429.85 578.10v1.5M429.85 646.10v-1.5M432.80 578.10v3.0M432.80 646.10v-3.0M435.75 578.10v1.5M435.75 646.10v-1.5M438.70 578.10v1.5M438.70 646.10v-1.5M441.65 578.10v1.5M441.65 646.10v-1.5M444.60 578.10v1.5M444.60 646.10v-1.5M447.55 578.10v1.5M447.55 646.10v-1.5M450.50 578.10v1.5M450.50 646.10v-1.5M453.45 578.10v1.5M453.45 646.10v-1.5M456.40 578.10v1.5M456.40 646.10v-1.5M459.35 578.10v1.5M459.35 646.10v-1.5M462.30 578.10v3.0M462.30 646.10v-3.0M465.25 578.10v1.5M465.25 646.10v-1.5M468.20 578.10v1.5M468.20 646.10v-1.5M471.15 578.10v1.5M471.15 646.10v-1.5M474.10 578.10v1.5M474.10 646.10v-1.5M477.05 578.10v1.5M477.05 646.10v-1.5M480.00 578.10v1.5M480.00 646.10v-1.5M373.80 646.10h3.0M481.20 646.10h-3.0M373.80 642.70h1.5M481.20 642.70h-1.5M373.80 639.30h1.5M481.20 639.30h-1.5M373.80 635.90h1.5M481.20 635.90h-1.5M373.80 632.50h1.5M481.20 632.50h-1.5M373.80 629.10h3.0M481.20 629.10h-3.0M373.80 625.70h1.5M481.20 625.70h-1.5M373.80 622.30h1.5M481.20 622.30h-1.5M373.80 618.90h1.5M481.20 618.90h-1.5M373.80 615.50h1.5M481.20 615.50h-1.5M373.80 612.10h3.0M481.20 612.10h-3.0M373.80 608.70h1.5M481.20 608.70h-1.5M373.80 605.30h1.5M481.20 605.30h-1.5M373.80 601.90h1.5M481.20 601.90h-1.5M373.80 598.50h1.5M481.20 598.50h-1.5M373.80 595.10h3.0M481.20 595.10h-3.0M373.80 591.70h1.5M481.20 591.70h-1.5M373.80 588.30h1.5M481.20 588.30h-1.5M373.80 584.90h1.5M481.20 584.90h-1.5M373.80 581.50h1.5M481.20 581.50h-1.5M373.80 578.10h3.0M481.20 578.10h-3.0"/><rect class="box" x="373.80" y="578.10" width="107.4" height="68"/><line class="zl" x1="373.80" y1="612.10" x2="481.20" y2="612.10"/><path class="dm" d="M376.5 612.1l3.2 3.2-3.2 3.2-3.2-3.2zM378.1 607.7l3.2 3.2-3.2 3.2-3.2-3.2zM383.1 613.1l3.2 3.2-3.2 3.2-3.2-3.2zM385.1 612.1l3.2 3.2-3.2 3.2-3.2-3.2zM387.2 611.1l3.2 3.2-3.2 3.2-3.2-3.2zM388.6 604.5l3.2 3.2-3.2 3.2-3.2-3.2zM391.2 613.1l3.2 3.2-3.2 3.2-3.2-3.2zM392.6 602.1l3.2 3.2-3.2 3.2-3.2-3.2zM394.2 601.0l3.2 3.2-3.2 3.2-3.2-3.2zM395.8 599.0l3.2 3.2-3.2 3.2-3.2-3.2zM397.9 591.0l3.2 3.2-3.2 3.2-3.2-3.2zM399.9 598.4l3.2 3.2-3.2 3.2-3.2-3.2zM401.3 605.7l3.2 3.2-3.2 3.2-3.2-3.2zM431.5 614.2l3.2 3.2-3.2 3.2-3.2-3.2zM432.9 608.5l3.2 3.2-3.2 3.2-3.2-3.2zM435.6 601.7l3.2 3.2-3.2 3.2-3.2-3.2zM437.0 599.0l3.2 3.2-3.2 3.2-3.2-3.2zM438.6 611.1l3.2 3.2-3.2 3.2-3.2-3.2zM440.2 620.2l3.2 3.2-3.2 3.2-3.2-3.2zM441.6 619.8l3.2 3.2-3.2 3.2-3.2-3.2zM443.0 617.2l3.2 3.2-3.2 3.2-3.2-3.2zM444.2 622.2l3.2 3.2-3.2 3.2-3.2-3.2zM445.7 614.2l3.2 3.2-3.2 3.2-3.2-3.2zM447.7 603.7l3.2 3.2-3.2 3.2-3.2-3.2zM449.5 591.0l3.2 3.2-3.2 3.2-3.2-3.2zM451.1 599.6l3.2 3.2-3.2 3.2-3.2-3.2zM452.7 603.7l3.2 3.2-3.2 3.2-3.2-3.2zM454.3 602.1l3.2 3.2-3.2 3.2-3.2-3.2zM455.7 597.6l3.2 3.2-3.2 3.2-3.2-3.2zM457.1 597.0l3.2 3.2-3.2 3.2-3.2-3.2zM458.8 598.0l3.2 3.2-3.2 3.2-3.2-3.2zM460.4 608.5l3.2 3.2-3.2 3.2-3.2-3.2zM461.2 624.6l3.2 3.2-3.2 3.2-3.2-3.2zM462.8 626.7l3.2 3.2-3.2 3.2-3.2-3.2zM464.4 627.3l3.2 3.2-3.2 3.2-3.2-3.2zM465.8 629.3l3.2 3.2-3.2 3.2-3.2-3.2z"/><path class="tk" d="M486.70 578.10v3.0M486.70 646.10v-3.0M489.65 578.10v1.5M489.65 646.10v-1.5M492.60 578.10v1.5M492.60 646.10v-1.5M495.55 578.10v1.5M495.55 646.10v-1.5M498.50 578.10v1.5M498.50 646.10v-1.5M501.45 578.10v1.5M501.45 646.10v-1.5M504.40 578.10v1.5M504.40 646.10v-1.5M507.35 578.10v1.5M507.35 646.10v-1.5M510.30 578.10v1.5M510.30 646.10v-1.5M513.25 578.10v1.5M513.25 646.10v-1.5M516.20 578.10v3.0M516.20 646.10v-3.0M519.15 578.10v1.5M519.15 646.10v-1.5M522.10 578.10v1.5M522.10 646.10v-1.5M525.05 578.10v1.5M525.05 646.10v-1.5M528.00 578.10v1.5M528.00 646.10v-1.5M530.95 578.10v1.5M530.95 646.10v-1.5M533.90 578.10v1.5M533.90 646.10v-1.5M536.85 578.10v1.5M536.85 646.10v-1.5M539.80 578.10v1.5M539.80 646.10v-1.5M542.75 578.10v1.5M542.75 646.10v-1.5M545.70 578.10v3.0M545.70 646.10v-3.0M548.65 578.10v1.5M548.65 646.10v-1.5M551.60 578.10v1.5M551.60 646.10v-1.5M554.55 578.10v1.5M554.55 646.10v-1.5M557.50 578.10v1.5M557.50 646.10v-1.5M560.45 578.10v1.5M560.45 646.10v-1.5M563.40 578.10v1.5M563.40 646.10v-1.5M566.35 578.10v1.5M566.35 646.10v-1.5M569.30 578.10v1.5M569.30 646.10v-1.5M572.25 578.10v1.5M572.25 646.10v-1.5M575.20 578.10v3.0M575.20 646.10v-3.0M578.15 578.10v1.5M578.15 646.10v-1.5M581.10 578.10v1.5M581.10 646.10v-1.5M584.05 578.10v1.5M584.05 646.10v-1.5M587.00 578.10v1.5M587.00 646.10v-1.5M589.95 578.10v1.5M589.95 646.10v-1.5M592.90 578.10v1.5M592.90 646.10v-1.5M486.70 646.10h3.0M594.10 646.10h-3.0M486.70 642.70h1.5M594.10 642.70h-1.5M486.70 639.30h1.5M594.10 639.30h-1.5M486.70 635.90h1.5M594.10 635.90h-1.5M486.70 632.50h1.5M594.10 632.50h-1.5M486.70 629.10h3.0M594.10 629.10h-3.0M486.70 625.70h1.5M594.10 625.70h-1.5M486.70 622.30h1.5M594.10 622.30h-1.5M486.70 618.90h1.5M594.10 618.90h-1.5M486.70 615.50h1.5M594.10 615.50h-1.5M486.70 612.10h3.0M594.10 612.10h-3.0M486.70 608.70h1.5M594.10 608.70h-1.5M486.70 605.30h1.5M594.10 605.30h-1.5M486.70 601.90h1.5M594.10 601.90h-1.5M486.70 598.50h1.5M594.10 598.50h-1.5M486.70 595.10h3.0M594.10 595.10h-3.0M486.70 591.70h1.5M594.10 591.70h-1.5M486.70 588.30h1.5M594.10 588.30h-1.5M486.70 584.90h1.5M594.10 584.90h-1.5M486.70 581.50h1.5M594.10 581.50h-1.5M486.70 578.10h3.0M594.10 578.10h-3.0"/><rect class="box" x="486.70" y="578.10" width="107.4" height="68"/><line class="zl" x1="486.70" y1="612.10" x2="594.10" y2="612.10"/><path class="dm" d="M488.6 607.5l3.2 3.2-3.2 3.2-3.2-3.2zM490.5 609.4l3.2 3.2-3.2 3.2-3.2-3.2zM498.1 606.4l3.2 3.2-3.2 3.2-3.2-3.2zM500.0 603.1l3.2 3.2-3.2 3.2-3.2-3.2zM501.9 611.7l3.2 3.2-3.2 3.2-3.2-3.2zM503.3 612.1l3.2 3.2-3.2 3.2-3.2-3.2zM504.4 611.3l3.2 3.2-3.2 3.2-3.2-3.2zM512.8 600.3l3.2 3.2-3.2 3.2-3.2-3.2zM546.2 618.9l3.2 3.2-3.2 3.2-3.2-3.2zM548.1 614.0l3.2 3.2-3.2 3.2-3.2-3.2zM550.0 620.2l3.2 3.2-3.2 3.2-3.2-3.2zM551.3 603.1l3.2 3.2-3.2 3.2-3.2-3.2zM553.2 598.0l3.2 3.2-3.2 3.2-3.2-3.2zM555.1 606.0l3.2 3.2-3.2 3.2-3.2-3.2zM557.0 603.1l3.2 3.2-3.2 3.2-3.2-3.2zM558.9 617.4l3.2 3.2-3.2 3.2-3.2-3.2zM560.8 606.9l3.2 3.2-3.2 3.2-3.2-3.2zM562.7 604.1l3.2 3.2-3.2 3.2-3.2-3.2zM564.1 598.4l3.2 3.2-3.2 3.2-3.2-3.2zM566.0 611.7l3.2 3.2-3.2 3.2-3.2-3.2zM567.5 615.9l3.2 3.2-3.2 3.2-3.2-3.2zM569.4 605.6l3.2 3.2-3.2 3.2-3.2-3.2zM570.9 608.3l3.2 3.2-3.2 3.2-3.2-3.2zM573.5 612.6l3.2 3.2-3.2 3.2-3.2-3.2z"/><path class="tk" d="M35.10 657.70v3.0M35.10 725.70v-3.0M38.05 657.70v1.5M38.05 725.70v-1.5M41.00 657.70v1.5M41.00 725.70v-1.5M43.95 657.70v1.5M43.95 725.70v-1.5M46.90 657.70v1.5M46.90 725.70v-1.5M49.85 657.70v1.5M49.85 725.70v-1.5M52.80 657.70v1.5M52.80 725.70v-1.5M55.75 657.70v1.5M55.75 725.70v-1.5M58.70 657.70v1.5M58.70 725.70v-1.5M61.65 657.70v1.5M61.65 725.70v-1.5M64.60 657.70v3.0M64.60 725.70v-3.0M67.55 657.70v1.5M67.55 725.70v-1.5M70.50 657.70v1.5M70.50 725.70v-1.5M73.45 657.70v1.5M73.45 725.70v-1.5M76.40 657.70v1.5M76.40 725.70v-1.5M79.35 657.70v1.5M79.35 725.70v-1.5M82.30 657.70v1.5M82.30 725.70v-1.5M85.25 657.70v1.5M85.25 725.70v-1.5M88.20 657.70v1.5M88.20 725.70v-1.5M91.15 657.70v1.5M91.15 725.70v-1.5M94.10 657.70v3.0M94.10 725.70v-3.0M97.05 657.70v1.5M97.05 725.70v-1.5M100.00 657.70v1.5M100.00 725.70v-1.5M102.95 657.70v1.5M102.95 725.70v-1.5M105.90 657.70v1.5M105.90 725.70v-1.5M108.85 657.70v1.5M108.85 725.70v-1.5M111.80 657.70v1.5M111.80 725.70v-1.5M114.75 657.70v1.5M114.75 725.70v-1.5M117.70 657.70v1.5M117.70 725.70v-1.5M120.65 657.70v1.5M120.65 725.70v-1.5M123.60 657.70v3.0M123.60 725.70v-3.0M126.55 657.70v1.5M126.55 725.70v-1.5M129.50 657.70v1.5M129.50 725.70v-1.5M132.45 657.70v1.5M132.45 725.70v-1.5M135.40 657.70v1.5M135.40 725.70v-1.5M138.35 657.70v1.5M138.35 725.70v-1.5M141.30 657.70v1.5M141.30 725.70v-1.5M35.10 725.70h3.0M142.50 725.70h-3.0M35.10 722.30h1.5M142.50 722.30h-1.5M35.10 718.90h1.5M142.50 718.90h-1.5M35.10 715.50h1.5M142.50 715.50h-1.5M35.10 712.10h1.5M142.50 712.10h-1.5M35.10 708.70h3.0M142.50 708.70h-3.0M35.10 705.30h1.5M142.50 705.30h-1.5M35.10 701.90h1.5M142.50 701.90h-1.5M35.10 698.50h1.5M142.50 698.50h-1.5M35.10 695.10h1.5M142.50 695.10h-1.5M35.10 691.70h3.0M142.50 691.70h-3.0M35.10 688.30h1.5M142.50 688.30h-1.5M35.10 684.90h1.5M142.50 684.90h-1.5M35.10 681.50h1.5M142.50 681.50h-1.5M35.10 678.10h1.5M142.50 678.10h-1.5M35.10 674.70h3.0M142.50 674.70h-3.0M35.10 671.30h1.5M142.50 671.30h-1.5M35.10 667.90h1.5M142.50 667.90h-1.5M35.10 664.50h1.5M142.50 664.50h-1.5M35.10 661.10h1.5M142.50 661.10h-1.5M35.10 657.70h3.0M142.50 657.70h-3.0"/><rect class="box" x="35.10" y="657.70" width="107.4" height="68"/><line class="zl" x1="35.10" y1="691.70" x2="142.50" y2="691.70"/><path class="dm" d="M36.5 681.0l3.2 3.2-3.2 3.2-3.2-3.2zM38.1 679.0l3.2 3.2-3.2 3.2-3.2-3.2zM44.5 697.2l3.2 3.2-3.2 3.2-3.2-3.2zM51.8 695.2l3.2 3.2-3.2 3.2-3.2-3.2zM58.6 691.1l3.2 3.2-3.2 3.2-3.2-3.2zM60.3 690.1l3.2 3.2-3.2 3.2-3.2-3.2zM62.3 682.1l3.2 3.2-3.2 3.2-3.2-3.2zM63.3 686.5l3.2 3.2-3.2 3.2-3.2-3.2zM65.9 687.7l3.2 3.2-3.2 3.2-3.2-3.2zM122.4 686.1l3.2 3.2-3.2 3.2-3.2-3.2zM124.0 685.7l3.2 3.2-3.2 3.2-3.2-3.2zM125.8 686.5l3.2 3.2-3.2 3.2-3.2-3.2zM127.8 687.1l3.2 3.2-3.2 3.2-3.2-3.2zM129.2 688.1l3.2 3.2-3.2 3.2-3.2-3.2zM130.8 693.1l3.2 3.2-3.2 3.2-3.2-3.2zM132.9 691.1l3.2 3.2-3.2 3.2-3.2-3.2zM135.9 694.2l3.2 3.2-3.2 3.2-3.2-3.2zM137.9 688.1l3.2 3.2-3.2 3.2-3.2-3.2zM139.9 685.7l3.2 3.2-3.2 3.2-3.2-3.2z"/><path class="tk" d="M148.00 657.70v3.0M148.00 725.70v-3.0M150.95 657.70v1.5M150.95 725.70v-1.5M153.90 657.70v1.5M153.90 725.70v-1.5M156.85 657.70v1.5M156.85 725.70v-1.5M159.80 657.70v1.5M159.80 725.70v-1.5M162.75 657.70v1.5M162.75 725.70v-1.5M165.70 657.70v1.5M165.70 725.70v-1.5M168.65 657.70v1.5M168.65 725.70v-1.5M171.60 657.70v1.5M171.60 725.70v-1.5M174.55 657.70v1.5M174.55 725.70v-1.5M177.50 657.70v3.0M177.50 725.70v-3.0M180.45 657.70v1.5M180.45 725.70v-1.5M183.40 657.70v1.5M183.40 725.70v-1.5M186.35 657.70v1.5M186.35 725.70v-1.5M189.30 657.70v1.5M189.30 725.70v-1.5M192.25 657.70v1.5M192.25 725.70v-1.5M195.20 657.70v1.5M195.20 725.70v-1.5M198.15 657.70v1.5M198.15 725.70v-1.5M201.10 657.70v1.5M201.10 725.70v-1.5M204.05 657.70v1.5M204.05 725.70v-1.5M207.00 657.70v3.0M207.00 725.70v-3.0M209.95 657.70v1.5M209.95 725.70v-1.5M212.90 657.70v1.5M212.90 725.70v-1.5M215.85 657.70v1.5M215.85 725.70v-1.5M218.80 657.70v1.5M218.80 725.70v-1.5M221.75 657.70v1.5M221.75 725.70v-1.5M224.70 657.70v1.5M224.70 725.70v-1.5M227.65 657.70v1.5M227.65 725.70v-1.5M230.60 657.70v1.5M230.60 725.70v-1.5M233.55 657.70v1.5M233.55 725.70v-1.5M236.50 657.70v3.0M236.50 725.70v-3.0M239.45 657.70v1.5M239.45 725.70v-1.5M242.40 657.70v1.5M242.40 725.70v-1.5M245.35 657.70v1.5M245.35 725.70v-1.5M248.30 657.70v1.5M248.30 725.70v-1.5M251.25 657.70v1.5M251.25 725.70v-1.5M254.20 657.70v1.5M254.20 725.70v-1.5M148.00 725.70h3.0M255.40 725.70h-3.0M148.00 722.30h1.5M255.40 722.30h-1.5M148.00 718.90h1.5M255.40 718.90h-1.5M148.00 715.50h1.5M255.40 715.50h-1.5M148.00 712.10h1.5M255.40 712.10h-1.5M148.00 708.70h3.0M255.40 708.70h-3.0M148.00 705.30h1.5M255.40 705.30h-1.5M148.00 701.90h1.5M255.40 701.90h-1.5M148.00 698.50h1.5M255.40 698.50h-1.5M148.00 695.10h1.5M255.40 695.10h-1.5M148.00 691.70h3.0M255.40 691.70h-3.0M148.00 688.30h1.5M255.40 688.30h-1.5M148.00 684.90h1.5M255.40 684.90h-1.5M148.00 681.50h1.5M255.40 681.50h-1.5M148.00 678.10h1.5M255.40 678.10h-1.5M148.00 674.70h3.0M255.40 674.70h-3.0M148.00 671.30h1.5M255.40 671.30h-1.5M148.00 667.90h1.5M255.40 667.90h-1.5M148.00 664.50h1.5M255.40 664.50h-1.5M148.00 661.10h1.5M255.40 661.10h-1.5M148.00 657.70h3.0M255.40 657.70h-3.0"/><rect class="box" x="148.00" y="657.70" width="107.4" height="68"/><line class="zl" x1="148.00" y1="691.70" x2="255.40" y2="691.70"/><path class="dm" d="M150.7 674.4l3.2 3.2-3.2 3.2-3.2-3.2zM149.5 687.1l3.2 3.2-3.2 3.2-3.2-3.2zM152.1 689.7l3.2 3.2-3.2 3.2-3.2-3.2zM154.1 701.8l3.2 3.2-3.2 3.2-3.2-3.2zM156.1 706.7l3.2 3.2-3.2 3.2-3.2-3.2zM157.1 696.2l3.2 3.2-3.2 3.2-3.2-3.2zM159.1 698.2l3.2 3.2-3.2 3.2-3.2-3.2zM161.2 705.9l3.2 3.2-3.2 3.2-3.2-3.2zM163.2 699.2l3.2 3.2-3.2 3.2-3.2-3.2zM164.8 689.7l3.2 3.2-3.2 3.2-3.2-3.2zM168.2 693.8l3.2 3.2-3.2 3.2-3.2-3.2zM170.2 689.1l3.2 3.2-3.2 3.2-3.2-3.2zM172.2 691.1l3.2 3.2-3.2 3.2-3.2-3.2zM173.3 679.0l3.2 3.2-3.2 3.2-3.2-3.2zM175.3 678.0l3.2 3.2-3.2 3.2-3.2-3.2zM177.7 677.0l3.2 3.2-3.2 3.2-3.2-3.2zM179.3 666.3l3.2 3.2-3.2 3.2-3.2-3.2zM180.9 681.7l3.2 3.2-3.2 3.2-3.2-3.2zM182.9 680.0l3.2 3.2-3.2 3.2-3.2-3.2zM185.0 679.0l3.2 3.2-3.2 3.2-3.2-3.2zM205.9 693.1l3.2 3.2-3.2 3.2-3.2-3.2zM207.5 698.2l3.2 3.2-3.2 3.2-3.2-3.2zM209.6 708.3l3.2 3.2-3.2 3.2-3.2-3.2zM211.2 704.6l3.2 3.2-3.2 3.2-3.2-3.2zM213.2 701.2l3.2 3.2-3.2 3.2-3.2-3.2zM214.6 708.7l3.2 3.2-3.2 3.2-3.2-3.2zM216.0 693.1l3.2 3.2-3.2 3.2-3.2-3.2zM218.0 691.1l3.2 3.2-3.2 3.2-3.2-3.2zM220.0 696.6l3.2 3.2-3.2 3.2-3.2-3.2zM221.7 680.0l3.2 3.2-3.2 3.2-3.2-3.2zM223.7 676.4l3.2 3.2-3.2 3.2-3.2-3.2zM225.7 682.1l3.2 3.2-3.2 3.2-3.2-3.2zM227.7 682.5l3.2 3.2-3.2 3.2-3.2-3.2zM228.7 674.4l3.2 3.2-3.2 3.2-3.2-3.2zM230.7 672.4l3.2 3.2-3.2 3.2-3.2-3.2zM232.1 675.6l3.2 3.2-3.2 3.2-3.2-3.2zM233.8 677.6l3.2 3.2-3.2 3.2-3.2-3.2zM234.8 677.0l3.2 3.2-3.2 3.2-3.2-3.2zM236.2 693.1l3.2 3.2-3.2 3.2-3.2-3.2zM237.8 697.2l3.2 3.2-3.2 3.2-3.2-3.2zM239.4 691.7l3.2 3.2-3.2 3.2-3.2-3.2zM241.4 690.1l3.2 3.2-3.2 3.2-3.2-3.2zM243.4 698.6l3.2 3.2-3.2 3.2-3.2-3.2zM244.9 683.7l3.2 3.2-3.2 3.2-3.2-3.2zM246.9 677.6l3.2 3.2-3.2 3.2-3.2-3.2zM248.9 682.1l3.2 3.2-3.2 3.2-3.2-3.2zM250.9 685.1l3.2 3.2-3.2 3.2-3.2-3.2zM252.9 679.0l3.2 3.2-3.2 3.2-3.2-3.2zM253.5 691.1l3.2 3.2-3.2 3.2-3.2-3.2z"/><path class="tk" d="M260.90 657.70v3.0M260.90 725.70v-3.0M263.85 657.70v1.5M263.85 725.70v-1.5M266.80 657.70v1.5M266.80 725.70v-1.5M269.75 657.70v1.5M269.75 725.70v-1.5M272.70 657.70v1.5M272.70 725.70v-1.5M275.65 657.70v1.5M275.65 725.70v-1.5M278.60 657.70v1.5M278.60 725.70v-1.5M281.55 657.70v1.5M281.55 725.70v-1.5M284.50 657.70v1.5M284.50 725.70v-1.5M287.45 657.70v1.5M287.45 725.70v-1.5M290.40 657.70v3.0M290.40 725.70v-3.0M293.35 657.70v1.5M293.35 725.70v-1.5M296.30 657.70v1.5M296.30 725.70v-1.5M299.25 657.70v1.5M299.25 725.70v-1.5M302.20 657.70v1.5M302.20 725.70v-1.5M305.15 657.70v1.5M305.15 725.70v-1.5M308.10 657.70v1.5M308.10 725.70v-1.5M311.05 657.70v1.5M311.05 725.70v-1.5M314.00 657.70v1.5M314.00 725.70v-1.5M316.95 657.70v1.5M316.95 725.70v-1.5M319.90 657.70v3.0M319.90 725.70v-3.0M322.85 657.70v1.5M322.85 725.70v-1.5M325.80 657.70v1.5M325.80 725.70v-1.5M328.75 657.70v1.5M328.75 725.70v-1.5M331.70 657.70v1.5M331.70 725.70v-1.5M334.65 657.70v1.5M334.65 725.70v-1.5M337.60 657.70v1.5M337.60 725.70v-1.5M340.55 657.70v1.5M340.55 725.70v-1.5M343.50 657.70v1.5M343.50 725.70v-1.5M346.45 657.70v1.5M346.45 725.70v-1.5M349.40 657.70v3.0M349.40 725.70v-3.0M352.35 657.70v1.5M352.35 725.70v-1.5M355.30 657.70v1.5M355.30 725.70v-1.5M358.25 657.70v1.5M358.25 725.70v-1.5M361.20 657.70v1.5M361.20 725.70v-1.5M364.15 657.70v1.5M364.15 725.70v-1.5M367.10 657.70v1.5M367.10 725.70v-1.5M260.90 725.70h3.0M368.30 725.70h-3.0M260.90 722.30h1.5M368.30 722.30h-1.5M260.90 718.90h1.5M368.30 718.90h-1.5M260.90 715.50h1.5M368.30 715.50h-1.5M260.90 712.10h1.5M368.30 712.10h-1.5M260.90 708.70h3.0M368.30 708.70h-3.0M260.90 705.30h1.5M368.30 705.30h-1.5M260.90 701.90h1.5M368.30 701.90h-1.5M260.90 698.50h1.5M368.30 698.50h-1.5M260.90 695.10h1.5M368.30 695.10h-1.5M260.90 691.70h3.0M368.30 691.70h-3.0M260.90 688.30h1.5M368.30 688.30h-1.5M260.90 684.90h1.5M368.30 684.90h-1.5M260.90 681.50h1.5M368.30 681.50h-1.5M260.90 678.10h1.5M368.30 678.10h-1.5M260.90 674.70h3.0M368.30 674.70h-3.0M260.90 671.30h1.5M368.30 671.30h-1.5M260.90 667.90h1.5M368.30 667.90h-1.5M260.90 664.50h1.5M368.30 664.50h-1.5M260.90 661.10h1.5M368.30 661.10h-1.5M260.90 657.70h3.0M368.30 657.70h-3.0"/><rect class="box" x="260.90" y="657.70" width="107.4" height="68"/><line class="zl" x1="260.90" y1="691.70" x2="368.30" y2="691.70"/><path class="dm" d="M263.1 673.0l3.2 3.2-3.2 3.2-3.2-3.2zM265.1 676.4l3.2 3.2-3.2 3.2-3.2-3.2zM261.6 688.1l3.2 3.2-3.2 3.2-3.2-3.2zM267.1 684.5l3.2 3.2-3.2 3.2-3.2-3.2zM269.1 687.7l3.2 3.2-3.2 3.2-3.2-3.2zM270.5 693.8l3.2 3.2-3.2 3.2-3.2-3.2zM272.5 685.7l3.2 3.2-3.2 3.2-3.2-3.2zM274.6 694.2l3.2 3.2-3.2 3.2-3.2-3.2zM276.2 691.1l3.2 3.2-3.2 3.2-3.2-3.2zM277.8 688.1l3.2 3.2-3.2 3.2-3.2-3.2zM279.8 694.2l3.2 3.2-3.2 3.2-3.2-3.2zM281.2 691.7l3.2 3.2-3.2 3.2-3.2-3.2zM282.6 689.7l3.2 3.2-3.2 3.2-3.2-3.2zM285.2 691.1l3.2 3.2-3.2 3.2-3.2-3.2zM286.3 685.1l3.2 3.2-3.2 3.2-3.2-3.2zM288.3 681.7l3.2 3.2-3.2 3.2-3.2-3.2zM289.9 683.1l3.2 3.2-3.2 3.2-3.2-3.2zM295.3 677.0l3.2 3.2-3.2 3.2-3.2-3.2zM297.3 675.6l3.2 3.2-3.2 3.2-3.2-3.2zM318.9 672.4l3.2 3.2-3.2 3.2-3.2-3.2zM320.5 689.1l3.2 3.2-3.2 3.2-3.2-3.2zM322.2 693.8l3.2 3.2-3.2 3.2-3.2-3.2zM325.6 694.6l3.2 3.2-3.2 3.2-3.2-3.2zM326.6 696.2l3.2 3.2-3.2 3.2-3.2-3.2zM328.2 694.2l3.2 3.2-3.2 3.2-3.2-3.2zM329.6 701.8l3.2 3.2-3.2 3.2-3.2-3.2zM324.2 707.9l3.2 3.2-3.2 3.2-3.2-3.2zM331.6 690.5l3.2 3.2-3.2 3.2-3.2-3.2zM333.0 676.0l3.2 3.2-3.2 3.2-3.2-3.2zM334.7 674.0l3.2 3.2-3.2 3.2-3.2-3.2zM336.7 682.5l3.2 3.2-3.2 3.2-3.2-3.2zM338.7 693.1l3.2 3.2-3.2 3.2-3.2-3.2zM340.3 689.7l3.2 3.2-3.2 3.2-3.2-3.2zM342.3 685.1l3.2 3.2-3.2 3.2-3.2-3.2zM343.7 677.6l3.2 3.2-3.2 3.2-3.2-3.2zM345.8 679.0l3.2 3.2-3.2 3.2-3.2-3.2zM347.8 686.5l3.2 3.2-3.2 3.2-3.2-3.2zM349.2 699.8l3.2 3.2-3.2 3.2-3.2-3.2zM351.2 710.3l3.2 3.2-3.2 3.2-3.2-3.2zM352.4 703.2l3.2 3.2-3.2 3.2-3.2-3.2zM354.4 699.8l3.2 3.2-3.2 3.2-3.2-3.2zM356.4 694.2l3.2 3.2-3.2 3.2-3.2-3.2zM359.9 687.7l3.2 3.2-3.2 3.2-3.2-3.2zM361.9 687.1l3.2 3.2-3.2 3.2-3.2-3.2zM365.9 693.8l3.2 3.2-3.2 3.2-3.2-3.2z"/><path class="tk" d="M373.80 657.70v3.0M373.80 725.70v-3.0M376.75 657.70v1.5M376.75 725.70v-1.5M379.70 657.70v1.5M379.70 725.70v-1.5M382.65 657.70v1.5M382.65 725.70v-1.5M385.60 657.70v1.5M385.60 725.70v-1.5M388.55 657.70v1.5M388.55 725.70v-1.5M391.50 657.70v1.5M391.50 725.70v-1.5M394.45 657.70v1.5M394.45 725.70v-1.5M397.40 657.70v1.5M397.40 725.70v-1.5M400.35 657.70v1.5M400.35 725.70v-1.5M403.30 657.70v3.0M403.30 725.70v-3.0M406.25 657.70v1.5M406.25 725.70v-1.5M409.20 657.70v1.5M409.20 725.70v-1.5M412.15 657.70v1.5M412.15 725.70v-1.5M415.10 657.70v1.5M415.10 725.70v-1.5M418.05 657.70v1.5M418.05 725.70v-1.5M421.00 657.70v1.5M421.00 725.70v-1.5M423.95 657.70v1.5M423.95 725.70v-1.5M426.90 657.70v1.5M426.90 725.70v-1.5M429.85 657.70v1.5M429.85 725.70v-1.5M432.80 657.70v3.0M432.80 725.70v-3.0M435.75 657.70v1.5M435.75 725.70v-1.5M438.70 657.70v1.5M438.70 725.70v-1.5M441.65 657.70v1.5M441.65 725.70v-1.5M444.60 657.70v1.5M444.60 725.70v-1.5M447.55 657.70v1.5M447.55 725.70v-1.5M450.50 657.70v1.5M450.50 725.70v-1.5M453.45 657.70v1.5M453.45 725.70v-1.5M456.40 657.70v1.5M456.40 725.70v-1.5M459.35 657.70v1.5M459.35 725.70v-1.5M462.30 657.70v3.0M462.30 725.70v-3.0M465.25 657.70v1.5M465.25 725.70v-1.5M468.20 657.70v1.5M468.20 725.70v-1.5M471.15 657.70v1.5M471.15 725.70v-1.5M474.10 657.70v1.5M474.10 725.70v-1.5M477.05 657.70v1.5M477.05 725.70v-1.5M480.00 657.70v1.5M480.00 725.70v-1.5M373.80 725.70h3.0M481.20 725.70h-3.0M373.80 722.30h1.5M481.20 722.30h-1.5M373.80 718.90h1.5M481.20 718.90h-1.5M373.80 715.50h1.5M481.20 715.50h-1.5M373.80 712.10h1.5M481.20 712.10h-1.5M373.80 708.70h3.0M481.20 708.70h-3.0M373.80 705.30h1.5M481.20 705.30h-1.5M373.80 701.90h1.5M481.20 701.90h-1.5M373.80 698.50h1.5M481.20 698.50h-1.5M373.80 695.10h1.5M481.20 695.10h-1.5M373.80 691.70h3.0M481.20 691.70h-3.0M373.80 688.30h1.5M481.20 688.30h-1.5M373.80 684.90h1.5M481.20 684.90h-1.5M373.80 681.50h1.5M481.20 681.50h-1.5M373.80 678.10h1.5M481.20 678.10h-1.5M373.80 674.70h3.0M481.20 674.70h-3.0M373.80 671.30h1.5M481.20 671.30h-1.5M373.80 667.90h1.5M481.20 667.90h-1.5M373.80 664.50h1.5M481.20 664.50h-1.5M373.80 661.10h1.5M481.20 661.10h-1.5M373.80 657.70h3.0M481.20 657.70h-3.0"/><rect class="box" x="373.80" y="657.70" width="107.4" height="68"/><line class="zl" x1="373.80" y1="691.70" x2="481.20" y2="691.70"/><path class="dm" d="M380.1 682.1l3.2 3.2-3.2 3.2-3.2-3.2zM381.7 675.6l3.2 3.2-3.2 3.2-3.2-3.2zM383.1 686.5l3.2 3.2-3.2 3.2-3.2-3.2zM385.1 690.5l3.2 3.2-3.2 3.2-3.2-3.2zM386.6 689.7l3.2 3.2-3.2 3.2-3.2-3.2zM388.2 688.1l3.2 3.2-3.2 3.2-3.2-3.2zM389.8 689.1l3.2 3.2-3.2 3.2-3.2-3.2zM391.2 692.1l3.2 3.2-3.2 3.2-3.2-3.2zM392.6 705.9l3.2 3.2-3.2 3.2-3.2-3.2zM394.2 697.8l3.2 3.2-3.2 3.2-3.2-3.2zM396.2 695.2l3.2 3.2-3.2 3.2-3.2-3.2zM397.9 684.1l3.2 3.2-3.2 3.2-3.2-3.2zM399.9 679.0l3.2 3.2-3.2 3.2-3.2-3.2zM401.9 683.1l3.2 3.2-3.2 3.2-3.2-3.2zM432.1 677.6l3.2 3.2-3.2 3.2-3.2-3.2zM433.6 679.0l3.2 3.2-3.2 3.2-3.2-3.2zM435.6 673.6l3.2 3.2-3.2 3.2-3.2-3.2zM438.6 703.2l3.2 3.2-3.2 3.2-3.2-3.2zM440.2 696.6l3.2 3.2-3.2 3.2-3.2-3.2zM442.6 701.8l3.2 3.2-3.2 3.2-3.2-3.2zM444.2 691.1l3.2 3.2-3.2 3.2-3.2-3.2zM445.7 685.1l3.2 3.2-3.2 3.2-3.2-3.2zM447.7 683.7l3.2 3.2-3.2 3.2-3.2-3.2zM449.1 687.7l3.2 3.2-3.2 3.2-3.2-3.2zM451.1 694.2l3.2 3.2-3.2 3.2-3.2-3.2zM452.7 690.5l3.2 3.2-3.2 3.2-3.2-3.2zM454.7 686.1l3.2 3.2-3.2 3.2-3.2-3.2zM456.7 680.4l3.2 3.2-3.2 3.2-3.2-3.2zM458.8 686.5l3.2 3.2-3.2 3.2-3.2-3.2zM460.4 696.2l3.2 3.2-3.2 3.2-3.2-3.2zM461.8 706.3l3.2 3.2-3.2 3.2-3.2-3.2zM463.8 693.1l3.2 3.2-3.2 3.2-3.2-3.2zM466.4 696.6l3.2 3.2-3.2 3.2-3.2-3.2z"/><path class="tk" d="M486.70 657.70v3.0M486.70 725.70v-3.0M489.65 657.70v1.5M489.65 725.70v-1.5M492.60 657.70v1.5M492.60 725.70v-1.5M495.55 657.70v1.5M495.55 725.70v-1.5M498.50 657.70v1.5M498.50 725.70v-1.5M501.45 657.70v1.5M501.45 725.70v-1.5M504.40 657.70v1.5M504.40 725.70v-1.5M507.35 657.70v1.5M507.35 725.70v-1.5M510.30 657.70v1.5M510.30 725.70v-1.5M513.25 657.70v1.5M513.25 725.70v-1.5M516.20 657.70v3.0M516.20 725.70v-3.0M519.15 657.70v1.5M519.15 725.70v-1.5M522.10 657.70v1.5M522.10 725.70v-1.5M525.05 657.70v1.5M525.05 725.70v-1.5M528.00 657.70v1.5M528.00 725.70v-1.5M530.95 657.70v1.5M530.95 725.70v-1.5M533.90 657.70v1.5M533.90 725.70v-1.5M536.85 657.70v1.5M536.85 725.70v-1.5M539.80 657.70v1.5M539.80 725.70v-1.5M542.75 657.70v1.5M542.75 725.70v-1.5M545.70 657.70v3.0M545.70 725.70v-3.0M548.65 657.70v1.5M548.65 725.70v-1.5M551.60 657.70v1.5M551.60 725.70v-1.5M554.55 657.70v1.5M554.55 725.70v-1.5M557.50 657.70v1.5M557.50 725.70v-1.5M560.45 657.70v1.5M560.45 725.70v-1.5M563.40 657.70v1.5M563.40 725.70v-1.5M566.35 657.70v1.5M566.35 725.70v-1.5M569.30 657.70v1.5M569.30 725.70v-1.5M572.25 657.70v1.5M572.25 725.70v-1.5M575.20 657.70v3.0M575.20 725.70v-3.0M578.15 657.70v1.5M578.15 725.70v-1.5M581.10 657.70v1.5M581.10 725.70v-1.5M584.05 657.70v1.5M584.05 725.70v-1.5M587.00 657.70v1.5M587.00 725.70v-1.5M589.95 657.70v1.5M589.95 725.70v-1.5M592.90 657.70v1.5M592.90 725.70v-1.5M486.70 725.70h3.0M594.10 725.70h-3.0M486.70 722.30h1.5M594.10 722.30h-1.5M486.70 718.90h1.5M594.10 718.90h-1.5M486.70 715.50h1.5M594.10 715.50h-1.5M486.70 712.10h1.5M594.10 712.10h-1.5M486.70 708.70h3.0M594.10 708.70h-3.0M486.70 705.30h1.5M594.10 705.30h-1.5M486.70 701.90h1.5M594.10 701.90h-1.5M486.70 698.50h1.5M594.10 698.50h-1.5M486.70 695.10h1.5M594.10 695.10h-1.5M486.70 691.70h3.0M594.10 691.70h-3.0M486.70 688.30h1.5M594.10 688.30h-1.5M486.70 684.90h1.5M594.10 684.90h-1.5M486.70 681.50h1.5M594.10 681.50h-1.5M486.70 678.10h1.5M594.10 678.10h-1.5M486.70 674.70h3.0M594.10 674.70h-3.0M486.70 671.30h1.5M594.10 671.30h-1.5M486.70 667.90h1.5M594.10 667.90h-1.5M486.70 664.50h1.5M594.10 664.50h-1.5M486.70 661.10h1.5M594.10 661.10h-1.5M486.70 657.70h3.0M594.10 657.70h-3.0"/><rect class="box" x="486.70" y="657.70" width="107.4" height="68"/><line class="zl" x1="486.70" y1="691.70" x2="594.10" y2="691.70"/><path class="dm" d="M489.2 690.7l3.2 3.2-3.2 3.2-3.2-3.2zM499.5 685.0l3.2 3.2-3.2 3.2-3.2-3.2zM501.0 688.8l3.2 3.2-3.2 3.2-3.2-3.2zM502.5 689.4l3.2 3.2-3.2 3.2-3.2-3.2zM503.8 689.8l3.2 3.2-3.2 3.2-3.2-3.2zM505.2 689.4l3.2 3.2-3.2 3.2-3.2-3.2zM509.0 685.6l3.2 3.2-3.2 3.2-3.2-3.2zM510.5 694.0l3.2 3.2-3.2 3.2-3.2-3.2zM544.7 697.0l3.2 3.2-3.2 3.2-3.2-3.2zM546.2 683.7l3.2 3.2-3.2 3.2-3.2-3.2zM548.1 673.6l3.2 3.2-3.2 3.2-3.2-3.2zM551.9 694.5l3.2 3.2-3.2 3.2-3.2-3.2zM553.2 686.9l3.2 3.2-3.2 3.2-3.2-3.2zM555.7 683.7l3.2 3.2-3.2 3.2-3.2-3.2zM557.0 691.7l3.2 3.2-3.2 3.2-3.2-3.2zM558.9 694.5l3.2 3.2-3.2 3.2-3.2-3.2zM560.3 696.4l3.2 3.2-3.2 3.2-3.2-3.2zM561.8 695.1l3.2 3.2-3.2 3.2-3.2-3.2zM563.3 692.6l3.2 3.2-3.2 3.2-3.2-3.2zM564.6 688.8l3.2 3.2-3.2 3.2-3.2-3.2zM565.6 681.2l3.2 3.2-3.2 3.2-3.2-3.2zM567.5 684.1l3.2 3.2-3.2 3.2-3.2-3.2zM569.4 679.3l3.2 3.2-3.2 3.2-3.2-3.2zM570.9 686.0l3.2 3.2-3.2 3.2-3.2-3.2zM573.2 696.4l3.2 3.2-3.2 3.2-3.2-3.2zM575.1 689.8l3.2 3.2-3.2 3.2-3.2-3.2z"/><path class="tk" d="M35.10 737.70v3.0M35.10 805.70v-3.0M38.05 737.70v1.5M38.05 805.70v-1.5M41.00 737.70v1.5M41.00 805.70v-1.5M43.95 737.70v1.5M43.95 805.70v-1.5M46.90 737.70v1.5M46.90 805.70v-1.5M49.85 737.70v1.5M49.85 805.70v-1.5M52.80 737.70v1.5M52.80 805.70v-1.5M55.75 737.70v1.5M55.75 805.70v-1.5M58.70 737.70v1.5M58.70 805.70v-1.5M61.65 737.70v1.5M61.65 805.70v-1.5M64.60 737.70v3.0M64.60 805.70v-3.0M67.55 737.70v1.5M67.55 805.70v-1.5M70.50 737.70v1.5M70.50 805.70v-1.5M73.45 737.70v1.5M73.45 805.70v-1.5M76.40 737.70v1.5M76.40 805.70v-1.5M79.35 737.70v1.5M79.35 805.70v-1.5M82.30 737.70v1.5M82.30 805.70v-1.5M85.25 737.70v1.5M85.25 805.70v-1.5M88.20 737.70v1.5M88.20 805.70v-1.5M91.15 737.70v1.5M91.15 805.70v-1.5M94.10 737.70v3.0M94.10 805.70v-3.0M97.05 737.70v1.5M97.05 805.70v-1.5M100.00 737.70v1.5M100.00 805.70v-1.5M102.95 737.70v1.5M102.95 805.70v-1.5M105.90 737.70v1.5M105.90 805.70v-1.5M108.85 737.70v1.5M108.85 805.70v-1.5M111.80 737.70v1.5M111.80 805.70v-1.5M114.75 737.70v1.5M114.75 805.70v-1.5M117.70 737.70v1.5M117.70 805.70v-1.5M120.65 737.70v1.5M120.65 805.70v-1.5M123.60 737.70v3.0M123.60 805.70v-3.0M126.55 737.70v1.5M126.55 805.70v-1.5M129.50 737.70v1.5M129.50 805.70v-1.5M132.45 737.70v1.5M132.45 805.70v-1.5M135.40 737.70v1.5M135.40 805.70v-1.5M138.35 737.70v1.5M138.35 805.70v-1.5M141.30 737.70v1.5M141.30 805.70v-1.5M35.10 805.70h3.0M142.50 805.70h-3.0M35.10 802.30h1.5M142.50 802.30h-1.5M35.10 798.90h1.5M142.50 798.90h-1.5M35.10 795.50h1.5M142.50 795.50h-1.5M35.10 792.10h1.5M142.50 792.10h-1.5M35.10 788.70h3.0M142.50 788.70h-3.0M35.10 785.30h1.5M142.50 785.30h-1.5M35.10 781.90h1.5M142.50 781.90h-1.5M35.10 778.50h1.5M142.50 778.50h-1.5M35.10 775.10h1.5M142.50 775.10h-1.5M35.10 771.70h3.0M142.50 771.70h-3.0M35.10 768.30h1.5M142.50 768.30h-1.5M35.10 764.90h1.5M142.50 764.90h-1.5M35.10 761.50h1.5M142.50 761.50h-1.5M35.10 758.10h1.5M142.50 758.10h-1.5M35.10 754.70h3.0M142.50 754.70h-3.0M35.10 751.30h1.5M142.50 751.30h-1.5M35.10 747.90h1.5M142.50 747.90h-1.5M35.10 744.50h1.5M142.50 744.50h-1.5M35.10 741.10h1.5M142.50 741.10h-1.5M35.10 737.70h3.0M142.50 737.70h-3.0"/><rect class="box" x="35.10" y="737.70" width="107.4" height="68"/><line class="zl" x1="35.10" y1="771.70" x2="142.50" y2="771.70"/><path class="dm" d="M37.7 756.4l3.2 3.2-3.2 3.2-3.2-3.2zM39.1 764.1l3.2 3.2-3.2 3.2-3.2-3.2zM40.5 770.5l3.2 3.2-3.2 3.2-3.2-3.2zM36.1 767.1l3.2 3.2-3.2 3.2-3.2-3.2zM44.5 772.1l3.2 3.2-3.2 3.2-3.2-3.2zM53.8 776.6l3.2 3.2-3.2 3.2-3.2-3.2zM55.2 769.1l3.2 3.2-3.2 3.2-3.2-3.2zM60.3 767.1l3.2 3.2-3.2 3.2-3.2-3.2zM62.3 765.1l3.2 3.2-3.2 3.2-3.2-3.2zM66.3 773.1l3.2 3.2-3.2 3.2-3.2-3.2zM68.3 766.5l3.2 3.2-3.2 3.2-3.2-3.2zM69.9 760.0l3.2 3.2-3.2 3.2-3.2-3.2zM72.0 768.5l3.2 3.2-3.2 3.2-3.2-3.2zM114.3 777.8l3.2 3.2-3.2 3.2-3.2-3.2zM117.7 771.1l3.2 3.2-3.2 3.2-3.2-3.2zM119.8 767.1l3.2 3.2-3.2 3.2-3.2-3.2zM121.8 763.7l3.2 3.2-3.2 3.2-3.2-3.2zM124.8 771.1l3.2 3.2-3.2 3.2-3.2-3.2zM126.8 768.1l3.2 3.2-3.2 3.2-3.2-3.2zM128.4 761.7l3.2 3.2-3.2 3.2-3.2-3.2zM130.4 760.0l3.2 3.2-3.2 3.2-3.2-3.2zM132.5 757.6l3.2 3.2-3.2 3.2-3.2-3.2zM133.9 767.1l3.2 3.2-3.2 3.2-3.2-3.2zM135.3 773.1l3.2 3.2-3.2 3.2-3.2-3.2zM136.9 776.2l3.2 3.2-3.2 3.2-3.2-3.2zM138.9 774.6l3.2 3.2-3.2 3.2-3.2-3.2zM139.9 775.2l3.2 3.2-3.2 3.2-3.2-3.2z"/><path class="tk" d="M148.00 737.70v3.0M148.00 805.70v-3.0M150.95 737.70v1.5M150.95 805.70v-1.5M153.90 737.70v1.5M153.90 805.70v-1.5M156.85 737.70v1.5M156.85 805.70v-1.5M159.80 737.70v1.5M159.80 805.70v-1.5M162.75 737.70v1.5M162.75 805.70v-1.5M165.70 737.70v1.5M165.70 805.70v-1.5M168.65 737.70v1.5M168.65 805.70v-1.5M171.60 737.70v1.5M171.60 805.70v-1.5M174.55 737.70v1.5M174.55 805.70v-1.5M177.50 737.70v3.0M177.50 805.70v-3.0M180.45 737.70v1.5M180.45 805.70v-1.5M183.40 737.70v1.5M183.40 805.70v-1.5M186.35 737.70v1.5M186.35 805.70v-1.5M189.30 737.70v1.5M189.30 805.70v-1.5M192.25 737.70v1.5M192.25 805.70v-1.5M195.20 737.70v1.5M195.20 805.70v-1.5M198.15 737.70v1.5M198.15 805.70v-1.5M201.10 737.70v1.5M201.10 805.70v-1.5M204.05 737.70v1.5M204.05 805.70v-1.5M207.00 737.70v3.0M207.00 805.70v-3.0M209.95 737.70v1.5M209.95 805.70v-1.5M212.90 737.70v1.5M212.90 805.70v-1.5M215.85 737.70v1.5M215.85 805.70v-1.5M218.80 737.70v1.5M218.80 805.70v-1.5M221.75 737.70v1.5M221.75 805.70v-1.5M224.70 737.70v1.5M224.70 805.70v-1.5M227.65 737.70v1.5M227.65 805.70v-1.5M230.60 737.70v1.5M230.60 805.70v-1.5M233.55 737.70v1.5M233.55 805.70v-1.5M236.50 737.70v3.0M236.50 805.70v-3.0M239.45 737.70v1.5M239.45 805.70v-1.5M242.40 737.70v1.5M242.40 805.70v-1.5M245.35 737.70v1.5M245.35 805.70v-1.5M248.30 737.70v1.5M248.30 805.70v-1.5M251.25 737.70v1.5M251.25 805.70v-1.5M254.20 737.70v1.5M254.20 805.70v-1.5M148.00 805.70h3.0M255.40 805.70h-3.0M148.00 802.30h1.5M255.40 802.30h-1.5M148.00 798.90h1.5M255.40 798.90h-1.5M148.00 795.50h1.5M255.40 795.50h-1.5M148.00 792.10h1.5M255.40 792.10h-1.5M148.00 788.70h3.0M255.40 788.70h-3.0M148.00 785.30h1.5M255.40 785.30h-1.5M148.00 781.90h1.5M255.40 781.90h-1.5M148.00 778.50h1.5M255.40 778.50h-1.5M148.00 775.10h1.5M255.40 775.10h-1.5M148.00 771.70h3.0M255.40 771.70h-3.0M148.00 768.30h1.5M255.40 768.30h-1.5M148.00 764.90h1.5M255.40 764.90h-1.5M148.00 761.50h1.5M255.40 761.50h-1.5M148.00 758.10h1.5M255.40 758.10h-1.5M148.00 754.70h3.0M255.40 754.70h-3.0M148.00 751.30h1.5M255.40 751.30h-1.5M148.00 747.90h1.5M255.40 747.90h-1.5M148.00 744.50h1.5M255.40 744.50h-1.5M148.00 741.10h1.5M255.40 741.10h-1.5M148.00 737.70h3.0M255.40 737.70h-3.0"/><rect class="box" x="148.00" y="737.70" width="107.4" height="68"/><line class="zl" x1="148.00" y1="771.70" x2="255.40" y2="771.70"/><path class="dm" d="M150.1 764.1l3.2 3.2-3.2 3.2-3.2-3.2zM152.1 762.5l3.2 3.2-3.2 3.2-3.2-3.2zM154.1 770.5l3.2 3.2-3.2 3.2-3.2-3.2zM156.1 769.7l3.2 3.2-3.2 3.2-3.2-3.2zM157.5 768.5l3.2 3.2-3.2 3.2-3.2-3.2zM159.1 769.1l3.2 3.2-3.2 3.2-3.2-3.2zM166.8 774.6l3.2 3.2-3.2 3.2-3.2-3.2zM168.2 772.5l3.2 3.2-3.2 3.2-3.2-3.2zM170.2 770.5l3.2 3.2-3.2 3.2-3.2-3.2zM172.2 769.1l3.2 3.2-3.2 3.2-3.2-3.2zM173.7 757.0l3.2 3.2-3.2 3.2-3.2-3.2zM174.9 768.1l3.2 3.2-3.2 3.2-3.2-3.2zM176.9 767.1l3.2 3.2-3.2 3.2-3.2-3.2zM179.3 774.2l3.2 3.2-3.2 3.2-3.2-3.2zM181.3 765.7l3.2 3.2-3.2 3.2-3.2-3.2zM184.3 750.4l3.2 3.2-3.2 3.2-3.2-3.2zM205.5 769.1l3.2 3.2-3.2 3.2-3.2-3.2zM207.5 767.7l3.2 3.2-3.2 3.2-3.2-3.2zM209.6 765.7l3.2 3.2-3.2 3.2-3.2-3.2zM211.2 771.1l3.2 3.2-3.2 3.2-3.2-3.2zM212.6 774.2l3.2 3.2-3.2 3.2-3.2-3.2zM214.6 780.6l3.2 3.2-3.2 3.2-3.2-3.2zM220.0 770.5l3.2 3.2-3.2 3.2-3.2-3.2zM221.7 762.1l3.2 3.2-3.2 3.2-3.2-3.2zM223.3 763.7l3.2 3.2-3.2 3.2-3.2-3.2zM225.3 766.1l3.2 3.2-3.2 3.2-3.2-3.2zM227.3 780.2l3.2 3.2-3.2 3.2-3.2-3.2zM229.3 774.6l3.2 3.2-3.2 3.2-3.2-3.2zM230.7 757.6l3.2 3.2-3.2 3.2-3.2-3.2zM232.8 759.0l3.2 3.2-3.2 3.2-3.2-3.2zM234.8 766.5l3.2 3.2-3.2 3.2-3.2-3.2zM236.2 770.1l3.2 3.2-3.2 3.2-3.2-3.2zM237.8 770.5l3.2 3.2-3.2 3.2-3.2-3.2zM239.8 767.7l3.2 3.2-3.2 3.2-3.2-3.2zM241.4 757.6l3.2 3.2-3.2 3.2-3.2-3.2zM246.9 764.5l3.2 3.2-3.2 3.2-3.2-3.2zM248.3 771.7l3.2 3.2-3.2 3.2-3.2-3.2zM250.9 784.6l3.2 3.2-3.2 3.2-3.2-3.2zM252.9 774.2l3.2 3.2-3.2 3.2-3.2-3.2z"/><path class="tk" d="M260.90 737.70v3.0M260.90 805.70v-3.0M263.85 737.70v1.5M263.85 805.70v-1.5M266.80 737.70v1.5M266.80 805.70v-1.5M269.75 737.70v1.5M269.75 805.70v-1.5M272.70 737.70v1.5M272.70 805.70v-1.5M275.65 737.70v1.5M275.65 805.70v-1.5M278.60 737.70v1.5M278.60 805.70v-1.5M281.55 737.70v1.5M281.55 805.70v-1.5M284.50 737.70v1.5M284.50 805.70v-1.5M287.45 737.70v1.5M287.45 805.70v-1.5M290.40 737.70v3.0M290.40 805.70v-3.0M293.35 737.70v1.5M293.35 805.70v-1.5M296.30 737.70v1.5M296.30 805.70v-1.5M299.25 737.70v1.5M299.25 805.70v-1.5M302.20 737.70v1.5M302.20 805.70v-1.5M305.15 737.70v1.5M305.15 805.70v-1.5M308.10 737.70v1.5M308.10 805.70v-1.5M311.05 737.70v1.5M311.05 805.70v-1.5M314.00 737.70v1.5M314.00 805.70v-1.5M316.95 737.70v1.5M316.95 805.70v-1.5M319.90 737.70v3.0M319.90 805.70v-3.0M322.85 737.70v1.5M322.85 805.70v-1.5M325.80 737.70v1.5M325.80 805.70v-1.5M328.75 737.70v1.5M328.75 805.70v-1.5M331.70 737.70v1.5M331.70 805.70v-1.5M334.65 737.70v1.5M334.65 805.70v-1.5M337.60 737.70v1.5M337.60 805.70v-1.5M340.55 737.70v1.5M340.55 805.70v-1.5M343.50 737.70v1.5M343.50 805.70v-1.5M346.45 737.70v1.5M346.45 805.70v-1.5M349.40 737.70v3.0M349.40 805.70v-3.0M352.35 737.70v1.5M352.35 805.70v-1.5M355.30 737.70v1.5M355.30 805.70v-1.5M358.25 737.70v1.5M358.25 805.70v-1.5M361.20 737.70v1.5M361.20 805.70v-1.5M364.15 737.70v1.5M364.15 805.70v-1.5M367.10 737.70v1.5M367.10 805.70v-1.5M260.90 805.70h3.0M368.30 805.70h-3.0M260.90 802.30h1.5M368.30 802.30h-1.5M260.90 798.90h1.5M368.30 798.90h-1.5M260.90 795.50h1.5M368.30 795.50h-1.5M260.90 792.10h1.5M368.30 792.10h-1.5M260.90 788.70h3.0M368.30 788.70h-3.0M260.90 785.30h1.5M368.30 785.30h-1.5M260.90 781.90h1.5M368.30 781.90h-1.5M260.90 778.50h1.5M368.30 778.50h-1.5M260.90 775.10h1.5M368.30 775.10h-1.5M260.90 771.70h3.0M368.30 771.70h-3.0M260.90 768.30h1.5M368.30 768.30h-1.5M260.90 764.90h1.5M368.30 764.90h-1.5M260.90 761.50h1.5M368.30 761.50h-1.5M260.90 758.10h1.5M368.30 758.10h-1.5M260.90 754.70h3.0M368.30 754.70h-3.0M260.90 751.30h1.5M368.30 751.30h-1.5M260.90 747.90h1.5M368.30 747.90h-1.5M260.90 744.50h1.5M368.30 744.50h-1.5M260.90 741.10h1.5M368.30 741.10h-1.5M260.90 737.70h3.0M368.30 737.70h-3.0"/><rect class="box" x="260.90" y="737.70" width="107.4" height="68"/><line class="zl" x1="260.90" y1="771.70" x2="368.30" y2="771.70"/><path class="dm" d="M263.7 782.2l3.2 3.2-3.2 3.2-3.2-3.2zM265.1 770.1l3.2 3.2-3.2 3.2-3.2-3.2zM267.1 765.7l3.2 3.2-3.2 3.2-3.2-3.2zM269.1 772.1l3.2 3.2-3.2 3.2-3.2-3.2zM270.5 779.2l3.2 3.2-3.2 3.2-3.2-3.2zM273.7 773.8l3.2 3.2-3.2 3.2-3.2-3.2zM275.8 769.1l3.2 3.2-3.2 3.2-3.2-3.2zM277.8 773.8l3.2 3.2-3.2 3.2-3.2-3.2zM279.8 767.7l3.2 3.2-3.2 3.2-3.2-3.2zM281.8 774.6l3.2 3.2-3.2 3.2-3.2-3.2zM284.6 764.5l3.2 3.2-3.2 3.2-3.2-3.2zM286.3 758.0l3.2 3.2-3.2 3.2-3.2-3.2zM287.9 757.6l3.2 3.2-3.2 3.2-3.2-3.2zM290.3 766.5l3.2 3.2-3.2 3.2-3.2-3.2zM295.9 767.7l3.2 3.2-3.2 3.2-3.2-3.2zM297.3 753.0l3.2 3.2-3.2 3.2-3.2-3.2zM318.9 753.0l3.2 3.2-3.2 3.2-3.2-3.2zM320.5 768.1l3.2 3.2-3.2 3.2-3.2-3.2zM322.2 774.6l3.2 3.2-3.2 3.2-3.2-3.2zM324.2 775.2l3.2 3.2-3.2 3.2-3.2-3.2zM325.6 773.1l3.2 3.2-3.2 3.2-3.2-3.2zM327.0 773.1l3.2 3.2-3.2 3.2-3.2-3.2zM329.6 776.2l3.2 3.2-3.2 3.2-3.2-3.2zM331.6 768.5l3.2 3.2-3.2 3.2-3.2-3.2zM333.0 774.2l3.2 3.2-3.2 3.2-3.2-3.2zM334.7 764.1l3.2 3.2-3.2 3.2-3.2-3.2zM336.7 761.0l3.2 3.2-3.2 3.2-3.2-3.2zM338.7 771.7l3.2 3.2-3.2 3.2-3.2-3.2zM340.3 777.2l3.2 3.2-3.2 3.2-3.2-3.2zM342.3 769.7l3.2 3.2-3.2 3.2-3.2-3.2zM343.7 757.0l3.2 3.2-3.2 3.2-3.2-3.2zM345.8 763.7l3.2 3.2-3.2 3.2-3.2-3.2zM347.8 759.0l3.2 3.2-3.2 3.2-3.2-3.2zM349.8 759.6l3.2 3.2-3.2 3.2-3.2-3.2zM350.8 768.5l3.2 3.2-3.2 3.2-3.2-3.2zM352.8 775.8l3.2 3.2-3.2 3.2-3.2-3.2zM354.8 771.1l3.2 3.2-3.2 3.2-3.2-3.2zM356.8 770.1l3.2 3.2-3.2 3.2-3.2-3.2z"/><path class="tk" d="M373.80 737.70v3.0M373.80 805.70v-3.0M376.75 737.70v1.5M376.75 805.70v-1.5M379.70 737.70v1.5M379.70 805.70v-1.5M382.65 737.70v1.5M382.65 805.70v-1.5M385.60 737.70v1.5M385.60 805.70v-1.5M388.55 737.70v1.5M388.55 805.70v-1.5M391.50 737.70v1.5M391.50 805.70v-1.5M394.45 737.70v1.5M394.45 805.70v-1.5M397.40 737.70v1.5M397.40 805.70v-1.5M400.35 737.70v1.5M400.35 805.70v-1.5M403.30 737.70v3.0M403.30 805.70v-3.0M406.25 737.70v1.5M406.25 805.70v-1.5M409.20 737.70v1.5M409.20 805.70v-1.5M412.15 737.70v1.5M412.15 805.70v-1.5M415.10 737.70v1.5M415.10 805.70v-1.5M418.05 737.70v1.5M418.05 805.70v-1.5M421.00 737.70v1.5M421.00 805.70v-1.5M423.95 737.70v1.5M423.95 805.70v-1.5M426.90 737.70v1.5M426.90 805.70v-1.5M429.85 737.70v1.5M429.85 805.70v-1.5M432.80 737.70v3.0M432.80 805.70v-3.0M435.75 737.70v1.5M435.75 805.70v-1.5M438.70 737.70v1.5M438.70 805.70v-1.5M441.65 737.70v1.5M441.65 805.70v-1.5M444.60 737.70v1.5M444.60 805.70v-1.5M447.55 737.70v1.5M447.55 805.70v-1.5M450.50 737.70v1.5M450.50 805.70v-1.5M453.45 737.70v1.5M453.45 805.70v-1.5M456.40 737.70v1.5M456.40 805.70v-1.5M459.35 737.70v1.5M459.35 805.70v-1.5M462.30 737.70v3.0M462.30 805.70v-3.0M465.25 737.70v1.5M465.25 805.70v-1.5M468.20 737.70v1.5M468.20 805.70v-1.5M471.15 737.70v1.5M471.15 805.70v-1.5M474.10 737.70v1.5M474.10 805.70v-1.5M477.05 737.70v1.5M477.05 805.70v-1.5M480.00 737.70v1.5M480.00 805.70v-1.5M373.80 805.70h3.0M481.20 805.70h-3.0M373.80 802.30h1.5M481.20 802.30h-1.5M373.80 798.90h1.5M481.20 798.90h-1.5M373.80 795.50h1.5M481.20 795.50h-1.5M373.80 792.10h1.5M481.20 792.10h-1.5M373.80 788.70h3.0M481.20 788.70h-3.0M373.80 785.30h1.5M481.20 785.30h-1.5M373.80 781.90h1.5M481.20 781.90h-1.5M373.80 778.50h1.5M481.20 778.50h-1.5M373.80 775.10h1.5M481.20 775.10h-1.5M373.80 771.70h3.0M481.20 771.70h-3.0M373.80 768.30h1.5M481.20 768.30h-1.5M373.80 764.90h1.5M481.20 764.90h-1.5M373.80 761.50h1.5M481.20 761.50h-1.5M373.80 758.10h1.5M481.20 758.10h-1.5M373.80 754.70h3.0M481.20 754.70h-3.0M373.80 751.30h1.5M481.20 751.30h-1.5M373.80 747.90h1.5M481.20 747.90h-1.5M373.80 744.50h1.5M481.20 744.50h-1.5M373.80 741.10h1.5M481.20 741.10h-1.5M373.80 737.70h3.0M481.20 737.70h-3.0"/><rect class="box" x="373.80" y="737.70" width="107.4" height="68"/><line class="zl" x1="373.80" y1="771.70" x2="481.20" y2="771.70"/><path class="dm" d="M378.1 777.8l3.2 3.2-3.2 3.2-3.2-3.2zM386.6 770.5l3.2 3.2-3.2 3.2-3.2-3.2zM392.2 769.7l3.2 3.2-3.2 3.2-3.2-3.2zM393.8 777.2l3.2 3.2-3.2 3.2-3.2-3.2zM396.2 772.5l3.2 3.2-3.2 3.2-3.2-3.2zM401.3 754.0l3.2 3.2-3.2 3.2-3.2-3.2zM435.0 753.6l3.2 3.2-3.2 3.2-3.2-3.2zM437.0 757.0l3.2 3.2-3.2 3.2-3.2-3.2zM438.6 778.2l3.2 3.2-3.2 3.2-3.2-3.2zM440.6 770.1l3.2 3.2-3.2 3.2-3.2-3.2zM442.2 787.9l3.2 3.2-3.2 3.2-3.2-3.2zM443.6 772.1l3.2 3.2-3.2 3.2-3.2-3.2zM445.7 774.2l3.2 3.2-3.2 3.2-3.2-3.2zM447.7 765.7l3.2 3.2-3.2 3.2-3.2-3.2zM449.1 767.1l3.2 3.2-3.2 3.2-3.2-3.2zM450.7 760.0l3.2 3.2-3.2 3.2-3.2-3.2zM452.3 761.7l3.2 3.2-3.2 3.2-3.2-3.2zM454.3 765.1l3.2 3.2-3.2 3.2-3.2-3.2zM456.3 761.0l3.2 3.2-3.2 3.2-3.2-3.2zM457.8 759.6l3.2 3.2-3.2 3.2-3.2-3.2zM459.8 759.6l3.2 3.2-3.2 3.2-3.2-3.2zM460.4 768.5l3.2 3.2-3.2 3.2-3.2-3.2zM463.8 784.6l3.2 3.2-3.2 3.2-3.2-3.2zM465.8 785.9l3.2 3.2-3.2 3.2-3.2-3.2z"/><path class="tk" d="M486.70 737.70v3.0M486.70 805.70v-3.0M489.65 737.70v1.5M489.65 805.70v-1.5M492.60 737.70v1.5M492.60 805.70v-1.5M495.55 737.70v1.5M495.55 805.70v-1.5M498.50 737.70v1.5M498.50 805.70v-1.5M501.45 737.70v1.5M501.45 805.70v-1.5M504.40 737.70v1.5M504.40 805.70v-1.5M507.35 737.70v1.5M507.35 805.70v-1.5M510.30 737.70v1.5M510.30 805.70v-1.5M513.25 737.70v1.5M513.25 805.70v-1.5M516.20 737.70v3.0M516.20 805.70v-3.0M519.15 737.70v1.5M519.15 805.70v-1.5M522.10 737.70v1.5M522.10 805.70v-1.5M525.05 737.70v1.5M525.05 805.70v-1.5M528.00 737.70v1.5M528.00 805.70v-1.5M530.95 737.70v1.5M530.95 805.70v-1.5M533.90 737.70v1.5M533.90 805.70v-1.5M536.85 737.70v1.5M536.85 805.70v-1.5M539.80 737.70v1.5M539.80 805.70v-1.5M542.75 737.70v1.5M542.75 805.70v-1.5M545.70 737.70v3.0M545.70 805.70v-3.0M548.65 737.70v1.5M548.65 805.70v-1.5M551.60 737.70v1.5M551.60 805.70v-1.5M554.55 737.70v1.5M554.55 805.70v-1.5M557.50 737.70v1.5M557.50 805.70v-1.5M560.45 737.70v1.5M560.45 805.70v-1.5M563.40 737.70v1.5M563.40 805.70v-1.5M566.35 737.70v1.5M566.35 805.70v-1.5M569.30 737.70v1.5M569.30 805.70v-1.5M572.25 737.70v1.5M572.25 805.70v-1.5M575.20 737.70v3.0M575.20 805.70v-3.0M578.15 737.70v1.5M578.15 805.70v-1.5M581.10 737.70v1.5M581.10 805.70v-1.5M584.05 737.70v1.5M584.05 805.70v-1.5M587.00 737.70v1.5M587.00 805.70v-1.5M589.95 737.70v1.5M589.95 805.70v-1.5M592.90 737.70v1.5M592.90 805.70v-1.5M486.70 805.70h3.0M594.10 805.70h-3.0M486.70 802.30h1.5M594.10 802.30h-1.5M486.70 798.90h1.5M594.10 798.90h-1.5M486.70 795.50h1.5M594.10 795.50h-1.5M486.70 792.10h1.5M594.10 792.10h-1.5M486.70 788.70h3.0M594.10 788.70h-3.0M486.70 785.30h1.5M594.10 785.30h-1.5M486.70 781.90h1.5M594.10 781.90h-1.5M486.70 778.50h1.5M594.10 778.50h-1.5M486.70 775.10h1.5M594.10 775.10h-1.5M486.70 771.70h3.0M594.10 771.70h-3.0M486.70 768.30h1.5M594.10 768.30h-1.5M486.70 764.90h1.5M594.10 764.90h-1.5M486.70 761.50h1.5M594.10 761.50h-1.5M486.70 758.10h1.5M594.10 758.10h-1.5M486.70 754.70h3.0M594.10 754.70h-3.0M486.70 751.30h1.5M594.10 751.30h-1.5M486.70 747.90h1.5M594.10 747.90h-1.5M486.70 744.50h1.5M594.10 744.50h-1.5M486.70 741.10h1.5M594.10 741.10h-1.5M486.70 737.70h3.0M594.10 737.70h-3.0"/><rect class="box" x="486.70" y="737.70" width="107.4" height="68"/><line class="zl" x1="486.70" y1="771.70" x2="594.10" y2="771.70"/><path class="dm" d="M491.1 796.4l3.2 3.2-3.2 3.2-3.2-3.2zM493.0 787.3l3.2 3.2-3.2 3.2-3.2-3.2zM496.2 753.6l3.2 3.2-3.2 3.2-3.2-3.2zM500.0 766.9l3.2 3.2-3.2 3.2-3.2-3.2zM507.1 755.5l3.2 3.2-3.2 3.2-3.2-3.2zM546.6 755.5l3.2 3.2-3.2 3.2-3.2-3.2zM555.1 780.2l3.2 3.2-3.2 3.2-3.2-3.2zM557.0 781.2l3.2 3.2-3.2 3.2-3.2-3.2zM558.9 778.3l3.2 3.2-3.2 3.2-3.2-3.2zM560.8 774.0l3.2 3.2-3.2 3.2-3.2-3.2zM562.7 764.5l3.2 3.2-3.2 3.2-3.2-3.2zM564.1 751.7l3.2 3.2-3.2 3.2-3.2-3.2zM566.0 754.2l3.2 3.2-3.2 3.2-3.2-3.2zM571.3 766.4l3.2 3.2-3.2 3.2-3.2-3.2zM573.2 759.3l3.2 3.2-3.2 3.2-3.2-3.2zM575.1 765.0l3.2 3.2-3.2 3.2-3.2-3.2z"/><path class="tk" d="M35.10 817.00v3.0M35.10 885.00v-3.0M38.05 817.00v1.5M38.05 885.00v-1.5M41.00 817.00v1.5M41.00 885.00v-1.5M43.95 817.00v1.5M43.95 885.00v-1.5M46.90 817.00v1.5M46.90 885.00v-1.5M49.85 817.00v1.5M49.85 885.00v-1.5M52.80 817.00v1.5M52.80 885.00v-1.5M55.75 817.00v1.5M55.75 885.00v-1.5M58.70 817.00v1.5M58.70 885.00v-1.5M61.65 817.00v1.5M61.65 885.00v-1.5M64.60 817.00v3.0M64.60 885.00v-3.0M67.55 817.00v1.5M67.55 885.00v-1.5M70.50 817.00v1.5M70.50 885.00v-1.5M73.45 817.00v1.5M73.45 885.00v-1.5M76.40 817.00v1.5M76.40 885.00v-1.5M79.35 817.00v1.5M79.35 885.00v-1.5M82.30 817.00v1.5M82.30 885.00v-1.5M85.25 817.00v1.5M85.25 885.00v-1.5M88.20 817.00v1.5M88.20 885.00v-1.5M91.15 817.00v1.5M91.15 885.00v-1.5M94.10 817.00v3.0M94.10 885.00v-3.0M97.05 817.00v1.5M97.05 885.00v-1.5M100.00 817.00v1.5M100.00 885.00v-1.5M102.95 817.00v1.5M102.95 885.00v-1.5M105.90 817.00v1.5M105.90 885.00v-1.5M108.85 817.00v1.5M108.85 885.00v-1.5M111.80 817.00v1.5M111.80 885.00v-1.5M114.75 817.00v1.5M114.75 885.00v-1.5M117.70 817.00v1.5M117.70 885.00v-1.5M120.65 817.00v1.5M120.65 885.00v-1.5M123.60 817.00v3.0M123.60 885.00v-3.0M126.55 817.00v1.5M126.55 885.00v-1.5M129.50 817.00v1.5M129.50 885.00v-1.5M132.45 817.00v1.5M132.45 885.00v-1.5M135.40 817.00v1.5M135.40 885.00v-1.5M138.35 817.00v1.5M138.35 885.00v-1.5M141.30 817.00v1.5M141.30 885.00v-1.5M35.10 885.00h3.0M142.50 885.00h-3.0M35.10 881.60h1.5M142.50 881.60h-1.5M35.10 878.20h1.5M142.50 878.20h-1.5M35.10 874.80h1.5M142.50 874.80h-1.5M35.10 871.40h1.5M142.50 871.40h-1.5M35.10 868.00h3.0M142.50 868.00h-3.0M35.10 864.60h1.5M142.50 864.60h-1.5M35.10 861.20h1.5M142.50 861.20h-1.5M35.10 857.80h1.5M142.50 857.80h-1.5M35.10 854.40h1.5M142.50 854.40h-1.5M35.10 851.00h3.0M142.50 851.00h-3.0M35.10 847.60h1.5M142.50 847.60h-1.5M35.10 844.20h1.5M142.50 844.20h-1.5M35.10 840.80h1.5M142.50 840.80h-1.5M35.10 837.40h1.5M142.50 837.40h-1.5M35.10 834.00h3.0M142.50 834.00h-3.0M35.10 830.60h1.5M142.50 830.60h-1.5M35.10 827.20h1.5M142.50 827.20h-1.5M35.10 823.80h1.5M142.50 823.80h-1.5M35.10 820.40h1.5M142.50 820.40h-1.5M35.10 817.00h3.0M142.50 817.00h-3.0"/><rect class="box" x="35.10" y="817.00" width="107.4" height="68"/><line class="zl" x1="35.10" y1="851.00" x2="142.50" y2="851.00"/><path class="dm" d="M37.7 851.1l3.2 3.2-3.2 3.2-3.2-3.2zM39.1 850.1l3.2 3.2-3.2 3.2-3.2-3.2zM40.5 845.5l3.2 3.2-3.2 3.2-3.2-3.2zM42.5 842.1l3.2 3.2-3.2 3.2-3.2-3.2zM48.2 851.1l3.2 3.2-3.2 3.2-3.2-3.2zM55.2 848.1l3.2 3.2-3.2 3.2-3.2-3.2zM62.3 846.1l3.2 3.2-3.2 3.2-3.2-3.2zM63.9 846.7l3.2 3.2-3.2 3.2-3.2-3.2zM65.9 851.1l3.2 3.2-3.2 3.2-3.2-3.2zM69.3 840.0l3.2 3.2-3.2 3.2-3.2-3.2zM71.3 845.1l3.2 3.2-3.2 3.2-3.2-3.2zM110.3 849.1l3.2 3.2-3.2 3.2-3.2-3.2zM112.7 853.2l3.2 3.2-3.2 3.2-3.2-3.2zM114.3 855.6l3.2 3.2-3.2 3.2-3.2-3.2zM116.7 847.1l3.2 3.2-3.2 3.2-3.2-3.2zM118.7 845.1l3.2 3.2-3.2 3.2-3.2-3.2zM121.8 840.7l3.2 3.2-3.2 3.2-3.2-3.2zM123.2 843.5l3.2 3.2-3.2 3.2-3.2-3.2zM125.2 846.1l3.2 3.2-3.2 3.2-3.2-3.2zM126.8 852.1l3.2 3.2-3.2 3.2-3.2-3.2zM136.9 851.1l3.2 3.2-3.2 3.2-3.2-3.2zM138.9 848.1l3.2 3.2-3.2 3.2-3.2-3.2zM140.5 843.1l3.2 3.2-3.2 3.2-3.2-3.2z"/><path class="tk" d="M148.00 817.00v3.0M148.00 885.00v-3.0M150.95 817.00v1.5M150.95 885.00v-1.5M153.90 817.00v1.5M153.90 885.00v-1.5M156.85 817.00v1.5M156.85 885.00v-1.5M159.80 817.00v1.5M159.80 885.00v-1.5M162.75 817.00v1.5M162.75 885.00v-1.5M165.70 817.00v1.5M165.70 885.00v-1.5M168.65 817.00v1.5M168.65 885.00v-1.5M171.60 817.00v1.5M171.60 885.00v-1.5M174.55 817.00v1.5M174.55 885.00v-1.5M177.50 817.00v3.0M177.50 885.00v-3.0M180.45 817.00v1.5M180.45 885.00v-1.5M183.40 817.00v1.5M183.40 885.00v-1.5M186.35 817.00v1.5M186.35 885.00v-1.5M189.30 817.00v1.5M189.30 885.00v-1.5M192.25 817.00v1.5M192.25 885.00v-1.5M195.20 817.00v1.5M195.20 885.00v-1.5M198.15 817.00v1.5M198.15 885.00v-1.5M201.10 817.00v1.5M201.10 885.00v-1.5M204.05 817.00v1.5M204.05 885.00v-1.5M207.00 817.00v3.0M207.00 885.00v-3.0M209.95 817.00v1.5M209.95 885.00v-1.5M212.90 817.00v1.5M212.90 885.00v-1.5M215.85 817.00v1.5M215.85 885.00v-1.5M218.80 817.00v1.5M218.80 885.00v-1.5M221.75 817.00v1.5M221.75 885.00v-1.5M224.70 817.00v1.5M224.70 885.00v-1.5M227.65 817.00v1.5M227.65 885.00v-1.5M230.60 817.00v1.5M230.60 885.00v-1.5M233.55 817.00v1.5M233.55 885.00v-1.5M236.50 817.00v3.0M236.50 885.00v-3.0M239.45 817.00v1.5M239.45 885.00v-1.5M242.40 817.00v1.5M242.40 885.00v-1.5M245.35 817.00v1.5M245.35 885.00v-1.5M248.30 817.00v1.5M248.30 885.00v-1.5M251.25 817.00v1.5M251.25 885.00v-1.5M254.20 817.00v1.5M254.20 885.00v-1.5M148.00 885.00h3.0M255.40 885.00h-3.0M148.00 881.60h1.5M255.40 881.60h-1.5M148.00 878.20h1.5M255.40 878.20h-1.5M148.00 874.80h1.5M255.40 874.80h-1.5M148.00 871.40h1.5M255.40 871.40h-1.5M148.00 868.00h3.0M255.40 868.00h-3.0M148.00 864.60h1.5M255.40 864.60h-1.5M148.00 861.20h1.5M255.40 861.20h-1.5M148.00 857.80h1.5M255.40 857.80h-1.5M148.00 854.40h1.5M255.40 854.40h-1.5M148.00 851.00h3.0M255.40 851.00h-3.0M148.00 847.60h1.5M255.40 847.60h-1.5M148.00 844.20h1.5M255.40 844.20h-1.5M148.00 840.80h1.5M255.40 840.80h-1.5M148.00 837.40h1.5M255.40 837.40h-1.5M148.00 834.00h3.0M255.40 834.00h-3.0M148.00 830.60h1.5M255.40 830.60h-1.5M148.00 827.20h1.5M255.40 827.20h-1.5M148.00 823.80h1.5M255.40 823.80h-1.5M148.00 820.40h1.5M255.40 820.40h-1.5M148.00 817.00h3.0M255.40 817.00h-3.0"/><rect class="box" x="148.00" y="817.00" width="107.4" height="68"/><line class="zl" x1="148.00" y1="851.00" x2="255.40" y2="851.00"/><path class="dm" d="M149.5 846.1l3.2 3.2-3.2 3.2-3.2-3.2zM150.7 850.1l3.2 3.2-3.2 3.2-3.2-3.2zM152.1 842.7l3.2 3.2-3.2 3.2-3.2-3.2zM154.1 845.5l3.2 3.2-3.2 3.2-3.2-3.2zM156.1 848.1l3.2 3.2-3.2 3.2-3.2-3.2zM157.5 854.2l3.2 3.2-3.2 3.2-3.2-3.2zM159.1 849.1l3.2 3.2-3.2 3.2-3.2-3.2zM161.2 854.2l3.2 3.2-3.2 3.2-3.2-3.2zM164.8 847.1l3.2 3.2-3.2 3.2-3.2-3.2zM166.8 849.5l3.2 3.2-3.2 3.2-3.2-3.2zM168.8 847.1l3.2 3.2-3.2 3.2-3.2-3.2zM170.2 845.5l3.2 3.2-3.2 3.2-3.2-3.2zM172.2 843.5l3.2 3.2-3.2 3.2-3.2-3.2zM173.7 842.1l3.2 3.2-3.2 3.2-3.2-3.2zM176.3 846.7l3.2 3.2-3.2 3.2-3.2-3.2zM178.3 846.1l3.2 3.2-3.2 3.2-3.2-3.2zM205.9 844.7l3.2 3.2-3.2 3.2-3.2-3.2zM207.5 849.1l3.2 3.2-3.2 3.2-3.2-3.2zM209.6 852.8l3.2 3.2-3.2 3.2-3.2-3.2zM211.2 851.1l3.2 3.2-3.2 3.2-3.2-3.2zM213.2 854.2l3.2 3.2-3.2 3.2-3.2-3.2zM214.6 842.1l3.2 3.2-3.2 3.2-3.2-3.2zM216.0 850.1l3.2 3.2-3.2 3.2-3.2-3.2zM217.6 848.7l3.2 3.2-3.2 3.2-3.2-3.2zM219.6 849.1l3.2 3.2-3.2 3.2-3.2-3.2zM222.1 847.5l3.2 3.2-3.2 3.2-3.2-3.2zM223.7 838.6l3.2 3.2-3.2 3.2-3.2-3.2zM225.7 848.1l3.2 3.2-3.2 3.2-3.2-3.2zM227.3 846.7l3.2 3.2-3.2 3.2-3.2-3.2zM229.3 842.7l3.2 3.2-3.2 3.2-3.2-3.2zM230.7 845.1l3.2 3.2-3.2 3.2-3.2-3.2zM232.8 846.1l3.2 3.2-3.2 3.2-3.2-3.2zM234.8 847.5l3.2 3.2-3.2 3.2-3.2-3.2zM236.2 851.1l3.2 3.2-3.2 3.2-3.2-3.2zM237.8 852.1l3.2 3.2-3.2 3.2-3.2-3.2zM239.8 848.1l3.2 3.2-3.2 3.2-3.2-3.2zM241.4 846.7l3.2 3.2-3.2 3.2-3.2-3.2zM243.4 853.6l3.2 3.2-3.2 3.2-3.2-3.2zM250.9 848.1l3.2 3.2-3.2 3.2-3.2-3.2zM252.9 845.5l3.2 3.2-3.2 3.2-3.2-3.2z"/><path class="tk" d="M260.90 817.00v3.0M260.90 885.00v-3.0M263.85 817.00v1.5M263.85 885.00v-1.5M266.80 817.00v1.5M266.80 885.00v-1.5M269.75 817.00v1.5M269.75 885.00v-1.5M272.70 817.00v1.5M272.70 885.00v-1.5M275.65 817.00v1.5M275.65 885.00v-1.5M278.60 817.00v1.5M278.60 885.00v-1.5M281.55 817.00v1.5M281.55 885.00v-1.5M284.50 817.00v1.5M284.50 885.00v-1.5M287.45 817.00v1.5M287.45 885.00v-1.5M290.40 817.00v3.0M290.40 885.00v-3.0M293.35 817.00v1.5M293.35 885.00v-1.5M296.30 817.00v1.5M296.30 885.00v-1.5M299.25 817.00v1.5M299.25 885.00v-1.5M302.20 817.00v1.5M302.20 885.00v-1.5M305.15 817.00v1.5M305.15 885.00v-1.5M308.10 817.00v1.5M308.10 885.00v-1.5M311.05 817.00v1.5M311.05 885.00v-1.5M314.00 817.00v1.5M314.00 885.00v-1.5M316.95 817.00v1.5M316.95 885.00v-1.5M319.90 817.00v3.0M319.90 885.00v-3.0M322.85 817.00v1.5M322.85 885.00v-1.5M325.80 817.00v1.5M325.80 885.00v-1.5M328.75 817.00v1.5M328.75 885.00v-1.5M331.70 817.00v1.5M331.70 885.00v-1.5M334.65 817.00v1.5M334.65 885.00v-1.5M337.60 817.00v1.5M337.60 885.00v-1.5M340.55 817.00v1.5M340.55 885.00v-1.5M343.50 817.00v1.5M343.50 885.00v-1.5M346.45 817.00v1.5M346.45 885.00v-1.5M349.40 817.00v3.0M349.40 885.00v-3.0M352.35 817.00v1.5M352.35 885.00v-1.5M355.30 817.00v1.5M355.30 885.00v-1.5M358.25 817.00v1.5M358.25 885.00v-1.5M361.20 817.00v1.5M361.20 885.00v-1.5M364.15 817.00v1.5M364.15 885.00v-1.5M367.10 817.00v1.5M367.10 885.00v-1.5M260.90 885.00h3.0M368.30 885.00h-3.0M260.90 881.60h1.5M368.30 881.60h-1.5M260.90 878.20h1.5M368.30 878.20h-1.5M260.90 874.80h1.5M368.30 874.80h-1.5M260.90 871.40h1.5M368.30 871.40h-1.5M260.90 868.00h3.0M368.30 868.00h-3.0M260.90 864.60h1.5M368.30 864.60h-1.5M260.90 861.20h1.5M368.30 861.20h-1.5M260.90 857.80h1.5M368.30 857.80h-1.5M260.90 854.40h1.5M368.30 854.40h-1.5M260.90 851.00h3.0M368.30 851.00h-3.0M260.90 847.60h1.5M368.30 847.60h-1.5M260.90 844.20h1.5M368.30 844.20h-1.5M260.90 840.80h1.5M368.30 840.80h-1.5M260.90 837.40h1.5M368.30 837.40h-1.5M260.90 834.00h3.0M368.30 834.00h-3.0M260.90 830.60h1.5M368.30 830.60h-1.5M260.90 827.20h1.5M368.30 827.20h-1.5M260.90 823.80h1.5M368.30 823.80h-1.5M260.90 820.40h1.5M368.30 820.40h-1.5M260.90 817.00h3.0M368.30 817.00h-3.0"/><rect class="box" x="260.90" y="817.00" width="107.4" height="68"/><line class="zl" x1="260.90" y1="851.00" x2="368.30" y2="851.00"/><path class="dm" d="M270.5 850.1l3.2 3.2-3.2 3.2-3.2-3.2zM272.5 852.1l3.2 3.2-3.2 3.2-3.2-3.2zM274.2 852.8l3.2 3.2-3.2 3.2-3.2-3.2zM276.2 842.7l3.2 3.2-3.2 3.2-3.2-3.2zM277.8 841.1l3.2 3.2-3.2 3.2-3.2-3.2zM279.8 848.1l3.2 3.2-3.2 3.2-3.2-3.2zM281.2 846.1l3.2 3.2-3.2 3.2-3.2-3.2zM283.2 852.1l3.2 3.2-3.2 3.2-3.2-3.2zM285.2 848.1l3.2 3.2-3.2 3.2-3.2-3.2zM286.7 840.0l3.2 3.2-3.2 3.2-3.2-3.2zM288.3 842.1l3.2 3.2-3.2 3.2-3.2-3.2zM318.9 834.6l3.2 3.2-3.2 3.2-3.2-3.2zM320.5 848.1l3.2 3.2-3.2 3.2-3.2-3.2zM322.2 854.2l3.2 3.2-3.2 3.2-3.2-3.2zM324.2 850.1l3.2 3.2-3.2 3.2-3.2-3.2zM325.6 853.2l3.2 3.2-3.2 3.2-3.2-3.2zM327.6 858.2l3.2 3.2-3.2 3.2-3.2-3.2zM329.0 850.7l3.2 3.2-3.2 3.2-3.2-3.2zM331.0 849.1l3.2 3.2-3.2 3.2-3.2-3.2zM332.6 843.5l3.2 3.2-3.2 3.2-3.2-3.2zM334.7 848.7l3.2 3.2-3.2 3.2-3.2-3.2zM336.7 841.5l3.2 3.2-3.2 3.2-3.2-3.2zM338.3 845.5l3.2 3.2-3.2 3.2-3.2-3.2zM339.7 836.0l3.2 3.2-3.2 3.2-3.2-3.2zM341.7 834.0l3.2 3.2-3.2 3.2-3.2-3.2zM343.7 841.1l3.2 3.2-3.2 3.2-3.2-3.2zM348.8 852.8l3.2 3.2-3.2 3.2-3.2-3.2zM352.4 850.7l3.2 3.2-3.2 3.2-3.2-3.2zM354.4 845.1l3.2 3.2-3.2 3.2-3.2-3.2zM355.8 859.2l3.2 3.2-3.2 3.2-3.2-3.2zM357.9 853.2l3.2 3.2-3.2 3.2-3.2-3.2zM359.9 856.8l3.2 3.2-3.2 3.2-3.2-3.2zM363.9 850.1l3.2 3.2-3.2 3.2-3.2-3.2z"/><path class="tk" d="M373.80 817.00v3.0M373.80 885.00v-3.0M376.75 817.00v1.5M376.75 885.00v-1.5M379.70 817.00v1.5M379.70 885.00v-1.5M382.65 817.00v1.5M382.65 885.00v-1.5M385.60 817.00v1.5M385.60 885.00v-1.5M388.55 817.00v1.5M388.55 885.00v-1.5M391.50 817.00v1.5M391.50 885.00v-1.5M394.45 817.00v1.5M394.45 885.00v-1.5M397.40 817.00v1.5M397.40 885.00v-1.5M400.35 817.00v1.5M400.35 885.00v-1.5M403.30 817.00v3.0M403.30 885.00v-3.0M406.25 817.00v1.5M406.25 885.00v-1.5M409.20 817.00v1.5M409.20 885.00v-1.5M412.15 817.00v1.5M412.15 885.00v-1.5M415.10 817.00v1.5M415.10 885.00v-1.5M418.05 817.00v1.5M418.05 885.00v-1.5M421.00 817.00v1.5M421.00 885.00v-1.5M423.95 817.00v1.5M423.95 885.00v-1.5M426.90 817.00v1.5M426.90 885.00v-1.5M429.85 817.00v1.5M429.85 885.00v-1.5M432.80 817.00v3.0M432.80 885.00v-3.0M435.75 817.00v1.5M435.75 885.00v-1.5M438.70 817.00v1.5M438.70 885.00v-1.5M441.65 817.00v1.5M441.65 885.00v-1.5M444.60 817.00v1.5M444.60 885.00v-1.5M447.55 817.00v1.5M447.55 885.00v-1.5M450.50 817.00v1.5M450.50 885.00v-1.5M453.45 817.00v1.5M453.45 885.00v-1.5M456.40 817.00v1.5M456.40 885.00v-1.5M459.35 817.00v1.5M459.35 885.00v-1.5M462.30 817.00v3.0M462.30 885.00v-3.0M465.25 817.00v1.5M465.25 885.00v-1.5M468.20 817.00v1.5M468.20 885.00v-1.5M471.15 817.00v1.5M471.15 885.00v-1.5M474.10 817.00v1.5M474.10 885.00v-1.5M477.05 817.00v1.5M477.05 885.00v-1.5M480.00 817.00v1.5M480.00 885.00v-1.5M373.80 885.00h3.0M481.20 885.00h-3.0M373.80 881.60h1.5M481.20 881.60h-1.5M373.80 878.20h1.5M481.20 878.20h-1.5M373.80 874.80h1.5M481.20 874.80h-1.5M373.80 871.40h1.5M481.20 871.40h-1.5M373.80 868.00h3.0M481.20 868.00h-3.0M373.80 864.60h1.5M481.20 864.60h-1.5M373.80 861.20h1.5M481.20 861.20h-1.5M373.80 857.80h1.5M481.20 857.80h-1.5M373.80 854.40h1.5M481.20 854.40h-1.5M373.80 851.00h3.0M481.20 851.00h-3.0M373.80 847.60h1.5M481.20 847.60h-1.5M373.80 844.20h1.5M481.20 844.20h-1.5M373.80 840.80h1.5M481.20 840.80h-1.5M373.80 837.40h1.5M481.20 837.40h-1.5M373.80 834.00h3.0M481.20 834.00h-3.0M373.80 830.60h1.5M481.20 830.60h-1.5M373.80 827.20h1.5M481.20 827.20h-1.5M373.80 823.80h1.5M481.20 823.80h-1.5M373.80 820.40h1.5M481.20 820.40h-1.5M373.80 817.00h3.0M481.20 817.00h-3.0"/><rect class="box" x="373.80" y="817.00" width="107.4" height="68"/><line class="zl" x1="373.80" y1="851.00" x2="481.20" y2="851.00"/><path class="dm" d="M385.1 858.2l3.2 3.2-3.2 3.2-3.2-3.2zM387.2 873.7l3.2 3.2-3.2 3.2-3.2-3.2zM389.2 851.5l3.2 3.2-3.2 3.2-3.2-3.2zM390.6 838.6l3.2 3.2-3.2 3.2-3.2-3.2zM392.2 841.1l3.2 3.2-3.2 3.2-3.2-3.2zM393.8 843.5l3.2 3.2-3.2 3.2-3.2-3.2zM399.9 839.0l3.2 3.2-3.2 3.2-3.2-3.2zM401.9 845.5l3.2 3.2-3.2 3.2-3.2-3.2zM433.6 840.0l3.2 3.2-3.2 3.2-3.2-3.2zM435.0 845.5l3.2 3.2-3.2 3.2-3.2-3.2zM437.0 847.5l3.2 3.2-3.2 3.2-3.2-3.2zM438.6 851.1l3.2 3.2-3.2 3.2-3.2-3.2zM440.2 852.1l3.2 3.2-3.2 3.2-3.2-3.2zM441.0 868.3l3.2 3.2-3.2 3.2-3.2-3.2zM442.2 854.8l3.2 3.2-3.2 3.2-3.2-3.2zM444.2 849.1l3.2 3.2-3.2 3.2-3.2-3.2zM446.3 849.5l3.2 3.2-3.2 3.2-3.2-3.2zM447.7 844.1l3.2 3.2-3.2 3.2-3.2-3.2zM449.1 840.0l3.2 3.2-3.2 3.2-3.2-3.2zM450.7 841.1l3.2 3.2-3.2 3.2-3.2-3.2zM452.3 842.1l3.2 3.2-3.2 3.2-3.2-3.2zM453.7 841.1l3.2 3.2-3.2 3.2-3.2-3.2z"/><path class="tk" d="M486.70 817.00v3.0M486.70 885.00v-3.0M489.65 817.00v1.5M489.65 885.00v-1.5M492.60 817.00v1.5M492.60 885.00v-1.5M495.55 817.00v1.5M495.55 885.00v-1.5M498.50 817.00v1.5M498.50 885.00v-1.5M501.45 817.00v1.5M501.45 885.00v-1.5M504.40 817.00v1.5M504.40 885.00v-1.5M507.35 817.00v1.5M507.35 885.00v-1.5M510.30 817.00v1.5M510.30 885.00v-1.5M513.25 817.00v1.5M513.25 885.00v-1.5M516.20 817.00v3.0M516.20 885.00v-3.0M519.15 817.00v1.5M519.15 885.00v-1.5M522.10 817.00v1.5M522.10 885.00v-1.5M525.05 817.00v1.5M525.05 885.00v-1.5M528.00 817.00v1.5M528.00 885.00v-1.5M530.95 817.00v1.5M530.95 885.00v-1.5M533.90 817.00v1.5M533.90 885.00v-1.5M536.85 817.00v1.5M536.85 885.00v-1.5M539.80 817.00v1.5M539.80 885.00v-1.5M542.75 817.00v1.5M542.75 885.00v-1.5M545.70 817.00v3.0M545.70 885.00v-3.0M548.65 817.00v1.5M548.65 885.00v-1.5M551.60 817.00v1.5M551.60 885.00v-1.5M554.55 817.00v1.5M554.55 885.00v-1.5M557.50 817.00v1.5M557.50 885.00v-1.5M560.45 817.00v1.5M560.45 885.00v-1.5M563.40 817.00v1.5M563.40 885.00v-1.5M566.35 817.00v1.5M566.35 885.00v-1.5M569.30 817.00v1.5M569.30 885.00v-1.5M572.25 817.00v1.5M572.25 885.00v-1.5M575.20 817.00v3.0M575.20 885.00v-3.0M578.15 817.00v1.5M578.15 885.00v-1.5M581.10 817.00v1.5M581.10 885.00v-1.5M584.05 817.00v1.5M584.05 885.00v-1.5M587.00 817.00v1.5M587.00 885.00v-1.5M589.95 817.00v1.5M589.95 885.00v-1.5M592.90 817.00v1.5M592.90 885.00v-1.5M486.70 885.00h3.0M594.10 885.00h-3.0M486.70 881.60h1.5M594.10 881.60h-1.5M486.70 878.20h1.5M594.10 878.20h-1.5M486.70 874.80h1.5M594.10 874.80h-1.5M486.70 871.40h1.5M594.10 871.40h-1.5M486.70 868.00h3.0M594.10 868.00h-3.0M486.70 864.60h1.5M594.10 864.60h-1.5M486.70 861.20h1.5M594.10 861.20h-1.5M486.70 857.80h1.5M594.10 857.80h-1.5M486.70 854.40h1.5M594.10 854.40h-1.5M486.70 851.00h3.0M594.10 851.00h-3.0M486.70 847.60h1.5M594.10 847.60h-1.5M486.70 844.20h1.5M594.10 844.20h-1.5M486.70 840.80h1.5M594.10 840.80h-1.5M486.70 837.40h1.5M594.10 837.40h-1.5M486.70 834.00h3.0M594.10 834.00h-3.0M486.70 830.60h1.5M594.10 830.60h-1.5M486.70 827.20h1.5M594.10 827.20h-1.5M486.70 823.80h1.5M594.10 823.80h-1.5M486.70 820.40h1.5M594.10 820.40h-1.5M486.70 817.00h3.0M594.10 817.00h-3.0"/><rect class="box" x="486.70" y="817.00" width="107.4" height="68"/><line class="zl" x1="486.70" y1="851.00" x2="594.10" y2="851.00"/><path class="dm" d="M489.2 855.4l3.2 3.2-3.2 3.2-3.2-3.2zM492.4 847.3l3.2 3.2-3.2 3.2-3.2-3.2zM494.3 840.8l3.2 3.2-3.2 3.2-3.2-3.2zM496.2 842.7l3.2 3.2-3.2 3.2-3.2-3.2zM506.7 854.5l3.2 3.2-3.2 3.2-3.2-3.2zM508.6 856.0l3.2 3.2-3.2 3.2-3.2-3.2zM544.7 827.9l3.2 3.2-3.2 3.2-3.2-3.2zM553.2 849.2l3.2 3.2-3.2 3.2-3.2-3.2zM555.1 872.5l3.2 3.2-3.2 3.2-3.2-3.2zM557.0 857.9l3.2 3.2-3.2 3.2-3.2-3.2zM558.4 845.4l3.2 3.2-3.2 3.2-3.2-3.2zM560.8 849.2l3.2 3.2-3.2 3.2-3.2-3.2zM562.7 844.6l3.2 3.2-3.2 3.2-3.2-3.2zM564.6 842.1l3.2 3.2-3.2 3.2-3.2-3.2zM566.0 834.5l3.2 3.2-3.2 3.2-3.2-3.2z"/></svg><div class="t" style="left:23.0px;top:5.0px;font-size:27.0px;">(a)</div><div class="t" style="left:84.5px;top:7.5px;font-size:15.5px;letter-spacing:.21px">Yearly maps, Compton-Getting and Survival Probability corrected</div><div class="t" style="left:102.0px;top:32.6px;font-size:14.2px;width:0;display:flex;justify-content:center">0.7 keV</div><div class="t" style="left:211.5px;top:32.6px;font-size:14.2px;width:0;display:flex;justify-content:center">1.1 keV</div><div class="t" style="left:321.5px;top:32.6px;font-size:14.2px;width:0;display:flex;justify-content:center">1.7 keV</div><div class="t" style="left:430.2px;top:32.6px;font-size:14.2px;width:0;display:flex;justify-content:center">2.7 keV</div><div class="t" style="left:539.6px;top:32.6px;font-size:14.2px;width:0;display:flex;justify-content:center">4.3 keV</div><div class="t" style="left:66.3px;top:497.1px;font-size:10px;width:0;display:flex;justify-content:center">0</div><div class="t" style="left:99.8px;top:497.1px;font-size:10px;width:0;display:flex;justify-content:center">250</div><div class="t" style="left:133.3px;top:497.1px;font-size:10px;width:0;display:flex;justify-content:center">500</div><div class="t" style="left:175.9px;top:497.1px;font-size:10px;width:0;display:flex;justify-content:center">0</div><div class="t" style="left:209.4px;top:497.1px;font-size:10px;width:0;display:flex;justify-content:center">125</div><div class="t" style="left:242.9px;top:497.1px;font-size:10px;width:0;display:flex;justify-content:center">250</div><div class="t" style="left:285.1px;top:497.1px;font-size:10px;width:0;display:flex;justify-content:center">0</div><div class="t" style="left:318.6px;top:497.1px;font-size:10px;width:0;display:flex;justify-content:center">55</div><div class="t" style="left:352.1px;top:497.1px;font-size:10px;width:0;display:flex;justify-content:center">110</div><div class="t" style="left:394.6px;top:497.1px;font-size:10px;width:0;display:flex;justify-content:center">0</div><div class="t" style="left:428.1px;top:497.1px;font-size:10px;width:0;display:flex;justify-content:center">25</div><div class="t" style="left:461.6px;top:497.1px;font-size:10px;width:0;display:flex;justify-content:center">50</div><div class="t" style="left:504.1px;top:497.1px;font-size:10px;width:0;display:flex;justify-content:center">0</div><div class="t" style="left:537.6px;top:497.1px;font-size:10px;width:0;display:flex;justify-content:center">7.5</div><div class="t" style="left:571.1px;top:497.1px;font-size:10px;width:0;display:flex;justify-content:center">15</div><div class="t" style="left:216.5px;top:516.5px;font-size:12.2px;">Differential Flux [ENAs/(cm<sup style="font-size:7px;vertical-align:4px;line-height:0">2</sup> s sr keV)]</div><div class="t" style="left:23.0px;top:528.0px;font-size:28.0px;">(b)</div><div class="t" style="left:252.0px;top:547.0px;font-size:12.0px;">Circularity fits residual plots</div><div class="t" style="left:91.8px;top:564.5px;font-size:11.3px;width:0;display:flex;justify-content:center">0.7 keV</div><div class="t" style="left:206.2px;top:564.5px;font-size:11.3px;width:0;display:flex;justify-content:center">1.1 keV</div><div class="t" style="left:318.0px;top:564.5px;font-size:11.3px;width:0;display:flex;justify-content:center">1.7 keV</div><div class="t" style="left:430.0px;top:564.5px;font-size:11.3px;width:0;display:flex;justify-content:center">2.7 keV</div><div class="t" style="left:543.0px;top:564.5px;font-size:11.3px;width:0;display:flex;justify-content:center">4.3 keV</div><div class="t" style="left:0;width:30.6px;text-align:right;top:573.2px;font-size:9.4px">10</div><div class="t" style="left:0;width:30.6px;text-align:right;top:590.2px;font-size:9.4px">5</div><div class="t" style="left:0;width:30.6px;text-align:right;top:607.2px;font-size:9.4px">0</div><div class="t" style="left:0;width:30.6px;text-align:right;top:624.2px;font-size:9.4px">-5</div><div class="t" style="left:0;width:30.6px;text-align:right;top:641.2px;font-size:9.4px">-10</div><div class="t" style="left:0;width:30.6px;text-align:right;top:652.8px;font-size:9.4px">10</div><div class="t" style="left:0;width:30.6px;text-align:right;top:669.8px;font-size:9.4px">5</div><div class="t" style="left:0;width:30.6px;text-align:right;top:686.8px;font-size:9.4px">0</div><div class="t" style="left:0;width:30.6px;text-align:right;top:703.8px;font-size:9.4px">-5</div><div class="t" style="left:0;width:30.6px;text-align:right;top:720.8px;font-size:9.4px">-10</div><div class="t" style="left:0;width:30.6px;text-align:right;top:732.8px;font-size:9.4px">10</div><div class="t" style="left:0;width:30.6px;text-align:right;top:749.8px;font-size:9.4px">5</div><div class="t" style="left:0;width:30.6px;text-align:right;top:766.8px;font-size:9.4px">0</div><div class="t" style="left:0;width:30.6px;text-align:right;top:783.8px;font-size:9.4px">-5</div><div class="t" style="left:0;width:30.6px;text-align:right;top:800.8px;font-size:9.4px">-10</div><div class="t" style="left:0;width:30.6px;text-align:right;top:812.1px;font-size:9.4px">10</div><div class="t" style="left:0;width:30.6px;text-align:right;top:829.1px;font-size:9.4px">5</div><div class="t" style="left:0;width:30.6px;text-align:right;top:846.1px;font-size:9.4px">0</div><div class="t" style="left:0;width:30.6px;text-align:right;top:863.1px;font-size:9.4px">-5</div><div class="t" style="left:0;width:30.6px;text-align:right;top:880.1px;font-size:9.4px">-10</div><div class="t" style="left:35.1px;top:887.6px;font-size:9.8px;width:0;display:flex;justify-content:center">0</div><div class="t" style="left:64.6px;top:887.6px;font-size:9.8px;width:0;display:flex;justify-content:center">100</div><div class="t" style="left:94.1px;top:887.6px;font-size:9.8px;width:0;display:flex;justify-content:center">200</div><div class="t" style="left:123.6px;top:887.6px;font-size:9.8px;width:0;display:flex;justify-content:center">300</div><div class="t" style="left:77.1px;top:900.8px;font-size:9.55px;width:0;display:flex;justify-content:center">Polar angle [deg]</div><div class="t" style="left:148.0px;top:887.6px;font-size:9.8px;width:0;display:flex;justify-content:center">0</div><div class="t" style="left:177.5px;top:887.6px;font-size:9.8px;width:0;display:flex;justify-content:center">100</div><div class="t" style="left:207.0px;top:887.6px;font-size:9.8px;width:0;display:flex;justify-content:center">200</div><div class="t" style="left:236.5px;top:887.6px;font-size:9.8px;width:0;display:flex;justify-content:center">300</div><div class="t" style="left:190.0px;top:900.8px;font-size:9.55px;width:0;display:flex;justify-content:center">Polar angle [deg]</div><div class="t" style="left:260.9px;top:887.6px;font-size:9.8px;width:0;display:flex;justify-content:center">0</div><div class="t" style="left:290.4px;top:887.6px;font-size:9.8px;width:0;display:flex;justify-content:center">100</div><div class="t" style="left:319.9px;top:887.6px;font-size:9.8px;width:0;display:flex;justify-content:center">200</div><div class="t" style="left:349.4px;top:887.6px;font-size:9.8px;width:0;display:flex;justify-content:center">300</div><div class="t" style="left:302.9px;top:900.8px;font-size:9.55px;width:0;display:flex;justify-content:center">Polar angle [deg]</div><div class="t" style="left:373.8px;top:887.6px;font-size:9.8px;width:0;display:flex;justify-content:center">0</div><div class="t" style="left:403.3px;top:887.6px;font-size:9.8px;width:0;display:flex;justify-content:center">100</div><div class="t" style="left:432.8px;top:887.6px;font-size:9.8px;width:0;display:flex;justify-content:center">200</div><div class="t" style="left:462.3px;top:887.6px;font-size:9.8px;width:0;display:flex;justify-content:center">300</div><div class="t" style="left:415.8px;top:900.8px;font-size:9.55px;width:0;display:flex;justify-content:center">Polar angle [deg]</div><div class="t" style="left:486.7px;top:887.6px;font-size:9.8px;width:0;display:flex;justify-content:center">0</div><div class="t" style="left:516.2px;top:887.6px;font-size:9.8px;width:0;display:flex;justify-content:center">100</div><div class="t" style="left:545.7px;top:887.6px;font-size:9.8px;width:0;display:flex;justify-content:center">200</div><div class="t" style="left:575.2px;top:887.6px;font-size:9.8px;width:0;display:flex;justify-content:center">300</div><div class="t" style="left:528.7px;top:900.8px;font-size:9.55px;width:0;display:flex;justify-content:center">Polar angle [deg]</div><div class="rot" style="left:9px;top:102.5px;font-size:13.0px;font-weight:bold;width:100px;text-align:center;margin-top:50px">2009 - 2011</div><div class="rot" style="left:26.1px;top:100.3px;font-size:9px;width:100px;text-align:center;margin-top:50px">Orbits 11-150a</div><div class="rot" style="left:9px;top:208.4px;font-size:13.3px;font-weight:bold;width:100px;text-align:center;margin-top:50px">2012-2013</div><div class="rot" style="left:24.9px;top:207.3px;font-size:9px;width:100px;text-align:center;margin-top:50px">Orbits 150b-230b</div><div class="rot" style="left:9px;top:322.3px;font-size:13.3px;font-weight:bold;width:100px;text-align:center;margin-top:50px">2014-2015</div><div class="rot" style="left:24.9px;top:321.5px;font-size:9px;width:100px;text-align:center;margin-top:50px">Orbits 231a-310b</div><div class="rot" style="left:9px;top:436.6px;font-size:13.3px;font-weight:bold;width:100px;text-align:center;margin-top:50px">2016-2017</div><div class="rot" style="left:24.9px;top:435.0px;font-size:9px;width:100px;text-align:center;margin-top:50px">Orbits 311a-391a</div><div class="rot" style="left:1.8px;top:612.1px;font-size:9.1px;width:80px;text-align:center;margin-top:40px">Residuals</div><div class="rot" style="left:12.6px;top:612.1px;font-size:7.0px;width:80px;text-align:center;margin-top:40px">(2009 - 2011)</div><div class="rot" style="left:1.8px;top:691.7px;font-size:9.1px;width:80px;text-align:center;margin-top:40px">Residuals</div><div class="rot" style="left:12.6px;top:691.7px;font-size:7.0px;width:80px;text-align:center;margin-top:40px">(2012 - 2013)</div><div class="rot" style="left:1.8px;top:771.7px;font-size:9.1px;width:80px;text-align:center;margin-top:40px">Residuals</div><div class="rot" style="left:12.6px;top:771.7px;font-size:7.0px;width:80px;text-align:center;margin-top:40px">(2014 - 2015)</div><div class="rot" style="left:1.8px;top:851.0px;font-size:9.1px;width:80px;text-align:center;margin-top:40px">Residuals</div><div class="rot" style="left:12.6px;top:851.0px;font-size:7.0px;width:80px;text-align:center;margin-top:40px">(2016 - 2017)</div></body></html>
